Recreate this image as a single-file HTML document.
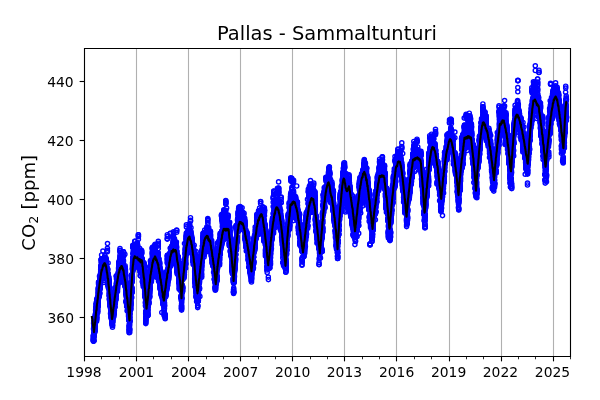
<!DOCTYPE html><html><head><meta charset="utf-8"><style>html,body{margin:0;padding:0;background:#fff}svg{display:block;will-change:transform}text{font-family:"DejaVu Sans","Liberation Sans",sans-serif;fill:#000}</style></head><body>
<svg width="600" height="400" viewBox="0 0 600 400">
<rect width="600" height="400" fill="#fff"/>
<defs><clipPath id="ax"><rect x="84" y="48" width="486" height="308"/></clipPath>
<marker id="c" markerUnits="userSpaceOnUse" markerWidth="8" markerHeight="8" refX="4" refY="4" overflow="visible"><circle cx="4" cy="4" r="2.083" fill="none" stroke="#00f" stroke-width="1.389"/></marker></defs>
<path d="M136.5 48V356" stroke="#b0b0b0" stroke-width="1.111"/>
<path d="M188.5 48V356" stroke="#b0b0b0" stroke-width="1.111"/>
<path d="M240.5 48V356" stroke="#b0b0b0" stroke-width="1.111"/>
<path d="M292.5 48V356" stroke="#b0b0b0" stroke-width="1.111"/>
<path d="M344.5 48V356" stroke="#b0b0b0" stroke-width="1.111"/>
<path d="M396.5 48V356" stroke="#b0b0b0" stroke-width="1.111"/>
<path d="M449.5 48V356" stroke="#b0b0b0" stroke-width="1.111"/>
<path d="M501.5 48V356" stroke="#b0b0b0" stroke-width="1.111"/>
<path d="M553.5 48V356" stroke="#b0b0b0" stroke-width="1.111"/>
<g clip-path="url(#ax)"><path d="M93.3 335.9 93.3 339.8 93.3 338.2 93.3 336.1 93.4 340.8 93.4 340.4 93.4 338.2 93.5 341.2 93.5 341.0 93.5 339.6 93.6 323.2 93.6 329.3 93.6 328.4 93.7 333.9 93.7 335.5 93.7 337.8 93.7 334.8 93.8 333.6 93.8 334.4 93.8 334.9 93.8 337.7 93.8 336.2 93.9 340.7 93.9 333.4 93.9 336.5 93.9 336.0 93.9 328.3 93.9 328.4 93.9 326.3 93.9 327.1 93.9 335.8 94.0 340.5 94.0 334.6 94.0 329.1 94.0 330.2 94.1 329.0 94.1 332.6 94.1 322.3 94.1 321.4 94.2 323.7 94.2 321.5 94.2 321.3 94.2 319.8 94.2 328.7 94.3 325.3 94.3 327.9 94.3 327.5 94.4 321.0 94.5 322.6 94.5 326.2 94.5 324.1 94.6 323.0 94.6 321.8 94.7 322.0 94.7 321.1 94.7 320.9 94.7 321.5 94.7 325.4 94.7 325.8 94.7 325.1 94.8 326.6 94.8 332.2 94.9 331.5 94.9 330.4 94.9 325.2 94.9 323.0 95.0 327.7 95.0 318.7 95.0 316.6 95.1 327.5 95.1 328.1 95.1 328.1 95.1 322.8 95.1 319.6 95.1 319.9 95.2 323.1 95.2 330.1 95.2 329.7 95.3 327.0 95.3 326.6 95.3 324.8 95.3 328.8 95.3 326.0 95.4 319.5 95.4 314.2 95.4 315.5 95.5 320.3 95.5 319.3 95.5 319.8 95.6 313.8 95.6 310.3 95.6 316.0 95.6 314.8 95.7 317.8 95.7 319.4 95.7 312.4 95.8 316.1 95.8 317.1 95.8 317.1 95.8 313.7 95.8 311.5 95.8 315.1 95.9 320.3 95.9 319.6 95.9 320.0 95.9 320.9 96.0 318.2 96.0 318.6 96.0 320.9 96.0 311.6 96.0 307.3 96.1 309.5 96.1 309.6 96.1 310.7 96.1 309.0 96.1 310.2 96.1 310.8 96.1 307.0 96.2 307.4 96.2 304.6 96.2 310.5 96.3 304.5 96.3 302.5 96.3 307.7 96.3 304.6 96.3 308.2 96.4 303.4 96.4 308.8 96.4 312.2 96.4 311.7 96.4 309.4 96.4 310.0 96.4 307.3 96.4 309.0 96.5 315.2 96.5 316.9 96.5 314.8 96.5 320.2 96.6 319.5 96.6 318.3 96.6 318.3 96.6 318.9 96.6 321.3 96.7 316.9 96.7 316.7 96.7 314.4 96.7 314.3 96.7 305.8 96.7 299.7 96.7 305.5 96.8 309.9 96.9 304.9 96.9 309.8 96.9 305.1 96.9 302.9 96.9 306.0 96.9 306.2 96.9 308.8 97.0 301.6 97.0 299.5 97.0 305.5 97.0 302.2 97.0 302.2 97.1 299.1 97.1 306.7 97.1 306.2 97.2 306.1 97.2 302.6 97.2 301.8 97.2 300.9 97.2 303.5 97.3 308.7 97.3 310.6 97.3 310.7 97.4 307.9 97.4 301.6 97.4 297.9 97.4 299.1 97.4 298.5 97.5 300.5 97.5 301.8 97.6 302.3 97.7 306.3 97.7 306.8 97.7 310.6 97.7 311.1 97.8 305.6 97.8 303.3 97.8 312.6 97.8 303.4 97.8 302.8 97.9 303.9 97.9 302.5 97.9 306.4 97.9 306.2 97.9 308.5 98.0 300.5 98.0 300.8 98.0 305.7 98.0 298.8 98.1 296.6 98.1 297.5 98.1 298.3 98.1 303.0 98.1 300.3 98.2 293.2 98.2 295.2 98.2 290.8 98.2 289.8 98.3 288.6 98.3 287.7 98.4 294.0 98.4 292.5 98.4 292.2 98.4 296.2 98.4 296.7 98.5 297.0 98.5 295.6 98.5 293.1 98.5 282.3 98.6 284.6 98.6 283.6 98.6 294.8 98.6 296.9 98.7 291.8 98.7 297.9 98.8 282.1 98.9 287.3 98.9 286.5 98.9 288.7 99.0 288.0 99.0 287.3 99.0 291.3 99.1 290.9 99.1 289.7 99.1 287.6 99.2 290.9 99.2 289.2 99.2 293.8 99.2 291.6 99.3 296.6 99.3 286.0 99.3 282.4 99.4 284.2 99.4 285.8 99.4 292.7 99.4 290.1 99.4 289.8 99.5 284.6 99.5 276.2 99.6 289.0 99.6 285.3 99.7 289.2 99.7 287.8 99.7 293.3 99.7 292.6 99.7 294.0 99.7 285.9 99.7 286.6 99.8 286.9 99.8 285.6 99.8 286.4 99.8 286.2 99.8 286.2 99.8 281.4 99.9 280.4 99.9 285.2 99.9 284.6 99.9 286.1 99.9 284.9 100.0 282.0 100.0 282.8 100.1 283.0 100.1 285.2 100.1 288.2 100.1 289.0 100.2 286.5 100.2 279.6 100.2 284.1 100.2 277.9 100.2 280.2 100.2 281.8 100.2 281.8 100.2 282.8 100.3 280.9 100.3 278.5 100.3 277.5 100.3 278.7 100.3 278.9 100.3 281.2 100.3 283.2 100.3 276.8 100.3 281.9 100.3 276.2 100.4 279.1 100.4 274.1 100.4 278.2 100.5 279.3 100.5 279.8 100.5 275.4 100.6 278.9 100.6 276.8 100.6 273.9 100.7 270.9 100.7 272.1 100.7 269.5 100.7 271.7 100.8 272.1 100.8 271.0 100.8 267.6 100.8 273.3 100.8 273.9 100.8 272.4 100.8 274.1 100.8 279.2 100.9 274.1 100.9 274.8 100.9 273.4 101.0 273.3 101.0 270.7 101.0 272.8 101.0 266.3 101.0 259.8 101.1 265.8 101.1 269.7 101.1 267.5 101.2 265.2 101.2 265.7 101.2 267.5 101.2 269.9 101.2 271.3 101.3 262.6 101.3 262.3 101.3 270.7 101.3 270.5 101.3 272.6 101.4 270.4 101.4 265.8 101.4 269.5 101.4 267.6 101.4 266.3 101.4 268.9 101.5 266.2 101.5 260.2 101.5 259.4 101.5 259.7 101.5 259.4 101.6 255.0 101.6 260.7 101.6 258.9 101.7 271.4 101.7 272.7 101.7 274.6 101.7 266.8 101.7 272.1 101.7 274.5 101.8 262.9 101.9 262.4 101.9 270.9 101.9 265.5 101.9 270.7 101.9 276.1 102.0 277.9 102.0 275.3 102.0 276.8 102.0 273.7 102.0 274.7 102.1 274.4 102.1 275.8 102.1 271.7 102.2 272.7 102.2 273.6 102.2 277.1 102.3 273.0 102.3 274.0 102.3 274.6 102.3 274.5 102.4 276.3 102.4 278.8 102.4 275.8 102.4 279.3 102.4 275.0 102.4 273.3 102.4 272.6 102.4 273.6 102.4 274.3 102.5 273.9 102.5 268.5 102.5 272.9 102.5 272.1 102.5 270.9 102.5 270.6 102.6 267.5 102.6 264.6 102.6 265.7 102.6 272.7 102.7 271.7 102.7 273.7 102.7 274.0 102.7 273.9 102.7 275.5 102.7 278.0 102.8 270.2 102.8 271.1 102.8 274.0 102.8 270.6 102.8 271.8 102.9 272.7 102.9 260.1 102.9 261.2 102.9 262.1 102.9 251.1 103.0 258.5 103.1 262.8 103.1 263.8 103.2 264.4 103.2 269.0 103.2 270.2 103.2 268.0 103.3 265.6 103.3 264.6 103.4 266.5 103.5 258.7 103.6 275.4 103.6 270.3 103.7 282.4 103.7 280.6 103.8 269.6 103.8 268.7 103.8 271.3 103.8 269.3 103.8 267.8 103.8 269.1 103.9 267.5 103.9 268.4 103.9 273.1 104.0 271.6 104.0 269.3 104.0 272.1 104.0 271.1 104.0 267.1 104.0 264.2 104.0 264.8 104.1 263.4 104.1 265.0 104.1 264.7 104.1 263.8 104.2 263.9 104.2 264.4 104.2 260.7 104.2 260.4 104.3 257.5 104.3 259.1 104.3 262.4 104.4 264.8 104.4 263.8 104.4 261.2 104.4 263.9 104.4 264.8 104.4 262.9 104.4 264.6 104.4 260.2 104.4 262.5 104.4 259.8 104.5 264.9 104.5 269.1 104.5 259.0 104.5 260.2 104.5 262.9 104.6 267.3 104.6 264.9 104.6 266.0 104.6 267.0 104.6 266.9 104.6 265.2 104.6 263.7 104.6 264.2 104.7 263.4 104.7 264.9 104.7 266.6 104.7 265.4 104.7 269.0 104.8 265.6 104.8 255.5 104.8 257.1 104.8 259.7 104.8 258.8 104.9 257.4 104.9 260.5 104.9 260.2 104.9 260.9 104.9 264.0 104.9 259.6 105.0 269.5 105.0 267.4 105.0 266.4 105.1 269.3 105.1 263.8 105.1 260.3 105.2 266.4 105.2 271.5 105.2 268.6 105.3 267.7 105.3 269.2 105.3 267.3 105.3 269.2 105.3 262.0 105.3 262.1 105.4 259.8 105.4 264.2 105.5 258.6 105.5 262.7 105.5 265.0 105.5 264.3 105.5 266.6 105.5 262.7 105.6 264.2 105.6 265.2 105.6 272.0 105.6 272.2 105.6 263.4 105.7 262.5 105.7 261.1 105.7 263.3 105.7 262.4 105.7 259.2 105.8 258.1 105.8 260.0 105.8 262.6 105.8 258.8 105.8 262.4 105.8 258.0 105.9 259.5 105.9 262.8 105.9 263.9 105.9 262.6 105.9 265.3 105.9 261.2 105.9 265.2 105.9 264.0 105.9 264.6 106.0 267.3 106.0 263.5 106.0 264.9 106.0 265.0 106.1 262.0 106.1 259.9 106.1 261.3 106.1 261.5 106.1 261.4 106.2 263.7 106.2 262.5 106.2 265.5 106.2 265.5 106.2 266.6 106.3 267.5 106.3 268.4 106.3 271.7 106.3 270.8 106.3 262.8 106.4 263.7 106.5 268.3 106.5 266.3 106.5 272.7 106.6 273.2 106.6 274.7 106.6 271.9 106.6 269.7 106.6 268.8 106.6 267.0 106.6 270.2 106.6 270.4 106.7 269.8 106.7 270.4 106.7 270.6 106.7 272.5 106.7 272.0 106.7 273.6 106.8 267.7 106.8 271.6 106.8 270.3 106.8 272.5 106.8 275.8 106.9 277.8 106.9 278.7 106.9 275.9 107.0 272.7 107.0 275.0 107.0 274.9 107.0 273.8 107.0 277.3 107.0 274.6 107.1 276.5 107.1 273.5 107.1 270.5 107.1 267.9 107.2 270.7 107.2 269.1 107.2 274.2 107.2 273.8 107.3 275.5 107.3 275.5 107.3 275.0 107.4 251.7 107.4 248.3 107.4 250.3 107.5 243.6 107.6 273.2 107.6 276.5 107.6 279.3 107.7 281.6 107.7 282.3 107.8 284.8 107.8 281.3 107.8 278.9 107.8 279.1 107.9 281.9 107.9 281.4 107.9 274.5 107.9 277.1 107.9 278.3 107.9 273.8 107.9 279.4 107.9 276.5 108.0 273.1 108.0 269.5 108.1 263.0 108.2 277.4 108.2 278.8 108.2 285.0 108.3 278.1 108.3 276.5 108.3 274.4 108.4 277.7 108.4 282.2 108.4 280.7 108.4 283.2 108.4 285.0 108.5 284.3 108.5 286.1 108.5 287.9 108.5 286.1 108.5 287.6 108.5 285.8 108.5 285.8 108.6 285.9 108.6 286.8 108.6 287.6 108.6 287.1 108.6 287.7 108.7 285.2 108.7 287.7 108.7 283.4 108.7 284.5 108.7 280.8 108.8 286.7 108.8 286.0 108.9 287.3 108.9 286.5 108.9 287.5 109.0 285.0 109.0 284.3 109.0 277.3 109.1 281.0 109.1 283.9 109.1 281.4 109.1 282.1 109.1 282.1 109.1 282.7 109.1 292.7 109.2 288.7 109.2 286.3 109.2 290.1 109.2 296.1 109.3 287.8 109.3 284.9 109.3 279.8 109.3 282.1 109.4 289.9 109.4 294.6 109.4 295.8 109.5 298.8 109.5 299.6 109.5 293.5 109.5 295.0 109.5 299.2 109.6 298.4 109.6 300.7 109.6 295.9 109.6 290.3 109.7 291.3 109.8 296.7 109.8 297.4 109.8 299.8 109.8 298.5 109.8 301.1 109.9 298.0 109.9 299.4 109.9 302.7 110.0 301.5 110.0 302.7 110.0 300.7 110.0 303.7 110.0 306.1 110.0 305.4 110.1 298.7 110.1 299.1 110.1 296.6 110.1 294.5 110.2 293.5 110.2 293.8 110.2 291.5 110.3 298.0 110.3 294.6 110.3 294.9 110.3 296.2 110.3 293.6 110.3 292.9 110.3 296.9 110.3 298.3 110.3 300.4 110.3 298.2 110.4 299.0 110.5 306.1 110.5 308.2 110.5 313.6 110.6 306.3 110.6 307.9 110.6 306.8 110.7 307.8 110.7 303.7 110.7 304.5 110.7 306.2 110.7 307.1 110.7 306.0 110.7 311.0 110.8 307.0 110.9 312.0 110.9 310.6 110.9 308.0 110.9 307.5 111.0 305.9 111.0 305.0 111.0 307.8 111.1 303.9 111.1 305.2 111.1 309.6 111.1 312.2 111.1 313.7 111.1 310.2 111.1 314.4 111.2 316.2 111.2 310.8 111.2 317.8 111.3 317.2 111.3 317.1 111.3 315.2 111.3 317.0 111.3 314.1 111.3 312.6 111.3 310.2 111.3 309.5 111.3 311.9 111.4 309.7 111.4 310.8 111.4 309.3 111.4 306.6 111.4 304.7 111.4 303.9 111.4 306.6 111.4 304.8 111.5 309.3 111.5 306.2 111.5 310.1 111.5 306.7 111.5 311.3 111.5 312.2 111.5 313.1 111.5 318.8 111.5 318.3 111.6 319.5 111.6 305.8 111.6 301.5 111.6 306.2 111.6 309.7 111.7 302.2 111.7 308.8 111.8 309.6 111.8 315.4 111.8 312.9 111.8 313.2 111.8 321.3 111.9 321.1 111.9 322.7 111.9 319.4 112.0 324.4 112.0 316.5 112.1 316.2 112.1 312.7 112.1 316.5 112.1 317.3 112.1 319.5 112.1 322.5 112.2 320.1 112.2 321.4 112.3 322.4 112.3 320.3 112.3 319.8 112.3 322.9 112.4 320.6 112.4 324.1 112.5 321.7 112.5 325.4 112.5 327.3 112.5 325.0 112.5 325.5 112.6 320.5 112.6 322.1 112.6 322.3 112.6 318.1 112.6 317.7 112.6 322.3 112.7 319.5 112.7 318.2 112.7 319.2 112.8 320.1 112.8 314.2 112.8 313.4 112.9 314.2 112.9 307.1 113.0 311.2 113.0 313.1 113.0 313.1 113.0 310.8 113.0 309.3 113.2 309.3 113.2 311.5 113.2 308.8 113.2 306.3 113.3 306.4 113.3 306.1 113.3 305.2 113.3 306.3 113.4 313.0 113.4 312.9 113.4 311.8 113.5 303.2 113.5 306.8 113.5 307.2 113.5 302.3 113.5 309.6 113.6 308.5 113.7 312.9 113.7 311.9 113.7 312.2 113.7 307.6 113.7 305.7 113.7 312.2 113.7 311.4 113.8 315.8 113.8 314.1 113.8 316.8 113.8 313.8 113.8 313.6 113.9 311.9 113.9 306.7 113.9 306.9 113.9 304.5 113.9 308.9 113.9 308.0 114.0 306.3 114.0 309.0 114.0 311.9 114.1 314.1 114.1 308.4 114.1 308.8 114.1 307.3 114.1 308.6 114.1 308.5 114.1 308.2 114.1 306.8 114.2 309.9 114.2 308.0 114.2 308.7 114.3 301.8 114.3 308.1 114.3 303.3 114.3 303.5 114.3 307.5 114.3 306.3 114.3 305.2 114.4 305.1 114.4 301.3 114.4 303.4 114.4 310.4 114.4 306.4 114.5 301.0 114.5 302.8 114.5 303.8 114.6 300.5 114.6 300.3 114.6 300.3 114.7 300.2 114.7 301.6 114.8 295.3 114.8 297.7 114.8 301.4 114.8 287.9 114.9 291.0 114.9 292.9 114.9 298.5 115.0 302.2 115.0 306.7 115.0 307.0 115.1 298.1 115.1 294.4 115.1 295.4 115.2 299.3 115.2 296.6 115.2 298.7 115.2 302.1 115.2 303.2 115.3 303.1 115.3 303.5 115.4 297.9 115.4 300.1 115.5 301.5 115.5 295.1 115.5 296.9 115.6 296.1 115.6 299.4 115.6 295.0 115.6 298.5 115.7 298.5 115.7 299.6 115.7 291.7 115.7 296.2 115.8 293.4 115.8 288.4 115.8 289.5 115.8 290.9 115.8 293.0 115.9 289.6 115.9 291.7 115.9 299.6 115.9 297.4 116.0 294.3 116.1 295.4 116.1 292.7 116.1 295.4 116.1 291.5 116.1 292.2 116.2 293.9 116.2 295.1 116.2 292.5 116.2 291.4 116.3 289.2 116.3 284.5 116.4 276.0 116.4 276.5 116.4 278.8 116.4 275.9 116.4 282.7 116.5 283.7 116.5 285.6 116.6 288.7 116.6 286.6 116.6 289.7 116.6 287.8 116.7 286.9 116.7 290.2 116.7 289.4 116.7 286.6 116.7 285.4 116.8 284.2 116.8 284.0 116.8 283.7 116.9 279.0 116.9 286.6 116.9 285.9 116.9 284.2 116.9 284.5 117.0 285.7 117.0 286.1 117.0 285.9 117.0 287.5 117.0 288.3 117.0 285.0 117.0 286.5 117.1 285.0 117.1 285.9 117.1 285.5 117.2 284.0 117.3 280.8 117.3 282.7 117.3 289.3 117.3 286.9 117.4 286.9 117.4 290.3 117.4 287.7 117.4 286.4 117.5 288.9 117.5 291.5 117.5 288.5 117.5 285.2 117.5 285.9 117.6 283.3 117.6 281.5 117.6 286.7 117.6 282.9 117.6 284.5 117.6 282.9 117.6 281.8 117.6 283.8 117.7 282.5 117.7 283.5 117.8 284.5 117.8 283.5 117.8 280.9 117.8 282.7 118.0 281.7 118.1 277.4 118.1 277.3 118.1 276.7 118.1 280.7 118.2 273.0 118.3 277.6 118.3 277.2 118.3 277.5 118.4 272.5 118.4 275.6 118.5 275.9 118.5 276.3 118.5 278.5 118.5 278.8 118.5 272.9 118.5 275.7 118.6 272.4 118.6 275.1 118.6 268.7 118.6 273.0 118.6 270.2 118.6 267.8 118.7 277.2 118.7 275.0 118.7 278.1 118.7 275.3 118.8 266.5 118.8 264.5 118.8 263.8 118.8 262.7 118.8 262.1 118.9 262.7 118.9 263.6 118.9 273.0 118.9 273.7 118.9 274.7 118.9 274.2 119.0 273.2 119.0 271.3 119.0 269.7 119.0 274.2 119.0 269.2 119.0 271.0 119.0 279.1 119.1 282.0 119.1 277.4 119.1 275.3 119.1 276.2 119.3 272.7 119.3 275.7 119.3 271.6 119.3 275.0 119.3 270.3 119.3 274.3 119.4 275.3 119.4 272.5 119.4 264.2 119.4 267.8 119.4 265.5 119.5 262.3 119.5 267.7 119.5 260.2 119.5 264.0 119.6 265.8 119.6 268.4 119.6 272.4 119.7 273.5 119.7 273.7 119.7 270.6 119.7 263.6 119.7 265.0 119.8 263.1 119.8 264.6 119.8 261.8 119.8 266.6 119.9 252.0 119.9 255.5 119.9 258.1 120.0 250.4 120.0 250.5 120.0 248.5 120.1 260.2 120.1 264.7 120.1 264.0 120.2 257.1 120.2 266.8 120.2 262.7 120.2 264.9 120.3 265.5 120.3 267.3 120.3 262.5 120.4 264.1 120.4 263.4 120.4 266.7 120.4 264.0 120.4 258.1 120.4 261.9 120.4 258.5 120.4 266.2 120.4 266.0 120.5 270.2 120.5 270.9 120.6 270.7 120.6 271.7 120.6 274.5 120.6 269.4 120.6 272.6 120.7 259.5 120.7 260.2 120.7 263.2 120.8 262.8 120.8 274.4 120.8 272.1 120.8 272.6 120.8 272.3 120.8 270.6 120.9 268.1 120.9 268.2 120.9 269.1 120.9 270.1 120.9 273.2 121.0 270.1 121.0 267.6 121.0 271.0 121.0 265.1 121.1 277.2 121.1 273.1 121.1 273.7 121.1 275.0 121.1 272.5 121.1 273.7 121.1 270.7 121.2 270.4 121.2 268.9 121.2 266.9 121.2 269.1 121.2 260.4 121.3 259.8 121.3 257.8 121.3 259.2 121.3 258.4 121.3 258.3 121.4 260.5 121.5 260.5 121.5 266.3 121.5 263.1 121.5 265.5 121.5 261.4 121.5 262.3 121.5 262.7 121.6 259.9 121.6 260.9 121.7 252.5 121.7 253.9 121.7 254.0 121.7 254.2 121.7 262.1 121.8 262.9 121.8 263.0 121.8 259.8 121.8 255.2 121.8 256.2 121.9 256.6 121.9 258.2 121.9 257.1 122.0 263.6 122.0 264.9 122.0 266.7 122.1 265.1 122.1 266.4 122.1 264.8 122.1 263.9 122.1 263.0 122.2 260.9 122.2 260.4 122.2 267.8 122.2 267.6 122.2 269.0 122.2 267.4 122.2 270.5 122.2 270.3 122.2 268.4 122.3 272.7 122.3 266.4 122.3 269.8 122.3 271.5 122.4 271.2 122.5 269.6 122.5 266.4 122.5 265.9 122.6 266.2 122.6 268.7 122.7 263.4 122.7 263.6 122.7 264.8 122.7 266.4 122.7 266.5 122.8 264.6 122.8 268.0 122.8 263.1 122.8 264.4 122.9 270.3 122.9 271.9 123.0 259.5 123.0 262.2 123.1 271.4 123.1 271.6 123.2 271.0 123.2 266.8 123.2 268.3 123.3 270.4 123.3 269.6 123.3 269.8 123.3 271.9 123.3 266.6 123.3 266.6 123.3 272.4 123.3 267.9 123.4 262.1 123.4 251.8 123.4 251.7 123.5 252.1 123.5 260.6 123.6 256.1 123.6 256.0 123.7 271.4 123.7 274.8 123.7 270.5 123.7 273.3 123.7 272.0 123.7 271.9 123.7 272.0 123.7 270.3 123.8 267.2 123.8 267.3 123.8 270.9 123.8 268.6 123.8 271.6 123.8 275.3 123.9 278.0 123.9 279.7 123.9 276.4 123.9 282.6 123.9 282.9 123.9 283.0 124.0 279.2 124.0 278.9 124.0 276.9 124.0 280.6 124.0 280.0 124.0 279.5 124.0 277.9 124.1 277.8 124.1 279.1 124.1 269.9 124.2 271.7 124.2 273.6 124.2 273.7 124.2 274.5 124.2 269.5 124.2 272.2 124.3 269.2 124.3 279.2 124.3 277.3 124.3 278.8 124.3 277.5 124.3 277.3 124.3 276.0 124.4 280.4 124.4 283.6 124.4 282.5 124.4 273.5 124.4 276.2 124.5 279.3 124.5 277.9 124.5 278.1 124.5 281.5 124.6 282.2 124.6 283.1 124.6 282.1 124.6 283.3 124.6 277.0 124.6 283.4 124.7 279.5 124.7 276.0 124.7 282.4 124.7 285.0 124.7 284.3 124.7 283.2 124.7 283.9 124.8 286.0 124.8 285.7 124.9 254.2 125.0 275.2 125.0 274.7 125.0 267.5 125.1 269.8 125.1 267.8 125.1 270.5 125.1 265.7 125.1 273.9 125.1 275.5 125.2 278.7 125.2 278.4 125.2 273.3 125.2 274.9 125.2 273.3 125.3 274.5 125.3 275.9 125.3 273.5 125.3 273.3 125.3 275.4 125.3 277.3 125.3 281.7 125.4 271.9 125.5 270.0 125.5 272.6 125.5 275.2 125.6 288.3 125.6 281.3 125.6 286.3 125.6 282.4 125.7 283.5 125.7 286.2 125.7 282.6 125.7 281.9 125.7 279.6 125.7 287.1 125.7 284.9 125.7 284.6 125.7 280.9 125.7 283.8 125.8 282.3 125.8 277.9 125.8 284.3 125.8 284.7 125.9 291.7 125.9 291.6 125.9 286.5 125.9 288.8 125.9 290.2 125.9 289.2 126.0 292.7 126.0 290.5 126.0 293.0 126.0 291.0 126.1 293.7 126.1 296.4 126.2 302.1 126.2 301.5 126.2 300.3 126.2 301.8 126.2 293.4 126.2 292.9 126.2 295.2 126.2 292.3 126.3 294.6 126.3 288.8 126.3 288.8 126.3 283.6 126.4 283.7 126.4 283.9 126.4 294.8 126.4 293.4 126.5 302.4 126.5 302.1 126.5 303.4 126.5 301.4 126.6 301.1 126.7 301.4 126.7 306.3 126.7 305.1 126.7 298.2 126.7 300.6 126.7 299.6 126.7 302.0 126.7 298.9 126.8 305.6 126.8 306.3 126.8 304.8 126.9 302.4 126.9 298.9 126.9 301.6 126.9 303.7 126.9 302.8 127.0 301.0 127.0 301.0 127.0 303.6 127.0 303.0 127.0 299.3 127.0 298.7 127.0 304.4 127.0 302.0 127.1 310.8 127.1 306.6 127.2 296.3 127.2 296.3 127.2 290.2 127.3 288.1 127.3 285.8 127.4 285.6 127.4 287.8 127.4 286.7 127.4 285.3 127.4 295.4 127.4 286.3 127.4 293.4 127.4 291.9 127.4 289.3 127.5 292.0 127.5 297.7 127.6 297.4 127.7 304.1 127.7 301.4 127.7 303.2 127.7 305.9 127.8 309.6 127.8 310.5 127.8 310.3 127.8 306.0 127.8 309.3 127.9 295.4 127.9 291.7 127.9 300.0 127.9 301.5 127.9 301.0 127.9 301.5 128.0 302.3 128.0 305.1 128.0 301.5 128.0 304.1 128.1 302.7 128.1 300.5 128.1 301.4 128.1 308.6 128.1 307.2 128.2 307.5 128.2 305.6 128.2 303.4 128.2 306.8 128.2 301.5 128.2 305.7 128.3 300.5 128.3 305.0 128.3 304.3 128.3 305.8 128.4 302.3 128.4 301.3 128.4 302.6 128.4 307.7 128.4 302.9 128.4 303.5 128.4 305.1 128.4 308.0 128.4 304.7 128.5 307.3 128.5 313.7 128.5 301.7 128.6 315.4 128.6 316.3 128.7 317.2 128.7 320.0 128.7 316.8 128.7 316.0 128.8 311.1 128.9 313.1 128.9 313.6 128.9 316.8 128.9 313.8 128.9 313.9 128.9 314.2 128.9 316.5 129.0 319.6 129.0 320.1 129.0 320.2 129.2 329.8 129.2 326.4 129.2 328.6 129.2 329.8 129.2 326.8 129.2 332.2 129.2 330.7 129.2 332.7 129.4 326.1 129.4 323.7 129.4 325.1 129.4 313.3 129.4 315.0 129.4 313.7 129.5 312.8 129.6 323.6 129.6 327.9 129.6 325.2 129.7 330.1 129.7 320.6 129.8 320.7 129.8 329.6 129.8 332.2 129.9 321.2 129.9 321.8 129.9 320.2 129.9 317.4 129.9 317.6 130.0 313.6 130.0 310.7 130.0 314.6 130.1 303.9 130.1 309.3 130.1 308.3 130.1 304.6 130.1 305.5 130.2 301.3 130.2 300.8 130.3 307.0 130.3 308.3 130.3 303.6 130.4 308.3 130.4 307.8 130.4 305.2 130.4 303.4 130.5 306.3 130.5 302.7 130.5 302.2 130.5 310.3 130.5 306.6 130.5 309.7 130.5 309.7 130.5 307.4 130.6 296.8 130.6 298.7 130.6 298.6 130.7 304.0 130.7 309.1 130.8 305.4 130.8 305.0 130.8 308.0 130.8 301.6 130.8 303.1 130.8 304.5 130.8 303.7 130.9 294.3 130.9 292.4 130.9 295.9 131.0 296.2 131.0 301.9 131.0 293.0 131.0 297.3 131.0 299.8 131.2 290.9 131.2 287.1 131.2 276.0 131.2 275.1 131.2 285.7 131.3 281.8 131.3 282.6 131.3 284.6 131.3 284.7 131.3 287.4 131.3 285.1 131.3 289.7 131.3 290.9 131.3 290.5 131.4 290.9 131.4 288.1 131.4 292.6 131.4 291.0 131.4 290.4 131.5 290.3 131.5 292.4 131.5 287.9 131.5 291.8 131.5 288.1 131.5 286.7 131.6 292.3 131.6 290.6 131.6 289.3 131.6 288.2 131.6 291.5 131.6 293.4 131.6 291.9 131.7 288.5 131.7 288.2 131.7 290.7 131.7 292.3 131.7 289.7 131.8 297.6 131.8 291.9 131.8 292.6 131.9 287.9 131.9 292.3 132.0 281.5 132.1 281.7 132.1 282.0 132.1 276.7 132.2 279.5 132.2 276.9 132.3 276.7 132.3 276.3 132.3 278.2 132.3 275.1 132.3 278.6 132.3 277.5 132.4 277.2 132.4 279.1 132.5 267.9 132.5 269.0 132.5 269.1 132.5 263.6 132.5 266.5 132.6 268.5 132.6 270.1 132.6 265.1 132.6 265.5 132.6 262.2 132.7 267.1 132.7 269.7 132.7 271.7 132.7 247.3 132.8 246.8 132.8 246.0 132.8 246.8 132.8 245.3 132.8 258.3 132.8 259.4 132.8 253.7 132.8 257.6 132.8 261.2 132.9 265.6 132.9 262.9 132.9 262.3 132.9 264.9 132.9 262.5 132.9 264.9 133.0 261.4 133.0 260.0 133.0 262.9 133.1 261.2 133.1 259.6 133.1 264.9 133.1 269.4 133.1 269.9 133.1 265.7 133.1 268.6 133.2 265.4 133.2 264.7 133.2 265.0 133.2 261.6 133.2 264.8 133.3 259.3 133.3 260.1 133.3 258.4 133.3 259.9 133.3 257.2 133.4 257.8 133.4 256.8 133.5 258.6 133.5 255.2 133.5 257.9 133.5 247.6 133.5 249.2 133.6 250.7 133.6 252.0 133.6 251.9 133.6 251.0 133.6 251.6 133.6 250.7 133.6 249.2 133.6 248.8 133.6 251.3 133.6 252.7 133.7 252.9 133.7 250.3 133.7 254.4 133.7 253.5 133.7 253.7 133.8 255.3 133.8 252.1 133.8 258.3 133.8 260.7 133.8 253.6 133.9 254.8 133.9 253.0 133.9 256.2 133.9 254.5 133.9 257.9 134.0 255.4 134.0 256.2 134.0 253.2 134.0 255.6 134.0 255.4 134.1 257.6 134.1 256.1 134.1 259.3 134.1 259.8 134.2 261.2 134.2 264.9 134.2 263.5 134.2 262.2 134.2 261.3 134.2 257.8 134.2 255.6 134.2 261.0 134.3 263.7 134.3 254.3 134.3 255.0 134.3 258.0 134.4 260.1 134.4 259.1 134.4 259.9 134.4 260.6 134.4 260.0 134.4 259.7 134.4 258.6 134.5 260.4 134.5 258.9 134.5 260.5 134.5 259.3 134.6 256.7 134.6 255.6 134.6 256.4 134.6 253.5 134.6 254.9 134.6 255.3 134.6 255.9 134.6 255.0 134.7 244.5 134.7 241.4 134.7 244.7 134.8 250.0 134.8 246.9 134.8 250.0 134.9 253.3 134.9 252.6 135.0 247.7 135.1 251.8 135.1 252.0 135.1 253.0 135.1 241.3 135.2 247.6 135.2 246.7 135.2 247.5 135.2 251.8 135.3 250.2 135.3 252.2 135.3 255.7 135.3 253.7 135.4 256.6 135.4 250.2 135.4 252.8 135.4 252.4 135.4 256.7 135.4 249.0 135.4 254.8 135.4 256.4 135.5 264.4 135.6 250.7 135.6 253.3 135.6 256.0 135.7 252.0 135.7 257.3 135.7 255.7 135.7 260.6 135.9 260.5 135.9 258.9 135.9 254.8 136.0 259.6 136.0 254.2 136.0 251.5 136.0 253.5 136.0 253.5 136.1 256.5 136.1 258.3 136.2 261.5 136.2 259.1 136.2 259.4 136.2 259.8 136.2 258.0 136.3 256.8 136.3 266.5 136.3 262.2 136.3 262.1 136.3 261.8 136.4 259.0 136.4 259.1 136.4 254.0 136.4 255.8 136.4 252.0 136.5 254.4 136.5 255.2 136.5 255.3 136.6 253.9 136.6 259.5 136.6 259.6 136.6 259.2 136.7 247.1 136.7 250.2 136.7 243.5 136.7 252.5 136.8 257.1 136.9 258.6 136.9 262.8 136.9 259.5 137.0 264.2 137.0 261.6 137.0 263.0 137.0 259.4 137.0 263.4 137.0 265.7 137.0 257.8 137.0 257.1 137.1 257.8 137.1 254.3 137.1 259.0 137.2 251.7 137.3 250.8 137.3 244.8 137.3 244.3 137.3 242.6 137.3 250.7 137.3 249.8 137.4 249.9 137.4 251.2 137.4 252.1 137.4 252.0 137.4 253.4 137.4 253.9 137.5 250.1 137.5 246.0 137.5 246.4 137.5 245.4 137.5 244.3 137.6 261.0 137.7 256.4 137.7 253.7 137.7 255.1 137.8 253.9 137.8 257.3 137.8 255.1 137.8 255.2 137.9 253.2 138.1 264.5 138.1 262.8 138.1 260.6 138.1 260.5 138.1 265.0 138.1 263.9 138.2 257.7 138.2 258.6 138.2 258.2 138.2 256.9 138.3 260.3 138.3 261.9 138.3 263.6 138.3 262.3 138.4 264.3 138.4 239.3 138.4 236.8 138.4 234.9 138.4 236.3 138.4 234.7 138.5 268.1 138.5 261.9 138.5 263.7 138.5 265.5 138.5 261.8 138.6 261.8 138.6 256.4 138.7 256.5 138.7 255.9 138.7 255.1 138.8 255.5 138.8 252.2 138.8 255.6 138.8 257.1 138.9 256.6 138.9 253.3 138.9 252.1 138.9 254.9 138.9 252.7 138.9 257.1 139.0 261.4 139.0 257.7 139.0 256.1 139.0 258.3 139.1 258.5 139.1 253.6 139.2 254.8 139.2 259.2 139.2 255.5 139.2 258.6 139.3 258.3 139.3 259.1 139.3 258.9 139.3 257.5 139.3 254.5 139.3 254.6 139.4 255.0 139.4 254.6 139.4 255.1 139.4 260.9 139.5 252.2 139.5 254.6 139.6 252.2 139.6 254.7 139.6 248.4 139.6 250.2 139.7 250.4 139.7 251.9 139.8 260.5 139.8 254.2 139.8 257.2 139.8 260.8 139.8 258.8 139.8 253.0 139.9 255.0 139.9 256.1 139.9 258.4 139.9 259.7 139.9 258.3 140.0 258.1 140.0 265.4 140.0 268.9 140.1 275.6 140.2 268.9 140.2 269.0 140.2 267.2 140.2 268.2 140.2 268.7 140.2 267.6 140.2 269.0 140.2 271.6 140.2 269.8 140.3 268.5 140.3 268.1 140.3 266.2 140.3 267.3 140.3 266.4 140.3 266.2 140.3 264.1 140.3 265.4 140.4 272.1 140.4 272.5 140.4 271.3 140.4 269.7 140.5 266.3 140.5 271.9 140.6 276.1 140.6 265.3 140.6 266.7 140.6 265.7 140.6 268.1 140.7 264.7 140.7 266.1 140.7 267.3 140.7 267.9 140.8 271.1 140.8 268.4 140.8 264.9 140.9 267.0 140.9 265.4 140.9 262.6 140.9 264.4 140.9 260.9 141.0 260.6 141.0 253.6 141.1 255.2 141.1 254.7 141.1 255.4 141.1 257.6 141.1 256.7 141.1 258.8 141.1 260.1 141.2 261.9 141.2 259.6 141.3 258.8 141.3 256.5 141.3 256.2 141.3 256.4 141.3 260.4 141.3 259.1 141.4 251.9 141.4 263.6 141.4 265.0 141.5 266.1 141.5 263.5 141.5 263.0 141.5 253.9 141.5 250.2 141.5 253.7 141.5 252.0 141.5 253.2 141.5 253.3 141.5 253.4 141.6 260.7 141.6 266.1 141.6 262.8 141.7 260.4 141.7 269.7 141.8 263.8 141.8 268.0 141.8 268.1 141.8 251.2 141.9 258.3 141.9 259.1 142.0 261.5 142.0 262.5 142.0 260.5 142.0 259.1 142.0 258.7 142.1 261.4 142.1 265.0 142.1 268.0 142.2 262.2 142.2 260.5 142.3 262.4 142.3 263.4 142.3 265.7 142.3 267.4 142.3 271.5 142.3 268.5 142.4 272.1 142.4 274.5 142.4 275.4 142.4 272.3 142.4 274.4 142.4 281.8 142.5 278.2 142.5 281.5 142.5 272.6 142.6 271.7 142.6 272.5 142.6 268.9 142.7 262.0 142.7 266.6 142.8 263.3 142.8 262.1 142.9 264.9 142.9 264.4 142.9 264.1 143.0 269.0 143.0 279.3 143.0 278.5 143.0 276.4 143.0 278.4 143.1 268.8 143.1 269.4 143.1 272.2 143.1 272.4 143.1 272.6 143.2 282.8 143.2 284.1 143.2 286.4 143.2 284.4 143.3 277.7 143.3 280.8 143.3 281.7 143.3 277.1 143.3 277.7 143.4 270.6 143.4 270.5 143.4 277.3 143.4 276.4 143.4 275.4 143.4 276.4 143.5 270.1 143.5 267.8 143.5 271.0 143.5 270.0 143.5 279.1 143.6 280.7 143.6 276.9 143.6 276.3 143.6 278.9 143.6 282.0 143.6 281.9 143.7 279.4 143.7 280.9 143.7 279.7 143.8 279.8 143.8 278.2 143.8 286.0 143.8 285.0 143.8 284.2 143.8 279.8 143.8 282.1 143.8 280.0 143.9 282.2 143.9 274.1 144.0 278.8 144.0 271.1 144.0 270.5 144.0 271.1 144.0 262.9 144.0 264.9 144.0 265.0 144.1 268.4 144.1 273.3 144.1 275.6 144.1 276.3 144.1 273.7 144.2 275.1 144.2 263.8 144.2 267.3 144.2 266.6 144.2 269.5 144.3 273.7 144.3 271.4 144.3 275.2 144.3 274.9 144.4 277.3 144.4 284.2 144.4 281.0 144.4 285.0 144.5 284.6 144.5 283.2 144.5 283.6 144.5 281.4 144.5 281.3 144.5 286.8 144.6 289.5 144.6 285.5 144.6 287.9 144.7 293.2 144.7 290.1 144.7 291.3 144.7 294.6 144.8 296.2 144.8 294.2 144.8 296.7 144.8 292.9 144.9 288.0 144.9 287.9 144.9 284.3 145.0 285.8 145.0 282.3 145.0 286.2 145.0 284.9 145.0 285.6 145.0 289.3 145.0 286.7 145.1 289.0 145.2 289.8 145.2 290.0 145.2 294.8 145.2 295.8 145.3 288.8 145.3 287.8 145.3 287.7 145.3 287.3 145.3 290.4 145.4 292.2 145.4 295.2 145.5 301.7 145.5 298.8 145.5 303.3 145.5 305.8 145.6 305.8 145.6 303.2 145.6 302.3 145.6 295.9 145.6 298.3 145.6 295.3 145.7 313.7 145.7 312.9 145.8 311.9 145.8 323.6 145.8 322.7 145.8 321.4 145.8 313.3 145.8 313.1 145.8 317.2 145.9 320.0 145.9 316.9 145.9 318.4 145.9 320.2 145.9 317.0 146.0 299.4 146.0 312.1 146.0 311.2 146.1 298.8 146.1 301.7 146.2 301.5 146.2 305.2 146.2 302.9 146.2 303.6 146.2 304.7 146.3 292.2 146.4 292.6 146.4 292.3 146.4 296.7 146.4 297.8 146.4 297.3 146.4 295.6 146.5 293.9 146.5 309.8 146.5 311.2 146.5 312.3 146.6 309.1 146.6 308.4 146.6 312.8 146.6 307.8 146.6 308.8 146.6 314.9 146.6 313.6 146.7 312.6 146.7 311.8 146.7 312.4 146.7 309.0 146.7 310.3 146.8 305.4 146.8 310.9 146.9 305.1 146.9 303.7 146.9 305.2 146.9 305.1 146.9 306.7 146.9 307.3 147.0 306.1 147.0 306.3 147.0 301.1 147.0 305.0 147.0 302.1 147.1 303.9 147.1 304.2 147.1 302.4 147.2 313.6 147.2 315.1 147.3 310.3 147.3 309.1 147.3 313.1 147.3 308.5 147.3 307.2 147.3 309.7 147.3 312.2 147.4 313.5 147.4 311.0 147.4 311.9 147.4 310.6 147.4 313.2 147.4 311.9 147.5 305.4 147.5 302.3 147.5 304.4 147.6 306.1 147.6 303.5 147.7 309.1 147.7 315.7 147.8 315.0 147.8 310.1 147.8 313.4 147.8 313.0 147.8 311.5 147.8 315.5 147.9 306.4 147.9 305.9 147.9 303.7 147.9 302.4 147.9 304.9 147.9 304.2 148.0 306.1 148.0 309.5 148.0 314.9 148.1 301.9 148.1 296.9 148.1 302.9 148.1 298.7 148.2 306.1 148.2 305.2 148.3 306.5 148.3 303.0 148.4 299.5 148.4 304.0 148.4 293.2 148.5 287.7 148.5 293.0 148.5 290.1 148.5 287.9 148.6 284.3 148.6 285.1 148.6 278.5 148.7 275.7 148.8 281.7 148.8 287.1 148.8 283.3 148.9 281.4 148.9 285.2 149.0 285.8 149.0 293.1 149.0 290.2 149.0 288.2 149.1 301.9 149.1 303.4 149.1 298.0 149.1 296.4 149.2 294.9 149.2 293.3 149.2 297.4 149.2 294.7 149.2 294.1 149.2 290.3 149.3 283.0 149.3 281.3 149.3 280.1 149.3 280.9 149.3 284.2 149.3 284.0 149.3 282.8 149.4 291.2 149.4 287.6 149.4 286.3 149.5 286.6 149.5 283.2 149.5 283.1 149.5 284.9 149.5 285.7 149.5 283.0 149.5 289.9 149.6 273.2 149.6 266.7 149.6 273.1 149.6 271.3 149.6 271.2 149.7 272.1 149.7 273.8 149.7 273.1 149.7 273.4 149.7 283.0 149.7 288.1 149.7 289.7 149.7 288.6 149.7 288.4 149.8 285.5 149.8 295.8 149.8 293.4 149.9 297.1 149.9 292.2 149.9 285.2 149.9 287.4 149.9 281.7 150.0 280.1 150.0 290.2 150.0 289.5 150.0 287.3 150.0 279.3 150.1 279.1 150.1 278.2 150.1 278.2 150.1 275.8 150.1 281.8 150.1 276.8 150.1 277.9 150.1 276.2 150.2 280.6 150.2 283.4 150.3 282.8 150.3 280.8 150.3 269.4 150.4 271.6 150.4 271.9 150.4 267.6 150.4 267.5 150.4 268.8 150.5 261.6 150.5 260.6 150.5 264.9 150.6 272.4 150.6 272.4 150.6 273.4 150.6 273.1 150.6 273.1 150.6 272.8 150.6 277.4 150.7 273.1 150.7 272.5 150.7 271.4 150.7 275.4 150.7 275.6 150.7 279.2 150.8 269.7 150.8 270.6 150.8 272.1 150.9 281.1 150.9 269.7 150.9 269.9 150.9 267.7 151.0 267.6 151.0 269.6 151.1 265.3 151.1 261.9 151.2 264.0 151.2 262.0 151.2 266.3 151.2 275.5 151.2 273.6 151.3 275.3 151.3 274.7 151.3 275.4 151.3 280.4 151.3 275.7 151.3 279.7 151.4 280.4 151.4 277.2 151.4 281.7 151.4 276.6 151.4 274.8 151.4 274.9 151.4 277.2 151.4 274.1 151.4 276.0 151.4 265.8 151.4 265.2 151.5 267.1 151.5 269.4 151.5 272.6 151.5 269.3 151.5 279.3 151.5 274.6 151.6 278.1 151.6 273.0 151.7 269.8 151.7 273.3 151.7 270.6 151.7 266.0 151.7 267.0 151.8 269.8 151.8 265.1 151.8 267.4 151.8 269.0 151.8 268.2 151.8 270.7 151.9 264.9 151.9 268.8 151.9 263.7 151.9 271.2 152.0 265.1 152.1 263.1 152.1 266.1 152.2 264.2 152.2 269.4 152.2 252.6 152.3 254.3 152.3 257.9 152.3 260.6 152.4 255.0 152.4 247.6 152.4 249.2 152.4 248.1 152.5 249.8 152.5 251.7 152.5 248.4 152.5 247.5 152.6 256.2 152.6 253.8 152.6 252.5 152.6 257.2 152.6 253.6 152.7 262.0 152.8 258.5 152.8 257.8 152.8 257.2 152.9 251.9 152.9 251.8 152.9 255.4 152.9 255.4 153.0 250.1 153.0 252.0 153.0 253.6 153.0 253.0 153.0 248.3 153.1 251.6 153.1 252.4 153.1 260.5 153.2 269.6 153.2 268.3 153.3 259.9 153.3 259.8 153.3 255.9 153.3 257.5 153.4 259.4 153.4 256.8 153.4 253.8 153.4 250.0 153.5 252.1 153.5 250.6 153.5 251.4 153.5 252.0 153.6 253.5 153.6 255.7 153.6 255.7 153.6 261.0 153.6 252.4 153.7 257.7 153.7 255.7 153.7 256.8 153.8 260.7 153.8 257.5 153.8 255.1 153.8 252.0 153.9 264.1 153.9 260.8 153.9 261.4 153.9 256.9 153.9 256.4 153.9 259.1 154.0 262.5 154.0 262.4 154.1 250.9 154.1 250.0 154.1 249.9 154.2 245.8 154.2 246.6 154.2 248.1 154.2 248.9 154.2 258.2 154.2 261.9 154.2 265.2 154.2 257.3 154.3 254.4 154.3 256.2 154.3 253.8 154.3 260.5 154.3 258.0 154.3 259.8 154.4 255.2 154.4 253.9 154.5 266.9 154.5 265.8 154.5 265.4 154.5 265.6 154.5 265.3 154.5 265.4 154.5 261.6 154.6 266.0 154.6 256.6 154.6 254.7 154.6 255.8 154.6 256.7 154.7 255.9 154.7 252.9 154.7 255.6 154.7 253.7 154.7 257.5 154.7 260.4 154.7 262.6 154.7 261.6 154.8 262.5 154.8 254.1 154.8 253.8 154.8 249.6 154.9 251.2 154.9 252.0 154.9 252.5 154.9 253.4 154.9 252.5 154.9 256.7 154.9 252.2 155.0 256.9 155.0 261.5 155.0 261.7 155.1 244.3 155.1 249.9 155.1 246.4 155.1 248.7 155.1 247.9 155.2 245.6 155.3 247.9 155.3 251.3 155.3 255.5 155.3 254.4 155.5 255.4 155.5 258.1 155.5 255.4 155.5 256.4 155.5 251.6 155.5 253.3 155.5 255.4 155.5 253.0 155.6 253.4 155.6 252.1 155.6 255.5 155.6 253.2 155.6 256.6 155.6 256.9 155.7 259.8 155.7 260.3 155.7 258.9 155.8 261.6 155.8 262.7 155.8 265.0 155.8 265.0 155.8 260.0 155.8 269.0 155.9 269.9 155.9 267.4 155.9 265.7 155.9 268.6 156.0 271.6 156.0 274.9 156.0 267.8 156.0 274.0 156.0 277.1 156.1 276.0 156.1 268.2 156.1 270.4 156.1 267.6 156.2 265.5 156.3 262.9 156.3 266.6 156.3 266.2 156.3 262.4 156.3 259.0 156.4 260.2 156.4 260.0 156.4 262.4 156.4 261.4 156.4 261.8 156.5 262.3 156.5 253.3 156.5 258.0 156.5 256.5 156.6 262.7 156.6 263.7 156.6 260.1 156.6 263.7 156.6 267.5 156.8 261.8 156.8 262.0 156.8 268.8 156.8 269.8 156.8 269.8 156.8 269.8 156.9 263.5 156.9 263.5 156.9 264.0 156.9 261.6 156.9 258.0 157.0 260.7 157.1 257.3 157.1 260.1 157.1 256.4 157.1 267.6 157.2 263.5 157.2 264.2 157.2 265.7 157.2 267.4 157.2 264.2 157.3 270.6 157.3 275.5 157.3 270.8 157.3 272.8 157.4 270.2 157.4 262.2 157.4 265.9 157.4 258.5 157.4 260.5 157.5 270.2 157.5 266.0 157.5 271.8 157.5 263.6 157.5 258.3 157.5 256.9 157.5 258.1 157.6 264.4 157.6 262.2 157.6 262.0 157.6 261.1 157.6 260.3 157.7 257.0 157.7 256.9 157.7 256.4 157.7 254.2 157.7 255.7 157.8 253.4 157.8 259.5 157.8 255.8 157.8 257.5 157.8 256.5 157.8 265.3 157.8 264.5 157.9 262.5 157.9 261.2 157.9 259.8 157.9 259.6 157.9 262.4 157.9 263.9 158.0 278.1 158.0 277.1 158.0 261.2 158.1 260.9 158.1 256.0 158.1 256.2 158.1 254.3 158.1 256.7 158.2 260.8 158.2 262.5 158.2 262.4 158.2 261.8 158.2 257.1 158.2 257.4 158.3 248.6 158.3 244.9 158.3 244.2 158.3 243.2 158.3 241.4 158.3 245.9 158.3 252.7 158.3 256.9 158.4 258.2 158.4 264.6 158.5 263.3 158.5 272.9 158.5 273.6 158.5 281.1 158.6 276.9 158.6 275.7 158.6 277.1 158.6 279.0 158.6 278.5 158.7 274.3 158.7 272.5 158.7 273.8 158.7 275.3 158.8 269.9 158.8 264.4 158.8 259.1 158.8 259.9 158.8 262.5 158.8 258.7 158.9 264.2 158.9 263.7 158.9 262.6 159.0 266.6 159.0 265.0 159.0 268.2 159.0 271.0 159.0 268.5 159.1 263.9 159.1 271.8 159.1 271.4 159.2 273.5 159.2 277.5 159.2 281.9 159.2 280.4 159.2 276.7 159.2 279.6 159.2 277.0 159.3 268.9 159.3 269.5 159.3 264.9 159.3 271.2 159.4 273.4 159.4 271.4 159.5 274.7 159.5 280.3 159.5 282.2 159.6 276.0 159.6 273.8 159.7 262.4 159.7 263.2 159.7 268.6 159.7 267.7 159.8 270.0 159.8 264.9 159.8 271.3 159.9 267.9 159.9 269.5 160.0 267.9 160.0 271.5 160.0 269.9 160.0 270.3 160.0 273.3 160.0 273.9 160.1 285.8 160.2 284.7 160.2 283.4 160.2 285.4 160.2 287.4 160.2 281.7 160.3 288.4 160.3 289.1 160.4 288.0 160.4 285.0 160.4 286.4 160.4 279.3 160.5 281.6 160.5 286.5 160.5 283.9 160.5 287.0 160.5 289.3 160.5 286.2 160.5 289.2 160.5 289.5 160.5 287.8 160.7 277.2 160.7 274.5 160.7 274.8 160.7 270.7 160.7 275.3 160.7 270.8 160.7 275.4 160.7 273.7 160.8 278.6 160.8 275.2 160.8 277.2 160.8 275.7 160.8 276.7 160.8 273.0 160.9 286.1 160.9 282.2 160.9 275.6 161.0 281.1 161.0 278.6 161.0 293.7 161.0 292.4 161.0 294.7 161.1 279.9 161.1 281.2 161.1 272.8 161.1 281.8 161.1 282.2 161.1 282.4 161.2 277.7 161.2 281.1 161.3 282.2 161.3 284.0 161.4 292.3 161.4 293.7 161.4 289.2 161.5 288.0 161.5 281.9 161.5 281.8 161.5 273.1 161.5 274.4 161.5 272.6 161.6 284.6 161.6 283.7 161.6 276.4 161.7 281.1 161.7 281.3 161.7 282.6 161.7 280.3 161.7 282.0 161.8 293.0 161.8 293.1 161.8 293.8 161.8 291.4 161.8 312.5 161.8 288.2 161.9 288.2 161.9 287.6 161.9 297.1 161.9 291.9 161.9 290.9 162.0 289.0 162.0 290.4 162.0 291.0 162.0 288.3 162.0 288.9 162.1 292.9 162.1 294.9 162.2 296.0 162.2 297.1 162.2 296.3 162.3 294.6 162.3 289.6 162.3 285.6 162.3 292.6 162.3 287.8 162.3 289.6 162.3 291.7 162.3 293.2 162.3 292.8 162.4 291.3 162.4 299.2 162.4 294.4 162.5 296.1 162.5 297.0 162.5 291.3 162.6 289.3 162.6 280.5 162.6 276.8 162.7 287.8 162.7 287.0 162.8 297.0 162.8 290.3 162.9 304.1 162.9 300.5 163.0 303.2 163.1 301.5 163.1 296.3 163.1 302.1 163.2 304.8 163.2 304.1 163.2 295.0 163.2 299.3 163.2 296.8 163.2 296.9 163.2 294.8 163.2 290.7 163.3 294.5 163.3 287.6 163.3 288.6 163.4 287.2 163.4 284.2 163.4 284.0 163.4 284.0 163.4 283.4 163.5 288.0 163.6 290.8 163.6 289.2 163.7 283.8 163.7 288.1 163.7 288.2 163.7 285.8 163.8 287.0 163.8 287.4 163.9 293.5 163.9 294.4 163.9 290.4 163.9 296.7 164.0 298.7 164.0 298.1 164.0 304.9 164.0 309.7 164.0 306.6 164.0 306.2 164.1 300.8 164.1 314.1 164.1 315.4 164.1 312.8 164.2 310.9 164.2 308.7 164.2 298.7 164.2 297.0 164.2 306.9 164.2 299.7 164.2 303.9 164.3 304.9 164.3 293.8 164.3 288.6 164.3 293.4 164.3 293.0 164.3 292.2 164.3 302.9 164.3 300.2 164.4 302.3 164.4 300.0 164.4 293.7 164.5 293.6 164.5 290.6 164.5 291.3 164.5 303.4 164.5 305.0 164.5 308.5 164.5 306.2 164.5 305.7 164.6 290.3 164.6 291.5 164.6 286.0 164.6 297.9 164.7 295.1 164.7 291.9 164.7 295.4 164.7 280.2 164.7 278.5 164.7 292.3 164.7 292.3 164.8 291.3 164.8 291.4 164.8 287.8 164.8 289.6 164.8 287.5 164.8 283.9 164.8 288.3 164.9 287.7 164.9 290.9 164.9 288.3 164.9 290.5 164.9 286.3 165.0 282.1 165.0 290.2 165.0 290.4 165.0 288.4 165.1 290.0 165.1 289.6 165.1 293.3 165.1 284.9 165.1 282.0 165.1 283.4 165.1 316.9 165.2 314.4 165.2 315.1 165.2 318.8 165.2 316.3 165.2 317.9 165.2 289.5 165.2 291.6 165.2 286.7 165.3 291.1 165.3 289.1 165.3 290.9 165.3 292.4 165.4 290.7 165.4 289.2 165.4 283.0 165.5 292.4 165.5 286.2 165.6 288.7 165.6 285.2 165.6 286.9 165.6 285.8 165.6 287.9 165.6 295.3 165.6 295.1 165.7 293.5 165.7 294.6 165.7 296.7 165.8 294.4 165.8 296.0 165.8 295.6 165.8 289.2 165.8 287.3 165.8 290.5 165.9 289.1 165.9 294.0 165.9 291.9 165.9 292.9 165.9 284.1 166.0 285.3 166.0 284.0 166.1 274.2 166.1 276.4 166.1 277.4 166.1 275.3 166.1 281.1 166.1 283.0 166.1 280.7 166.2 283.1 166.2 275.1 166.3 275.1 166.3 278.4 166.3 275.8 166.3 275.1 166.3 275.6 166.3 272.4 166.3 275.1 166.3 275.2 166.4 277.2 166.4 274.9 166.4 275.6 166.4 279.6 166.5 281.6 166.5 280.1 166.5 275.2 166.6 276.8 166.6 281.6 166.6 280.8 166.7 279.4 166.7 284.6 166.7 277.9 166.7 278.5 166.8 272.5 166.8 271.8 166.8 275.4 166.8 279.1 166.8 275.8 166.9 278.8 167.0 287.8 167.0 289.8 167.0 287.5 167.0 279.1 167.0 281.6 167.0 280.6 167.0 279.9 167.1 282.5 167.1 281.8 167.2 277.2 167.2 287.4 167.2 286.5 167.2 287.5 167.2 285.6 167.2 270.8 167.3 239.1 167.3 234.7 167.3 238.8 167.4 236.6 167.4 263.3 167.4 262.7 167.4 262.1 167.4 255.4 167.4 259.2 167.4 259.6 167.4 260.8 167.5 255.8 167.5 258.1 167.5 255.2 167.5 258.1 167.5 256.3 167.5 259.6 167.5 256.2 167.5 257.2 167.6 269.2 167.6 272.6 167.6 272.5 167.6 272.7 167.7 270.5 167.7 272.3 167.7 279.0 167.7 280.6 167.7 282.4 167.7 281.4 167.8 280.0 167.8 275.4 167.9 276.4 167.9 276.9 167.9 285.0 167.9 282.6 167.9 281.0 168.0 277.6 168.1 277.6 168.1 277.7 168.1 278.9 168.2 275.7 168.2 276.5 168.3 271.6 168.3 269.6 168.4 275.5 168.4 274.6 168.4 272.8 168.4 268.1 168.4 264.3 168.4 267.4 168.4 265.4 168.5 268.9 168.5 267.0 168.5 269.5 168.5 269.0 168.6 268.9 168.6 269.0 168.6 269.4 168.6 264.2 168.6 265.1 168.6 264.6 168.7 274.5 168.7 272.5 168.7 274.3 168.7 275.1 168.7 275.4 168.8 272.7 168.9 277.0 168.9 279.0 168.9 272.3 168.9 276.2 169.0 269.4 169.0 261.7 169.0 263.2 169.0 264.4 169.0 254.7 169.1 259.0 169.1 260.4 169.1 267.1 169.1 272.2 169.2 265.6 169.2 266.5 169.2 266.3 169.2 265.3 169.2 260.5 169.3 260.3 169.3 262.8 169.3 262.2 169.3 265.3 169.3 263.3 169.3 263.0 169.4 263.0 169.4 255.1 169.4 258.9 169.4 260.6 169.5 263.4 169.6 263.8 169.6 260.6 169.6 265.4 169.6 264.4 169.8 259.9 169.8 262.2 169.8 261.9 169.9 264.1 169.9 265.8 169.9 264.3 169.9 253.1 170.0 256.9 170.0 254.4 170.1 262.2 170.1 262.4 170.2 259.7 170.2 258.1 170.2 254.6 170.2 259.3 170.3 233.4 170.3 233.5 170.4 248.3 170.4 252.3 170.4 248.1 170.5 253.1 170.5 257.4 170.5 258.3 170.6 255.8 170.7 259.3 170.7 266.2 170.7 262.1 170.7 260.4 170.8 256.7 170.8 256.8 170.8 261.2 170.8 259.3 170.8 256.9 170.8 259.1 170.8 257.8 170.8 256.6 170.9 256.2 170.9 257.4 170.9 258.7 171.0 258.1 171.0 252.8 171.0 256.9 171.0 257.6 171.1 257.9 171.1 263.1 171.1 261.5 171.1 262.3 171.1 261.3 171.1 259.6 171.1 258.6 171.1 257.3 171.1 256.2 171.2 261.3 171.2 255.7 171.2 253.3 171.2 256.9 171.3 255.5 171.3 258.0 171.3 256.6 171.3 258.7 171.4 257.6 171.4 256.8 171.4 259.2 171.4 257.2 171.4 250.1 171.4 248.6 171.4 249.5 171.5 255.4 171.5 251.7 171.5 247.3 171.6 249.0 171.6 247.5 171.6 247.2 171.7 246.1 171.7 250.7 171.7 254.8 171.7 254.1 171.7 260.4 171.7 259.5 171.8 256.2 171.8 258.5 171.8 264.3 171.8 261.5 171.8 257.1 171.9 255.0 171.9 256.6 171.9 255.1 171.9 255.4 171.9 255.9 171.9 256.6 171.9 254.9 171.9 256.6 171.9 246.6 171.9 252.4 171.9 249.0 172.0 248.3 172.0 247.9 172.0 246.8 172.0 254.8 172.0 256.6 172.1 257.2 172.1 257.9 172.2 255.8 172.2 259.5 172.2 258.9 172.2 258.7 172.2 260.3 172.2 261.3 172.2 259.9 172.2 260.8 172.3 250.8 172.3 252.4 172.3 252.7 172.3 252.9 172.4 262.4 172.4 261.2 172.4 256.4 172.5 251.7 172.5 254.4 172.5 254.0 172.6 255.5 172.6 257.8 172.7 258.7 172.7 259.5 172.7 260.1 172.7 253.6 172.8 260.7 172.8 257.0 172.9 253.4 172.9 250.4 172.9 251.0 172.9 254.1 172.9 254.6 172.9 250.4 173.0 253.2 173.0 246.7 173.0 248.3 173.0 248.4 173.0 245.5 173.0 243.7 173.0 250.8 173.0 238.0 173.1 237.5 173.1 236.9 173.1 236.5 173.1 235.8 173.1 244.3 173.2 245.8 173.2 236.1 173.3 244.3 173.3 241.2 173.3 239.7 173.4 243.1 173.4 245.2 173.4 241.4 173.4 242.6 173.4 244.8 173.4 241.8 173.4 244.5 173.4 241.6 173.4 242.7 173.5 233.4 173.5 236.8 173.5 234.8 173.5 231.7 173.6 232.8 173.6 251.8 173.6 250.6 173.7 251.0 173.7 252.1 173.7 251.7 173.7 247.3 173.7 249.4 173.7 248.2 173.8 256.1 173.8 257.0 173.8 252.6 173.9 255.9 173.9 255.8 173.9 248.0 173.9 253.1 173.9 253.1 173.9 254.2 173.9 253.4 173.9 252.7 173.9 256.1 173.9 255.0 174.0 253.0 174.0 251.9 174.0 251.4 174.0 253.9 174.0 260.3 174.0 263.3 174.1 259.2 174.1 258.0 174.1 254.7 174.1 255.4 174.1 250.4 174.1 255.8 174.2 253.0 174.2 257.4 174.3 244.9 174.3 247.1 174.4 246.3 174.4 247.7 174.4 248.4 174.5 251.3 174.5 258.3 174.5 238.7 174.6 240.7 174.6 241.9 174.6 242.3 174.6 246.5 174.7 252.5 174.7 255.0 174.7 256.8 174.7 256.0 174.7 247.5 174.8 249.0 174.8 250.4 174.8 245.5 174.9 250.7 174.9 248.5 174.9 248.4 174.9 256.2 174.9 257.0 174.9 248.5 175.0 247.7 175.0 245.4 175.0 249.9 175.0 246.7 175.0 243.6 175.0 245.8 175.0 245.8 175.1 250.2 175.2 250.5 175.2 248.6 175.2 254.2 175.3 253.5 175.3 251.9 175.4 253.0 175.4 242.7 175.5 254.0 175.5 248.0 175.5 250.9 175.5 249.8 175.5 249.2 175.5 253.3 175.5 247.3 175.5 248.5 175.6 245.9 175.6 251.1 175.6 243.7 175.6 243.6 175.7 248.2 175.7 246.1 175.7 245.2 175.7 246.6 175.8 248.6 175.8 245.6 175.8 248.6 175.9 247.4 175.9 251.4 175.9 252.9 175.9 253.6 176.0 246.4 176.0 248.3 176.0 248.0 176.0 247.6 176.0 251.3 176.0 250.1 176.0 244.8 176.0 247.0 176.0 247.9 176.0 246.9 176.1 250.3 176.1 255.0 176.2 253.8 176.2 256.1 176.2 256.9 176.2 251.1 176.2 254.3 176.2 252.6 176.3 245.3 176.3 246.1 176.3 243.8 176.4 242.1 176.5 251.4 176.5 252.6 176.5 251.2 176.5 251.4 176.5 251.1 176.5 253.8 176.6 247.9 176.6 246.8 176.6 250.6 176.6 251.3 176.6 253.7 176.7 230.5 176.7 232.3 176.7 230.1 176.7 254.1 176.7 258.1 176.8 269.5 176.8 265.8 176.8 261.5 176.9 263.4 176.9 261.5 176.9 254.9 176.9 253.5 177.0 258.9 177.0 259.6 177.0 257.6 177.0 271.0 177.1 270.2 177.1 269.6 177.1 267.5 177.1 271.8 177.1 270.2 177.1 267.9 177.2 269.0 177.2 264.1 177.2 262.0 177.2 271.9 177.2 271.4 177.2 273.4 177.3 271.7 177.3 265.0 177.3 268.9 177.4 274.3 177.4 263.7 177.4 265.9 177.4 266.0 177.4 262.7 177.5 266.5 177.5 268.5 177.5 268.0 177.5 263.5 177.5 266.7 177.5 265.1 177.5 267.0 177.5 272.2 177.5 271.5 177.5 263.7 177.6 261.2 177.6 261.2 177.6 263.1 177.6 264.5 177.6 261.9 177.6 267.0 177.7 261.3 177.7 262.9 177.7 257.3 177.8 257.8 177.8 263.2 177.8 258.7 177.8 257.7 177.8 262.7 177.9 257.1 177.9 263.9 177.9 262.7 177.9 261.5 177.9 262.8 178.0 259.0 178.0 265.4 178.1 266.1 178.1 258.1 178.1 260.6 178.1 261.0 178.1 262.7 178.2 263.5 178.2 264.0 178.2 258.2 178.2 259.8 178.2 263.9 178.2 261.1 178.2 257.0 178.3 257.7 178.3 260.8 178.3 257.9 178.3 256.6 178.3 264.3 178.3 264.8 178.3 265.3 178.3 263.2 178.3 264.0 178.3 265.7 178.4 259.4 178.4 263.6 178.4 258.9 178.4 259.3 178.4 268.3 178.4 263.8 178.5 262.8 178.5 262.5 178.5 266.3 178.5 261.4 178.6 270.8 178.6 266.9 178.7 266.1 178.7 269.8 178.7 267.0 178.7 276.2 178.8 273.2 178.8 274.1 178.8 273.3 178.8 268.8 178.9 282.5 178.9 282.7 178.9 279.0 178.9 277.6 178.9 279.4 179.0 278.9 179.0 279.8 179.0 281.1 179.0 275.3 179.0 277.7 179.1 276.9 179.2 280.3 179.2 277.6 179.2 279.0 179.2 274.3 179.2 273.3 179.3 283.6 179.3 284.9 179.3 286.9 179.3 289.0 179.3 289.2 179.4 282.5 179.4 282.4 179.4 287.8 179.4 281.5 179.4 286.0 179.5 282.2 179.5 282.8 179.5 284.9 179.5 277.4 179.5 274.8 179.5 279.4 179.5 277.3 179.5 272.5 179.5 269.9 179.6 275.3 179.6 267.1 179.6 265.7 179.6 275.3 179.6 276.0 179.7 274.7 179.7 272.1 179.7 272.1 179.7 279.3 179.7 276.1 179.7 273.4 179.8 275.6 179.8 272.7 179.8 271.9 179.8 272.7 179.9 274.3 179.9 274.2 179.9 275.4 179.9 274.7 179.9 275.2 179.9 272.4 180.0 272.5 180.0 273.1 180.0 269.0 180.0 270.8 180.1 269.8 180.1 275.4 180.1 272.2 180.2 276.8 180.2 277.5 180.3 278.3 180.3 277.8 180.3 283.2 180.3 280.4 180.3 279.4 180.5 277.7 180.5 279.6 180.5 277.7 180.5 280.4 180.5 277.9 180.5 282.9 180.5 282.4 180.6 282.5 180.6 277.2 180.6 278.5 180.6 276.8 180.6 277.7 180.6 282.3 180.7 281.3 180.7 282.4 180.7 289.6 180.7 288.4 180.8 297.6 180.8 296.1 180.9 281.5 181.0 284.9 181.0 285.7 181.0 290.2 181.0 291.1 181.0 290.8 181.1 288.4 181.1 287.5 181.1 281.3 181.1 278.7 181.1 279.8 181.1 283.2 181.2 287.6 181.2 287.4 181.2 285.2 181.2 282.9 181.3 287.6 181.3 287.9 181.3 300.1 181.3 298.0 181.4 298.1 181.4 298.7 181.4 298.2 181.5 307.5 181.5 309.1 181.5 308.1 181.5 306.1 181.5 305.6 181.5 300.8 181.6 295.8 181.6 303.5 181.6 310.1 181.6 306.3 181.6 308.4 181.7 301.8 181.8 292.5 181.8 294.7 181.8 290.9 181.8 289.5 181.8 289.9 181.8 297.6 181.8 292.9 181.9 299.0 181.9 298.3 182.0 289.7 182.0 284.6 182.0 288.2 182.1 291.0 182.1 288.1 182.1 288.2 182.1 287.2 182.3 285.5 182.3 286.5 182.3 287.7 182.4 288.8 182.4 292.1 182.5 290.4 182.5 291.0 182.5 286.8 182.6 291.2 182.6 288.2 182.6 289.3 182.6 287.9 182.7 288.0 182.7 286.6 182.7 279.8 182.7 275.4 182.7 273.4 182.8 276.4 182.8 272.9 182.8 276.0 182.8 276.9 182.8 268.4 182.8 276.4 182.8 276.2 182.9 269.6 182.9 268.7 183.0 267.5 183.0 278.5 183.0 274.2 183.0 271.9 183.0 271.9 183.1 271.0 183.1 275.2 183.1 271.7 183.1 266.3 183.2 270.2 183.2 263.3 183.3 268.7 183.3 269.1 183.3 269.3 183.3 275.3 183.4 277.3 183.4 266.7 183.4 270.3 183.4 274.5 183.5 268.0 183.5 269.8 183.5 269.6 183.6 267.0 183.6 264.8 183.6 264.0 183.6 263.2 183.6 271.9 183.6 271.8 183.7 271.9 183.7 268.9 183.7 271.0 183.7 272.2 183.7 274.5 183.8 278.1 183.8 274.9 183.9 276.0 183.9 269.9 183.9 271.8 183.9 275.1 183.9 276.5 184.0 275.5 184.0 275.7 184.0 274.1 184.0 277.7 184.1 274.6 184.1 267.7 184.1 265.3 184.1 260.1 184.2 272.3 184.2 274.6 184.2 272.3 184.2 268.6 184.3 270.1 184.4 271.8 184.4 268.5 184.4 269.2 184.4 268.8 184.4 267.6 184.4 268.4 184.4 274.6 184.4 272.3 184.5 243.5 184.5 265.2 184.6 266.4 184.6 267.7 184.6 264.2 184.6 267.5 184.6 262.9 184.6 266.5 184.6 261.9 184.7 264.0 184.7 260.1 184.7 261.0 184.7 263.9 184.7 262.2 184.8 266.6 184.8 264.3 184.8 261.6 184.8 260.5 184.9 263.4 184.9 262.4 185.0 253.3 185.0 250.8 185.0 257.1 185.0 262.4 185.1 254.1 185.2 247.9 185.2 249.2 185.2 253.8 185.3 258.6 185.3 261.6 185.3 262.5 185.3 258.2 185.3 260.3 185.3 263.7 185.4 265.6 185.4 264.5 185.4 260.0 185.4 263.8 185.4 263.1 185.4 264.4 185.5 264.0 185.5 262.2 185.5 264.6 185.5 264.0 185.6 263.0 185.6 268.3 185.6 260.6 185.7 257.4 185.7 256.6 185.8 253.9 185.8 253.0 185.8 254.9 185.8 251.2 185.8 251.8 185.8 252.1 185.9 247.8 185.9 252.8 185.9 247.9 185.9 242.3 186.0 238.2 186.0 239.8 186.0 236.2 186.1 250.6 186.1 247.9 186.1 251.4 186.1 247.1 186.1 250.5 186.1 252.0 186.1 245.0 186.1 247.9 186.2 246.3 186.2 248.1 186.2 243.1 186.2 242.2 186.3 239.3 186.3 235.4 186.3 233.4 186.4 224.8 186.4 226.9 186.5 248.6 186.5 249.8 186.5 249.5 186.5 247.7 186.6 236.2 186.6 232.9 186.6 238.9 186.6 236.8 186.7 237.0 186.7 246.7 186.7 248.2 186.7 248.6 186.8 247.6 186.8 245.6 186.8 246.3 186.8 250.0 186.8 250.8 186.8 249.0 186.8 251.2 186.9 250.8 186.9 250.8 186.9 248.5 186.9 252.6 186.9 247.2 187.0 246.1 187.0 246.9 187.0 243.8 187.1 247.5 187.1 242.1 187.1 243.3 187.2 244.8 187.2 243.6 187.2 244.3 187.2 245.3 187.2 245.4 187.2 249.8 187.3 251.7 187.4 246.7 187.4 245.5 187.4 250.6 187.4 250.1 187.4 253.4 187.5 242.0 187.5 241.6 187.5 243.9 187.5 243.1 187.6 240.1 187.6 241.8 187.6 243.6 187.6 246.9 187.7 235.9 187.7 232.4 187.8 235.8 187.8 236.9 187.8 233.7 187.9 243.9 187.9 244.6 187.9 239.6 188.0 240.3 188.0 236.5 188.0 233.6 188.0 232.5 188.0 232.8 188.1 229.7 188.1 231.2 188.1 232.1 188.1 234.5 188.1 235.5 188.1 237.0 188.2 235.6 188.2 239.1 188.2 235.7 188.2 236.3 188.2 235.4 188.2 235.4 188.2 237.6 188.3 234.6 188.3 236.0 188.3 237.0 188.3 244.9 188.3 242.5 188.3 239.4 188.3 239.0 188.3 237.2 188.3 237.6 188.4 239.4 188.4 235.9 188.4 235.5 188.4 231.3 188.4 231.4 188.4 233.7 188.4 233.7 188.5 238.2 188.5 249.7 188.5 239.8 188.6 243.9 188.6 241.3 188.6 244.8 188.7 252.0 188.7 244.7 188.8 237.0 188.8 241.7 188.8 240.3 188.8 241.4 188.8 242.4 188.8 232.5 188.9 233.0 188.9 234.5 188.9 233.6 188.9 238.9 188.9 236.4 188.9 238.9 189.0 236.6 189.0 240.9 189.0 236.5 189.0 237.4 189.0 242.1 189.0 240.6 189.0 242.2 189.1 240.5 189.1 240.0 189.1 236.7 189.2 242.7 189.2 244.7 189.2 241.0 189.2 241.5 189.3 232.5 189.3 234.5 189.3 233.3 189.4 233.6 189.4 228.9 189.4 229.0 189.5 229.1 189.5 233.6 189.5 224.1 189.5 225.7 189.5 226.6 189.5 231.3 189.5 231.4 189.5 232.6 189.6 231.0 189.6 223.7 189.6 225.6 189.6 230.0 189.6 232.1 189.7 234.9 189.7 236.3 189.7 235.8 189.8 240.9 189.8 241.7 189.9 233.7 189.9 234.5 189.9 236.1 189.9 235.4 190.0 237.3 190.0 235.9 190.0 235.3 190.0 238.8 190.0 239.4 190.0 238.6 190.0 241.3 190.0 239.2 190.0 237.7 190.1 242.6 190.1 244.0 190.1 241.5 190.1 243.5 190.1 247.5 190.1 242.9 190.1 244.4 190.1 242.7 190.1 245.9 190.2 247.0 190.2 242.7 190.2 242.4 190.2 246.6 190.2 242.6 190.2 249.3 190.2 247.9 190.2 249.0 190.3 243.4 190.3 245.5 190.3 245.6 190.3 242.1 190.3 245.2 190.3 246.4 190.4 247.0 190.4 246.2 190.4 248.7 190.4 251.9 190.5 249.7 190.5 217.7 190.5 220.4 190.5 221.0 190.6 245.2 190.6 235.3 190.6 236.3 190.6 242.4 190.6 239.0 190.7 237.1 190.7 241.0 190.7 239.7 190.8 232.9 191.0 227.8 191.0 234.6 191.0 237.4 191.1 231.7 191.1 234.8 191.2 234.4 191.2 243.8 191.2 246.1 191.3 241.1 191.3 241.9 191.3 240.3 191.3 247.4 191.3 249.0 191.3 248.8 191.4 250.3 191.5 238.8 191.5 243.2 191.5 239.5 191.5 242.6 191.6 243.8 191.6 242.0 191.6 235.7 191.7 242.1 191.7 239.7 191.7 238.0 191.8 238.7 191.8 241.0 191.8 238.4 191.8 237.4 191.9 239.2 191.9 241.5 191.9 241.0 191.9 242.2 191.9 241.5 191.9 244.5 192.0 243.2 192.0 248.2 192.0 246.2 192.0 247.5 192.0 245.1 192.0 245.5 192.1 243.9 192.1 239.6 192.1 251.9 192.1 251.8 192.1 249.3 192.1 249.3 192.1 249.0 192.1 247.0 192.2 245.7 192.2 246.0 192.2 245.4 192.2 244.2 192.2 242.5 192.2 244.3 192.3 249.4 192.3 251.5 192.4 249.7 192.4 251.4 192.4 249.4 192.4 247.8 192.4 246.5 192.4 247.2 192.5 248.6 192.5 243.0 192.5 247.4 192.5 245.9 192.6 247.4 192.6 247.9 192.6 248.5 192.7 256.0 192.7 254.3 192.7 254.9 192.7 251.8 192.7 254.6 192.7 256.6 192.7 253.5 192.7 250.0 192.7 251.9 192.8 256.4 192.8 252.6 192.9 252.5 192.9 248.5 192.9 248.8 192.9 249.8 192.9 247.6 193.0 261.1 193.0 260.3 193.0 261.6 193.0 260.9 193.0 260.1 193.0 261.6 193.0 258.4 193.0 260.4 193.1 264.2 193.1 253.8 193.2 246.6 193.2 250.5 193.2 249.7 193.2 252.2 193.2 254.1 193.3 253.1 193.4 253.7 193.4 252.1 193.4 251.3 193.4 254.0 193.4 247.8 193.5 251.0 193.5 255.4 193.5 253.4 193.5 254.4 193.5 256.0 193.5 252.2 193.5 250.8 193.5 250.6 193.6 254.9 193.6 254.7 193.6 255.0 193.6 254.6 193.6 258.0 193.7 252.2 193.7 251.6 193.7 249.6 193.7 250.1 193.8 253.5 193.8 258.7 193.8 258.7 193.8 263.3 193.8 259.7 193.8 263.2 193.9 263.3 193.9 262.4 193.9 263.9 193.9 257.9 194.0 265.0 194.1 262.4 194.1 262.5 194.1 261.8 194.1 256.8 194.1 258.7 194.1 260.2 194.2 261.7 194.2 256.2 194.2 245.3 194.3 252.0 194.3 256.1 194.3 256.7 194.3 253.0 194.3 254.0 194.3 256.9 194.4 254.9 194.4 255.6 194.4 257.2 194.4 252.6 194.5 264.3 194.5 263.0 194.5 258.1 194.5 261.2 194.5 258.1 194.6 260.9 194.6 264.0 194.6 261.9 194.6 261.9 194.7 272.4 194.7 271.1 194.7 271.4 194.7 270.3 194.7 266.7 194.7 278.0 194.7 278.5 194.7 279.7 194.7 275.9 194.8 278.3 194.8 277.1 194.8 274.0 194.8 277.9 194.8 280.8 194.9 281.8 195.0 269.4 195.0 273.0 195.0 269.5 195.0 269.0 195.0 272.4 195.0 270.2 195.1 270.7 195.1 271.9 195.1 273.4 195.1 275.2 195.2 286.7 195.2 281.8 195.2 282.1 195.2 282.9 195.3 278.6 195.4 286.7 195.4 287.1 195.4 286.5 195.4 284.2 195.4 283.8 195.5 284.6 195.5 285.9 195.5 283.8 195.5 283.9 195.5 283.1 195.6 270.3 195.6 270.9 195.7 272.6 195.7 271.0 195.7 275.5 195.7 275.5 195.7 282.2 195.7 284.1 195.7 284.6 195.8 290.1 195.8 286.5 195.8 292.3 195.8 296.8 195.9 288.0 195.9 285.7 195.9 287.3 195.9 286.0 196.0 287.2 196.0 290.6 196.0 289.4 196.1 286.6 196.1 286.1 196.1 286.9 196.1 251.5 196.1 259.8 196.1 256.8 196.2 255.6 196.2 256.3 196.2 257.1 196.2 282.2 196.2 283.5 196.2 283.2 196.2 284.5 196.3 283.9 196.3 281.8 196.4 294.5 196.4 293.3 196.4 295.2 196.5 293.8 196.5 295.8 196.5 298.0 196.6 293.3 196.6 291.7 196.6 295.1 196.6 293.8 196.6 301.5 196.7 281.6 196.8 290.3 196.8 290.1 196.8 290.5 196.8 291.7 196.9 287.0 196.9 289.5 196.9 292.0 196.9 289.9 196.9 292.1 197.0 299.3 197.0 298.0 197.0 294.2 197.1 294.3 197.1 293.6 197.1 290.9 197.1 288.9 197.2 292.3 197.2 295.0 197.2 288.2 197.3 289.2 197.3 291.9 197.3 286.1 197.3 290.7 197.3 285.3 197.4 283.4 197.4 298.8 197.5 299.7 197.5 290.0 197.5 289.6 197.5 280.9 197.6 282.5 197.6 294.2 197.6 297.1 197.6 295.1 197.7 305.6 197.7 305.8 197.7 307.6 197.7 305.9 197.8 294.6 197.9 288.3 197.9 294.0 197.9 294.7 198.0 291.7 198.0 301.2 198.0 301.3 198.1 294.2 198.1 294.2 198.1 293.7 198.1 295.7 198.1 295.0 198.1 293.1 198.1 294.0 198.2 295.2 198.2 297.8 198.2 301.1 198.2 299.0 198.2 297.7 198.2 284.4 198.2 283.8 198.2 286.1 198.3 301.1 198.3 294.4 198.4 293.6 198.4 300.3 198.4 292.9 198.4 293.1 198.4 296.5 198.4 289.3 198.5 285.4 198.5 275.3 198.5 275.6 198.6 285.3 198.6 284.4 198.7 281.6 198.8 281.3 198.8 275.7 198.8 280.4 198.8 281.9 198.8 281.0 198.9 278.5 198.9 278.1 198.9 271.7 198.9 274.0 199.0 269.8 199.0 271.5 199.0 268.0 199.0 265.9 199.0 268.9 199.0 267.9 199.0 265.0 199.0 275.3 199.1 273.7 199.1 274.2 199.1 267.3 199.1 266.9 199.1 276.8 199.1 275.3 199.1 272.3 199.2 280.3 199.2 275.4 199.2 277.9 199.2 279.5 199.2 279.8 199.2 277.2 199.2 275.2 199.3 278.4 199.3 280.4 199.3 282.7 199.3 280.9 199.4 283.3 199.4 287.8 199.4 288.6 199.5 288.0 199.5 289.2 199.5 280.9 199.5 282.1 199.5 268.3 199.6 267.2 199.6 265.8 199.6 263.9 199.6 260.3 199.6 261.9 199.7 270.4 199.7 267.0 199.7 267.8 199.7 275.7 199.7 266.0 199.7 271.5 199.7 266.9 199.8 268.9 199.8 274.8 199.8 276.1 199.9 296.4 199.9 277.6 199.9 275.4 199.9 276.6 200.0 272.7 200.0 276.1 200.0 278.4 200.0 278.6 200.0 277.4 200.1 276.6 200.2 271.0 200.2 267.1 200.3 268.8 200.3 271.3 200.4 266.9 200.4 273.3 200.4 273.3 200.5 270.6 200.5 267.7 200.5 269.4 200.5 269.6 200.5 264.8 200.6 267.7 200.6 267.0 200.6 271.3 200.7 270.0 200.7 264.9 200.7 269.4 200.7 267.0 200.8 263.9 200.8 272.7 200.8 267.7 200.8 265.5 200.8 267.0 200.8 269.0 200.9 269.8 200.9 264.4 200.9 261.7 200.9 263.9 200.9 261.8 201.0 267.7 201.0 268.0 201.0 256.5 201.1 262.7 201.1 256.3 201.1 252.0 201.1 256.5 201.1 257.9 201.1 257.2 201.1 262.1 201.2 257.6 201.2 256.2 201.2 261.6 201.2 259.7 201.3 255.9 201.3 254.5 201.3 254.6 201.3 253.4 201.3 257.5 201.4 260.5 201.4 258.8 201.4 261.1 201.4 259.9 201.5 261.3 201.5 260.1 201.6 262.4 201.6 260.2 201.7 260.3 201.7 277.3 201.7 275.5 201.7 273.5 201.7 268.2 201.8 270.3 201.8 265.6 201.9 264.1 201.9 266.4 201.9 258.0 201.9 257.9 201.9 258.7 201.9 255.8 202.0 253.8 202.0 255.4 202.0 256.9 202.1 257.6 202.1 256.7 202.1 257.4 202.1 257.5 202.2 257.9 202.2 260.1 202.2 260.9 202.2 258.0 202.2 259.8 202.2 257.6 202.2 256.5 202.3 262.1 202.3 251.7 202.3 254.6 202.3 252.7 202.3 253.4 202.3 253.9 202.3 255.7 202.3 254.7 202.4 250.9 202.4 249.4 202.4 250.2 202.4 251.1 202.4 251.2 202.4 251.4 202.5 249.8 202.5 249.5 202.5 247.9 202.5 250.2 202.6 248.7 202.6 246.1 202.6 249.1 202.6 246.3 202.6 245.8 202.6 245.9 202.7 245.8 202.7 243.8 202.7 245.9 202.8 246.2 202.8 248.4 202.8 244.5 202.9 246.3 202.9 248.3 202.9 248.8 202.9 246.3 202.9 249.5 202.9 243.3 202.9 242.5 203.0 241.4 203.0 239.9 203.0 240.5 203.0 237.1 203.1 240.7 203.1 238.0 203.1 238.2 203.1 246.2 203.1 233.5 203.1 233.2 203.1 236.3 203.1 237.6 203.2 239.5 203.2 237.2 203.2 238.8 203.2 235.2 203.2 239.6 203.2 240.9 203.3 236.1 203.3 237.8 203.3 239.4 203.3 238.2 203.3 237.5 203.3 247.8 203.4 252.4 203.4 251.1 203.5 246.8 203.5 245.7 203.5 247.0 203.6 250.7 203.6 249.7 203.6 246.4 203.6 252.6 203.6 254.7 203.6 251.5 203.7 253.0 203.7 255.3 203.8 248.1 203.8 244.2 203.8 242.8 203.9 232.5 203.9 233.6 203.9 233.8 204.0 237.7 204.0 240.3 204.0 242.8 204.0 239.5 204.0 242.5 204.0 243.3 204.0 255.1 204.1 257.1 204.1 253.8 204.1 254.5 204.1 253.2 204.1 253.7 204.1 253.7 204.1 248.7 204.1 247.5 204.1 249.0 204.2 250.0 204.2 243.5 204.2 242.1 204.2 240.9 204.3 243.6 204.3 241.1 204.4 235.6 204.4 242.6 204.4 234.9 204.5 239.9 204.5 241.8 204.5 239.4 204.5 240.7 204.5 243.3 204.6 246.1 204.6 244.8 204.6 240.0 204.6 237.7 204.6 236.1 204.6 238.7 204.6 233.0 204.7 230.1 204.7 234.2 204.7 238.8 204.8 240.0 204.8 236.6 204.8 240.6 204.8 239.3 204.8 238.7 204.8 238.8 204.8 238.8 204.9 240.4 204.9 237.8 204.9 238.0 205.0 239.9 205.0 237.5 205.0 239.0 205.0 239.3 205.1 238.8 205.1 237.7 205.1 236.8 205.1 237.8 205.1 236.3 205.2 239.0 205.2 235.1 205.2 234.5 205.3 240.1 205.3 237.2 205.3 236.1 205.3 235.4 205.4 237.4 205.4 234.2 205.4 236.7 205.4 234.5 205.5 237.1 205.5 238.3 205.5 244.3 205.5 240.6 205.6 239.6 205.6 239.2 205.6 242.1 205.7 238.1 205.7 238.0 205.8 241.3 205.8 243.4 205.8 243.0 205.8 243.2 205.8 244.5 205.8 243.7 205.8 242.6 205.9 238.3 205.9 245.9 205.9 244.8 206.0 240.5 206.1 236.4 206.1 237.5 206.1 233.9 206.1 238.0 206.1 236.1 206.2 238.7 206.2 236.3 206.2 237.9 206.2 237.1 206.2 240.5 206.3 237.5 206.3 239.6 206.3 239.1 206.3 238.2 206.3 235.2 206.3 238.6 206.4 234.0 206.4 235.2 206.4 236.7 206.4 236.4 206.4 238.6 206.4 237.2 206.5 241.3 206.5 241.1 206.5 240.9 206.5 242.8 206.5 236.5 206.6 238.7 206.7 237.1 206.7 241.1 206.7 234.7 206.7 236.2 206.7 235.8 206.7 233.6 206.8 229.7 206.8 231.0 206.8 227.0 206.9 228.8 206.9 229.3 206.9 229.6 206.9 243.5 206.9 242.1 207.0 240.6 207.0 238.1 207.0 240.5 207.1 235.8 207.1 235.7 207.1 236.7 207.2 230.9 207.2 240.7 207.3 240.8 207.3 239.4 207.3 240.1 207.3 236.7 207.4 237.3 207.4 239.1 207.4 241.0 207.4 242.0 207.4 242.2 207.5 241.6 207.5 243.9 207.5 239.9 207.5 237.7 207.5 240.7 207.5 236.7 207.5 239.1 207.6 233.4 207.6 230.1 207.7 230.2 207.7 231.6 207.7 232.2 207.7 227.6 207.7 229.3 207.7 230.0 207.7 228.8 207.7 230.6 207.8 220.5 207.8 222.0 207.8 219.5 207.8 218.6 207.9 223.7 208.0 230.3 208.0 232.1 208.0 233.9 208.1 235.1 208.2 244.0 208.2 245.9 208.2 242.3 208.2 244.0 208.3 251.8 208.3 248.0 208.3 248.5 208.3 243.1 208.3 245.2 208.4 239.9 208.4 248.3 208.4 250.9 208.5 241.7 208.5 244.2 208.5 246.4 208.5 240.6 208.5 238.4 208.5 242.6 208.6 240.0 208.6 241.2 208.6 235.3 208.6 233.7 208.6 233.5 208.6 232.5 208.7 227.6 208.7 237.1 208.7 232.5 208.8 229.6 208.8 230.7 208.8 230.8 208.8 238.5 208.9 236.4 209.0 234.2 209.0 234.8 209.0 241.2 209.0 241.6 209.1 239.4 209.1 243.5 209.1 243.9 209.1 242.7 209.1 243.1 209.2 247.9 209.2 249.6 209.2 247.9 209.3 245.3 209.3 245.0 209.3 242.9 209.3 244.9 209.4 242.3 209.4 240.8 209.4 245.7 209.4 249.6 209.5 249.5 209.5 248.4 209.5 245.4 209.5 250.0 209.5 247.6 209.5 246.7 209.5 245.6 209.6 245.3 209.6 246.4 209.6 249.3 209.7 242.0 209.7 241.6 209.7 243.9 209.7 239.1 209.8 240.9 209.8 241.6 209.8 242.4 209.8 240.3 209.9 242.9 209.9 238.6 209.9 241.9 209.9 242.7 209.9 239.2 210.0 237.6 210.0 235.4 210.0 236.8 210.0 234.2 210.1 237.2 210.1 235.0 210.1 235.2 210.1 235.1 210.1 236.0 210.2 234.9 210.2 231.8 210.2 233.2 210.2 234.5 210.2 233.4 210.4 235.1 210.4 231.2 210.4 234.3 210.4 233.6 210.5 237.0 210.5 238.1 210.5 231.9 210.5 247.0 210.5 247.0 210.6 242.3 210.6 235.5 210.6 246.6 210.7 245.1 210.8 247.3 210.8 251.9 210.8 243.2 210.8 241.4 210.8 242.3 210.8 241.0 210.8 242.3 210.8 240.4 210.9 249.4 210.9 247.2 210.9 249.0 210.9 243.6 211.0 245.5 211.0 249.4 211.0 248.0 211.1 246.0 211.1 248.9 211.2 249.5 211.2 250.3 211.3 246.9 211.3 253.4 211.3 251.7 211.4 255.9 211.4 256.0 211.4 247.6 211.5 254.9 211.5 255.2 211.5 250.8 211.5 251.9 211.5 252.2 211.5 252.0 211.6 249.3 211.6 245.1 211.6 245.0 211.7 240.6 211.7 251.2 211.7 242.5 211.8 243.5 211.8 249.4 211.8 250.1 211.9 246.9 211.9 248.3 211.9 247.5 211.9 251.1 211.9 253.0 212.0 258.9 212.1 251.5 212.1 252.0 212.1 255.3 212.2 253.5 212.2 258.2 212.2 254.0 212.2 250.4 212.2 253.4 212.2 254.5 212.2 259.4 212.2 258.5 212.3 261.9 212.3 263.6 212.3 263.2 212.3 262.2 212.4 262.0 212.4 260.8 212.4 260.3 212.4 257.9 212.5 255.0 212.5 255.4 212.5 255.3 212.5 256.0 212.6 255.3 212.6 251.5 212.6 260.0 212.7 260.2 212.7 259.8 212.7 261.6 212.8 260.8 212.8 261.1 212.8 260.7 212.8 256.6 212.8 255.1 212.8 255.0 212.8 258.3 212.8 253.9 212.9 256.5 212.9 257.9 212.9 255.2 212.9 256.7 212.9 258.1 212.9 257.1 212.9 265.9 212.9 262.2 212.9 263.9 213.0 259.0 213.1 261.2 213.1 261.3 213.1 260.6 213.1 261.4 213.1 261.3 213.1 262.1 213.2 265.5 213.2 266.3 213.2 264.2 213.2 264.1 213.2 261.8 213.2 259.4 213.2 262.7 213.3 259.7 213.3 260.0 213.3 263.7 213.4 259.6 213.4 260.0 213.4 258.5 213.5 253.9 213.5 251.6 213.6 260.3 213.6 261.0 213.6 260.8 213.6 259.7 213.6 272.2 213.8 254.1 213.8 261.3 213.8 260.4 213.8 260.2 213.8 256.5 213.8 254.4 213.8 255.5 213.9 255.5 213.9 255.0 213.9 259.2 213.9 255.7 213.9 261.8 213.9 256.1 213.9 259.2 213.9 259.0 214.0 262.1 214.0 260.4 214.0 260.1 214.1 251.7 214.1 251.8 214.1 256.5 214.2 258.6 214.2 262.4 214.3 265.7 214.3 268.7 214.3 269.5 214.4 279.6 214.4 279.3 214.4 278.9 214.4 274.5 214.4 275.8 214.5 269.9 214.5 266.8 214.5 265.4 214.5 266.3 214.5 264.4 214.6 267.2 214.7 263.7 214.7 261.9 214.7 263.4 214.7 262.4 214.7 266.9 214.8 266.0 214.8 273.6 214.8 270.0 214.9 267.9 214.9 271.0 214.9 274.7 215.0 278.0 215.0 276.8 215.0 276.1 215.0 274.7 215.0 275.0 215.0 275.9 215.1 280.9 215.1 281.1 215.1 280.1 215.1 281.7 215.1 279.3 215.1 282.2 215.1 277.1 215.1 278.0 215.1 280.8 215.2 281.0 215.2 277.5 215.2 289.3 215.2 286.8 215.3 290.3 215.3 287.9 215.3 288.2 215.3 287.6 215.3 280.8 215.3 279.6 215.3 279.7 215.3 280.2 215.3 280.1 215.4 285.1 215.4 288.3 215.4 280.9 215.4 281.6 215.4 279.6 215.5 282.7 215.5 283.6 215.5 280.5 215.5 276.8 215.5 283.4 215.6 287.1 215.6 283.5 215.6 286.8 215.6 286.9 215.6 283.7 215.6 281.9 215.7 284.9 215.8 289.2 215.8 284.2 215.8 281.0 215.9 284.2 215.9 283.9 215.9 276.0 216.0 283.0 216.0 279.2 216.0 277.8 216.0 277.0 216.0 278.4 216.1 281.3 216.1 274.7 216.2 271.6 216.2 282.1 216.2 281.3 216.2 281.6 216.3 280.6 216.3 279.3 216.3 280.3 216.3 279.1 216.3 281.4 216.4 280.8 216.4 279.6 216.4 282.2 216.4 281.4 216.5 280.2 216.5 276.7 216.5 277.4 216.5 279.3 216.6 282.0 216.6 280.3 216.6 276.5 216.7 278.2 216.7 275.8 216.7 271.9 216.7 272.1 216.8 270.8 216.8 276.1 216.8 273.7 216.8 277.5 216.8 279.5 216.9 280.5 216.9 280.3 216.9 277.2 216.9 279.5 216.9 276.2 217.0 268.1 217.0 265.9 217.0 263.0 217.1 260.7 217.2 269.6 217.2 276.9 217.3 257.5 217.3 259.5 217.3 256.4 217.3 258.0 217.3 258.3 217.4 262.4 217.4 262.3 217.4 259.7 217.4 262.6 217.4 259.2 217.4 258.5 217.5 255.0 217.5 254.1 217.5 248.5 217.5 249.2 217.6 251.6 217.6 245.9 217.6 242.8 217.6 245.7 217.7 267.9 217.7 262.7 217.7 262.9 217.8 254.8 217.8 257.9 217.8 256.8 217.8 257.1 217.8 254.0 217.9 252.6 217.9 263.4 217.9 262.5 217.9 259.9 217.9 259.0 217.9 265.1 218.0 259.4 218.0 256.6 218.0 255.3 218.0 255.8 218.0 254.6 218.0 255.5 218.0 255.8 218.0 253.3 218.1 255.1 218.1 255.9 218.1 258.3 218.1 259.9 218.1 254.3 218.1 256.7 218.2 255.3 218.2 255.6 218.2 253.5 218.2 250.9 218.2 249.9 218.2 251.0 218.2 252.4 218.3 250.3 218.3 258.6 218.3 256.4 218.4 253.9 218.4 247.8 218.4 251.8 218.4 252.2 218.5 255.5 218.5 252.2 218.5 251.9 218.5 253.9 218.5 251.8 218.5 255.0 218.5 253.4 218.5 254.3 218.6 251.5 218.6 250.0 218.6 249.8 218.6 249.7 218.6 251.9 218.6 249.7 218.6 249.6 218.6 253.4 218.6 248.4 218.6 252.1 218.7 260.1 218.7 256.7 218.8 251.0 218.8 259.1 218.8 263.7 218.8 263.2 218.8 262.2 218.8 262.1 218.8 261.5 218.9 259.9 218.9 257.9 219.0 254.0 219.0 255.4 219.0 255.5 219.0 242.9 219.0 242.1 219.0 241.2 219.1 243.8 219.1 240.7 219.2 254.1 219.2 252.7 219.2 251.8 219.2 255.2 219.2 253.6 219.3 257.1 219.3 257.7 219.3 259.4 219.4 258.7 219.4 259.5 219.5 257.2 219.5 255.3 219.5 260.6 219.5 262.7 219.6 263.2 219.6 260.3 219.6 265.0 219.6 258.5 219.7 257.3 219.7 253.8 219.7 248.4 219.8 252.4 219.8 249.2 219.8 249.0 219.8 251.3 219.8 253.1 219.8 239.0 219.8 238.6 219.8 243.4 219.8 239.5 219.8 241.1 219.8 240.7 219.8 241.1 219.9 245.5 219.9 240.3 219.9 251.3 219.9 248.3 220.0 252.7 220.0 242.5 220.0 240.2 220.0 240.9 220.0 240.8 220.0 239.9 220.0 238.7 220.0 241.3 220.1 244.6 220.1 239.6 220.2 233.4 220.2 236.4 220.3 253.9 220.3 252.9 220.3 254.2 220.3 249.9 220.3 238.0 220.4 234.4 220.4 236.0 220.4 234.1 220.4 235.0 220.4 242.1 220.5 243.2 220.5 241.8 220.5 242.3 220.5 242.8 220.5 242.3 220.5 245.6 220.6 247.5 220.6 248.7 220.6 248.4 220.6 246.8 220.7 247.2 220.7 245.1 220.7 249.6 220.8 246.7 220.8 239.1 220.8 236.9 220.8 243.7 220.8 238.5 220.8 242.3 220.9 236.9 220.9 240.1 220.9 239.3 220.9 240.8 220.9 244.0 221.0 245.7 221.0 243.8 221.0 244.7 221.1 246.3 221.1 245.1 221.1 244.0 221.1 246.4 221.1 242.7 221.1 244.6 221.1 245.5 221.2 241.5 221.2 243.4 221.2 244.8 221.3 215.4 221.4 241.2 221.4 239.2 221.5 243.2 221.5 234.3 221.6 237.1 221.6 237.1 221.6 237.8 221.6 235.2 221.6 236.7 221.7 235.1 221.7 239.1 221.7 242.2 221.7 240.7 221.7 217.2 221.8 215.1 221.8 215.9 221.8 217.4 221.8 214.2 221.9 244.7 221.9 243.4 222.0 242.5 222.0 241.6 222.0 236.1 222.1 235.3 222.1 236.3 222.1 230.9 222.1 231.8 222.2 234.5 222.2 234.1 222.2 220.0 222.2 219.1 222.2 215.0 222.2 220.6 222.3 226.4 222.3 230.8 222.3 232.8 222.3 230.2 222.3 230.9 222.3 231.9 222.3 217.4 222.3 220.9 222.3 219.2 222.3 216.9 222.4 223.6 222.4 221.6 222.4 238.4 222.4 241.4 222.4 238.8 222.4 222.7 222.5 220.4 222.5 219.6 222.5 236.4 222.5 236.0 222.5 236.1 222.5 234.5 222.6 234.0 222.6 236.6 222.6 232.7 222.6 230.7 222.6 232.2 222.6 233.3 222.7 230.8 222.7 230.4 222.7 230.0 222.7 232.9 222.8 233.2 222.8 237.6 222.8 238.9 222.8 238.6 222.8 236.4 222.8 236.5 222.8 234.2 222.9 235.8 222.9 235.2 222.9 233.8 222.9 238.2 222.9 240.1 222.9 236.8 222.9 237.2 223.0 236.1 223.0 234.2 223.0 234.1 223.0 240.4 223.0 236.9 223.1 239.2 223.1 236.3 223.1 235.7 223.1 234.3 223.1 237.6 223.1 234.2 223.1 237.7 223.2 234.4 223.2 235.7 223.2 233.2 223.2 234.4 223.2 234.3 223.2 234.2 223.2 231.7 223.3 234.5 223.3 231.3 223.3 233.6 223.3 230.7 223.4 234.6 223.4 233.5 223.4 228.4 223.5 227.2 223.5 228.4 223.5 231.4 223.6 226.1 223.6 225.2 223.6 222.3 223.6 222.8 223.6 219.6 223.6 222.4 223.6 223.4 223.6 223.1 223.7 214.4 223.7 224.9 223.8 211.0 223.8 209.9 223.8 216.4 223.9 212.2 223.9 220.0 224.0 221.4 224.0 221.9 224.0 228.8 224.0 227.7 224.0 228.0 224.0 225.6 224.0 224.9 224.1 221.4 224.1 223.0 224.1 224.2 224.1 225.7 224.1 223.6 224.1 228.3 224.1 226.6 224.2 231.9 224.2 232.1 224.2 230.5 224.2 231.5 224.2 217.7 224.2 219.6 224.3 213.4 224.3 210.3 224.3 211.2 224.4 228.7 224.4 226.7 224.4 226.4 224.4 219.7 224.4 221.5 224.4 215.5 224.4 217.6 224.5 219.5 224.5 219.5 224.5 220.8 224.5 218.5 224.5 230.4 224.5 225.5 224.6 227.7 224.6 227.9 224.6 226.4 224.6 226.5 224.6 224.9 224.7 214.1 224.7 217.8 224.7 214.8 224.7 220.0 224.7 217.7 224.8 231.1 224.8 232.0 224.8 230.6 224.9 231.8 224.9 232.0 224.9 235.0 224.9 229.3 225.0 225.1 225.0 225.9 225.0 226.1 225.0 222.7 225.0 227.6 225.1 225.7 225.1 228.8 225.1 229.9 225.2 223.2 225.2 229.7 225.2 226.0 225.2 230.3 225.2 229.3 225.2 229.0 225.3 215.4 225.3 215.2 225.3 212.6 225.3 214.0 225.4 225.6 225.4 233.3 225.4 235.1 225.5 233.9 225.5 236.4 225.5 236.3 225.5 238.7 225.6 236.3 225.6 236.8 225.6 231.7 225.7 232.0 225.7 232.3 225.7 210.8 225.8 210.2 225.8 201.0 225.8 203.3 225.8 202.1 225.8 202.8 225.8 200.6 225.8 204.3 225.9 232.9 225.9 232.6 225.9 232.3 226.0 225.9 226.0 224.5 226.0 223.5 226.0 219.7 226.0 223.1 226.0 224.1 226.0 221.6 226.0 229.4 226.1 231.4 226.1 230.4 226.2 230.3 226.2 231.3 226.2 231.4 226.2 232.4 226.2 230.3 226.2 230.7 226.2 230.5 226.2 234.2 226.3 218.1 226.3 218.5 226.3 221.3 226.4 233.4 226.4 231.3 226.5 233.9 226.5 235.6 226.6 236.9 226.6 237.9 226.6 208.1 226.7 226.7 226.7 231.7 226.8 231.3 226.8 224.9 226.8 216.7 226.9 218.4 226.9 219.0 226.9 234.3 227.0 234.3 227.0 236.7 227.1 227.7 227.1 223.1 227.1 227.6 227.1 226.8 227.1 230.9 227.2 226.2 227.2 225.3 227.2 226.9 227.2 231.1 227.3 228.4 227.3 229.4 227.3 232.3 227.3 234.0 227.3 227.4 227.4 226.4 227.4 228.2 227.4 226.9 227.4 229.0 227.4 229.3 227.5 229.0 227.5 231.5 227.5 227.2 227.5 229.4 227.6 228.7 227.6 227.4 227.6 228.7 227.6 230.1 227.6 231.1 227.6 233.2 227.6 230.4 227.7 226.5 227.7 225.1 227.7 226.9 227.7 225.3 227.7 224.2 227.7 226.9 227.8 225.8 227.9 217.9 227.9 217.2 228.0 215.1 228.0 216.1 228.0 215.2 228.0 222.4 228.1 230.2 228.1 232.9 228.1 237.3 228.1 236.5 228.2 231.9 228.2 230.8 228.2 236.0 228.2 235.0 228.3 231.4 228.3 234.8 228.3 231.1 228.3 234.1 228.3 234.2 228.4 237.2 228.4 233.0 228.4 234.7 228.4 233.9 228.5 223.6 228.6 227.8 228.6 223.0 228.6 223.1 228.6 223.5 228.7 229.5 228.7 226.6 228.7 226.1 228.7 224.9 228.8 225.5 228.8 227.1 228.8 231.1 228.8 226.8 228.8 233.0 228.8 226.3 228.8 227.1 228.9 232.9 228.9 236.0 228.9 230.7 228.9 233.0 228.9 233.4 229.0 234.0 229.0 231.5 229.0 234.2 229.0 229.9 229.0 232.0 229.1 237.1 229.1 236.6 229.1 233.6 229.2 233.0 229.2 235.5 229.2 227.9 229.2 233.1 229.3 232.4 229.3 237.6 229.3 238.1 229.3 237.0 229.3 245.8 229.3 243.0 229.4 244.4 229.4 242.8 229.4 244.3 229.5 241.1 229.5 243.2 229.5 245.7 229.5 232.0 229.6 232.4 229.6 239.9 229.6 231.3 229.6 231.3 229.6 231.4 229.7 231.4 229.7 226.2 229.7 222.2 229.7 233.7 229.7 230.0 229.7 230.5 229.7 233.4 229.7 231.0 229.8 235.9 229.8 231.0 229.9 240.2 229.9 241.0 229.9 239.3 229.9 238.0 230.0 235.4 230.0 236.2 230.0 236.0 230.0 234.0 230.2 227.7 230.2 243.3 230.3 251.7 230.3 245.1 230.3 244.5 230.4 246.7 230.5 237.7 230.5 237.9 230.5 236.9 230.5 237.6 230.5 237.9 230.5 251.3 230.5 250.6 230.6 251.0 230.6 250.1 230.6 250.3 230.6 252.3 230.7 249.7 230.7 248.9 230.8 248.2 230.8 250.6 230.8 247.8 230.8 248.2 230.9 249.0 230.9 249.2 231.0 251.1 231.0 252.7 231.0 249.4 231.0 256.1 231.0 255.0 231.0 255.4 231.0 252.4 231.0 252.8 231.1 253.6 231.1 251.2 231.1 247.9 231.1 249.7 231.2 242.8 231.2 241.0 231.2 241.4 231.2 244.6 231.2 240.1 231.2 242.0 231.2 241.5 231.2 239.0 231.3 247.6 231.3 246.2 231.4 251.1 231.4 251.7 231.4 252.4 231.4 251.8 231.5 245.4 231.5 250.4 231.5 253.3 231.6 255.7 231.6 256.4 231.6 258.1 231.6 250.5 231.6 256.5 231.7 251.9 231.7 250.9 231.7 251.5 231.7 251.4 231.7 256.4 231.7 258.4 231.7 255.4 231.8 251.5 231.9 256.0 231.9 261.5 231.9 258.8 231.9 268.0 232.0 262.6 232.1 265.6 232.1 267.5 232.1 267.0 232.1 266.6 232.1 267.2 232.1 270.6 232.2 269.5 232.2 270.6 232.2 265.1 232.3 264.3 232.3 264.8 232.3 264.6 232.3 269.6 232.3 266.5 232.4 271.6 232.4 269.9 232.4 271.5 232.4 271.7 232.4 271.2 232.4 273.5 232.4 272.6 232.5 271.0 232.5 270.9 232.5 273.8 232.6 269.8 232.6 268.7 232.7 261.4 232.7 264.4 232.7 260.6 232.8 263.7 232.8 263.3 233.0 270.1 233.0 269.2 233.0 266.3 233.0 265.9 233.1 268.2 233.1 262.4 233.1 265.5 233.2 267.4 233.3 278.1 233.3 281.3 233.3 272.8 233.3 271.4 233.3 273.1 233.3 273.7 233.3 271.6 233.4 272.3 233.4 280.9 233.4 279.2 233.4 282.2 233.4 278.9 233.4 278.5 233.4 279.7 233.4 279.5 233.5 282.4 233.6 289.5 233.6 292.5 233.6 292.5 233.6 290.1 233.6 292.0 233.6 291.4 233.6 293.4 233.6 291.9 233.6 291.7 233.7 288.1 233.7 283.4 233.8 281.4 233.8 281.4 233.8 282.8 233.8 277.8 233.8 277.7 233.9 276.3 233.9 273.5 233.9 275.5 233.9 272.2 233.9 279.8 233.9 277.1 233.9 279.4 233.9 281.7 234.0 279.4 234.0 279.6 234.0 281.7 234.1 281.5 234.1 281.9 234.1 281.3 234.1 280.2 234.2 277.7 234.2 277.4 234.2 277.8 234.2 279.1 234.2 277.2 234.2 277.2 234.3 278.1 234.3 276.0 234.3 275.3 234.4 265.8 234.4 273.3 234.4 271.9 234.4 271.6 234.4 272.4 234.4 276.8 234.4 275.3 234.4 276.7 234.5 271.5 234.5 265.2 234.5 268.8 234.6 267.9 234.6 263.5 234.6 261.9 234.6 269.3 234.6 269.7 234.6 267.8 234.6 268.8 234.7 263.2 234.7 266.5 234.7 261.5 234.7 267.8 234.7 267.5 234.7 265.0 234.8 269.6 234.8 270.3 234.8 265.1 234.8 266.8 234.8 268.6 234.9 266.0 234.9 262.8 234.9 263.7 234.9 263.7 235.0 261.0 235.0 260.1 235.0 259.1 235.0 259.8 235.0 261.4 235.1 255.0 235.1 257.9 235.1 256.3 235.1 253.9 235.1 258.1 235.1 255.3 235.1 255.6 235.1 251.8 235.1 250.7 235.1 252.3 235.2 252.2 235.2 252.9 235.3 263.3 235.3 259.0 235.3 259.0 235.3 262.7 235.4 260.1 235.4 262.1 235.5 258.5 235.5 257.9 235.5 259.5 235.5 261.5 235.6 251.1 235.6 259.8 235.7 254.7 235.7 254.0 235.7 254.7 235.7 250.1 235.8 247.0 235.8 248.4 235.8 247.0 235.8 250.3 235.8 246.0 235.8 248.2 235.8 245.5 236.0 226.8 236.0 229.5 236.0 226.9 236.0 228.1 236.0 225.6 236.0 227.3 236.0 246.2 236.0 248.3 236.1 247.5 236.1 242.0 236.1 241.1 236.1 247.7 236.2 244.3 236.2 243.1 236.2 245.1 236.2 242.1 236.2 242.3 236.2 244.2 236.2 246.7 236.3 244.5 236.3 243.2 236.3 247.9 236.4 247.9 236.4 248.6 236.4 250.0 236.4 246.9 236.5 245.4 236.5 244.0 236.5 245.0 236.5 247.3 236.5 248.9 236.6 243.2 236.6 242.2 236.6 232.0 236.6 231.6 236.6 233.0 236.7 234.9 236.7 231.4 236.7 229.0 236.8 242.2 236.8 239.4 236.8 239.4 236.9 239.8 236.9 238.7 237.0 236.3 237.0 238.2 237.0 238.2 237.0 239.3 237.0 238.7 237.0 240.1 237.1 237.5 237.1 224.8 237.3 237.0 237.3 240.2 237.3 241.7 237.4 226.9 237.4 226.7 237.5 219.9 237.6 230.2 237.6 227.4 237.6 227.8 237.6 227.3 237.7 225.7 237.7 226.9 237.7 218.7 237.7 225.0 237.7 220.2 237.8 221.1 237.8 224.3 237.8 220.4 237.8 228.9 237.9 225.6 237.9 224.0 237.9 218.8 237.9 214.2 238.0 212.4 238.0 216.1 238.0 221.1 238.0 221.3 238.0 222.1 238.1 221.1 238.1 229.8 238.1 231.0 238.1 229.8 238.1 230.4 238.1 230.1 238.2 230.4 238.2 231.4 238.2 231.2 238.3 231.0 238.3 230.1 238.3 230.6 238.3 229.8 238.3 228.4 238.3 229.7 238.4 227.9 238.4 227.4 238.4 226.0 238.4 228.0 238.4 225.2 238.4 223.8 238.4 225.9 238.5 217.6 238.5 218.6 238.6 211.9 238.6 211.4 238.6 213.4 238.6 208.9 238.6 212.9 238.6 211.7 238.6 211.4 238.7 211.2 238.7 217.8 238.7 221.7 238.7 221.2 238.7 219.6 238.7 215.0 238.8 228.6 238.8 228.7 238.8 226.3 238.8 228.7 238.9 208.3 238.9 211.6 238.9 219.0 239.0 207.1 239.0 207.6 239.1 218.6 239.1 218.2 239.1 220.1 239.1 217.9 239.1 226.1 239.2 227.6 239.2 225.3 239.2 228.5 239.2 226.4 239.2 226.4 239.2 227.1 239.2 227.0 239.3 227.6 239.3 226.6 239.3 225.7 239.3 224.0 239.3 222.2 239.4 225.5 239.4 225.2 239.4 222.4 239.5 223.9 239.5 216.4 239.6 212.4 239.6 217.1 239.7 215.5 239.7 216.4 239.7 216.8 239.7 224.5 239.8 226.7 239.8 220.1 239.8 219.0 239.8 220.4 239.9 218.8 239.9 216.7 239.9 217.6 239.9 218.7 240.0 223.7 240.0 224.6 240.0 223.1 240.0 222.7 240.0 222.5 240.1 220.5 240.1 221.0 240.1 223.2 240.1 224.3 240.1 226.3 240.1 225.0 240.2 208.2 240.2 206.5 240.2 217.1 240.3 221.1 240.3 219.5 240.4 219.3 240.4 217.4 240.4 217.9 240.4 220.0 240.4 216.3 240.4 219.4 240.4 218.4 240.4 217.5 240.5 217.1 240.5 223.2 240.5 223.0 240.5 216.9 240.6 223.1 240.6 223.3 240.6 224.0 240.6 223.1 240.7 219.0 240.7 222.2 240.7 215.9 240.8 213.1 240.8 207.9 240.8 216.6 240.8 217.9 240.9 218.1 240.9 216.8 241.0 222.3 241.0 219.4 241.0 221.1 241.0 226.2 241.1 227.9 241.1 225.1 241.2 220.5 241.2 223.6 241.2 223.3 241.2 224.8 241.2 223.8 241.2 221.5 241.2 222.6 241.3 220.4 241.4 219.2 241.4 221.5 241.4 224.2 241.5 214.7 241.5 214.9 241.5 221.3 241.5 218.9 241.6 216.7 241.6 220.5 241.6 214.8 241.6 216.9 241.7 218.4 241.7 219.1 241.7 216.9 241.7 219.2 241.7 222.8 241.7 226.1 241.8 228.2 241.8 228.9 241.9 225.8 241.9 223.3 241.9 221.6 241.9 217.6 242.0 214.2 242.0 215.4 242.0 217.7 242.1 207.8 242.2 217.8 242.2 219.2 242.2 220.0 242.3 223.0 242.3 222.9 242.3 225.5 242.4 222.9 242.4 225.3 242.4 218.3 242.5 215.6 242.5 213.9 242.5 217.8 242.6 220.2 242.6 220.5 242.6 217.0 242.6 220.6 242.7 222.4 242.7 223.0 242.7 221.4 242.7 223.7 242.7 224.3 242.7 217.4 242.7 217.9 242.7 217.9 242.8 215.9 242.8 216.4 242.8 212.3 242.8 219.1 242.9 214.2 242.9 214.2 242.9 219.5 242.9 219.7 242.9 216.7 243.0 216.6 243.0 224.3 243.1 226.5 243.1 227.5 243.1 226.5 243.1 225.6 243.1 227.5 243.1 229.4 243.2 230.0 243.2 229.6 243.2 220.2 243.2 219.1 243.2 221.0 243.3 220.4 243.3 223.1 243.3 217.3 243.3 217.8 243.3 217.8 243.3 218.9 243.3 216.6 243.4 218.2 243.4 218.1 243.4 219.6 243.4 218.8 243.4 218.8 243.5 221.9 243.5 223.0 243.5 223.6 243.5 219.9 243.5 223.8 243.5 221.4 243.6 221.4 243.6 215.6 243.6 223.9 243.6 223.5 243.6 225.5 243.6 224.2 243.6 224.2 243.7 227.5 243.7 218.3 243.8 219.4 243.8 222.3 243.8 225.4 243.8 224.3 243.8 226.8 243.8 227.9 243.8 225.5 243.9 226.3 243.9 218.6 243.9 222.8 244.0 219.8 244.0 218.9 244.0 229.5 244.0 227.0 244.1 213.4 244.2 221.6 244.2 220.5 244.2 220.8 244.2 221.2 244.3 220.0 244.3 221.3 244.3 223.0 244.3 223.6 244.3 224.3 244.4 221.0 244.5 220.8 244.5 220.0 244.5 222.0 244.5 220.2 244.5 223.2 244.6 225.5 244.6 221.4 244.7 223.6 244.7 224.0 244.7 224.3 244.7 225.1 244.8 218.4 244.8 221.0 244.8 221.4 244.9 226.6 244.9 223.1 244.9 225.3 244.9 226.3 244.9 222.9 244.9 225.9 245.0 236.4 245.0 232.6 245.0 231.3 245.2 239.2 245.2 239.6 245.3 235.8 245.3 235.8 245.3 237.7 245.3 232.2 245.4 238.7 245.4 240.6 245.4 234.7 245.4 238.0 245.4 233.8 245.5 237.5 245.5 238.6 245.5 239.8 245.5 239.6 245.6 237.7 245.6 241.8 245.6 243.1 245.6 240.4 245.6 241.9 245.6 236.9 245.7 238.6 245.7 234.9 245.7 231.9 245.7 230.6 245.8 229.8 245.8 242.0 245.8 241.0 245.8 243.1 245.9 246.9 245.9 243.2 245.9 242.6 245.9 243.1 245.9 239.2 245.9 241.1 246.0 246.1 246.0 247.1 246.0 246.3 246.0 245.1 246.1 245.6 246.1 240.6 246.1 241.2 246.1 242.6 246.2 240.2 246.2 238.1 246.2 241.9 246.3 246.0 246.3 248.0 246.3 251.0 246.4 241.6 246.4 242.7 246.4 243.2 246.4 245.7 246.4 238.5 246.4 237.4 246.4 234.8 246.4 238.5 246.4 238.0 246.4 241.2 246.6 232.9 246.8 232.1 246.8 243.8 246.8 241.5 246.9 244.6 246.9 243.6 246.9 248.3 246.9 249.3 246.9 251.0 246.9 248.4 247.0 247.8 247.0 248.0 247.0 245.5 247.0 246.0 247.0 247.5 247.1 250.1 247.1 241.8 247.1 240.4 247.2 241.5 247.2 246.5 247.2 247.2 247.2 247.1 247.2 247.2 247.3 242.5 247.3 234.7 247.3 233.4 247.4 236.3 247.4 236.8 247.4 249.3 247.4 248.6 247.4 248.1 247.5 246.1 247.5 247.7 247.5 247.0 247.5 246.7 247.6 244.5 247.6 241.9 247.6 239.3 247.6 238.3 247.6 240.1 247.7 246.4 247.7 250.9 247.7 247.0 247.7 245.1 247.7 248.9 247.8 249.2 247.8 244.4 247.8 242.6 247.9 241.5 247.9 243.2 248.0 237.9 248.1 255.8 248.1 256.6 248.1 260.0 248.2 259.0 248.2 251.0 248.2 251.0 248.2 254.5 248.2 250.1 248.2 250.3 248.3 244.5 248.3 244.6 248.3 245.9 248.3 250.9 248.4 254.7 248.4 258.4 248.5 247.1 248.5 248.4 248.5 252.5 248.6 246.0 248.6 249.1 248.6 250.2 248.6 260.3 248.6 260.6 248.7 255.9 248.7 261.9 248.7 261.1 248.7 267.0 248.8 256.2 248.8 257.6 248.8 255.0 248.8 258.8 248.9 259.4 248.9 259.8 248.9 259.5 248.9 261.9 248.9 261.8 249.0 263.0 249.0 261.3 249.0 252.3 249.0 252.7 249.1 258.9 249.1 257.4 249.1 260.7 249.1 258.4 249.1 258.0 249.1 259.2 249.2 259.5 249.2 263.5 249.3 267.3 249.3 267.5 249.3 264.2 249.3 259.4 249.4 258.2 249.4 261.2 249.4 262.1 249.4 258.5 249.4 259.4 249.4 256.9 249.5 260.4 249.5 259.3 249.5 259.2 249.6 259.9 249.6 259.6 249.6 258.8 249.6 261.0 249.6 261.6 249.6 259.8 249.7 248.0 249.7 248.4 249.7 254.4 249.8 256.5 249.8 251.3 249.8 259.2 249.8 268.3 249.9 268.1 249.9 262.3 249.9 262.5 249.9 262.8 249.9 256.4 249.9 257.6 249.9 258.3 249.9 254.5 249.9 258.2 250.0 256.7 250.0 259.6 250.0 258.7 250.0 260.0 250.1 260.3 250.1 257.9 250.2 266.6 250.2 266.0 250.2 268.0 250.2 268.1 250.2 271.1 250.2 269.9 250.2 273.2 250.2 272.7 250.3 269.7 250.3 272.0 250.3 271.3 250.3 271.6 250.3 268.0 250.3 272.2 250.4 270.7 250.4 275.2 250.4 272.7 250.5 265.1 250.5 272.3 250.6 264.0 250.6 263.0 250.6 263.6 250.6 264.6 250.6 265.4 250.6 263.1 250.6 259.9 250.6 261.9 250.6 265.3 250.6 263.0 250.7 263.1 250.7 269.0 250.7 264.0 250.7 259.6 250.8 256.5 250.9 258.2 250.9 268.8 250.9 267.7 250.9 264.2 251.0 265.5 251.0 261.5 251.0 267.0 251.1 280.6 251.1 277.4 251.1 276.6 251.1 272.3 251.1 277.0 251.1 273.4 251.2 265.4 251.2 272.5 251.2 274.8 251.3 263.5 251.3 270.4 251.3 266.8 251.3 267.4 251.3 263.9 251.3 267.3 251.3 265.1 251.4 269.3 251.4 264.9 251.4 275.6 251.5 279.1 251.5 278.1 251.5 282.0 251.5 279.3 251.5 277.8 251.5 280.2 251.5 272.3 251.6 267.1 251.6 274.9 251.6 277.3 251.7 275.5 251.7 263.8 251.7 259.7 251.7 259.9 251.7 262.4 251.8 262.4 251.8 269.6 251.8 271.4 251.8 270.5 251.9 270.1 251.9 271.3 251.9 266.8 251.9 268.1 251.9 268.5 252.0 271.4 252.0 273.7 252.0 271.4 252.0 272.3 252.1 261.4 252.1 260.1 252.1 262.0 252.1 261.0 252.1 257.5 252.2 258.0 252.2 257.3 252.2 256.4 252.2 254.9 252.2 256.8 252.2 257.7 252.3 257.3 252.3 253.6 252.3 259.0 252.3 252.1 252.3 253.7 252.4 248.8 252.4 251.1 252.4 255.6 252.4 253.7 252.4 255.9 252.4 257.5 252.5 257.5 252.5 257.4 252.5 256.7 252.5 261.2 252.5 257.9 252.6 264.6 252.6 260.5 252.6 258.4 252.6 261.8 252.6 263.7 252.6 259.9 252.7 260.7 252.7 264.5 252.7 264.3 252.7 259.7 252.7 257.9 252.7 255.4 252.8 253.2 252.8 254.0 252.8 253.0 252.9 254.6 252.9 256.2 252.9 253.4 253.0 256.0 253.0 259.3 253.0 250.4 253.0 251.6 253.0 253.7 253.1 252.4 253.3 256.0 253.3 255.0 253.3 256.8 253.3 259.2 253.3 255.7 253.4 254.9 253.4 254.9 253.4 255.7 253.4 268.7 253.5 262.3 253.5 263.7 253.5 267.7 253.5 264.4 253.5 256.8 253.6 261.1 253.6 257.3 253.7 262.4 253.7 257.2 253.7 256.9 253.7 262.4 253.7 262.1 253.7 261.2 253.7 263.3 253.7 264.1 253.8 261.2 253.8 248.8 253.8 249.0 253.8 247.8 253.8 244.0 253.8 241.3 253.9 241.1 253.9 241.7 254.0 244.6 254.0 244.4 254.0 248.4 254.0 251.4 254.0 253.1 254.0 250.6 254.0 249.7 254.1 251.9 254.1 245.9 254.1 246.1 254.2 238.2 254.2 238.8 254.2 239.3 254.2 238.2 254.2 237.5 254.3 241.2 254.3 243.0 254.3 248.5 254.3 244.8 254.4 245.9 254.4 238.4 254.4 239.4 254.4 244.0 254.4 238.3 254.4 236.6 254.4 245.4 254.5 245.1 254.5 248.1 254.6 247.7 254.6 235.0 254.7 238.7 254.7 250.4 254.7 248.9 254.7 242.9 254.8 241.4 254.8 243.0 254.8 248.0 254.8 249.5 254.8 244.2 254.9 243.3 254.9 245.3 254.9 244.9 254.9 247.2 254.9 240.1 255.0 236.7 255.0 235.8 255.0 240.5 255.1 242.6 255.1 247.2 255.1 245.6 255.1 243.6 255.1 246.1 255.1 240.5 255.2 227.0 255.2 230.5 255.2 239.5 255.3 241.6 255.3 239.0 255.3 240.3 255.3 239.5 255.4 231.9 255.4 234.5 255.5 233.2 255.5 228.9 255.5 236.0 255.5 237.2 255.5 237.4 255.6 235.9 255.6 239.5 255.6 239.1 255.6 232.1 255.6 232.6 255.6 229.2 255.7 237.0 255.7 239.2 255.8 230.9 255.8 232.5 255.8 230.2 255.9 236.1 256.0 236.3 256.0 236.4 256.1 237.3 256.1 234.4 256.1 237.6 256.2 236.9 256.2 236.9 256.2 238.1 256.3 235.8 256.3 235.9 256.4 235.9 256.4 234.1 256.4 230.5 256.4 227.3 256.4 227.6 256.5 231.3 256.5 228.6 256.5 231.5 256.5 228.8 256.6 227.1 256.6 228.8 256.6 221.1 256.7 223.3 256.7 217.1 256.7 217.2 256.8 214.5 256.9 216.6 256.9 221.4 256.9 224.5 256.9 218.4 257.0 220.4 257.0 215.3 257.0 216.2 257.0 214.7 257.0 220.8 257.0 222.5 257.1 223.9 257.1 225.7 257.1 225.4 257.1 226.9 257.1 231.6 257.2 232.7 257.2 228.4 257.2 226.3 257.2 222.5 257.3 229.0 257.3 230.3 257.3 223.5 257.3 224.5 257.4 226.5 257.4 225.2 257.4 224.9 257.5 222.0 257.5 216.9 257.5 220.5 257.5 219.2 257.6 221.9 257.6 220.3 257.6 221.9 257.6 228.2 257.7 231.2 257.7 229.2 257.7 233.7 257.8 230.9 257.8 231.3 257.8 231.3 257.8 225.3 257.9 221.9 257.9 220.2 257.9 219.6 258.0 221.7 258.0 224.9 258.0 220.4 258.0 219.6 258.0 218.9 258.0 217.9 258.0 223.6 258.0 219.1 258.0 219.0 258.1 217.2 258.1 214.7 258.1 219.0 258.1 217.8 258.2 217.8 258.2 221.4 258.2 222.2 258.2 227.2 258.2 221.8 258.3 222.6 258.3 219.1 258.3 218.3 258.3 220.5 258.4 219.2 258.4 212.9 258.5 211.0 258.5 216.1 258.5 216.7 258.5 217.1 258.5 216.1 258.6 219.3 258.6 216.6 258.6 229.0 258.6 226.6 258.6 222.6 258.7 224.2 258.7 226.7 258.7 225.9 258.7 226.7 258.7 227.7 258.7 234.5 258.7 234.1 258.8 224.3 258.8 229.5 258.8 226.7 258.8 227.2 258.8 224.6 258.9 214.0 258.9 210.7 258.9 210.8 258.9 212.7 259.0 223.7 259.0 222.5 259.1 227.2 259.1 223.8 259.1 225.5 259.1 223.3 259.1 215.6 259.2 213.9 259.2 218.3 259.2 217.2 259.2 213.5 259.2 211.6 259.3 213.3 259.3 214.5 259.3 215.4 259.3 214.1 259.4 220.1 259.4 221.5 259.4 218.2 259.4 216.8 259.4 220.3 259.5 221.7 259.5 218.9 259.5 217.8 259.6 212.3 259.6 208.1 259.6 211.2 259.6 211.2 259.7 219.2 259.7 220.3 259.7 220.3 259.7 220.7 259.8 219.1 259.8 216.1 259.8 219.2 259.8 214.9 259.8 218.0 259.9 216.0 259.9 217.0 259.9 215.1 259.9 212.6 259.9 214.9 259.9 216.1 259.9 213.3 259.9 212.9 260.0 216.4 260.0 217.3 260.0 215.5 260.0 217.1 260.0 219.2 260.0 221.2 260.0 218.2 260.1 215.8 260.1 217.6 260.1 218.6 260.1 222.3 260.2 215.1 260.2 214.9 260.2 215.5 260.3 216.6 260.3 213.4 260.3 212.1 260.3 215.5 260.3 218.8 260.4 216.8 260.4 218.3 260.4 222.6 260.4 225.7 260.5 221.3 260.5 218.1 260.5 220.3 260.6 219.3 260.6 201.8 260.6 203.6 260.6 201.5 260.7 216.6 260.7 215.2 260.8 215.5 260.8 218.9 260.8 215.4 260.8 218.9 260.8 217.5 260.9 216.2 260.9 218.2 260.9 214.0 261.0 220.6 261.0 219.8 261.0 222.4 261.0 222.4 261.1 220.5 261.1 210.0 261.1 218.4 261.2 215.6 261.2 210.2 261.3 209.8 261.4 216.9 261.4 214.3 261.5 214.6 261.5 213.1 261.5 212.4 261.6 209.2 261.6 212.4 261.6 211.0 261.7 212.3 261.7 211.2 261.7 211.4 261.7 210.2 261.7 212.6 261.7 212.7 261.8 213.9 261.8 209.9 261.8 211.1 261.8 211.0 261.9 210.3 261.9 211.2 261.9 209.4 261.9 213.2 262.0 217.8 262.0 216.9 262.0 217.0 262.0 218.7 262.0 218.1 262.1 219.3 262.1 215.8 262.1 215.0 262.1 214.8 262.1 216.7 262.1 215.7 262.1 225.8 262.2 224.0 262.2 222.9 262.2 222.7 262.2 222.7 262.2 221.5 262.2 217.4 262.2 220.0 262.2 212.9 262.3 214.8 262.3 214.0 262.3 214.7 262.3 213.3 262.3 215.8 262.3 213.7 262.4 220.3 262.4 219.7 262.4 219.7 262.4 218.5 262.4 213.3 262.4 216.9 262.5 215.4 262.5 216.6 262.5 212.3 262.5 217.0 262.5 218.3 262.5 218.3 262.5 216.5 262.5 214.4 262.6 216.5 262.6 213.1 262.6 211.7 262.6 216.8 262.7 207.1 262.7 206.9 262.7 211.6 262.8 215.2 262.8 211.9 262.9 217.1 262.9 217.4 262.9 215.6 262.9 219.0 263.0 214.7 263.0 216.7 263.0 218.6 263.0 218.4 263.0 215.3 263.0 220.4 263.1 217.4 263.1 220.7 263.1 217.9 263.2 221.7 263.2 221.5 263.3 229.6 263.3 232.4 263.3 228.6 263.3 229.5 263.4 228.3 263.4 225.9 263.4 225.3 263.4 228.5 263.4 226.5 263.4 231.9 263.4 228.7 263.4 231.8 263.5 232.0 263.5 227.1 263.6 227.0 263.6 230.4 263.6 231.2 263.6 229.5 263.6 229.1 263.7 231.7 263.7 229.2 263.8 235.4 263.8 235.3 263.9 240.2 263.9 241.2 263.9 239.0 263.9 237.6 263.9 237.0 263.9 240.7 263.9 238.2 264.0 230.0 264.0 231.5 264.0 232.6 264.0 232.4 264.0 235.2 264.1 232.8 264.1 234.4 264.1 233.8 264.1 226.3 264.2 220.8 264.2 226.2 264.2 221.6 264.2 220.2 264.2 219.5 264.3 231.1 264.3 224.9 264.3 222.5 264.4 210.8 264.4 207.9 264.4 210.5 264.4 210.6 264.4 213.1 264.4 209.4 264.4 210.8 264.5 212.0 264.5 209.9 264.5 215.7 264.5 230.6 264.5 232.3 264.5 230.2 264.5 233.2 264.6 230.4 264.6 234.8 264.6 233.9 264.6 233.4 264.6 228.7 264.7 230.3 264.7 229.7 264.7 230.4 264.7 231.5 264.7 231.4 264.8 233.2 264.8 235.3 264.8 233.0 264.8 233.5 264.8 233.2 264.9 227.6 265.0 225.3 265.0 227.4 265.0 226.9 265.0 227.2 265.0 232.9 265.0 226.9 265.0 224.0 265.1 225.2 265.1 226.5 265.1 225.6 265.2 231.4 265.2 238.4 265.2 236.7 265.2 235.0 265.2 240.4 265.2 236.4 265.3 238.7 265.3 240.0 265.3 233.9 265.3 235.4 265.3 242.6 265.3 236.6 265.3 239.5 265.3 239.0 265.4 236.8 265.4 239.7 265.4 244.4 265.4 244.7 265.4 256.0 265.5 254.0 265.5 251.8 265.5 249.6 265.5 253.2 265.5 250.5 265.5 236.6 265.5 235.4 265.6 234.2 265.6 238.4 265.7 233.3 265.7 232.8 265.7 233.1 265.7 244.3 265.7 241.3 265.8 242.7 265.8 233.0 265.8 232.4 265.8 230.5 265.8 234.5 265.9 242.8 265.9 240.3 265.9 242.0 265.9 240.2 265.9 238.9 265.9 241.8 265.9 241.4 265.9 238.2 265.9 236.1 266.0 233.1 266.0 230.4 266.0 239.0 266.0 242.5 266.0 241.9 266.0 237.3 266.0 237.3 266.0 237.9 266.2 234.1 266.2 235.0 266.2 246.8 266.2 245.5 266.3 248.1 266.3 248.4 266.3 246.5 266.3 246.9 266.3 244.2 266.4 246.8 266.4 235.1 266.4 235.4 266.4 237.4 266.5 238.8 266.5 233.0 266.6 245.0 266.6 244.7 266.6 248.2 266.6 247.8 266.6 249.6 266.6 247.4 266.7 252.7 266.7 250.1 266.7 254.3 266.7 254.5 266.7 255.5 266.8 270.0 266.8 261.0 266.8 266.7 266.8 262.8 266.8 262.4 266.8 261.0 266.9 258.1 266.9 258.9 266.9 258.7 266.9 244.1 266.9 249.2 267.0 247.1 267.0 245.9 267.0 249.7 267.0 249.6 267.0 251.3 267.0 250.1 267.0 248.6 267.0 249.7 267.0 247.5 267.1 244.9 267.1 250.2 267.1 251.8 267.1 258.9 267.2 257.5 267.2 272.4 267.2 266.7 267.2 268.7 267.2 261.0 267.3 255.9 267.3 258.9 267.4 263.4 267.4 266.2 267.4 265.9 267.4 261.5 267.5 261.4 267.5 262.1 267.5 266.7 267.5 261.7 267.5 260.2 267.6 262.4 267.6 258.2 267.6 260.1 267.6 261.8 267.6 265.6 267.7 259.3 267.7 255.5 267.8 263.1 267.9 268.7 267.9 265.5 267.9 267.3 268.0 261.0 268.0 262.1 268.0 261.1 268.0 261.8 268.0 262.1 268.0 262.6 268.0 259.8 268.0 262.9 268.0 262.3 268.1 249.3 268.1 252.6 268.2 255.4 268.2 254.6 268.2 253.0 268.2 253.7 268.2 252.8 268.2 252.4 268.2 261.6 268.2 258.9 268.3 265.7 268.3 268.6 268.3 264.9 268.3 262.7 268.3 264.5 268.3 277.1 268.4 279.6 268.4 254.6 268.4 254.9 268.4 256.7 268.4 256.4 268.5 256.0 268.5 248.2 268.5 246.2 268.5 244.7 268.6 248.6 268.6 248.0 268.6 247.1 268.6 250.3 268.7 249.4 268.7 252.5 268.7 257.6 268.7 255.1 268.7 255.9 268.7 253.7 268.8 254.9 268.8 251.1 268.8 255.7 268.9 261.6 268.9 260.1 268.9 258.1 268.9 259.0 269.0 262.8 269.0 255.8 269.0 258.3 269.0 257.6 269.1 262.3 269.1 254.3 269.1 265.4 269.2 264.9 269.2 263.3 269.2 263.7 269.2 262.6 269.2 255.6 269.3 259.7 269.3 262.3 269.3 263.3 269.3 263.6 269.4 260.7 269.4 259.5 269.4 258.0 269.5 265.6 269.5 268.2 269.5 264.4 269.5 260.2 269.6 258.8 269.6 259.1 269.6 262.3 269.6 256.5 269.6 254.3 269.6 254.6 269.6 252.5 269.6 255.0 269.7 260.8 269.7 257.6 269.7 255.4 269.7 254.8 269.8 264.3 269.8 267.8 269.8 263.4 269.8 267.8 269.8 244.0 269.9 247.4 269.9 248.2 269.9 249.7 269.9 252.7 269.9 253.5 269.9 254.3 269.9 252.4 270.0 247.1 270.0 244.1 270.0 248.4 270.0 247.0 270.0 243.5 270.0 242.7 270.0 244.7 270.0 251.5 270.1 254.7 270.1 253.7 270.1 261.8 270.1 254.0 270.2 252.8 270.2 253.8 270.3 249.3 270.3 245.0 270.4 246.2 270.4 248.6 270.4 255.3 270.4 261.1 270.4 261.3 270.5 263.1 270.5 256.9 270.5 258.1 270.5 254.2 270.5 264.5 270.6 247.1 270.6 246.3 270.7 252.5 270.7 250.7 270.7 253.8 270.7 241.9 270.7 240.3 270.7 241.3 270.8 236.9 270.8 236.1 270.8 235.6 270.8 233.6 270.8 238.4 270.9 241.8 270.9 243.9 271.0 239.7 271.0 250.1 271.0 244.2 271.0 241.8 271.1 242.8 271.1 237.8 271.2 235.3 271.2 237.5 271.2 238.7 271.3 239.3 271.3 240.8 271.3 231.7 271.3 233.9 271.3 233.8 271.3 234.8 271.3 234.0 271.3 233.8 271.3 235.0 271.3 235.1 271.4 233.9 271.4 243.9 271.4 241.8 271.4 248.5 271.4 245.2 271.6 235.7 271.6 237.2 271.6 234.4 271.6 235.6 271.6 235.8 271.6 234.5 271.6 236.6 271.6 238.5 271.6 236.7 271.6 238.3 271.6 236.4 271.6 235.4 271.7 236.4 271.7 239.5 271.7 240.6 271.7 239.3 271.8 236.6 271.8 239.5 271.8 237.9 271.8 238.3 271.9 237.9 271.9 233.6 271.9 235.8 271.9 233.8 272.0 236.0 272.0 233.9 272.0 234.5 272.0 236.4 272.1 236.4 272.1 235.8 272.1 236.4 272.2 235.5 272.2 229.0 272.2 232.1 272.2 225.2 272.2 228.5 272.2 226.3 272.3 222.4 272.3 219.5 272.3 223.9 272.3 221.9 272.3 221.0 272.3 223.2 272.4 225.1 272.4 225.5 272.4 227.2 272.4 229.3 272.4 228.4 272.5 225.9 272.5 222.5 272.6 221.3 272.6 217.7 272.6 222.9 272.6 222.3 272.7 229.5 272.7 232.7 272.7 227.5 272.7 224.5 272.8 224.1 272.8 223.8 272.9 221.5 272.9 222.8 272.9 224.2 272.9 220.9 272.9 222.7 273.1 222.9 273.1 224.4 273.1 223.8 273.1 223.0 273.2 206.6 273.2 196.7 273.2 202.3 273.2 197.9 273.2 198.6 273.3 213.4 273.3 213.7 273.3 220.1 273.3 228.9 273.4 222.2 273.4 223.1 273.5 219.8 273.5 228.4 273.6 224.7 273.6 228.2 273.6 227.3 273.6 231.3 273.6 233.3 273.7 223.8 273.7 225.4 273.7 222.0 273.8 215.4 273.8 215.4 273.8 191.1 273.8 194.8 273.8 192.8 273.9 194.2 273.9 191.4 274.0 213.5 274.0 212.0 274.0 213.6 274.1 206.2 274.1 211.5 274.1 207.1 274.1 210.9 274.2 207.8 274.2 211.4 274.2 209.7 274.2 213.1 274.2 212.1 274.2 209.6 274.3 221.6 274.3 221.7 274.4 213.3 274.4 214.3 274.4 206.3 274.5 206.0 274.5 201.6 274.5 202.3 274.6 205.6 274.6 208.9 274.6 212.3 274.7 211.0 274.7 211.9 274.7 208.4 274.7 211.9 274.8 214.4 274.8 215.0 274.8 213.9 274.8 213.6 274.8 207.9 274.8 214.2 274.9 217.0 274.9 219.4 274.9 223.4 275.0 223.8 275.0 221.3 275.0 226.2 275.0 227.7 275.1 217.9 275.1 214.8 275.2 214.2 275.2 212.6 275.2 215.0 275.2 210.4 275.3 209.1 275.4 204.0 275.4 200.1 275.4 205.8 275.5 207.8 275.5 205.2 275.5 205.1 275.5 202.5 275.5 205.4 275.6 212.4 275.6 211.7 275.6 215.8 275.7 208.8 275.7 212.8 275.7 207.5 275.7 205.5 275.7 207.7 275.8 204.3 275.8 212.6 275.8 212.1 275.9 206.3 275.9 205.5 275.9 206.2 275.9 211.9 275.9 202.2 275.9 201.2 275.9 200.1 276.0 193.6 276.0 193.4 276.0 197.0 276.1 199.7 276.1 205.6 276.1 202.7 276.1 204.7 276.1 207.4 276.2 207.5 276.2 208.2 276.2 211.8 276.3 204.5 276.3 206.4 276.3 205.4 276.4 206.0 276.4 206.9 276.4 202.9 276.5 204.7 276.5 202.9 276.5 200.2 276.6 200.7 276.7 206.5 276.7 209.0 276.7 206.5 276.7 210.9 276.8 206.9 276.8 206.1 276.8 211.8 276.8 204.6 276.8 200.5 276.8 202.5 276.8 209.5 276.9 208.6 276.9 208.7 276.9 203.4 276.9 208.1 276.9 207.5 277.0 209.7 277.0 206.4 277.0 205.8 277.0 207.9 277.0 206.1 277.0 209.4 277.1 206.1 277.1 204.0 277.1 203.7 277.1 206.7 277.1 202.4 277.1 201.7 277.1 204.6 277.1 205.8 277.2 215.8 277.2 211.7 277.2 211.9 277.2 209.4 277.3 215.3 277.3 211.6 277.4 188.2 277.4 192.5 277.4 195.9 277.5 196.9 277.5 194.2 277.5 212.0 277.5 209.6 277.6 211.6 277.7 210.4 277.7 209.2 277.7 207.3 277.8 207.1 277.8 204.7 277.8 206.1 277.8 206.1 277.8 206.5 277.9 210.5 277.9 211.1 277.9 209.7 277.9 211.1 278.0 211.7 278.0 214.9 278.0 212.7 278.1 214.6 278.1 216.8 278.1 215.1 278.2 211.0 278.2 206.9 278.3 211.7 278.4 205.0 278.4 203.8 278.4 204.5 278.4 205.0 278.4 208.7 278.4 207.8 278.5 210.2 278.5 208.2 278.5 207.7 278.5 210.5 278.5 208.0 278.5 212.3 278.5 207.0 278.6 210.4 278.6 211.4 278.6 181.9 278.6 190.6 278.7 189.4 278.7 191.2 278.7 192.9 278.7 192.8 278.7 192.6 278.7 188.1 278.7 188.4 278.8 217.2 278.8 216.4 278.8 222.5 278.8 222.0 278.9 211.8 278.9 213.8 278.9 213.0 278.9 210.8 279.0 212.0 279.1 218.7 279.1 218.0 279.1 219.6 279.1 219.1 279.2 219.5 279.2 205.2 279.3 209.4 279.3 213.2 279.3 211.7 279.3 212.1 279.3 213.3 279.4 202.4 279.4 202.1 279.4 214.1 279.5 214.1 279.5 217.2 279.5 216.0 279.5 213.3 279.5 209.4 279.6 214.1 279.6 213.6 279.6 209.1 279.6 211.4 279.6 210.5 279.7 213.1 279.7 215.6 279.7 214.4 279.7 214.0 279.7 212.3 279.7 215.9 279.8 217.8 279.8 216.0 279.8 207.4 279.8 211.7 279.9 208.8 279.9 210.2 280.0 223.4 280.0 218.2 280.0 217.3 280.0 218.1 280.0 216.4 280.0 218.7 280.0 217.5 280.1 214.9 280.1 223.4 280.1 228.9 280.2 227.7 280.2 223.3 280.2 224.1 280.2 225.0 280.3 227.2 280.3 227.6 280.3 226.9 280.4 223.2 280.4 218.2 280.5 221.2 280.5 220.0 280.5 221.0 280.5 223.2 280.6 218.8 280.6 217.6 280.6 215.0 280.6 215.9 280.7 210.8 280.7 213.6 280.7 218.3 280.7 216.3 280.7 216.7 280.7 217.6 280.7 214.2 280.8 226.2 280.8 229.3 280.8 223.6 280.8 226.6 280.9 230.7 280.9 221.4 281.0 221.8 281.0 222.1 281.1 197.3 281.1 197.0 281.2 199.3 281.2 202.3 281.2 202.8 281.3 217.5 281.3 217.6 281.3 225.3 281.4 228.5 281.4 230.8 281.4 229.2 281.4 228.3 281.4 227.1 281.4 225.8 281.4 223.4 281.4 225.7 281.5 226.8 281.5 232.0 281.6 237.3 281.6 232.1 281.6 231.5 281.6 227.9 281.6 227.3 281.6 230.7 281.7 227.4 281.7 228.7 281.7 228.8 281.7 227.1 281.7 222.1 281.7 219.8 281.7 220.7 281.7 224.1 281.7 223.6 281.7 223.8 281.8 221.5 281.8 223.6 281.8 224.4 281.8 229.0 281.8 229.1 281.9 228.5 281.9 232.6 281.9 228.1 281.9 233.4 282.0 234.1 282.0 234.2 282.0 234.2 282.0 235.3 282.0 234.9 282.0 230.0 282.0 227.2 282.1 232.2 282.1 229.1 282.1 227.7 282.2 227.8 282.2 229.2 282.2 229.6 282.2 227.1 282.2 232.5 282.2 231.7 282.2 234.5 282.3 238.9 282.3 238.0 282.3 237.6 282.3 241.1 282.4 244.8 282.4 243.1 282.4 240.3 282.4 242.0 282.4 244.7 282.4 240.4 282.5 242.0 282.5 239.4 282.5 240.7 282.5 239.3 282.5 239.9 282.5 242.3 282.5 239.4 282.6 236.5 282.6 235.7 282.6 238.4 282.6 237.9 282.6 238.7 282.6 239.0 282.7 238.1 282.7 239.9 282.7 248.6 282.7 245.5 282.7 244.0 282.7 244.5 282.8 243.8 282.8 262.5 282.8 257.9 282.8 262.6 282.9 246.7 283.0 244.6 283.0 250.5 283.0 251.3 283.1 254.4 283.1 254.0 283.1 251.1 283.1 256.2 283.1 253.5 283.1 248.1 283.1 250.0 283.2 249.9 283.2 244.8 283.2 244.3 283.2 246.1 283.2 248.8 283.2 244.4 283.2 247.4 283.2 242.0 283.2 238.5 283.3 240.6 283.3 239.1 283.3 237.9 283.3 234.1 283.4 239.6 283.4 249.3 283.4 247.7 283.4 249.4 283.4 248.5 283.4 247.1 283.5 250.9 283.5 250.7 283.5 251.6 283.6 262.5 283.6 264.6 283.6 265.7 283.6 262.9 283.6 264.9 283.7 251.7 283.7 249.4 283.7 248.4 283.7 245.8 283.7 247.0 283.8 249.4 283.8 246.6 283.8 247.1 283.8 249.3 283.8 248.2 283.8 248.7 283.9 247.1 283.9 246.7 283.9 248.9 283.9 247.6 283.9 254.3 284.0 251.7 284.0 252.1 284.0 253.8 284.1 250.0 284.1 254.5 284.1 254.7 284.1 250.1 284.1 253.6 284.1 254.2 284.2 256.5 284.2 245.3 284.3 251.5 284.3 253.1 284.3 251.7 284.3 248.4 284.3 253.9 284.3 255.6 284.4 252.5 284.4 258.3 284.5 259.9 284.5 253.8 284.5 249.6 284.5 250.5 284.5 251.6 284.5 248.8 284.6 245.9 284.6 250.8 284.6 248.4 284.6 251.4 284.6 251.1 284.6 252.9 284.6 251.0 284.6 246.3 284.6 252.8 284.7 251.1 284.7 249.9 284.8 255.5 284.8 256.1 284.8 256.4 284.9 262.5 284.9 264.0 284.9 267.5 284.9 265.7 284.9 266.0 284.9 254.7 285.0 255.0 285.0 261.0 285.0 262.1 285.0 257.5 285.0 258.3 285.0 255.0 285.0 257.6 285.0 257.5 285.0 256.9 285.1 266.6 285.1 258.1 285.1 260.2 285.2 248.7 285.2 249.7 285.2 250.7 285.3 255.5 285.3 253.0 285.3 259.7 285.4 265.3 285.5 265.5 285.5 268.9 285.5 268.2 285.6 259.0 285.6 253.7 285.6 255.2 285.6 267.3 285.7 268.1 285.7 267.9 285.8 266.5 285.8 271.9 285.8 272.3 285.9 260.7 285.9 259.7 285.9 260.6 285.9 258.0 286.0 263.8 286.0 263.1 286.0 264.9 286.0 255.2 286.1 244.8 286.2 262.9 286.2 267.2 286.2 268.9 286.2 270.8 286.2 265.3 286.3 252.6 286.3 249.8 286.4 247.9 286.4 246.6 286.4 247.1 286.4 243.0 286.4 238.6 286.4 231.7 286.5 235.5 286.5 232.8 286.5 235.3 286.5 236.3 286.6 229.2 286.6 234.6 286.6 232.5 286.6 243.9 286.7 239.9 286.7 243.2 286.7 250.3 286.8 250.1 286.8 253.8 286.8 250.6 286.8 249.2 286.9 244.4 286.9 246.9 286.9 246.9 286.9 237.0 287.0 232.0 287.0 233.8 287.0 232.4 287.0 232.1 287.0 233.1 287.0 233.6 287.1 233.9 287.1 232.0 287.2 243.6 287.2 236.8 287.2 240.3 287.2 236.9 287.3 234.1 287.4 234.8 287.4 237.2 287.4 230.6 287.5 231.8 287.5 231.4 287.5 230.1 287.6 230.3 287.6 227.7 287.6 231.2 287.6 230.7 287.6 236.1 287.6 234.0 287.7 229.0 287.7 231.0 287.7 232.4 287.8 230.2 287.8 231.3 287.8 226.5 287.9 224.1 287.9 230.1 287.9 234.8 287.9 235.9 288.0 225.0 288.0 225.7 288.0 225.9 288.0 226.1 288.1 223.8 288.2 218.8 288.2 224.9 288.2 221.7 288.2 216.4 288.2 214.5 288.3 216.8 288.3 215.7 288.3 219.7 288.3 214.0 288.3 216.8 288.3 225.1 288.4 222.8 288.4 224.0 288.5 224.5 288.5 221.5 288.5 224.3 288.5 226.0 288.5 224.4 288.6 225.4 288.6 221.9 288.6 222.6 288.6 222.4 288.6 215.6 288.6 216.3 288.6 214.7 288.7 225.4 288.7 228.0 288.7 226.8 288.7 225.2 288.8 219.6 288.8 218.6 288.8 217.9 288.8 217.1 288.9 217.1 288.9 221.8 288.9 224.1 288.9 217.7 288.9 223.7 288.9 221.0 288.9 221.5 289.0 221.3 289.0 223.4 289.0 223.7 289.0 218.0 289.0 222.7 289.0 219.7 289.0 207.5 289.1 202.7 289.1 204.3 289.2 214.9 289.2 223.1 289.3 218.7 289.3 223.6 289.3 211.7 289.3 217.0 289.4 218.4 289.4 217.0 289.5 219.4 289.5 219.4 289.5 227.6 289.6 227.0 289.6 225.3 289.6 229.3 289.6 225.9 289.6 225.1 289.6 225.4 289.7 221.4 289.7 224.0 289.7 222.3 289.8 219.8 289.8 209.7 289.8 213.6 289.8 214.0 289.8 213.1 289.9 219.8 289.9 218.0 290.0 210.1 290.0 206.0 290.0 216.2 290.0 219.7 290.0 216.2 290.0 220.9 290.1 204.5 290.1 210.2 290.1 205.0 290.2 207.0 290.2 205.6 290.2 207.2 290.2 210.2 290.3 209.3 290.3 209.1 290.3 207.6 290.3 210.8 290.3 206.6 290.3 202.6 290.4 204.2 290.4 206.3 290.4 205.2 290.4 199.2 290.5 201.5 290.5 201.3 290.5 203.8 290.5 202.7 290.5 196.9 290.6 198.0 290.6 194.3 290.6 196.3 290.6 200.1 290.7 199.6 290.7 207.8 290.8 178.6 290.8 177.7 290.8 179.0 290.8 181.0 290.9 180.0 290.9 192.6 291.0 196.9 291.0 200.2 291.0 196.2 291.0 196.6 291.1 201.5 291.1 200.6 291.1 201.0 291.1 200.4 291.2 204.2 291.2 203.1 291.2 207.1 291.3 201.9 291.3 202.2 291.3 203.9 291.3 202.5 291.3 194.2 291.3 197.6 291.3 197.1 291.3 195.1 291.3 197.9 291.3 202.6 291.4 200.3 291.4 202.4 291.4 209.0 291.4 204.8 291.4 207.4 291.4 205.9 291.5 204.2 291.5 206.0 291.5 206.7 291.5 205.2 291.5 206.1 291.6 207.7 291.6 207.2 291.6 211.8 291.6 210.9 291.6 204.0 291.7 203.9 291.7 203.7 291.7 204.3 291.7 202.3 291.7 200.7 291.7 203.0 291.8 203.5 291.8 181.6 291.8 178.2 291.8 179.2 291.9 180.9 291.9 189.3 291.9 187.3 291.9 188.5 291.9 202.2 291.9 204.3 291.9 201.8 292.0 207.2 292.0 202.4 292.0 200.5 292.0 202.9 292.0 199.3 292.1 207.1 292.1 208.0 292.1 202.9 292.1 203.4 292.2 201.9 292.2 202.2 292.2 197.5 292.2 198.6 292.2 194.3 292.3 192.4 292.3 204.8 292.3 205.3 292.4 205.8 292.4 203.2 292.4 200.8 292.4 203.2 292.4 198.3 292.4 198.2 292.5 203.2 292.5 182.4 292.5 180.8 292.6 197.8 292.6 199.8 292.6 201.2 292.6 208.7 292.6 208.3 292.7 203.1 292.7 200.5 292.8 204.3 292.9 207.9 292.9 204.2 293.0 201.2 293.1 204.6 293.1 217.0 293.1 217.0 293.2 212.9 293.2 212.7 293.2 216.1 293.2 217.0 293.2 216.9 293.3 217.2 293.3 220.6 293.3 213.3 293.3 210.7 293.3 212.6 293.3 209.6 293.3 207.8 293.3 211.7 293.4 210.9 293.4 211.5 293.4 210.9 293.4 211.6 293.4 212.3 293.5 192.4 293.5 192.5 293.5 190.7 293.5 182.2 293.6 180.4 293.6 201.0 293.6 204.8 293.6 207.0 293.6 210.2 293.7 207.4 293.7 211.6 293.7 209.9 293.7 211.6 293.7 209.7 293.8 213.7 293.8 213.7 293.8 215.2 293.8 214.6 293.9 207.6 293.9 213.1 293.9 211.6 293.9 211.4 294.0 214.1 294.0 205.2 294.0 206.1 294.0 207.9 294.0 207.5 294.1 209.6 294.1 201.6 294.1 202.3 294.1 204.9 294.1 201.8 294.1 203.2 294.2 208.4 294.2 207.3 294.2 211.3 294.2 210.9 294.3 210.9 294.4 207.5 294.4 206.2 294.4 206.2 294.4 199.6 294.5 201.5 294.5 200.9 294.5 199.8 294.6 196.5 294.6 199.1 294.6 200.7 294.6 195.9 294.6 197.4 294.6 197.2 294.6 201.0 294.6 200.4 294.7 203.8 294.7 207.5 294.7 211.5 294.8 201.9 294.8 197.7 294.9 206.3 294.9 204.2 294.9 206.2 294.9 202.4 294.9 199.8 295.0 199.1 295.0 203.3 295.0 196.6 295.0 198.6 295.0 201.9 295.1 202.3 295.1 199.9 295.1 197.2 295.2 200.6 295.2 198.8 295.2 200.4 295.3 202.2 295.3 202.0 295.3 200.5 295.3 207.6 295.3 204.5 295.3 212.7 295.3 208.1 295.3 208.2 295.4 205.5 295.4 205.6 295.4 203.0 295.4 206.2 295.4 206.4 295.4 205.5 295.5 200.7 295.5 205.0 295.6 201.9 295.6 196.8 295.6 200.9 295.6 200.1 295.7 197.7 295.7 198.6 295.7 203.1 295.7 203.4 295.7 203.1 295.7 201.9 295.7 218.5 295.8 211.6 295.9 210.8 295.9 209.8 295.9 215.4 296.0 210.8 296.0 209.3 296.0 213.5 296.1 213.0 296.1 214.3 296.2 215.1 296.2 208.4 296.2 205.6 296.2 210.3 296.2 209.7 296.3 208.1 296.3 210.0 296.3 206.0 296.3 207.0 296.4 206.8 296.4 202.7 296.4 205.3 296.5 200.6 296.5 204.4 296.5 206.8 296.5 205.6 296.5 208.2 296.5 207.5 296.6 206.6 296.6 206.9 296.6 207.4 296.6 211.3 296.6 209.3 296.7 186.0 296.8 204.2 296.8 201.9 296.8 206.3 296.8 211.6 296.8 206.7 296.8 207.2 296.8 209.5 296.9 215.1 297.0 213.5 297.0 206.9 297.1 209.9 297.1 209.0 297.1 213.4 297.1 211.8 297.1 215.2 297.1 210.4 297.1 214.1 297.2 206.4 297.2 210.9 297.2 212.5 297.2 213.2 297.2 211.8 297.2 214.0 297.3 214.0 297.3 207.9 297.3 206.9 297.3 203.8 297.4 202.4 297.4 205.1 297.4 205.5 297.4 202.1 297.4 206.3 297.5 211.2 297.5 213.7 297.6 215.8 297.6 212.7 297.6 213.3 297.6 212.7 297.7 214.0 297.7 210.8 297.7 212.5 297.7 214.9 297.7 214.8 297.7 217.9 297.7 215.9 297.8 215.7 297.8 217.2 297.8 215.6 297.8 216.7 297.8 215.0 297.9 210.7 297.9 209.0 297.9 211.7 297.9 210.7 298.0 221.1 298.1 227.6 298.1 219.7 298.2 220.6 298.2 218.0 298.2 221.6 298.3 219.5 298.3 222.1 298.4 225.5 298.4 230.4 298.4 227.3 298.5 233.6 298.5 230.3 298.6 228.6 298.6 221.9 298.7 223.0 298.7 217.4 298.7 217.9 298.7 216.3 298.8 220.9 298.8 224.0 298.9 220.2 298.9 221.9 298.9 227.0 298.9 221.4 298.9 219.9 299.0 219.9 299.0 221.5 299.0 218.0 299.0 219.3 299.0 217.1 299.1 215.8 299.1 213.4 299.1 214.9 299.1 216.8 299.1 218.8 299.2 229.9 299.2 226.9 299.2 232.8 299.2 230.8 299.2 221.3 299.2 219.6 299.3 227.5 299.3 226.8 299.4 226.0 299.4 224.9 299.4 228.1 299.5 220.0 299.5 215.1 299.5 214.5 299.5 213.8 299.5 220.7 299.6 228.0 299.6 226.5 299.7 236.9 299.7 238.3 299.7 236.0 299.7 235.4 299.7 236.4 299.8 243.7 299.8 245.0 299.8 241.9 299.9 242.3 299.9 242.2 300.0 230.1 300.0 228.9 300.2 227.5 300.2 224.3 300.2 223.8 300.2 227.7 300.2 231.4 300.3 230.6 300.3 232.4 300.3 234.5 300.3 227.9 300.3 228.0 300.4 226.1 300.4 224.6 300.4 227.4 300.5 226.1 300.6 233.3 300.6 230.1 300.6 244.5 300.7 241.9 300.7 242.1 300.7 240.5 300.7 238.1 300.7 240.7 300.7 240.1 300.8 238.4 300.8 245.5 300.8 235.7 300.8 234.7 300.8 236.3 300.9 234.3 300.9 234.3 300.9 234.8 300.9 235.5 301.0 238.1 301.0 235.5 301.0 242.3 301.0 240.2 301.0 244.0 301.0 243.2 301.1 242.8 301.1 237.7 301.1 239.4 301.1 238.6 301.2 236.3 301.2 245.8 301.2 246.9 301.2 242.6 301.3 243.9 301.3 240.1 301.4 239.5 301.4 232.2 301.4 235.9 301.4 245.0 301.5 244.9 301.5 245.5 301.5 242.0 301.5 240.2 301.5 242.6 301.5 244.8 301.5 247.1 301.6 245.7 301.6 243.7 301.6 243.9 301.6 245.6 301.6 241.1 301.6 242.7 301.6 246.0 301.7 236.7 301.7 240.3 301.8 251.1 301.8 248.4 301.9 249.3 302.0 249.1 302.0 248.5 302.0 250.6 302.0 258.8 302.0 264.6 302.0 261.5 302.0 265.2 302.1 259.2 302.1 243.4 302.2 245.2 302.2 246.2 302.2 242.6 302.2 244.1 302.2 241.3 302.2 242.3 302.2 240.9 302.2 240.1 302.3 262.1 302.3 257.4 302.3 259.4 302.3 251.9 302.4 251.8 302.4 246.3 302.4 246.1 302.4 246.6 302.4 246.7 302.5 247.2 302.5 247.7 302.5 244.6 302.5 248.4 302.6 238.1 302.6 241.1 302.6 238.0 302.6 239.3 302.6 237.6 302.7 245.0 302.7 249.5 302.7 248.8 302.7 247.8 302.8 240.9 302.8 238.2 302.8 241.0 302.8 240.0 302.8 247.6 302.8 247.8 302.8 246.1 302.8 247.4 302.9 237.6 302.9 247.0 303.0 248.1 303.0 250.4 303.1 251.2 303.1 250.4 303.1 249.0 303.1 250.5 303.1 250.4 303.1 247.2 303.1 249.8 303.2 245.4 303.2 248.4 303.2 240.2 303.2 239.5 303.2 238.6 303.2 239.6 303.2 239.7 303.2 240.3 303.3 237.9 303.3 243.9 303.3 241.1 303.3 243.5 303.3 242.8 303.3 242.0 303.3 238.4 303.3 243.7 303.4 238.7 303.4 241.9 303.4 249.3 303.4 244.5 303.4 246.4 303.5 237.3 303.5 235.8 303.5 247.6 303.5 239.3 303.6 251.7 303.6 247.5 303.6 251.3 303.7 253.4 303.7 253.6 303.7 250.7 303.7 250.4 303.7 256.8 303.8 251.2 303.8 251.4 303.8 255.9 303.8 256.0 303.8 253.2 303.9 252.7 303.9 254.6 303.9 256.6 303.9 253.3 304.0 252.6 304.0 252.3 304.1 252.6 304.1 239.1 304.1 237.4 304.1 239.1 304.3 243.3 304.3 245.7 304.3 239.6 304.3 247.3 304.3 243.0 304.3 249.5 304.4 244.9 304.4 244.8 304.4 243.3 304.5 238.5 304.5 243.3 304.5 241.9 304.5 243.2 304.5 240.9 304.6 244.2 304.6 244.3 304.6 243.0 304.7 239.4 304.7 244.2 304.7 247.0 304.7 245.8 304.8 248.5 304.8 252.9 304.8 250.8 304.8 247.6 304.8 249.4 304.9 246.0 304.9 237.6 305.0 238.7 305.0 237.9 305.0 237.1 305.0 236.3 305.0 234.0 305.0 234.4 305.0 235.3 305.1 231.3 305.1 235.2 305.1 232.4 305.1 235.0 305.1 235.1 305.1 234.7 305.1 229.6 305.2 227.7 305.2 238.1 305.2 238.9 305.2 235.5 305.4 246.4 305.4 237.5 305.4 237.4 305.4 238.8 305.4 240.8 305.5 235.9 305.5 239.0 305.5 235.0 305.5 232.3 305.5 228.9 305.6 239.4 305.6 240.6 305.6 236.5 305.6 237.5 305.7 224.9 305.7 226.1 305.8 216.2 305.8 219.0 305.8 223.0 305.8 220.8 305.8 221.4 305.8 218.2 305.8 231.0 305.9 227.3 305.9 229.4 305.9 231.0 305.9 232.8 305.9 233.4 306.0 226.0 306.0 225.2 306.0 224.2 306.0 230.7 306.1 230.6 306.1 229.2 306.1 226.1 306.1 228.0 306.2 227.6 306.2 232.3 306.2 235.5 306.2 234.0 306.3 236.4 306.3 220.5 306.3 224.5 306.3 225.3 306.3 216.1 306.3 213.1 306.4 212.8 306.4 217.0 306.4 217.0 306.4 214.6 306.5 219.1 306.5 221.7 306.5 220.9 306.5 226.9 306.6 234.1 306.6 226.7 306.6 225.9 306.6 225.2 306.7 229.3 306.7 228.0 306.7 214.8 306.7 214.8 306.8 216.2 306.8 218.4 306.8 216.8 306.9 225.3 306.9 216.1 307.0 219.4 307.1 223.4 307.1 224.7 307.1 225.6 307.3 217.0 307.3 213.3 307.3 211.5 307.4 214.6 307.4 210.7 307.4 215.1 307.4 214.4 307.4 214.4 307.4 211.9 307.5 213.3 307.5 199.4 307.6 211.9 307.7 228.2 307.7 225.2 307.7 225.2 307.7 226.1 307.7 226.3 307.7 216.5 307.7 221.0 307.7 217.5 307.7 218.5 307.7 216.2 307.8 216.0 307.8 218.6 307.8 215.7 307.8 216.9 307.8 221.7 307.9 216.2 307.9 214.0 308.0 217.6 308.0 211.4 308.1 210.7 308.1 212.9 308.1 208.5 308.1 211.7 308.2 203.8 308.2 203.4 308.3 192.0 308.3 191.5 308.3 189.3 308.3 210.6 308.3 210.8 308.3 217.7 308.4 211.4 308.4 213.2 308.4 212.3 308.5 213.0 308.5 209.5 308.5 213.7 308.5 211.8 308.5 213.0 308.5 213.0 308.5 210.8 308.6 209.8 308.6 212.0 308.6 212.0 308.7 209.0 308.7 209.0 308.7 202.2 308.8 211.1 308.9 205.6 308.9 204.8 308.9 204.8 308.9 205.1 309.0 202.7 309.0 204.3 309.0 196.1 309.0 194.9 309.1 195.6 309.1 198.3 309.1 194.6 309.1 197.3 309.1 197.3 309.1 198.4 309.2 207.5 309.3 209.3 309.3 212.2 309.4 187.8 309.4 186.2 309.4 190.2 309.5 203.8 309.5 208.4 309.5 208.3 309.5 210.4 309.6 202.9 309.6 201.2 309.6 204.7 309.6 207.6 309.6 210.4 309.7 209.9 309.7 211.5 309.7 211.2 309.7 209.2 309.7 204.4 309.7 206.8 309.8 203.8 309.8 202.6 309.8 202.5 309.8 202.6 309.8 201.8 309.8 202.0 309.8 196.1 309.8 196.1 309.9 196.4 309.9 198.0 309.9 201.0 310.0 194.8 310.0 194.0 310.0 197.6 310.0 199.9 310.0 201.0 310.0 199.3 310.1 212.7 310.1 208.4 310.1 197.0 310.2 195.8 310.2 200.3 310.2 196.7 310.2 193.7 310.2 193.6 310.3 195.5 310.3 197.7 310.3 211.5 310.4 209.0 310.4 210.8 310.4 199.9 310.4 203.6 310.5 207.0 310.5 180.6 310.5 184.0 310.6 184.3 310.6 185.2 310.6 188.9 310.6 188.3 310.6 205.2 310.7 197.7 310.7 202.7 310.7 202.8 310.7 209.7 310.8 208.2 310.8 200.7 310.9 199.8 310.9 200.2 310.9 199.6 310.9 194.9 311.0 194.7 311.0 192.3 311.0 199.8 311.0 197.6 311.0 194.4 311.1 199.4 311.1 198.0 311.1 194.7 311.1 195.0 311.1 195.4 311.1 195.1 311.1 192.1 311.1 196.2 311.1 196.2 311.2 197.1 311.2 197.4 311.2 199.9 311.3 198.3 311.3 200.8 311.3 196.2 311.3 197.0 311.3 199.6 311.4 199.9 311.4 193.7 311.4 192.7 311.4 194.5 311.4 200.4 311.5 188.4 311.5 199.3 311.5 197.4 311.5 197.2 311.5 197.7 311.6 194.0 311.6 195.4 311.6 193.4 311.6 188.8 311.6 186.4 311.6 188.2 311.6 186.8 311.7 193.3 311.7 201.2 311.9 202.2 311.9 197.6 311.9 194.3 311.9 196.9 311.9 201.0 311.9 202.0 312.0 200.9 312.0 202.8 312.0 204.1 312.0 205.1 312.1 206.5 312.1 207.8 312.2 207.0 312.2 206.2 312.2 205.6 312.2 209.6 312.2 207.5 312.3 202.1 312.3 203.5 312.3 205.0 312.4 200.7 312.4 200.1 312.4 199.6 312.4 196.4 312.4 199.9 312.4 201.9 312.5 194.9 312.5 193.1 312.5 199.3 312.5 197.4 312.6 196.3 312.6 196.3 312.6 194.0 312.6 194.4 312.6 193.1 312.6 199.5 312.7 201.2 312.7 199.7 312.7 198.0 312.8 194.6 312.8 197.0 312.8 198.1 312.9 197.6 312.9 195.2 313.0 198.4 313.0 197.6 313.0 195.9 313.0 197.3 313.0 197.5 313.0 196.1 313.1 200.0 313.1 200.8 313.1 198.0 313.2 204.4 313.2 204.3 313.2 199.5 313.2 204.7 313.2 196.6 313.3 189.4 313.3 189.2 313.3 185.7 313.4 191.6 313.4 190.9 313.4 197.6 313.4 198.3 313.5 195.3 313.5 203.9 313.5 200.0 313.5 197.1 313.6 202.3 313.6 204.5 313.6 202.3 313.6 200.7 313.6 204.7 313.7 209.1 313.7 208.0 313.7 205.7 313.7 194.4 313.7 195.6 313.7 195.4 313.7 184.8 313.8 183.1 313.8 190.2 313.8 198.1 313.8 197.6 314.0 212.7 314.0 208.3 314.0 208.8 314.0 210.8 314.0 200.3 314.1 205.4 314.1 203.5 314.1 202.5 314.1 201.2 314.1 203.7 314.1 205.0 314.2 204.3 314.2 206.8 314.2 208.3 314.2 205.5 314.2 205.8 314.3 208.0 314.3 209.1 314.3 209.9 314.4 203.9 314.4 201.2 314.4 199.8 314.4 196.8 314.5 205.1 314.5 210.2 314.5 203.3 314.5 208.6 314.5 205.5 314.5 205.2 314.6 204.7 314.6 201.6 314.6 197.4 314.6 194.3 314.7 206.2 314.7 208.4 314.8 209.7 314.8 203.5 314.8 201.9 314.8 204.1 314.9 207.5 314.9 206.3 314.9 208.3 314.9 208.2 315.0 198.3 315.0 199.5 315.0 199.8 315.0 199.9 315.0 201.3 315.0 191.9 315.1 192.9 315.1 196.9 315.2 195.6 315.2 204.4 315.3 198.0 315.3 211.4 315.3 210.9 315.3 213.4 315.3 209.3 315.4 217.1 315.4 219.9 315.4 218.9 315.4 220.7 315.4 219.0 315.5 223.5 315.5 225.0 315.6 225.1 315.6 221.1 315.7 222.0 315.7 222.7 315.7 218.7 315.7 215.3 315.7 220.0 315.7 216.6 315.8 216.0 315.8 216.7 315.8 223.0 315.9 219.6 315.9 219.9 315.9 218.3 315.9 218.2 315.9 226.9 315.9 230.9 316.0 230.2 316.0 231.7 316.0 223.9 316.0 225.4 316.0 216.6 316.0 220.5 316.0 221.6 316.1 215.7 316.2 225.6 316.3 222.8 316.3 221.9 316.3 225.1 316.3 226.6 316.4 224.1 316.4 222.5 316.4 226.5 316.5 225.4 316.6 229.7 316.6 228.4 316.6 226.6 316.6 228.2 316.6 233.2 316.6 230.9 316.6 231.1 316.7 231.8 316.7 233.0 316.7 235.0 316.7 231.3 316.7 233.9 316.8 231.2 316.8 230.9 316.8 229.2 316.9 233.4 316.9 239.5 316.9 242.9 317.0 236.8 317.0 233.0 317.0 231.0 317.1 231.0 317.1 238.5 317.1 233.9 317.1 234.6 317.1 236.6 317.1 235.1 317.1 235.9 317.2 229.5 317.2 229.0 317.2 231.4 317.2 231.3 317.2 235.1 317.3 231.8 317.3 235.6 317.3 232.2 317.3 227.3 317.3 229.1 317.3 232.0 317.4 226.9 317.4 225.4 317.4 223.7 317.4 225.7 317.5 223.0 317.5 222.5 317.5 223.4 317.5 222.3 317.6 230.6 317.6 230.5 317.6 231.4 317.6 230.5 317.6 231.1 317.6 236.4 317.7 238.4 317.7 239.1 317.7 239.9 317.7 240.9 317.7 234.1 317.8 234.0 317.8 235.6 317.8 236.8 317.8 240.6 317.8 243.2 317.8 241.9 317.8 239.6 317.8 238.4 317.8 236.9 317.8 237.3 317.8 237.6 317.9 236.0 317.9 236.0 318.0 237.1 318.0 230.8 318.0 236.1 318.0 233.7 318.0 234.5 318.1 227.4 318.1 231.8 318.1 234.6 318.2 234.7 318.2 239.9 318.2 238.2 318.2 236.9 318.2 234.9 318.2 238.8 318.2 241.8 318.2 240.9 318.3 231.5 318.3 229.9 318.3 229.9 318.3 231.9 318.3 227.7 318.4 235.9 318.4 236.6 318.4 241.1 318.5 242.1 318.5 240.6 318.5 245.3 318.5 241.5 318.6 241.0 318.6 232.2 318.6 240.2 318.7 243.9 318.7 242.8 318.7 243.0 318.7 237.7 318.7 240.4 318.8 237.2 318.8 244.7 318.8 243.8 318.8 244.0 318.9 248.3 318.9 247.7 318.9 247.9 318.9 246.5 319.0 239.1 319.0 243.0 319.0 245.6 319.0 244.0 319.0 244.1 319.0 240.4 319.0 264.4 319.1 262.6 319.1 258.9 319.1 264.6 319.1 249.5 319.1 245.2 319.1 247.2 319.2 239.2 319.2 239.7 319.2 240.8 319.3 239.0 319.3 237.9 319.3 241.7 319.3 237.3 319.3 238.6 319.4 238.7 319.4 238.9 319.4 241.5 319.4 241.1 319.4 238.0 319.4 241.3 319.4 239.6 319.4 243.9 319.4 245.4 319.5 253.3 319.5 245.6 319.5 246.5 319.5 246.9 319.5 246.9 319.5 247.8 319.5 244.9 319.6 248.3 319.6 247.7 319.6 242.8 319.6 256.1 319.6 251.3 319.7 251.5 319.7 248.7 319.7 252.8 319.7 251.7 319.7 253.9 319.7 253.7 319.7 251.3 319.7 254.4 319.7 252.5 319.7 248.7 319.7 247.8 319.7 250.4 319.8 257.6 319.8 257.7 319.9 242.5 319.9 238.4 320.0 240.0 320.0 251.4 320.1 238.9 320.1 236.6 320.1 238.4 320.2 238.4 320.2 241.9 320.2 242.3 320.2 240.9 320.2 239.0 320.2 238.7 320.3 241.6 320.3 245.5 320.3 247.8 320.4 244.6 320.4 242.6 320.5 236.1 320.5 238.0 320.5 238.9 320.5 258.0 320.6 246.8 320.7 248.0 320.7 245.0 320.7 243.4 320.7 241.3 320.7 242.8 320.8 244.5 320.8 245.1 320.8 247.0 320.8 245.5 320.8 245.0 320.8 236.3 320.8 236.7 320.9 238.3 320.9 236.1 320.9 238.1 320.9 241.6 320.9 238.6 321.0 240.8 321.0 240.8 321.1 234.9 321.1 235.4 321.2 249.1 321.2 246.3 321.2 248.6 321.2 247.7 321.2 242.8 321.3 240.9 321.3 246.4 321.4 238.2 321.4 235.2 321.4 236.7 321.4 237.1 321.4 236.6 321.4 240.0 321.4 226.3 321.5 224.7 321.5 226.6 321.5 230.3 321.5 229.2 321.5 229.2 321.5 227.5 321.6 229.7 321.6 238.5 321.6 236.8 321.6 240.8 321.6 238.9 321.6 236.4 321.7 237.6 321.7 237.6 321.7 237.2 321.7 233.9 321.7 228.4 321.7 229.3 321.7 229.1 321.8 230.1 321.8 229.9 321.8 231.8 321.8 232.6 321.9 234.3 321.9 230.5 321.9 229.7 321.9 228.0 321.9 237.0 321.9 237.7 321.9 235.8 322.1 238.0 322.1 236.4 322.1 234.6 322.1 234.8 322.2 251.4 322.2 250.8 322.2 251.3 322.2 249.4 322.3 225.1 322.3 224.6 322.3 220.7 322.3 217.2 322.4 214.9 322.4 220.0 322.5 213.0 322.5 213.6 322.7 205.0 322.7 214.1 322.7 214.6 322.8 213.9 322.8 213.1 322.8 213.0 322.8 231.4 322.8 228.8 322.9 232.1 322.9 227.3 322.9 229.2 322.9 220.3 323.0 222.7 323.0 216.4 323.1 213.9 323.1 211.9 323.1 213.8 323.1 211.2 323.1 213.6 323.2 206.2 323.2 207.6 323.2 201.0 323.3 194.5 323.3 204.6 323.3 201.4 323.3 194.8 323.4 195.0 323.4 197.9 323.4 195.3 323.4 197.0 323.4 205.5 323.4 206.0 323.4 205.7 323.4 212.9 323.4 213.8 323.5 212.5 323.5 208.7 323.5 209.3 323.5 212.2 323.6 212.1 323.6 204.1 323.6 206.1 323.6 205.2 323.7 206.0 323.7 203.9 323.7 196.9 323.7 197.9 323.7 205.4 323.7 199.5 323.7 203.5 323.7 199.1 323.7 202.1 323.7 201.0 323.8 199.7 323.8 198.4 323.8 205.7 323.8 210.3 323.8 207.3 323.8 207.8 323.9 204.1 323.9 203.8 323.9 205.9 323.9 205.4 323.9 204.4 323.9 204.2 324.0 192.0 324.0 193.0 324.0 193.8 324.0 198.4 324.1 199.9 324.1 203.4 324.2 192.6 324.2 190.7 324.2 187.7 324.2 201.7 324.3 198.0 324.3 200.2 324.3 200.1 324.3 200.0 324.3 199.2 324.3 200.3 324.3 200.2 324.4 197.3 324.4 195.8 324.4 194.5 324.4 194.9 324.4 197.3 324.4 202.4 324.5 196.4 324.5 199.6 324.5 196.6 324.5 194.7 324.5 196.4 324.6 196.0 324.6 195.1 324.6 197.3 324.6 208.3 324.7 206.7 324.7 208.0 324.7 205.1 324.7 208.1 324.8 206.7 324.8 202.6 324.9 198.4 324.9 195.1 324.9 197.8 324.9 196.3 325.0 197.2 325.0 199.9 325.0 199.3 325.0 197.2 325.0 193.4 325.0 195.4 325.1 192.1 325.1 190.3 325.1 192.1 325.1 193.4 325.1 193.9 325.2 194.6 325.2 189.0 325.2 191.2 325.2 186.8 325.2 187.3 325.2 188.2 325.3 187.2 325.3 190.4 325.3 200.6 325.3 198.8 325.3 197.6 325.3 199.7 325.3 199.9 325.3 198.9 325.3 196.7 325.4 195.5 325.4 195.5 325.4 198.3 325.4 196.0 325.4 195.8 325.5 191.2 325.5 189.3 325.5 189.8 325.5 189.9 325.5 190.9 325.5 191.9 325.5 188.5 325.5 193.1 325.6 190.1 325.6 189.6 325.6 191.3 325.6 190.9 325.6 194.4 325.6 191.3 325.6 191.5 325.6 188.4 325.7 186.8 325.7 187.3 325.7 190.3 325.7 189.1 325.7 188.9 325.7 192.4 325.8 188.8 325.8 189.3 325.8 187.0 325.8 189.2 325.9 177.8 325.9 179.2 325.9 181.0 325.9 177.4 325.9 179.0 326.0 189.7 326.1 196.5 326.2 191.6 326.2 193.9 326.2 191.1 326.2 189.4 326.3 192.3 326.3 189.3 326.3 193.6 326.3 188.8 326.3 190.9 326.3 189.3 326.3 193.0 326.3 189.9 326.3 190.0 326.4 188.4 326.4 192.5 326.5 192.5 326.5 189.4 326.5 191.2 326.5 189.4 326.5 189.2 326.5 188.4 326.6 190.0 326.6 186.2 326.6 193.8 326.7 190.5 326.7 194.3 326.7 193.1 326.7 194.1 326.7 189.0 326.7 187.0 326.7 187.6 326.7 190.5 326.8 186.8 326.8 187.5 326.9 191.0 326.9 189.5 326.9 188.9 326.9 190.5 326.9 191.5 327.0 188.0 327.0 187.8 327.0 195.3 327.1 180.0 327.1 192.1 327.1 190.3 327.2 186.1 327.2 189.0 327.2 186.1 327.2 185.1 327.2 184.5 327.3 188.1 327.3 188.1 327.3 186.7 327.3 182.9 327.3 180.2 327.3 181.3 327.3 182.5 327.3 180.4 327.4 188.0 327.4 189.6 327.5 192.6 327.5 192.4 327.5 186.8 327.5 186.0 327.5 187.3 327.5 186.1 327.5 184.8 327.6 186.5 327.6 190.5 327.6 189.2 327.6 184.1 327.6 186.8 327.6 187.4 327.6 191.3 327.7 188.2 327.7 190.3 327.7 191.4 327.7 190.2 327.7 190.6 327.7 190.8 327.7 185.8 327.8 179.4 327.8 177.6 327.9 180.4 327.9 181.7 327.9 178.5 327.9 188.9 327.9 187.1 328.0 184.1 328.0 184.1 328.0 182.8 328.0 183.1 328.0 184.3 328.0 185.6 328.1 185.3 328.1 179.6 328.3 178.8 328.3 185.3 328.3 184.7 328.3 183.7 328.3 182.4 328.3 179.7 328.4 186.9 328.5 177.5 328.5 180.4 328.5 179.1 328.5 178.4 328.5 172.0 328.5 173.6 328.5 176.6 328.6 174.6 328.6 175.7 328.6 175.1 328.6 174.9 328.7 173.2 328.7 172.7 328.7 180.4 328.7 181.5 328.7 179.2 328.7 176.3 328.7 178.3 328.8 181.8 328.8 179.1 328.8 179.4 328.8 179.5 328.8 178.0 328.9 168.6 328.9 168.3 328.9 171.8 328.9 171.1 328.9 168.5 328.9 169.2 328.9 171.4 329.0 168.8 329.0 170.8 329.0 188.8 329.0 186.1 329.0 185.2 329.0 185.5 329.0 185.1 329.0 187.7 329.1 186.8 329.1 186.9 329.1 186.7 329.1 186.4 329.1 187.9 329.1 186.5 329.2 184.7 329.2 185.0 329.2 187.6 329.2 175.0 329.3 174.6 329.3 170.8 329.3 166.8 329.4 167.4 329.4 183.8 329.4 187.2 329.5 187.4 329.5 172.4 329.5 176.9 329.6 177.8 329.6 180.1 329.6 173.0 329.7 173.0 329.7 173.8 329.7 171.6 329.7 174.2 329.8 174.6 329.8 187.1 329.8 187.6 329.9 188.1 329.9 188.2 329.9 187.6 329.9 185.5 330.0 184.5 330.0 187.7 330.1 187.8 330.1 190.3 330.1 189.2 330.1 186.9 330.1 184.9 330.1 188.1 330.1 189.3 330.1 192.3 330.1 191.0 330.2 188.9 330.2 186.6 330.2 189.6 330.2 191.7 330.2 190.8 330.3 194.8 330.3 196.3 330.3 194.7 330.4 196.4 330.4 195.7 330.4 194.9 330.4 193.2 330.4 194.5 330.4 196.0 330.4 193.8 330.4 195.9 330.4 195.2 330.5 197.2 330.5 179.5 330.6 180.3 330.6 183.5 330.6 195.7 330.6 197.7 330.6 198.2 330.7 198.7 330.7 197.5 330.7 196.8 330.7 200.5 330.7 201.8 330.7 202.7 330.7 193.5 330.7 193.4 330.8 192.9 330.8 194.9 330.8 194.4 330.8 193.7 330.8 195.2 330.9 195.8 330.9 196.4 330.9 196.2 331.0 195.9 331.0 197.7 331.0 194.1 331.0 196.9 331.1 189.8 331.1 194.3 331.1 187.1 331.1 187.2 331.2 197.1 331.2 192.3 331.3 190.5 331.3 189.4 331.3 190.9 331.3 185.7 331.3 189.1 331.3 186.1 331.4 191.1 331.4 193.9 331.4 195.8 331.4 191.9 331.5 192.3 331.5 188.7 331.5 193.0 331.6 193.3 331.6 186.1 331.7 191.5 331.7 192.1 331.7 193.0 331.7 190.8 331.8 192.8 331.8 191.2 331.8 188.1 331.8 186.1 331.9 184.4 331.9 189.2 332.0 184.8 332.0 182.4 332.0 190.1 332.0 188.2 332.0 189.5 332.1 193.7 332.1 194.1 332.1 199.7 332.1 197.2 332.2 201.0 332.2 199.9 332.2 198.9 332.2 202.1 332.2 191.2 332.2 194.0 332.4 198.1 332.4 201.2 332.4 202.7 332.4 198.5 332.4 198.1 332.4 198.8 332.4 203.1 332.4 202.1 332.4 200.5 332.5 200.9 332.5 199.5 332.5 202.6 332.5 198.3 332.5 201.9 332.6 203.1 332.6 203.0 332.7 205.6 332.7 197.8 332.7 195.3 332.7 196.7 332.7 195.6 332.8 201.4 332.8 209.6 332.9 210.9 332.9 207.9 332.9 208.9 332.9 206.8 333.0 205.8 333.0 205.4 333.0 207.1 333.1 200.8 333.1 198.3 333.1 197.5 333.1 200.5 333.1 197.2 333.2 193.5 333.3 190.2 333.3 191.4 333.3 193.3 333.3 191.9 333.3 197.1 333.3 194.8 333.4 191.8 333.4 192.2 333.5 204.8 333.5 202.3 333.5 205.7 333.5 203.7 333.5 203.6 333.5 203.7 333.5 202.8 333.6 206.1 333.6 208.0 333.6 211.6 333.6 211.8 333.6 209.5 333.7 210.9 333.7 212.1 333.7 208.5 333.7 211.2 333.8 208.7 333.9 216.6 333.9 216.3 333.9 213.9 333.9 214.7 333.9 214.9 333.9 219.7 333.9 210.4 334.0 211.0 334.0 212.5 334.0 214.4 334.0 210.5 334.0 213.8 334.0 219.3 334.1 214.6 334.2 221.2 334.2 222.5 334.2 216.9 334.2 216.8 334.2 219.0 334.2 217.5 334.3 216.2 334.3 216.1 334.3 216.1 334.4 219.2 334.4 216.7 334.5 217.6 334.5 217.5 334.5 215.9 334.5 219.0 334.5 217.4 334.6 212.8 334.6 213.7 334.6 207.8 334.6 214.5 334.7 208.5 334.7 206.7 334.7 211.4 334.7 209.9 334.8 219.7 334.8 218.2 334.8 219.1 334.8 218.4 334.8 215.3 334.8 217.8 334.8 216.1 334.9 222.1 334.9 225.1 334.9 221.7 334.9 222.8 334.9 223.0 335.0 214.8 335.0 214.3 335.0 221.7 335.1 218.0 335.1 222.0 335.1 221.5 335.1 224.9 335.2 223.8 335.2 224.1 335.2 224.2 335.2 224.1 335.2 220.6 335.2 224.3 335.2 223.3 335.2 224.2 335.3 224.3 335.3 225.0 335.3 221.5 335.3 226.6 335.3 223.5 335.3 226.5 335.3 222.5 335.3 232.7 335.4 230.7 335.4 231.7 335.4 223.5 335.4 226.2 335.4 230.8 335.4 230.1 335.5 230.4 335.5 230.8 335.5 229.6 335.5 233.8 335.5 236.5 335.5 237.7 335.6 235.3 335.6 231.3 335.6 231.1 335.6 234.0 335.7 236.9 335.7 232.7 335.8 236.2 335.8 233.8 335.8 225.7 335.9 222.0 335.9 226.4 335.9 219.6 335.9 216.3 335.9 218.1 335.9 217.7 335.9 215.7 335.9 220.2 335.9 226.8 336.0 230.1 336.0 224.2 336.0 227.7 336.0 228.0 336.1 229.8 336.2 231.5 336.2 235.3 336.2 234.5 336.2 235.3 336.3 240.0 336.3 240.9 336.3 242.8 336.3 244.3 336.3 242.1 336.4 245.8 336.4 245.7 336.4 245.8 336.5 247.2 336.5 245.3 336.5 249.0 336.5 246.6 336.5 247.7 336.5 245.9 336.5 245.1 336.6 244.7 336.6 244.9 336.6 244.0 336.6 247.0 336.6 244.3 336.7 246.7 336.7 245.1 336.7 242.6 336.8 229.8 336.8 231.7 336.8 231.3 336.8 241.6 336.9 241.8 336.9 238.2 337.0 237.4 337.0 240.4 337.0 238.7 337.0 232.2 337.1 229.1 337.1 228.5 337.1 233.3 337.2 236.1 337.2 238.7 337.2 237.8 337.2 239.1 337.2 233.9 337.2 237.4 337.2 235.9 337.3 243.7 337.3 243.2 337.3 241.4 337.3 244.2 337.4 241.9 337.5 250.3 337.5 249.4 337.5 249.3 337.5 250.6 337.5 252.6 337.5 256.1 337.6 253.5 337.6 251.9 337.6 253.3 337.6 252.3 337.6 252.7 337.6 256.3 337.6 258.4 337.6 258.4 337.6 256.4 337.7 258.1 337.7 256.1 337.7 246.6 337.7 246.0 337.7 235.6 337.8 235.6 337.8 235.0 337.8 230.1 337.9 226.3 337.9 229.3 337.9 229.2 337.9 231.6 337.9 229.5 337.9 223.7 337.9 229.8 338.0 229.3 338.0 227.7 338.0 225.3 338.0 224.1 338.0 223.4 338.1 229.5 338.1 235.9 338.1 234.7 338.2 236.2 338.2 234.0 338.2 236.3 338.3 243.1 338.3 240.3 338.3 235.0 338.3 231.8 338.4 233.0 338.4 232.6 338.4 230.4 338.4 228.6 338.5 224.0 338.5 230.0 338.5 229.7 338.5 229.3 338.6 231.3 338.6 228.0 338.6 230.4 338.6 233.8 338.6 230.3 338.7 229.7 338.7 226.2 338.7 230.8 338.8 234.5 338.8 229.4 338.8 230.2 338.8 230.2 338.9 234.6 339.0 226.1 339.0 225.6 339.0 221.9 339.0 225.7 339.1 224.5 339.2 218.6 339.2 218.4 339.4 216.1 339.4 215.6 339.4 208.7 339.5 208.6 339.5 216.1 339.5 215.9 339.6 214.0 339.6 217.3 339.6 216.5 339.6 218.8 339.6 219.7 339.7 211.8 339.7 209.6 339.7 206.0 339.7 208.1 339.7 210.1 339.8 216.1 339.8 215.2 339.9 211.8 339.9 210.0 339.9 209.8 340.0 210.6 340.0 204.4 340.1 200.1 340.1 197.4 340.1 198.0 340.1 198.4 340.2 193.6 340.2 194.4 340.3 196.3 340.3 195.5 340.3 195.9 340.3 198.4 340.3 198.8 340.4 205.6 340.4 202.1 340.4 206.8 340.5 209.3 340.5 211.0 340.5 208.5 340.6 201.6 340.6 203.5 340.6 205.1 340.6 201.7 340.6 201.9 340.7 191.2 340.7 203.3 340.7 204.3 340.8 200.2 340.8 198.5 340.8 198.9 340.8 200.6 340.8 209.8 340.8 210.9 340.9 208.3 340.9 212.6 340.9 209.4 340.9 208.5 340.9 207.9 340.9 203.2 341.0 195.3 341.0 195.1 341.0 206.9 341.0 206.8 341.1 203.8 341.1 201.0 341.1 198.1 341.1 197.4 341.1 198.9 341.2 199.2 341.2 205.0 341.2 207.2 341.2 195.9 341.3 199.2 341.3 201.5 341.3 199.6 341.3 200.9 341.3 203.2 341.3 201.4 341.3 200.1 341.4 199.2 341.4 199.9 341.4 196.6 341.4 187.4 341.5 186.1 341.5 186.0 341.5 188.0 341.5 192.2 341.5 196.6 341.5 196.1 341.6 193.6 341.6 198.4 341.6 196.7 341.6 201.5 341.6 196.6 341.7 197.3 341.7 197.0 341.7 193.5 341.7 197.4 341.7 196.9 341.7 195.9 341.7 198.1 341.8 197.1 341.8 198.6 341.8 194.2 341.8 196.3 341.8 193.3 341.8 196.8 341.8 195.3 341.8 192.7 341.8 191.4 341.9 194.3 341.9 191.4 341.9 196.8 341.9 198.5 341.9 198.4 341.9 194.5 341.9 197.9 341.9 198.4 341.9 196.8 342.0 195.5 342.0 198.3 342.0 198.6 342.0 197.2 342.0 193.6 342.0 190.9 342.1 190.2 342.1 188.3 342.1 188.7 342.1 191.3 342.1 189.7 342.2 187.0 342.2 188.0 342.2 187.9 342.3 189.5 342.4 181.2 342.4 180.5 342.4 179.8 342.4 181.8 342.4 179.0 342.5 184.3 342.5 185.4 342.5 183.5 342.6 186.2 342.6 183.0 342.6 186.6 342.6 185.9 342.7 184.9 342.7 183.2 342.7 180.9 342.8 176.2 342.8 176.9 342.8 172.9 342.8 178.3 342.8 178.3 342.8 180.9 342.8 177.8 342.9 179.6 342.9 175.8 342.9 172.4 342.9 178.4 343.0 176.0 343.0 174.1 343.0 180.1 343.0 181.0 343.0 174.6 343.0 179.8 343.0 178.4 343.0 181.5 343.0 174.0 343.1 177.7 343.2 175.4 343.2 173.8 343.2 173.2 343.3 168.4 343.3 171.6 343.3 175.3 343.3 175.1 343.3 175.4 343.4 174.2 343.4 176.6 343.4 175.0 343.4 173.6 343.5 179.9 343.5 182.3 343.6 183.3 343.6 181.3 343.6 176.5 343.7 174.0 343.7 175.7 343.7 168.5 343.8 169.7 343.8 164.6 343.8 165.3 343.9 173.9 343.9 177.1 344.0 163.0 344.0 165.9 344.0 179.0 344.1 177.2 344.1 171.4 344.1 173.0 344.2 176.4 344.2 178.5 344.2 175.3 344.2 178.0 344.2 182.4 344.2 179.9 344.3 181.7 344.3 181.1 344.5 165.8 344.5 167.2 344.5 164.1 344.5 162.7 344.5 168.1 344.5 166.7 344.5 167.5 344.6 167.7 344.6 165.6 344.6 183.3 344.6 183.8 344.6 185.1 344.6 186.0 344.6 188.4 344.7 189.7 344.7 192.2 344.7 185.7 344.7 192.0 344.8 187.1 344.8 187.3 344.8 194.5 344.8 191.2 344.9 191.9 344.9 191.9 344.9 186.4 344.9 187.6 344.9 185.0 344.9 190.9 345.0 194.2 345.0 196.9 345.0 186.5 345.0 184.8 345.1 179.6 345.1 189.8 345.2 184.1 345.2 193.7 345.2 189.1 345.2 188.2 345.2 186.0 345.2 187.0 345.3 192.8 345.3 199.2 345.4 194.6 345.4 186.1 345.4 191.1 345.4 188.3 345.4 187.3 345.5 202.4 345.5 200.9 345.5 206.1 345.5 211.9 345.6 206.2 345.6 210.2 345.6 206.2 345.6 192.1 345.6 197.1 345.7 193.5 345.7 198.3 345.7 193.6 345.7 201.0 345.7 203.0 345.7 199.8 345.7 198.2 345.7 193.8 345.8 195.9 345.8 189.8 345.8 193.9 345.8 192.0 345.9 180.6 345.9 182.4 345.9 180.7 345.9 194.7 345.9 194.2 345.9 188.4 346.0 189.0 346.0 182.3 346.0 182.5 346.0 183.9 346.0 183.6 346.1 184.4 346.1 188.2 346.1 176.3 346.1 176.2 346.1 176.9 346.1 173.5 346.1 176.3 346.2 174.8 346.2 185.6 346.2 187.8 346.2 191.7 346.2 192.1 346.2 193.1 346.3 195.3 346.3 193.3 346.4 193.5 346.4 189.5 346.4 187.3 346.4 190.3 346.5 184.0 346.5 187.1 346.5 189.9 346.5 188.1 346.5 182.2 346.5 183.4 346.6 197.9 346.6 190.8 346.7 187.2 346.7 195.9 346.7 204.8 346.7 196.0 346.7 196.7 346.7 197.9 346.7 196.1 346.7 195.6 346.7 201.5 346.8 203.6 346.8 194.7 346.8 204.6 346.8 201.9 346.8 194.4 346.8 190.2 346.8 189.8 346.8 185.7 346.9 184.6 347.0 199.2 347.0 192.5 347.0 192.5 347.1 191.6 347.1 196.8 347.1 200.8 347.1 186.8 347.1 185.7 347.1 188.6 347.1 195.6 347.2 194.0 347.2 195.9 347.2 201.8 347.3 206.6 347.3 192.2 347.3 198.4 347.3 194.9 347.4 186.3 347.4 188.1 347.4 188.8 347.4 181.2 347.4 182.1 347.6 197.9 347.6 195.7 347.6 197.7 347.6 192.5 347.6 189.3 347.7 189.5 347.7 193.2 347.7 189.2 347.7 189.2 347.7 192.0 347.7 188.4 347.8 184.0 347.8 185.4 347.8 184.9 347.8 187.4 347.8 183.0 347.8 182.1 347.8 182.4 347.9 178.5 347.9 182.5 347.9 184.1 347.9 182.0 347.9 181.2 347.9 182.6 347.9 182.0 347.9 181.2 348.0 185.4 348.0 186.7 348.0 196.7 348.0 199.6 348.0 199.8 348.1 206.2 348.1 198.4 348.1 199.3 348.1 207.7 348.1 210.5 348.1 205.2 348.2 183.4 348.2 181.3 348.3 180.6 348.3 184.5 348.3 182.9 348.3 182.9 348.3 189.4 348.4 187.4 348.4 187.6 348.4 194.5 348.4 191.8 348.4 186.3 348.4 187.0 348.4 187.7 348.4 185.1 348.5 182.9 348.5 185.9 348.5 187.5 348.6 182.8 348.6 182.8 348.6 182.3 348.6 183.6 348.6 191.6 348.7 193.1 348.7 192.9 348.7 187.4 348.7 188.1 348.8 186.1 348.8 189.1 348.8 183.6 348.8 186.3 348.8 188.1 348.8 185.8 348.8 182.7 348.8 184.6 348.9 185.2 348.9 185.9 348.9 176.4 348.9 175.6 348.9 180.5 349.0 179.2 349.0 174.8 349.0 179.5 349.0 179.8 349.0 178.0 349.0 180.8 349.1 178.7 349.1 177.2 349.1 182.4 349.1 181.1 349.1 182.8 349.1 179.8 349.2 180.2 349.2 188.1 349.3 193.5 349.3 208.2 349.3 210.1 349.3 187.1 349.3 187.2 349.4 186.4 349.4 185.1 349.5 185.9 349.5 186.4 349.5 183.1 349.5 185.5 349.5 187.7 349.5 188.8 349.6 192.4 349.6 187.8 349.6 185.8 349.6 189.0 349.7 190.3 349.7 190.7 349.8 188.1 349.8 190.2 349.8 197.8 349.8 199.0 349.8 202.5 349.9 189.9 349.9 191.2 349.9 189.4 349.9 186.2 349.9 190.5 349.9 187.3 350.0 190.1 350.0 190.1 350.0 202.1 350.1 192.6 350.1 198.9 350.1 212.2 350.2 211.2 350.3 214.1 350.3 209.3 350.4 194.6 350.4 196.7 350.5 210.6 350.5 193.1 350.5 200.5 350.6 207.2 350.6 206.4 350.6 207.0 350.7 216.8 350.7 206.7 350.7 211.2 350.7 211.3 350.7 208.9 350.7 210.2 350.7 201.3 350.8 208.2 350.8 206.6 350.8 207.6 350.8 208.0 350.9 195.3 350.9 194.3 350.9 193.7 350.9 205.2 350.9 211.7 350.9 208.1 350.9 204.8 351.0 209.6 351.1 211.4 351.1 211.1 351.1 212.2 351.2 217.1 351.2 213.9 351.2 207.9 351.3 201.4 351.3 202.4 351.3 199.6 351.3 199.7 351.3 199.4 351.3 202.2 351.3 202.9 351.3 199.9 351.3 204.5 351.3 201.6 351.3 205.4 351.5 214.7 351.5 214.2 351.5 203.8 351.7 198.3 351.7 213.5 351.8 222.0 351.8 213.3 351.9 220.2 351.9 214.9 351.9 224.2 351.9 217.1 351.9 209.1 351.9 210.4 351.9 214.0 351.9 211.8 351.9 209.0 351.9 216.1 352.0 208.7 352.0 218.1 352.0 224.1 352.0 217.9 352.0 216.6 352.1 215.9 352.1 223.2 352.1 220.9 352.1 221.0 352.2 211.9 352.2 215.1 352.2 221.8 352.2 214.2 352.2 219.6 352.2 210.2 352.2 218.7 352.3 226.2 352.3 215.3 352.3 200.9 352.3 203.8 352.3 201.9 352.3 199.4 352.3 202.2 352.3 205.9 352.4 203.4 352.4 205.7 352.4 206.3 352.5 203.7 352.5 204.3 352.5 203.8 352.5 205.9 352.6 202.1 352.6 200.5 352.6 199.3 352.6 195.7 352.6 198.2 352.7 201.5 352.8 200.8 352.8 205.0 352.8 205.8 352.8 204.0 352.9 203.7 352.9 235.0 353.0 234.3 353.0 225.1 353.1 224.9 353.1 228.5 353.1 225.5 353.1 228.4 353.1 230.7 353.1 223.2 353.2 225.3 353.3 218.5 353.3 220.0 353.3 228.4 353.3 220.3 353.3 219.9 353.4 214.1 353.4 210.7 353.4 225.2 353.4 218.8 353.4 228.8 353.4 226.9 353.5 212.5 353.5 206.2 353.5 207.3 353.6 209.3 353.6 206.3 353.6 236.2 353.6 227.1 353.7 226.7 353.7 232.7 353.7 235.8 353.7 220.8 353.8 223.6 353.8 220.9 353.8 222.3 353.8 219.8 353.8 224.0 353.9 223.2 353.9 229.0 353.9 214.0 354.0 217.3 354.0 219.8 354.0 221.5 354.0 219.7 354.1 222.3 354.1 222.7 354.1 225.1 354.1 228.3 354.1 231.6 354.1 223.4 354.1 226.9 354.2 220.5 354.2 222.9 354.2 224.5 354.2 233.8 354.3 220.0 354.3 229.8 354.3 233.3 354.3 232.0 354.3 230.7 354.4 224.6 354.4 234.3 354.4 234.5 354.4 224.0 354.5 236.3 354.5 237.7 354.6 221.7 354.6 224.9 354.7 233.3 354.7 217.2 354.7 217.0 354.7 215.2 354.8 212.5 354.8 220.7 354.8 221.1 354.8 217.1 354.8 219.8 354.8 216.3 354.8 220.7 354.9 225.5 354.9 224.1 354.9 237.4 354.9 244.6 355.0 239.4 355.0 231.5 355.0 231.0 355.1 226.5 355.1 225.6 355.1 229.2 355.1 228.8 355.1 228.6 355.1 227.5 355.2 227.4 355.3 224.5 355.3 221.6 355.4 225.1 355.4 226.4 355.4 223.9 355.5 234.1 355.5 241.5 355.5 240.8 355.5 235.8 355.5 224.6 355.5 225.9 355.6 216.4 355.6 217.6 355.6 214.4 355.7 217.4 355.7 220.8 355.7 219.3 355.7 219.5 355.8 230.3 355.8 226.2 355.8 225.3 355.8 219.6 355.8 218.8 355.9 232.5 355.9 231.2 355.9 224.4 355.9 222.5 355.9 222.5 356.0 222.0 356.0 221.7 356.0 226.1 356.0 219.4 356.0 220.7 356.0 222.4 356.0 222.1 356.0 219.0 356.0 217.9 356.0 218.2 356.0 219.0 356.1 224.9 356.1 229.8 356.1 223.4 356.1 234.8 356.1 222.4 356.1 219.7 356.2 236.4 356.2 218.2 356.2 217.7 356.3 218.4 356.3 231.7 356.3 225.8 356.4 216.7 356.4 213.7 356.4 213.1 356.4 210.1 356.5 214.8 356.5 207.3 356.5 207.4 356.5 206.8 356.6 211.7 356.6 213.4 356.6 210.3 356.6 208.3 356.7 210.2 356.7 218.1 356.8 223.0 356.8 220.2 356.8 217.2 356.8 225.4 356.8 215.8 356.8 216.9 356.8 215.5 356.9 221.1 356.9 225.2 357.0 226.4 357.0 227.8 357.0 226.1 357.1 236.4 357.1 230.9 357.2 221.8 357.2 226.4 357.3 221.7 357.3 224.7 357.3 229.5 357.4 212.6 357.4 204.7 357.5 206.9 357.5 205.2 357.5 206.3 357.5 211.4 357.5 210.8 357.5 206.9 357.6 219.4 357.6 206.1 357.6 213.0 357.6 206.9 357.7 204.0 357.7 202.5 357.8 206.9 357.9 200.1 357.9 202.1 357.9 199.6 357.9 196.1 357.9 200.8 357.9 197.5 357.9 201.8 358.0 198.6 358.0 200.9 358.0 201.7 358.0 200.8 358.1 213.6 358.1 217.5 358.1 214.3 358.1 206.0 358.1 208.2 358.2 209.9 358.2 216.8 358.2 220.0 358.2 220.7 358.2 216.9 358.3 219.3 358.3 210.0 358.3 218.1 358.3 214.6 358.3 212.2 358.4 210.6 358.4 211.9 358.4 198.8 358.4 202.4 358.5 196.6 358.5 213.7 358.5 216.8 358.5 212.8 358.5 218.5 358.5 219.3 358.6 211.1 358.6 216.1 358.6 215.3 358.6 218.9 358.6 210.2 358.6 217.8 358.7 217.1 358.7 233.4 358.7 222.2 358.7 225.6 358.7 225.6 358.8 210.3 358.8 214.8 358.8 211.8 358.9 209.3 359.0 201.7 359.0 197.7 359.0 210.4 359.1 211.5 359.1 211.7 359.1 202.4 359.2 194.7 359.2 202.0 359.2 202.4 359.3 199.4 359.3 187.0 359.3 187.0 359.3 187.2 359.3 189.8 359.3 183.9 359.4 186.9 359.4 183.7 359.4 181.0 359.4 185.5 359.4 182.2 359.5 184.2 359.5 183.6 359.5 185.3 359.5 184.6 359.5 187.8 359.6 183.7 359.6 185.3 359.7 184.3 359.7 186.0 359.8 177.9 359.8 182.1 359.9 188.6 360.0 187.0 360.0 186.2 360.0 186.2 360.0 189.4 360.0 191.8 360.0 186.8 360.0 187.8 360.0 187.5 360.0 187.7 360.0 187.1 360.1 197.7 360.1 192.8 360.1 195.3 360.1 193.2 360.1 196.9 360.1 195.2 360.1 203.9 360.1 210.4 360.1 202.2 360.2 202.6 360.2 200.9 360.2 198.3 360.2 201.3 360.2 207.7 360.2 208.8 360.3 195.4 360.3 189.2 360.3 182.2 360.4 181.3 360.4 181.4 360.4 179.0 360.4 179.8 360.4 180.2 360.4 181.2 360.5 182.2 360.5 181.2 360.6 194.8 360.6 191.4 360.6 194.7 360.6 187.2 360.7 201.7 360.7 213.0 360.7 198.1 360.7 202.1 360.7 203.2 360.7 193.0 360.7 202.9 360.7 198.6 360.7 198.2 360.7 193.1 360.7 195.6 360.8 189.0 360.8 190.4 360.8 199.3 360.8 187.5 360.9 192.1 360.9 182.8 360.9 182.1 360.9 182.0 361.0 195.9 361.0 188.8 361.0 189.2 361.0 191.2 361.0 190.5 361.0 194.0 361.0 193.6 361.0 193.0 361.1 200.8 361.1 204.1 361.1 200.3 361.1 202.8 361.1 201.6 361.1 190.2 361.2 181.2 361.2 176.6 361.2 183.7 361.3 177.4 361.3 178.2 361.3 186.1 361.3 182.0 361.3 178.2 361.4 175.4 361.4 177.2 361.4 177.1 361.5 182.0 361.6 180.4 361.6 173.7 361.6 182.0 361.6 179.4 361.7 175.6 361.8 177.4 361.8 174.8 361.8 178.1 361.9 177.5 361.9 175.5 362.0 180.4 362.0 175.8 362.0 179.4 362.1 191.6 362.1 190.3 362.1 191.0 362.1 191.9 362.1 187.7 362.2 186.8 362.2 191.5 362.2 190.7 362.3 180.1 362.4 181.3 362.4 179.5 362.5 190.1 362.5 195.9 362.5 192.1 362.5 185.7 362.5 206.1 362.6 195.3 362.7 193.0 362.7 192.2 362.7 186.0 362.7 181.7 362.7 188.7 362.7 185.1 362.8 190.9 362.8 184.0 362.8 184.2 362.9 173.5 362.9 173.5 362.9 174.5 362.9 173.3 362.9 173.2 362.9 172.1 363.0 170.1 363.0 172.6 363.0 170.9 363.1 170.9 363.2 170.3 363.2 170.3 363.2 169.4 363.3 172.7 363.4 171.3 363.4 171.7 363.4 170.8 363.4 171.8 363.4 171.0 363.4 173.7 363.4 174.7 363.4 176.8 363.5 177.1 363.5 181.2 363.5 172.1 363.6 172.9 363.6 178.3 363.6 173.1 363.7 171.1 363.7 169.6 363.7 173.4 363.7 172.1 363.7 171.3 363.8 178.0 363.8 182.9 363.9 176.1 363.9 173.1 363.9 169.3 363.9 171.0 363.9 168.0 363.9 169.7 363.9 169.6 364.0 166.3 364.0 167.6 364.0 167.4 364.0 165.9 364.0 165.8 364.0 165.2 364.0 165.2 364.0 166.1 364.1 164.5 364.1 164.3 364.2 163.5 364.2 163.3 364.3 161.0 364.3 159.5 364.3 163.6 364.4 161.6 364.4 162.9 364.4 164.4 364.4 162.6 364.4 160.4 364.4 164.9 364.4 167.9 364.4 167.8 364.4 167.8 364.5 166.6 364.5 169.0 364.5 168.8 364.5 169.5 364.5 171.6 364.5 166.8 364.5 164.7 364.5 164.7 364.5 166.2 364.6 166.6 364.6 172.1 364.6 167.4 364.6 167.9 364.8 172.9 364.8 172.6 364.8 170.1 364.8 169.9 364.8 170.4 364.9 168.6 364.9 177.1 365.0 177.2 365.0 174.4 365.0 174.2 365.0 179.6 365.0 176.2 365.0 181.5 365.0 177.8 365.1 180.8 365.1 179.4 365.1 175.9 365.1 179.6 365.1 183.4 365.2 173.1 365.2 168.8 365.2 171.1 365.3 166.3 365.3 168.7 365.3 167.0 365.3 166.3 365.3 167.1 365.4 166.0 365.4 163.0 365.4 165.5 365.4 163.7 365.5 168.1 365.5 168.9 365.5 169.3 365.6 172.5 365.6 170.9 365.6 175.5 365.6 175.0 365.7 176.2 365.7 175.9 365.7 176.1 365.7 178.5 365.7 180.8 365.8 187.2 365.8 188.2 365.8 189.8 365.9 178.0 365.9 183.8 365.9 179.0 365.9 178.0 365.9 180.5 365.9 175.2 365.9 175.7 366.0 176.8 366.0 174.2 366.1 177.8 366.1 178.5 366.1 178.8 366.1 176.2 366.2 189.2 366.2 190.2 366.2 197.1 366.2 203.2 366.2 200.3 366.2 199.5 366.2 199.0 366.2 201.9 366.3 204.9 366.3 190.8 366.3 195.8 366.4 196.5 366.4 193.5 366.4 178.8 366.4 177.6 366.5 181.4 366.5 178.7 366.5 180.1 366.6 175.2 366.6 175.5 366.6 171.3 366.6 173.5 366.7 168.3 366.7 168.2 366.8 175.1 366.9 175.7 366.9 180.0 366.9 180.3 366.9 180.2 367.0 191.5 367.0 180.2 367.0 181.6 367.0 178.8 367.1 189.1 367.1 186.1 367.2 184.3 367.2 184.2 367.2 184.6 367.2 186.4 367.2 184.3 367.2 185.9 367.3 185.4 367.3 188.1 367.3 191.7 367.4 196.8 367.4 199.0 367.4 201.1 367.5 202.6 367.5 195.6 367.5 197.6 367.5 182.7 367.5 184.9 367.6 183.2 367.6 182.9 367.6 183.4 367.6 177.1 367.7 177.6 367.7 179.3 367.7 178.6 367.8 183.7 367.8 189.6 367.8 189.7 368.0 188.2 368.0 187.3 368.0 188.9 368.0 187.6 368.1 185.1 368.1 181.4 368.1 187.1 368.1 189.9 368.1 187.3 368.1 184.6 368.1 195.4 368.2 196.1 368.2 196.4 368.2 196.7 368.2 198.9 368.3 202.7 368.3 190.1 368.3 189.5 368.3 183.4 368.4 189.3 368.4 190.0 368.4 190.9 368.4 191.5 368.4 188.1 368.4 191.0 368.5 193.3 368.5 190.9 368.5 192.6 368.5 194.0 368.6 198.5 368.6 203.0 368.6 198.9 368.6 200.2 368.6 202.2 368.7 195.9 368.8 195.5 368.8 200.2 368.8 200.9 368.9 209.5 368.9 204.7 368.9 201.0 368.9 209.4 369.0 203.6 369.0 202.9 369.0 209.9 369.0 204.4 369.0 205.1 369.0 207.2 369.0 205.8 369.1 207.1 369.1 205.0 369.2 209.6 369.2 216.5 369.2 221.2 369.2 217.7 369.3 201.0 369.3 199.8 369.3 199.0 369.3 202.2 369.3 199.5 369.4 197.8 369.4 192.7 369.4 190.3 369.4 193.8 369.4 193.5 369.4 194.9 369.4 195.1 369.4 193.6 369.4 196.0 369.5 195.1 369.5 196.8 369.5 196.8 369.6 199.3 369.6 193.0 369.6 193.5 369.6 197.7 369.7 195.1 369.7 194.7 369.7 201.5 369.8 201.4 369.8 199.4 369.8 195.6 369.8 199.5 369.9 208.3 369.9 209.4 369.9 206.0 369.9 210.0 370.0 209.8 370.0 244.4 370.0 244.0 370.0 244.9 370.1 243.9 370.1 244.8 370.1 207.8 370.1 214.6 370.2 215.7 370.2 214.3 370.2 215.1 370.2 212.4 370.2 215.4 370.2 217.3 370.5 227.4 370.5 225.4 370.5 224.1 370.5 222.6 370.5 222.9 370.6 217.9 370.6 215.5 370.6 216.6 370.6 218.1 370.6 217.0 370.7 206.3 370.7 206.8 370.7 203.9 370.8 218.9 370.8 216.3 370.8 215.9 370.9 222.7 370.9 217.8 370.9 221.0 370.9 221.4 370.9 222.4 371.1 215.2 371.1 215.6 371.2 217.3 371.2 216.6 371.2 218.9 371.2 220.4 371.2 219.2 371.2 219.4 371.2 219.8 371.3 219.8 371.3 209.8 371.3 213.3 371.3 211.6 371.4 211.8 371.4 210.5 371.4 225.5 371.4 229.7 371.5 219.9 371.5 225.6 371.5 227.7 371.6 208.5 371.6 214.7 371.7 212.3 371.7 223.8 371.7 224.9 371.7 220.8 371.7 222.5 371.7 220.7 371.7 220.1 371.8 225.5 371.8 225.7 371.8 224.0 371.8 225.7 371.9 232.2 371.9 235.3 371.9 226.2 371.9 224.7 371.9 221.7 372.0 238.4 372.0 241.1 372.0 239.0 372.0 241.6 372.0 238.9 372.0 237.5 372.1 225.6 372.1 216.6 372.1 215.3 372.2 220.3 372.2 221.5 372.2 222.8 372.2 222.9 372.2 234.3 372.3 232.2 372.3 235.4 372.3 223.1 372.3 226.3 372.3 223.6 372.3 224.4 372.4 217.3 372.4 220.7 372.4 223.9 372.5 225.5 372.5 224.5 372.5 224.7 372.6 234.2 372.6 236.7 372.6 234.2 372.6 223.4 372.7 222.5 372.7 222.3 372.7 221.8 372.7 224.6 372.7 224.7 372.7 225.2 372.7 226.0 372.8 225.9 372.8 227.0 372.8 224.6 372.8 225.4 372.8 225.5 372.9 216.7 373.0 216.5 373.0 215.7 373.0 221.4 373.1 226.6 373.1 230.5 373.1 229.7 373.1 228.9 373.2 229.6 373.2 227.5 373.2 229.1 373.2 225.3 373.2 222.8 373.2 222.3 373.3 224.6 373.3 221.8 373.3 218.2 373.3 218.3 373.4 216.0 373.4 218.1 373.5 218.2 373.5 215.8 373.5 214.4 373.6 214.2 373.6 211.3 373.6 213.9 373.7 214.9 373.7 220.1 373.7 220.7 373.8 214.5 373.8 216.4 373.9 210.4 374.0 217.1 374.0 217.7 374.0 217.6 374.0 209.8 374.1 212.5 374.1 210.9 374.1 208.0 374.1 210.8 374.2 204.9 374.2 207.0 374.2 208.2 374.2 204.3 374.2 207.4 374.2 208.8 374.2 204.2 374.3 204.9 374.3 204.0 374.3 201.6 374.3 205.1 374.3 212.0 374.4 212.6 374.4 216.2 374.4 212.5 374.5 211.2 374.5 204.9 374.5 203.9 374.5 201.8 374.5 202.3 374.5 205.5 374.5 203.4 374.5 201.5 374.5 206.3 374.5 205.2 374.6 203.4 374.6 204.5 374.6 206.4 374.6 205.7 374.6 204.3 374.6 201.9 374.6 200.6 374.7 204.0 374.7 201.7 374.7 203.1 374.7 203.0 374.7 202.3 374.7 204.4 374.8 204.4 374.8 206.7 374.8 210.4 374.8 213.1 374.9 203.2 374.9 206.4 375.0 204.8 375.0 211.6 375.0 212.0 375.1 203.1 375.1 206.4 375.1 204.3 375.1 202.7 375.1 199.9 375.1 200.5 375.2 203.8 375.2 205.4 375.2 203.0 375.2 206.5 375.2 205.8 375.2 202.8 375.2 203.7 375.3 205.3 375.3 213.8 375.4 219.8 375.4 211.3 375.5 210.9 375.5 213.8 375.5 207.4 375.5 208.7 375.5 212.6 375.6 206.0 375.6 204.9 375.6 205.2 375.8 195.3 375.8 194.9 375.9 191.0 375.9 193.6 375.9 191.0 376.0 202.9 376.0 207.1 376.1 203.4 376.1 203.3 376.1 200.8 376.2 211.8 376.2 201.8 376.2 198.4 376.2 199.4 376.2 196.2 376.2 197.8 376.2 196.3 376.2 193.8 376.3 194.4 376.3 193.8 376.3 201.1 376.3 201.7 376.3 196.3 376.3 198.0 376.3 197.7 376.4 199.1 376.4 196.0 376.4 199.9 376.4 198.5 376.4 199.3 376.4 201.2 376.4 199.0 376.4 198.7 376.5 197.0 376.5 195.1 376.5 194.8 376.5 195.8 376.5 194.3 376.5 198.2 376.5 197.0 376.6 202.9 376.6 201.8 376.6 201.4 376.6 201.8 376.7 198.2 376.7 201.2 376.7 194.3 376.8 194.0 376.8 195.5 376.8 186.6 376.9 185.5 376.9 184.8 376.9 187.7 376.9 185.8 376.9 189.2 376.9 189.3 377.0 188.2 377.0 190.0 377.0 188.6 377.0 183.1 377.1 184.1 377.1 187.7 377.1 185.0 377.1 185.5 377.1 194.3 377.2 191.4 377.2 185.2 377.2 181.9 377.3 189.2 377.4 185.9 377.4 177.5 377.4 176.2 377.4 179.9 377.4 178.7 377.4 182.5 377.4 177.5 377.5 189.9 377.5 188.0 377.6 184.6 377.6 183.5 377.6 185.0 377.6 185.0 377.6 185.0 377.6 182.5 377.6 182.2 377.6 183.6 377.7 178.0 377.7 181.7 377.8 188.2 377.8 187.2 377.8 189.9 377.8 187.3 377.8 184.2 377.9 185.6 377.9 181.1 377.9 180.6 377.9 179.6 377.9 181.5 378.0 178.3 378.0 176.5 378.0 176.3 378.1 182.7 378.1 178.3 378.1 177.5 378.2 178.8 378.2 177.2 378.3 173.6 378.3 176.0 378.3 174.2 378.4 176.8 378.4 179.3 378.4 175.4 378.4 182.6 378.4 178.4 378.5 178.2 378.5 184.0 378.5 190.8 378.5 183.5 378.6 186.9 378.6 189.3 378.6 184.4 378.6 181.9 378.6 183.7 378.7 189.9 378.7 188.5 378.7 187.9 378.7 178.1 378.7 178.1 378.7 181.2 378.8 181.0 378.8 183.8 378.9 178.0 378.9 177.1 379.0 179.8 379.0 183.2 379.0 178.4 379.0 180.8 379.0 178.8 379.0 178.8 379.0 180.5 379.1 180.8 379.1 174.9 379.1 175.7 379.2 171.8 379.2 167.8 379.2 166.7 379.2 168.3 379.2 170.1 379.2 169.4 379.3 168.0 379.3 178.2 379.3 179.4 379.4 178.4 379.4 175.0 379.4 174.3 379.4 172.8 379.4 171.6 379.4 176.4 379.4 172.3 379.5 173.5 379.6 162.9 379.6 159.2 379.6 161.7 379.6 161.4 379.7 168.8 379.7 168.8 379.7 171.3 379.7 168.7 379.8 178.6 379.8 179.4 379.8 167.8 379.9 164.6 379.9 175.4 379.9 179.6 379.9 179.9 380.0 177.8 380.0 177.8 380.0 178.3 380.0 178.0 380.1 181.6 380.2 174.4 380.3 173.0 380.3 174.2 380.3 173.9 380.3 173.2 380.5 162.0 380.5 163.4 380.5 165.9 380.5 179.1 380.6 178.0 380.6 178.0 380.6 176.7 380.7 174.0 380.7 174.5 380.7 175.2 380.8 172.6 380.8 173.7 380.9 173.7 380.9 174.4 380.9 182.2 380.9 183.0 381.0 182.2 381.0 180.8 381.0 180.3 381.1 176.0 381.1 175.5 381.1 174.2 381.1 180.7 381.1 177.9 381.1 178.3 381.2 168.2 381.2 168.1 381.2 176.7 381.2 177.1 381.2 177.7 381.2 175.9 381.3 174.1 381.3 182.0 381.4 178.1 381.4 179.9 381.4 177.2 381.4 171.0 381.5 174.1 381.5 175.9 381.6 176.5 381.6 166.3 381.7 165.0 381.7 166.6 381.7 166.2 381.7 171.1 381.7 171.2 381.8 174.9 381.9 180.1 381.9 181.4 381.9 184.4 381.9 181.9 381.9 183.1 382.0 180.2 382.0 180.2 382.1 180.1 382.1 177.0 382.1 177.4 382.1 175.9 382.1 173.7 382.2 178.0 382.2 171.7 382.2 174.3 382.3 164.1 382.3 169.0 382.3 165.2 382.3 157.1 382.4 157.1 382.4 160.3 382.4 159.0 382.4 156.9 382.4 164.7 382.4 164.7 382.4 160.1 382.5 163.7 382.5 167.4 382.6 174.0 382.6 171.7 382.6 174.7 382.6 172.4 382.6 165.7 382.6 168.9 382.6 166.8 382.7 177.0 382.7 170.4 382.8 174.1 382.8 172.6 382.8 174.1 382.8 186.0 382.8 181.5 382.8 181.1 382.8 180.5 382.9 177.8 382.9 177.3 382.9 181.5 382.9 179.3 382.9 181.6 382.9 182.7 383.1 171.9 383.1 171.5 383.2 175.9 383.2 171.4 383.2 172.4 383.2 178.1 383.2 173.9 383.2 176.9 383.2 174.1 383.3 177.5 383.3 177.3 383.4 175.2 383.4 171.7 383.4 174.5 383.4 174.6 383.4 174.6 383.4 172.9 383.5 170.7 383.5 173.3 383.5 175.5 383.6 172.5 383.6 173.5 383.6 171.8 383.7 168.7 383.7 172.6 383.7 171.8 383.8 172.3 383.8 175.4 383.8 181.1 383.8 181.8 383.9 179.6 384.0 183.8 384.0 184.9 384.0 178.5 384.0 179.9 384.1 182.5 384.1 183.3 384.1 184.4 384.1 181.5 384.1 187.7 384.2 188.6 384.2 182.9 384.2 176.1 384.2 176.4 384.2 171.9 384.3 172.8 384.4 171.8 384.4 166.6 384.4 176.7 384.4 175.5 384.4 175.2 384.4 178.3 384.5 166.7 384.5 165.2 384.5 169.0 384.5 166.0 384.5 174.2 384.5 174.3 384.5 173.7 384.5 172.5 384.5 175.3 384.5 171.9 384.5 175.3 384.6 176.4 384.6 179.0 384.6 180.3 384.6 182.0 384.6 181.1 384.7 180.5 384.7 186.8 384.7 186.6 384.7 185.7 384.7 187.6 384.8 187.1 384.8 185.1 384.8 187.7 384.8 181.0 384.8 181.5 384.8 182.5 384.8 181.6 384.8 178.6 384.8 182.5 384.9 184.9 384.9 183.6 384.9 178.8 384.9 183.4 385.0 175.8 385.0 173.6 385.0 172.5 385.0 173.4 385.0 176.4 385.1 175.1 385.2 184.7 385.3 181.8 385.3 185.1 385.3 189.0 385.3 186.6 385.3 185.5 385.4 190.0 385.4 190.4 385.4 190.0 385.4 188.0 385.4 188.3 385.5 188.5 385.5 194.2 385.6 194.0 385.6 194.0 385.6 196.4 385.6 197.2 385.6 195.6 385.6 195.9 385.6 196.8 385.6 193.3 385.7 196.1 385.7 193.5 385.7 195.0 385.8 189.7 385.8 195.0 385.8 193.3 385.9 192.2 385.9 199.2 385.9 206.3 385.9 208.8 385.9 206.8 386.0 204.4 386.1 204.7 386.1 208.3 386.2 207.9 386.2 196.7 386.2 195.7 386.2 192.7 386.2 204.3 386.2 205.3 386.2 204.9 386.2 206.1 386.3 201.5 386.3 200.8 386.3 204.3 386.3 203.2 386.3 201.6 386.3 201.6 386.3 204.3 386.3 203.8 386.4 206.0 386.4 212.3 386.5 200.8 386.5 205.4 386.6 199.0 386.6 198.6 386.6 196.2 386.6 197.5 386.6 198.6 386.6 192.2 386.6 188.3 386.7 188.4 386.7 189.5 386.7 190.2 386.7 191.6 386.7 192.9 386.7 190.7 386.7 197.2 386.7 195.5 386.8 199.2 386.9 199.4 386.9 206.2 386.9 204.4 386.9 206.3 387.0 203.9 387.0 201.9 387.0 205.3 387.1 203.3 387.1 200.2 387.1 202.4 387.1 198.0 387.1 206.3 387.2 205.0 387.2 203.8 387.2 205.2 387.3 203.6 387.3 206.7 387.3 210.4 387.3 212.6 387.4 209.7 387.4 212.2 387.4 211.0 387.4 211.3 387.4 211.5 387.5 212.0 387.5 209.2 387.6 211.6 387.7 212.3 387.7 214.3 387.7 210.5 387.7 209.1 387.8 208.3 387.8 211.5 387.8 208.9 387.8 213.8 387.8 214.3 387.9 218.4 387.9 221.2 388.0 219.4 388.0 218.1 388.1 212.7 388.2 211.5 388.2 212.4 388.2 220.9 388.2 219.7 388.2 219.8 388.2 220.0 388.3 232.6 388.3 231.4 388.3 225.9 388.3 235.5 388.4 238.1 388.4 233.8 388.4 236.6 388.4 233.5 388.4 232.7 388.5 230.3 388.6 231.3 388.6 227.6 388.6 230.9 388.6 232.1 388.6 237.0 388.6 234.0 388.6 235.6 388.7 219.2 388.7 218.0 388.7 218.1 388.7 222.3 388.8 219.1 388.8 219.0 388.8 221.4 388.8 223.9 388.8 221.4 388.9 224.9 388.9 214.0 388.9 216.0 388.9 217.4 388.9 214.8 388.9 215.6 388.9 227.8 389.0 232.4 389.0 231.9 389.0 231.5 389.1 220.9 389.1 225.2 389.2 232.1 389.2 236.6 389.2 237.5 389.2 233.2 389.2 233.1 389.3 234.1 389.3 233.7 389.3 231.9 389.3 234.5 389.3 233.0 389.4 222.7 389.4 226.1 389.4 226.4 389.4 222.6 389.4 223.1 389.4 223.6 389.5 217.0 389.5 224.7 389.5 223.7 389.6 224.1 389.6 223.7 389.6 217.3 389.6 221.2 389.7 225.9 389.7 224.4 389.7 228.7 389.7 228.1 389.8 230.3 389.8 235.5 389.8 233.6 389.8 235.5 389.8 230.0 389.8 232.5 389.9 239.6 389.9 233.8 389.9 232.5 389.9 240.1 389.9 238.2 389.9 238.3 390.0 231.8 390.0 231.1 390.0 229.8 390.0 237.3 390.0 239.3 390.0 233.4 390.0 236.9 390.0 240.6 390.1 215.6 390.1 215.0 390.2 220.0 390.2 209.9 390.2 214.6 390.2 210.8 390.2 217.2 390.3 217.6 390.3 210.5 390.3 212.7 390.4 234.2 390.4 234.6 390.4 233.3 390.4 213.9 390.5 222.2 390.5 212.7 390.5 213.9 390.5 211.5 390.5 220.4 390.5 212.9 390.6 215.0 390.6 216.4 390.6 215.7 390.6 212.6 390.7 232.8 390.7 236.7 390.7 232.0 390.7 220.7 390.7 217.5 390.7 218.7 390.7 216.8 390.8 215.9 390.8 218.2 390.8 221.0 390.9 209.1 390.9 216.3 390.9 211.8 390.9 209.5 390.9 219.2 391.0 217.3 391.0 213.3 391.0 211.0 391.0 211.7 391.0 217.8 391.0 217.0 391.0 220.5 391.1 222.8 391.1 214.6 391.1 213.5 391.1 213.0 391.1 211.3 391.1 213.0 391.2 217.2 391.2 215.9 391.2 218.6 391.3 214.8 391.3 211.2 391.3 211.7 391.3 215.2 391.3 212.6 391.3 215.1 391.3 215.1 391.3 216.5 391.4 214.9 391.4 215.3 391.4 209.7 391.4 211.6 391.4 210.7 391.4 212.9 391.5 210.7 391.5 208.9 391.5 207.5 391.5 213.9 391.6 206.2 391.6 206.1 391.7 203.0 391.7 199.1 391.7 200.0 391.7 200.9 391.7 212.8 391.8 204.5 391.8 202.6 391.8 202.1 391.9 210.3 391.9 209.9 391.9 205.4 391.9 200.6 392.0 199.2 392.0 200.1 392.0 196.9 392.0 197.2 392.0 198.0 392.1 199.7 392.1 202.0 392.1 201.5 392.1 201.4 392.1 200.9 392.1 194.1 392.1 192.8 392.2 195.8 392.2 198.0 392.2 203.1 392.2 199.9 392.3 191.7 392.3 191.1 392.3 189.3 392.3 188.7 392.4 194.3 392.4 199.3 392.4 193.3 392.4 193.8 392.4 195.7 392.5 197.0 392.5 195.6 392.5 194.4 392.5 193.9 392.6 190.1 392.6 190.0 392.6 188.0 392.6 189.5 392.6 190.1 392.6 185.9 392.6 185.8 392.6 196.8 392.7 198.0 392.7 201.8 392.7 195.0 392.7 193.6 392.8 194.2 392.8 192.7 392.8 192.9 392.8 193.3 392.8 195.6 392.9 203.3 392.9 199.2 393.0 192.9 393.0 193.2 393.0 197.0 393.0 196.5 393.0 197.4 393.0 196.8 393.0 196.0 393.0 198.0 393.0 196.6 393.0 197.7 393.1 198.1 393.1 202.3 393.2 198.1 393.2 198.6 393.2 195.9 393.2 190.6 393.2 192.2 393.3 179.2 393.3 184.8 393.3 184.6 393.3 176.3 393.3 181.2 393.3 177.8 393.4 183.0 393.4 183.5 393.4 178.2 393.5 181.4 393.5 184.3 393.6 181.4 393.6 183.3 393.6 179.2 393.6 183.4 393.7 185.8 393.7 183.7 393.7 185.2 393.7 185.8 393.7 184.8 393.7 183.7 393.8 186.3 393.8 184.1 393.8 183.8 393.8 186.2 393.8 187.1 393.8 187.0 393.8 188.9 393.8 184.2 393.8 186.3 393.9 184.0 393.9 182.2 393.9 177.0 393.9 175.2 394.0 181.0 394.0 178.6 394.0 179.2 394.0 180.2 394.0 188.8 394.0 186.7 394.1 179.6 394.1 184.2 394.1 184.7 394.1 178.5 394.1 184.2 394.2 182.9 394.2 185.4 394.3 168.8 394.3 171.2 394.3 172.3 394.3 175.8 394.4 176.1 394.4 175.1 394.4 176.5 394.4 174.8 394.5 185.2 394.5 179.8 394.6 176.6 394.6 175.1 394.6 177.3 394.6 171.3 394.6 176.4 394.6 176.1 394.6 183.3 394.6 180.3 394.7 181.5 394.7 187.5 394.7 176.8 394.8 172.5 394.8 172.6 394.9 175.4 394.9 176.8 394.9 176.4 395.0 181.3 395.0 160.4 395.0 161.7 395.0 156.6 395.0 160.1 395.1 181.4 395.1 179.9 395.1 184.8 395.2 184.7 395.2 186.3 395.2 174.3 395.2 171.7 395.2 169.9 395.3 179.1 395.3 175.5 395.4 170.9 395.4 169.3 395.5 172.0 395.5 171.1 395.5 176.0 395.5 173.9 395.5 173.1 395.5 175.8 395.5 180.8 395.6 180.3 395.6 181.8 395.6 177.9 395.6 182.1 395.6 176.2 395.7 175.3 395.7 161.7 395.7 168.6 395.7 168.8 395.8 175.1 395.8 171.6 395.8 171.5 395.8 172.3 395.8 169.5 395.9 166.6 395.9 166.0 395.9 170.1 395.9 169.3 395.9 170.5 396.0 166.3 396.0 173.7 396.0 175.9 396.1 174.0 396.1 175.0 396.1 174.2 396.1 170.5 396.1 164.9 396.2 163.2 396.2 164.5 396.2 164.5 396.3 164.4 396.3 163.8 396.3 168.2 396.3 166.1 396.3 164.4 396.3 159.8 396.4 161.5 396.4 162.8 396.4 162.7 396.5 166.8 396.5 168.4 396.5 169.3 396.5 167.5 396.5 166.0 396.5 157.7 396.6 159.3 396.6 162.3 396.6 165.2 396.6 172.7 396.7 169.0 396.7 167.4 396.7 166.8 396.7 166.8 396.7 166.1 396.7 163.3 396.8 159.0 396.8 160.8 396.8 159.1 396.8 155.7 396.8 160.4 396.8 156.6 396.8 162.4 396.9 159.4 396.9 168.4 396.9 167.5 396.9 169.5 396.9 169.4 397.0 161.5 397.0 162.1 397.0 170.5 397.1 173.7 397.1 172.0 397.1 174.5 397.1 173.3 397.2 163.7 397.2 165.5 397.2 167.6 397.2 166.8 397.2 170.0 397.2 170.7 397.2 172.5 397.3 170.7 397.3 169.2 397.3 171.6 397.3 169.8 397.3 171.5 397.3 169.7 397.4 158.7 397.4 166.4 397.5 166.9 397.5 165.5 397.5 161.0 397.5 159.4 397.5 162.4 397.6 162.1 397.6 166.4 397.6 165.6 397.6 159.3 397.6 158.0 397.7 155.1 397.7 153.3 397.8 152.1 397.8 151.8 397.8 151.6 397.8 149.6 397.9 156.2 398.0 159.2 398.0 157.7 398.0 159.2 398.0 160.9 398.1 152.0 398.1 149.1 398.1 151.3 398.2 156.6 398.2 152.3 398.2 155.1 398.2 163.7 398.2 167.6 398.2 168.0 398.2 166.7 398.2 167.0 398.3 157.5 398.4 160.2 398.4 164.3 398.4 159.8 398.4 160.8 398.5 156.7 398.5 160.0 398.5 159.1 398.5 158.5 398.5 162.3 398.5 164.0 398.6 166.5 398.6 167.7 398.6 163.1 398.6 157.3 398.6 161.2 398.7 158.7 398.8 164.8 398.8 168.6 398.8 163.0 398.8 164.3 398.9 166.6 398.9 164.4 398.9 158.8 398.9 164.7 398.9 161.6 398.9 162.9 399.0 163.6 399.0 162.4 399.0 162.0 399.0 165.0 399.0 164.4 399.0 163.1 399.0 161.7 399.0 160.2 399.0 162.1 399.1 169.5 399.1 163.0 399.1 163.8 399.1 165.5 399.2 161.9 399.2 161.9 399.2 157.7 399.2 160.9 399.3 162.4 399.3 157.6 399.3 157.0 399.3 166.0 399.3 165.3 399.4 164.7 399.4 164.2 399.5 163.6 399.5 158.7 399.5 163.7 399.5 159.8 399.5 167.1 399.6 163.2 399.6 167.8 399.6 169.2 399.6 170.3 399.6 166.1 399.7 166.2 399.7 164.2 399.7 158.9 399.8 155.9 399.8 161.7 399.8 161.1 399.8 157.1 399.8 157.7 399.9 155.5 399.9 153.8 399.9 153.8 399.9 154.5 399.9 156.8 399.9 159.4 400.0 158.0 400.0 156.2 400.0 161.3 400.0 160.3 400.0 157.4 400.0 159.0 400.0 151.6 400.0 156.0 400.1 152.0 400.1 160.1 400.1 157.6 400.2 157.9 400.2 158.3 400.2 158.2 400.2 159.9 400.2 161.1 400.3 159.4 400.3 162.3 400.3 161.3 400.3 161.0 400.3 158.8 400.3 159.2 400.4 159.0 400.5 164.5 400.5 164.9 400.5 161.6 400.5 161.9 400.5 161.4 400.6 167.3 400.6 164.7 400.6 165.1 400.6 164.6 400.6 165.0 400.6 166.3 400.6 166.0 400.7 165.7 400.7 162.6 400.7 163.7 400.8 164.3 400.8 159.8 400.8 158.4 400.8 157.3 400.8 161.2 400.8 159.0 400.9 162.2 400.9 163.9 400.9 164.8 401.0 159.9 401.0 166.8 401.0 167.0 401.1 170.9 401.1 166.8 401.1 167.0 401.1 166.3 401.2 167.8 401.2 167.7 401.3 167.1 401.3 169.9 401.3 169.3 401.3 168.7 401.4 172.2 401.4 172.4 401.4 174.1 401.5 170.1 401.5 170.2 401.5 164.8 401.6 167.9 401.6 172.7 401.6 169.5 401.7 177.3 401.7 176.9 401.7 173.5 401.7 177.1 401.7 167.6 401.8 171.2 401.8 173.2 401.8 146.5 401.8 147.7 401.8 142.9 401.8 148.8 401.9 163.0 401.9 165.9 401.9 168.4 402.0 165.6 402.0 168.0 402.0 179.7 402.1 175.3 402.1 184.9 402.2 181.0 402.2 177.6 402.2 177.4 402.2 182.0 402.3 180.9 402.3 179.4 402.3 175.2 402.3 177.4 402.4 177.1 402.4 180.3 402.5 182.9 402.5 183.5 402.5 188.6 402.6 187.4 402.6 173.4 402.6 172.2 402.6 177.5 402.6 181.2 402.7 180.2 402.7 179.0 402.7 182.2 402.7 173.2 402.7 174.5 402.7 153.6 402.8 180.2 402.9 178.6 402.9 178.1 402.9 183.8 402.9 188.6 402.9 187.4 402.9 190.5 402.9 189.0 403.0 182.6 403.0 183.6 403.1 184.3 403.1 179.6 403.2 185.4 403.2 182.7 403.2 190.5 403.2 191.3 403.2 191.5 403.2 186.0 403.2 189.4 403.3 186.1 403.3 187.6 403.4 187.9 403.4 189.2 403.4 192.1 403.5 189.8 403.5 189.5 403.5 187.7 403.5 189.0 403.6 188.8 403.6 187.8 403.6 197.5 403.6 202.0 403.7 193.1 403.7 197.6 403.7 196.1 403.7 199.3 403.8 198.9 403.8 196.4 403.8 197.2 403.8 193.4 403.8 194.7 403.8 194.4 403.8 193.5 403.9 197.0 403.9 198.1 403.9 193.4 403.9 192.6 403.9 192.6 404.0 188.6 404.0 187.0 404.0 192.6 404.0 188.8 404.0 196.2 404.0 193.3 404.1 200.1 404.1 199.0 404.1 198.7 404.1 197.3 404.2 192.8 404.2 193.5 404.2 189.8 404.2 197.4 404.2 195.5 404.2 194.9 404.2 193.4 404.2 199.9 404.3 199.1 404.3 198.5 404.3 196.4 404.3 192.3 404.4 194.5 404.4 196.2 404.4 194.8 404.4 195.0 404.4 196.1 404.5 196.2 404.5 198.4 404.5 198.8 404.5 198.0 404.5 196.8 404.6 199.5 404.6 201.2 404.6 200.0 404.6 203.0 404.6 203.5 404.7 206.9 404.7 207.2 404.7 210.7 404.8 212.9 404.8 210.0 404.8 210.6 404.8 211.4 404.8 211.7 404.8 202.2 404.8 200.9 404.8 201.3 404.9 194.4 404.9 191.3 404.9 197.2 404.9 197.4 405.0 188.5 405.0 196.6 405.0 192.5 405.1 197.2 405.1 199.4 405.1 197.8 405.2 195.9 405.2 197.8 405.2 202.1 405.2 202.2 405.2 200.0 405.2 207.0 405.3 205.9 405.3 204.6 405.3 194.3 405.4 198.7 405.4 192.1 405.4 191.7 405.5 183.8 405.5 199.3 405.5 193.9 405.5 198.0 405.6 195.2 405.6 195.8 405.6 199.1 405.6 200.3 405.6 199.9 405.6 199.4 405.6 198.4 405.6 207.7 405.6 207.6 405.6 206.9 405.6 205.6 405.7 207.7 405.7 210.4 405.7 210.2 405.8 208.1 405.9 201.8 405.9 203.7 405.9 204.4 405.9 203.1 406.0 208.4 406.0 208.7 406.0 209.9 406.0 209.4 406.1 205.7 406.1 212.4 406.1 207.8 406.1 204.1 406.1 207.5 406.1 209.2 406.2 212.2 406.2 209.5 406.2 210.7 406.3 213.6 406.3 213.1 406.3 211.2 406.3 204.8 406.3 204.7 406.4 204.9 406.4 207.3 406.4 219.4 406.5 221.1 406.5 214.2 406.5 210.8 406.6 212.0 406.6 226.6 406.6 222.2 406.6 224.9 406.7 216.0 406.7 221.0 406.8 206.1 406.8 206.3 406.8 208.1 406.8 206.4 406.8 206.1 406.9 206.5 406.9 208.0 406.9 217.3 407.0 222.0 407.0 222.9 407.0 218.9 407.0 217.6 407.0 219.8 407.0 223.6 407.0 216.8 407.0 215.0 407.0 213.8 407.0 216.0 407.0 217.5 407.0 215.2 407.0 215.1 407.1 208.6 407.1 210.1 407.1 210.5 407.1 214.9 407.1 217.9 407.1 216.3 407.1 214.6 407.1 217.9 407.2 211.8 407.2 210.8 407.2 211.2 407.2 209.7 407.2 217.3 407.2 217.8 407.2 217.7 407.3 223.7 407.3 219.3 407.4 218.2 407.4 216.1 407.4 216.4 407.4 214.7 407.6 217.9 407.6 217.5 407.6 219.9 407.6 209.1 407.6 210.8 407.7 210.4 407.7 209.5 407.7 211.8 407.8 201.7 407.8 202.4 407.8 204.4 407.8 202.8 407.9 199.4 407.9 200.6 407.9 194.7 407.9 192.1 407.9 194.8 407.9 193.3 407.9 193.4 408.0 192.4 408.0 190.1 408.0 196.4 408.0 198.2 408.1 196.1 408.1 194.1 408.1 192.6 408.1 190.7 408.1 194.8 408.1 192.6 408.1 190.0 408.1 191.0 408.2 191.7 408.2 194.5 408.2 196.9 408.3 198.7 408.3 198.9 408.3 199.0 408.4 200.5 408.4 198.7 408.4 197.1 408.4 197.4 408.5 179.4 408.5 182.0 408.5 182.2 408.5 184.6 408.5 182.9 408.5 180.1 408.6 198.2 408.7 187.1 408.7 188.9 408.7 188.8 408.7 184.0 408.7 190.1 408.7 186.8 408.8 189.1 408.8 190.4 408.8 189.5 408.9 196.7 408.9 195.0 408.9 199.7 408.9 198.5 409.1 194.1 409.1 194.0 409.1 198.5 409.1 196.2 409.1 196.8 409.1 197.1 409.1 187.3 409.2 185.7 409.2 182.0 409.2 195.3 409.2 192.3 409.2 192.5 409.2 191.3 409.2 189.0 409.2 189.2 409.3 190.0 409.3 193.9 409.3 195.5 409.3 192.4 409.3 190.2 409.3 194.0 409.4 191.8 409.4 195.6 409.4 190.4 409.4 192.4 409.4 191.7 409.4 197.3 409.4 195.6 409.4 196.1 409.4 194.6 409.5 191.2 409.5 188.1 409.5 190.1 409.5 190.6 409.6 188.3 409.7 181.5 409.7 179.7 409.7 181.3 409.7 178.2 409.7 181.3 409.7 179.3 409.8 179.9 409.8 180.3 409.8 182.9 409.8 181.0 409.8 172.3 409.8 172.1 409.9 174.5 409.9 182.2 410.0 184.2 410.0 193.1 410.0 188.8 410.0 189.9 410.1 184.8 410.1 186.6 410.1 186.9 410.1 187.8 410.1 191.9 410.1 171.1 410.2 173.3 410.2 172.0 410.2 171.7 410.2 165.6 410.2 167.4 410.2 165.8 410.2 163.9 410.3 165.3 410.3 164.8 410.4 170.5 410.4 172.4 410.4 169.6 410.4 166.5 410.5 168.4 410.5 170.1 410.5 169.5 410.5 170.6 410.6 170.1 410.6 169.0 410.6 171.5 410.7 178.2 410.8 173.9 410.8 175.8 410.8 179.1 410.8 181.4 410.9 178.6 410.9 177.9 410.9 179.5 410.9 179.8 410.9 178.2 410.9 173.8 410.9 177.0 411.0 173.1 411.0 172.7 411.0 175.4 411.0 175.1 411.0 171.1 411.1 171.5 411.1 173.9 411.1 176.2 411.2 173.8 411.2 177.6 411.3 176.1 411.3 182.0 411.3 184.5 411.3 179.7 411.3 176.5 411.3 178.2 411.3 176.2 411.3 176.5 411.4 175.7 411.4 176.6 411.4 176.5 411.4 177.8 411.4 178.5 411.4 179.2 411.5 177.8 411.5 175.0 411.5 174.4 411.5 172.6 411.5 178.0 411.5 173.1 411.5 176.4 411.5 174.3 411.6 177.8 411.6 176.8 411.6 181.2 411.6 178.5 411.7 174.8 411.7 172.3 411.7 161.2 411.7 161.3 411.7 164.9 411.7 162.2 411.8 174.5 411.9 171.4 411.9 169.8 411.9 163.4 412.0 176.8 412.0 176.7 412.0 177.6 412.0 165.9 412.1 171.6 412.1 169.6 412.2 170.4 412.2 172.0 412.2 171.4 412.2 167.6 412.2 177.3 412.2 175.2 412.2 170.5 412.2 176.8 412.2 170.9 412.3 174.9 412.3 174.8 412.3 173.3 412.3 174.7 412.3 173.9 412.3 171.7 412.4 162.1 412.4 162.6 412.5 165.0 412.5 160.1 412.5 164.2 412.5 163.2 412.5 164.1 412.6 162.5 412.6 167.5 412.6 164.3 412.6 162.2 412.6 164.1 412.6 165.0 412.7 159.6 412.7 161.3 412.7 160.4 412.7 162.7 412.7 154.6 412.8 157.1 412.8 154.6 412.8 157.9 412.8 156.8 412.8 155.5 412.8 160.6 412.9 160.2 412.9 160.6 412.9 164.3 412.9 164.7 413.0 159.3 413.1 159.2 413.1 153.5 413.2 149.3 413.2 162.3 413.2 163.3 413.2 153.7 413.2 153.3 413.2 159.0 413.3 156.7 413.3 158.6 413.3 157.1 413.3 153.4 413.4 162.0 413.4 160.5 413.4 158.7 413.4 155.0 413.4 153.7 413.5 161.4 413.6 160.6 413.6 161.3 413.6 161.4 413.6 154.8 413.7 159.7 413.8 162.7 413.8 166.3 413.8 149.1 413.8 141.5 413.8 147.5 413.9 149.0 413.9 145.1 413.9 145.8 413.9 146.8 413.9 157.0 413.9 160.6 413.9 156.0 414.0 159.4 414.0 159.9 414.1 155.8 414.1 156.4 414.1 154.2 414.1 155.5 414.2 156.7 414.2 161.3 414.2 164.5 414.2 158.3 414.2 158.7 414.3 154.9 414.3 157.9 414.3 160.2 414.3 158.2 414.3 161.0 414.4 161.1 414.4 159.7 414.4 161.0 414.4 158.4 414.4 152.7 414.4 166.6 414.5 158.5 414.5 158.3 414.5 157.2 414.5 155.1 414.5 162.7 414.5 158.8 414.6 159.0 414.6 162.9 414.6 161.8 414.6 163.8 414.7 171.5 414.8 164.3 414.8 165.5 414.8 162.9 414.8 161.5 414.8 164.9 414.9 161.5 414.9 160.5 415.0 155.0 415.0 143.2 415.0 143.9 415.0 144.3 415.0 143.6 415.0 149.7 415.0 151.2 415.1 152.6 415.1 147.0 415.1 146.8 415.1 149.5 415.1 148.7 415.1 146.7 415.1 144.3 415.2 155.4 415.2 150.9 415.2 152.0 415.2 151.0 415.3 154.9 415.3 150.2 415.3 150.2 415.3 156.3 415.4 151.3 415.4 155.0 415.5 154.8 415.5 158.8 415.5 159.7 415.5 163.3 415.5 158.5 415.5 161.5 415.6 160.9 415.6 153.5 415.6 152.9 415.6 151.4 415.6 152.1 415.6 151.5 415.6 153.8 415.7 160.2 415.7 153.0 415.7 156.4 415.7 158.3 415.7 158.3 415.7 159.7 415.7 157.7 415.7 161.6 415.8 161.4 415.8 159.0 415.8 155.7 415.8 160.3 415.9 158.3 415.9 158.7 415.9 162.9 416.0 163.9 416.0 164.5 416.0 170.0 416.1 158.7 416.1 158.2 416.1 155.1 416.1 155.7 416.1 153.2 416.1 155.8 416.1 159.6 416.1 161.6 416.2 159.0 416.2 158.2 416.3 156.1 416.3 158.2 416.3 156.4 416.3 157.5 416.4 162.4 416.4 160.7 416.5 161.5 416.5 163.6 416.5 162.5 416.6 155.8 416.6 153.9 416.6 156.3 416.6 156.5 416.6 159.2 416.7 158.7 416.7 158.5 416.7 158.7 416.7 160.0 416.7 157.8 416.8 156.8 416.8 156.2 416.8 158.4 416.8 155.8 416.9 155.8 416.9 153.2 416.9 160.1 416.9 159.9 416.9 161.3 416.9 163.8 417.0 163.0 417.0 142.3 417.0 141.2 417.0 141.5 417.0 140.6 417.0 139.2 417.1 154.2 417.1 155.8 417.1 153.4 417.1 157.0 417.2 156.0 417.2 149.9 417.2 158.2 417.3 155.6 417.3 153.2 417.3 153.2 417.4 157.3 417.4 154.8 417.4 155.8 417.4 154.7 417.4 150.5 417.4 151.8 417.4 152.4 417.5 155.5 417.5 159.5 417.5 158.8 417.5 162.1 417.5 158.7 417.5 157.9 417.5 156.9 417.6 156.6 417.6 157.7 417.6 160.0 417.7 156.4 417.7 158.4 417.7 166.2 417.7 164.1 417.7 163.1 417.8 147.0 417.8 155.9 417.9 163.5 417.9 165.2 418.0 165.2 418.0 166.8 418.0 157.7 418.0 151.9 418.1 149.7 418.1 151.8 418.1 152.1 418.1 153.3 418.1 153.3 418.1 152.1 418.1 152.8 418.2 159.5 418.2 161.0 418.2 160.4 418.2 158.6 418.3 152.9 418.3 162.6 418.3 155.6 418.3 155.6 418.4 155.4 418.4 155.3 418.5 161.5 418.5 161.5 418.5 160.9 418.5 159.9 418.6 162.3 418.6 164.5 418.6 162.9 418.7 160.4 418.7 163.9 418.7 163.5 418.7 161.6 418.7 165.8 418.7 164.0 418.7 160.6 418.8 158.4 418.8 159.1 418.8 162.4 418.8 156.6 418.8 155.0 418.9 152.7 418.9 155.0 418.9 163.3 418.9 160.0 418.9 158.6 419.0 165.0 419.0 160.6 419.0 156.7 419.0 159.9 419.1 159.9 419.1 157.8 419.2 157.8 419.2 156.7 419.2 152.3 419.2 158.3 419.2 159.8 419.2 160.5 419.3 157.3 419.3 157.4 419.3 163.4 419.4 166.3 419.4 162.9 419.4 158.1 419.5 158.5 419.5 153.6 419.5 151.8 419.5 155.7 419.5 154.7 419.5 151.7 419.5 155.9 419.5 153.2 419.6 151.9 419.6 155.7 419.7 158.0 419.7 156.7 419.7 155.3 419.8 162.0 419.8 162.5 419.8 160.2 419.8 166.8 419.8 167.6 419.9 165.4 419.9 166.3 419.9 169.3 419.9 167.8 419.9 165.2 419.9 166.7 419.9 165.2 420.0 163.0 420.0 163.6 420.1 159.2 420.1 159.0 420.1 161.1 420.1 159.4 420.1 160.1 420.1 160.5 420.1 161.7 420.2 167.2 420.2 166.5 420.2 164.3 420.2 164.1 420.2 163.9 420.2 166.2 420.2 163.1 420.3 152.1 420.3 153.1 420.3 160.7 420.4 163.9 420.4 163.3 420.5 165.3 420.5 164.7 420.5 164.5 420.5 166.0 420.6 163.1 420.6 164.0 420.6 164.6 420.6 162.4 420.6 167.9 420.7 169.1 420.7 164.0 420.7 167.5 420.7 158.8 420.7 159.7 420.8 161.0 420.8 161.0 420.8 163.2 420.8 162.4 420.9 166.1 420.9 154.9 420.9 153.0 420.9 155.3 420.9 153.9 420.9 153.1 421.0 154.3 421.0 155.7 421.0 154.9 421.0 151.4 421.1 161.7 421.2 165.2 421.2 168.0 421.2 167.1 421.2 167.3 421.3 168.0 421.3 172.5 421.3 173.4 421.3 171.0 421.4 172.1 421.4 171.5 421.4 172.2 421.4 168.8 421.4 171.5 421.5 179.3 421.5 174.2 421.6 171.2 421.6 174.0 421.6 175.8 421.7 179.6 421.7 176.7 421.7 175.5 421.7 178.6 421.7 173.4 421.7 176.0 421.8 174.6 421.8 180.4 421.8 185.3 421.8 183.6 421.9 185.9 421.9 184.0 421.9 183.4 421.9 183.4 421.9 168.3 422.0 172.9 422.0 175.2 422.0 179.7 422.0 176.5 422.1 176.4 422.1 178.0 422.1 180.4 422.1 177.9 422.2 178.6 422.2 170.0 422.2 170.9 422.2 175.6 422.2 178.8 422.3 182.9 422.4 184.4 422.4 185.1 422.4 182.7 422.4 184.6 422.5 176.0 422.5 178.0 422.5 185.1 422.5 188.2 422.6 186.4 422.6 189.8 422.6 187.7 422.6 190.7 422.6 182.7 422.7 186.9 422.7 183.5 422.8 187.3 422.8 192.2 422.8 193.8 422.8 187.1 422.8 187.2 422.8 189.9 422.9 185.8 422.9 183.5 422.9 172.5 422.9 173.3 423.0 179.2 423.0 176.7 423.1 185.1 423.1 189.2 423.1 189.2 423.1 191.7 423.1 188.8 423.1 190.2 423.2 196.6 423.2 198.1 423.2 198.6 423.2 196.9 423.3 201.3 423.3 198.0 423.3 197.7 423.3 198.9 423.3 203.3 423.3 202.7 423.3 202.9 423.3 200.3 423.4 201.2 423.4 198.8 423.4 200.7 423.4 204.2 423.4 204.7 423.5 196.5 423.5 196.4 423.5 196.9 423.5 198.3 423.5 201.0 423.5 197.3 423.5 197.6 423.6 198.5 423.6 190.9 423.6 194.4 423.6 194.6 423.7 192.8 423.7 194.9 423.7 195.0 423.7 196.1 423.7 195.4 423.7 197.6 423.7 196.1 423.8 198.8 423.8 197.5 423.8 200.6 423.8 198.3 423.9 200.7 423.9 205.5 423.9 200.3 423.9 200.6 424.0 194.1 424.0 191.0 424.1 190.6 424.1 198.2 424.1 195.1 424.1 210.7 424.2 214.3 424.2 211.8 424.2 214.2 424.2 214.5 424.2 207.5 424.2 212.0 424.2 211.4 424.3 220.8 424.3 220.7 424.4 214.5 424.4 214.5 424.4 211.9 424.4 214.0 424.5 217.9 424.5 214.2 424.5 214.6 424.5 219.6 424.5 215.9 424.5 207.6 424.5 206.2 424.5 210.7 424.5 206.1 424.6 201.5 424.6 203.2 424.6 212.7 424.7 213.2 424.7 217.3 424.8 223.8 424.8 224.5 424.8 222.3 424.8 224.5 424.8 227.7 424.9 219.8 425.0 215.4 425.0 214.5 425.0 217.7 425.0 217.3 425.1 210.9 425.1 214.9 425.1 216.1 425.1 216.7 425.2 227.1 425.2 226.6 425.2 227.8 425.2 226.4 425.2 220.5 425.2 215.3 425.4 206.9 425.4 208.9 425.5 201.6 425.5 206.1 425.5 193.6 425.5 196.0 425.5 197.8 425.6 202.5 425.6 204.8 425.6 199.2 425.6 201.2 425.6 200.7 425.6 187.1 425.7 189.9 425.7 192.5 425.7 187.4 425.7 187.1 425.8 185.4 425.8 188.0 425.8 203.5 425.8 201.7 425.9 207.3 425.9 205.1 425.9 204.4 426.0 199.0 426.0 196.9 426.0 191.2 426.1 190.4 426.1 185.0 426.2 187.4 426.2 189.5 426.2 186.7 426.2 189.6 426.2 196.0 426.2 197.2 426.3 194.4 426.3 192.8 426.3 197.8 426.3 194.5 426.3 197.2 426.4 192.2 426.4 192.6 426.4 195.9 426.4 194.3 426.4 194.4 426.4 191.2 426.5 188.4 426.5 191.9 426.5 187.3 426.5 191.3 426.5 191.8 426.6 187.3 426.7 169.3 426.7 187.9 426.7 185.4 426.8 185.9 426.8 191.1 426.8 191.6 426.8 197.5 426.8 194.4 426.8 196.4 426.8 194.3 426.9 191.7 426.9 189.2 426.9 192.0 426.9 194.2 427.0 196.1 427.0 194.6 427.0 193.8 427.0 193.9 427.0 195.1 427.1 191.7 427.1 186.9 427.1 187.1 427.1 189.5 427.1 187.2 427.1 181.8 427.2 183.1 427.2 181.3 427.3 183.6 427.3 180.2 427.3 183.0 427.3 177.9 427.4 178.3 427.4 178.6 427.4 185.1 427.5 180.8 427.5 184.6 427.5 180.9 427.5 181.7 427.5 176.9 427.6 175.1 427.6 175.0 427.7 181.1 427.7 173.6 427.8 180.2 427.8 174.1 427.8 174.5 427.9 179.1 427.9 183.6 427.9 182.9 427.9 181.7 428.0 178.3 428.0 182.7 428.0 179.6 428.0 182.2 428.0 178.5 428.1 177.7 428.1 179.5 428.1 178.6 428.2 180.2 428.2 181.6 428.2 174.5 428.2 178.6 428.3 170.9 428.3 178.6 428.3 179.6 428.3 179.2 428.3 177.9 428.4 178.3 428.4 182.2 428.4 181.0 428.4 183.8 428.4 178.6 428.5 185.5 428.5 180.1 428.5 179.3 428.6 181.7 428.6 180.8 428.6 183.0 428.6 185.7 428.6 176.7 428.7 166.2 428.7 164.3 428.7 167.2 428.7 162.6 428.8 163.6 428.8 161.7 428.8 160.8 428.8 159.7 428.8 161.5 428.8 157.1 428.8 154.0 428.9 157.1 428.9 156.6 428.9 153.1 429.0 153.1 429.0 160.3 429.0 155.8 429.1 156.1 429.1 158.6 429.1 159.8 429.2 166.2 429.2 166.7 429.2 169.0 429.2 163.2 429.3 160.8 429.3 162.1 429.3 167.7 429.3 167.8 429.3 169.7 429.3 167.3 429.4 162.8 429.5 164.9 429.5 161.2 429.5 160.5 429.6 158.5 429.6 157.2 429.6 155.7 429.6 153.9 429.7 163.4 429.7 137.9 429.7 135.7 429.7 156.0 429.7 156.6 429.8 150.9 429.8 151.8 429.8 153.0 429.8 163.3 429.8 163.3 429.8 161.7 429.8 161.0 429.8 164.4 429.9 158.9 430.0 154.1 430.0 148.4 430.0 147.6 430.1 139.6 430.1 141.6 430.1 142.4 430.2 157.9 430.2 155.2 430.2 154.1 430.2 151.9 430.2 150.3 430.2 152.8 430.3 158.3 430.3 156.0 430.3 152.9 430.3 156.4 430.4 151.2 430.4 152.4 430.4 153.0 430.4 153.3 430.4 149.3 430.4 151.2 430.4 150.9 430.5 163.2 430.5 161.2 430.5 157.9 430.6 157.4 430.6 159.9 430.6 159.0 430.6 160.3 430.6 159.1 430.7 160.3 430.7 160.2 430.7 157.6 430.8 155.8 430.8 152.2 430.9 155.4 430.9 151.5 430.9 154.3 430.9 150.6 431.0 156.4 431.1 151.7 431.1 147.7 431.1 145.4 431.1 147.9 431.2 151.3 431.2 146.5 431.2 149.5 431.3 149.5 431.3 147.9 431.3 148.3 431.3 147.1 431.3 149.4 431.4 148.0 431.4 144.8 431.4 142.2 431.4 136.6 431.5 134.2 431.5 141.3 431.5 139.2 431.5 136.6 431.5 140.8 431.5 138.8 431.6 150.5 431.6 146.4 431.6 149.5 431.6 146.0 431.7 147.0 431.7 147.1 431.7 146.9 431.7 153.0 431.7 156.1 431.7 156.6 431.7 150.4 431.7 152.5 431.8 153.3 431.8 152.7 431.8 151.1 431.8 155.7 431.8 157.8 431.9 152.8 431.9 154.6 431.9 160.3 431.9 153.8 432.0 146.0 432.0 151.5 432.1 140.1 432.1 147.1 432.1 145.3 432.1 145.6 432.2 152.9 432.2 153.0 432.2 150.1 432.2 150.9 432.2 156.2 432.3 154.3 432.3 150.0 432.3 152.5 432.3 150.4 432.3 154.4 432.4 156.6 432.4 151.1 432.5 148.6 432.5 151.5 432.5 150.1 432.5 149.8 432.6 141.2 432.6 141.0 432.6 139.9 432.6 141.0 432.6 148.7 432.7 144.9 432.7 145.3 432.7 144.2 432.8 145.6 432.8 141.9 432.8 152.7 432.8 150.2 432.8 154.3 432.8 151.6 432.9 152.7 432.9 153.4 432.9 148.1 432.9 143.7 433.0 149.8 433.0 149.9 433.0 150.6 433.0 142.5 433.1 145.9 433.1 143.4 433.1 142.1 433.1 142.9 433.1 142.8 433.1 144.0 433.2 152.2 433.3 145.8 433.3 144.7 433.3 152.4 433.3 148.7 433.3 156.0 433.4 157.7 433.4 154.6 433.4 155.7 433.4 157.8 433.4 156.0 433.4 148.3 433.5 150.9 433.5 143.3 433.5 147.1 433.5 142.8 433.6 135.2 433.6 136.1 433.7 139.0 433.7 138.8 433.7 155.0 433.7 150.7 433.8 145.7 433.8 148.0 433.8 147.6 433.8 142.6 433.8 145.5 433.9 149.8 433.9 144.9 433.9 148.4 434.0 148.0 434.0 149.7 434.0 147.9 434.0 148.6 434.0 154.9 434.0 155.8 434.0 153.8 434.0 151.6 434.1 154.4 434.1 155.4 434.1 151.8 434.1 148.4 434.1 150.2 434.1 149.2 434.1 149.2 434.1 150.2 434.1 157.1 434.2 155.2 434.2 156.5 434.2 149.2 434.3 147.9 434.3 160.4 434.4 157.5 434.4 162.8 434.4 157.4 434.4 160.0 434.4 158.8 434.4 161.1 434.5 153.8 434.5 162.4 434.5 156.9 434.5 153.4 434.6 154.6 434.6 152.6 434.6 154.8 434.6 152.9 434.6 153.8 434.6 154.3 434.6 156.2 434.7 155.8 434.7 154.1 434.9 149.1 434.9 153.6 434.9 150.6 435.0 147.3 435.0 152.1 435.1 144.6 435.1 146.3 435.1 143.9 435.2 152.5 435.2 147.2 435.2 152.5 435.2 153.0 435.2 150.9 435.2 153.2 435.3 160.6 435.3 160.0 435.3 154.8 435.4 154.9 435.4 158.2 435.4 154.0 435.4 156.6 435.4 151.5 435.5 129.3 435.5 131.6 435.5 134.8 435.5 133.4 435.6 133.0 435.6 154.5 435.6 155.3 435.6 157.5 435.6 156.7 435.6 154.4 435.7 160.5 435.7 158.2 435.7 162.2 435.7 165.1 435.8 159.1 435.8 161.5 435.8 162.1 435.8 160.1 435.8 155.9 435.9 164.5 435.9 166.6 435.9 161.7 435.9 165.8 435.9 162.3 435.9 164.1 435.9 164.7 436.0 158.7 436.0 155.4 436.0 150.6 436.0 160.6 436.1 161.2 436.1 165.2 436.1 164.3 436.2 163.2 436.2 162.4 436.3 154.2 436.3 160.1 436.3 163.2 436.4 163.1 436.4 157.0 436.4 161.6 436.5 165.3 436.5 164.4 436.5 159.9 436.5 161.2 436.6 163.8 436.6 167.7 436.6 166.8 436.6 164.4 436.7 161.0 436.7 166.6 436.8 172.3 436.8 169.8 436.8 168.1 436.8 167.1 436.8 169.9 436.9 166.9 436.9 166.6 436.9 170.1 436.9 168.2 436.9 167.4 436.9 167.6 436.9 166.0 436.9 169.0 437.0 163.0 437.0 170.1 437.0 166.6 437.0 163.7 437.0 165.5 437.0 166.8 437.1 184.1 437.1 184.1 437.1 182.0 437.1 182.2 437.2 177.4 437.2 175.6 437.2 165.6 437.3 174.9 437.3 170.7 437.3 175.9 437.3 171.4 437.3 171.9 437.3 172.2 437.4 171.4 437.4 167.0 437.4 166.9 437.4 167.3 437.4 163.7 437.4 167.6 437.5 161.8 437.5 161.4 437.5 164.4 437.5 163.6 437.6 164.1 437.6 162.6 437.6 164.2 437.6 162.1 437.6 162.4 437.7 170.0 437.7 165.1 437.7 166.7 437.7 166.2 437.7 167.3 437.7 162.9 437.7 161.8 437.9 167.4 437.9 165.3 438.0 172.4 438.0 169.6 438.0 168.3 438.0 169.9 438.0 182.1 438.1 183.6 438.1 181.2 438.1 183.3 438.2 176.2 438.2 178.1 438.2 178.8 438.2 179.8 438.2 176.6 438.3 177.1 438.3 183.1 438.3 183.8 438.3 183.3 438.3 175.8 438.4 175.1 438.4 173.4 438.4 171.8 438.4 171.8 438.4 174.6 438.4 173.2 438.5 175.4 438.5 172.5 438.5 172.9 438.5 174.1 438.6 172.5 438.6 173.8 438.6 169.3 438.6 170.0 438.6 169.2 438.6 170.7 438.7 170.7 438.7 176.2 438.7 178.7 438.7 174.0 438.7 180.7 438.7 180.2 438.7 179.7 438.7 178.9 438.7 182.0 438.8 174.7 438.8 171.4 438.8 174.0 438.8 175.1 438.8 173.8 438.8 173.9 438.9 181.8 438.9 181.4 438.9 176.2 438.9 175.6 438.9 176.5 438.9 176.4 438.9 176.8 439.0 177.4 439.0 175.9 439.0 175.0 439.0 177.1 439.1 184.9 439.1 188.1 439.1 187.6 439.1 189.2 439.1 186.9 439.1 182.2 439.2 184.2 439.2 185.6 439.2 180.5 439.3 182.0 439.3 170.8 439.3 174.6 439.3 174.4 439.3 171.6 439.4 184.1 439.4 183.4 439.4 182.8 439.5 182.8 439.5 185.0 439.5 187.7 439.5 187.6 439.5 185.3 439.5 188.3 439.6 186.9 439.6 194.9 439.6 192.1 439.6 200.8 439.7 190.1 439.7 192.0 439.7 189.2 439.7 189.0 439.8 189.1 439.8 184.9 439.8 186.4 439.8 189.0 439.8 183.8 439.9 183.1 440.0 183.7 440.0 182.9 440.0 182.8 440.0 192.0 440.0 193.3 440.0 194.4 440.0 183.3 440.0 184.7 440.1 185.6 440.1 189.5 440.1 190.7 440.1 190.9 440.1 192.1 440.1 192.6 440.1 190.5 440.2 189.5 440.2 189.7 440.2 179.0 440.2 182.0 440.2 182.7 440.3 180.5 440.3 187.4 440.3 184.5 440.3 182.7 440.3 183.3 440.3 185.7 440.3 182.5 440.3 186.4 440.3 188.6 440.3 186.8 440.4 184.9 440.4 183.6 440.4 187.1 440.4 184.9 440.4 187.0 440.4 185.5 440.5 186.9 440.5 194.1 440.5 192.6 440.5 192.0 440.6 198.9 440.6 197.0 440.6 198.6 440.6 200.4 440.7 206.3 440.7 203.2 440.7 205.7 440.7 205.9 440.7 209.5 440.7 207.0 440.7 207.2 440.8 198.3 440.8 200.3 440.8 201.0 440.8 203.9 440.8 202.1 440.8 203.0 440.8 205.2 440.9 204.8 440.9 206.3 440.9 205.4 440.9 204.2 440.9 205.0 440.9 207.5 440.9 211.6 440.9 210.0 440.9 210.7 441.0 203.3 441.0 205.3 441.1 203.4 441.2 195.7 441.2 195.9 441.2 199.3 441.2 198.1 441.2 210.7 441.3 206.9 441.3 208.8 441.3 204.6 441.3 201.4 441.4 197.0 441.4 201.5 441.4 202.5 441.5 203.4 441.5 199.0 441.5 197.3 441.5 197.5 441.5 198.1 441.5 197.3 441.6 200.0 441.6 198.8 441.6 198.6 441.6 197.9 441.6 208.1 441.6 202.1 441.6 204.5 441.7 197.0 441.7 201.4 441.7 200.5 441.7 196.5 441.7 196.2 441.7 191.4 441.8 186.1 441.8 192.5 441.8 193.0 441.8 193.8 441.9 195.5 441.9 200.6 441.9 195.0 441.9 197.9 442.0 194.8 442.0 190.9 442.0 191.9 442.0 196.5 442.1 194.9 442.1 199.1 442.2 197.5 442.2 193.0 442.2 191.7 442.2 193.7 442.2 194.8 442.2 197.7 442.2 194.3 442.2 196.6 442.2 193.1 442.3 196.5 442.3 195.4 442.4 190.9 442.4 197.3 442.4 194.3 442.4 190.9 442.4 190.1 442.4 192.6 442.4 188.2 442.4 191.8 442.5 215.6 442.6 196.6 442.6 193.1 442.6 185.0 442.6 187.9 442.6 187.4 442.7 180.2 442.7 179.5 442.8 178.4 442.8 182.3 442.8 181.9 442.8 183.1 442.8 180.6 442.8 186.9 442.8 186.8 442.9 190.4 442.9 175.3 443.0 174.0 443.0 175.7 443.0 173.0 443.0 177.6 443.0 176.0 443.1 175.7 443.1 173.7 443.1 173.6 443.1 176.3 443.1 172.8 443.1 173.6 443.2 172.3 443.2 174.0 443.2 175.2 443.3 175.8 443.3 173.0 443.3 176.3 443.3 174.5 443.3 173.5 443.3 177.1 443.3 177.3 443.3 184.0 443.4 181.4 443.4 179.3 443.5 174.8 443.5 177.7 443.5 176.3 443.5 188.6 443.6 185.7 443.6 180.8 443.6 193.1 443.7 180.5 443.7 173.9 443.8 171.6 443.8 170.9 443.8 170.7 443.9 182.0 443.9 179.2 443.9 178.0 443.9 181.0 443.9 178.8 444.0 177.1 444.0 178.5 444.0 180.3 444.0 179.6 444.1 181.2 444.1 171.8 444.1 172.2 444.1 168.0 444.2 173.1 444.2 173.1 444.2 172.2 444.2 172.5 444.2 172.0 444.2 174.1 444.2 172.8 444.2 174.4 444.2 182.7 444.2 179.7 444.2 178.7 444.3 181.8 444.3 177.0 444.3 176.0 444.4 172.4 444.4 176.2 444.4 163.5 444.4 166.0 444.5 157.9 444.5 161.0 444.5 159.0 444.5 158.9 444.5 161.2 444.5 161.4 444.6 156.6 444.6 161.0 444.6 155.2 444.6 152.6 444.6 152.4 444.7 159.4 444.7 158.1 444.7 158.9 444.8 154.6 444.8 156.0 444.8 164.0 444.9 163.2 444.9 163.7 445.0 171.1 445.0 167.4 445.0 162.8 445.1 161.9 445.1 162.2 445.1 164.3 445.1 152.4 445.1 159.3 445.2 156.7 445.2 154.3 445.2 156.1 445.2 152.1 445.2 158.8 445.2 161.5 445.3 160.7 445.3 157.5 445.3 156.8 445.3 160.3 445.3 162.1 445.4 158.2 445.4 155.5 445.4 155.2 445.5 157.1 445.5 154.2 445.6 158.5 445.6 160.7 445.6 160.9 445.6 155.8 445.6 156.0 445.6 156.8 445.7 155.4 445.7 154.4 445.8 155.4 445.8 155.6 445.8 158.6 445.8 158.8 445.9 156.7 445.9 160.2 446.0 156.0 446.0 156.9 446.0 157.9 446.0 155.1 446.1 153.4 446.1 150.7 446.1 155.2 446.1 156.1 446.2 147.1 446.2 146.9 446.2 150.1 446.3 149.4 446.3 151.9 446.3 149.5 446.3 155.1 446.4 149.9 446.5 152.8 446.5 153.7 446.6 155.4 446.6 153.5 446.6 151.7 446.6 153.7 446.6 151.9 446.6 153.7 446.7 153.7 446.7 153.6 446.7 154.1 446.7 152.6 446.7 153.9 446.7 157.6 446.7 154.3 446.7 147.3 446.8 154.7 446.8 157.0 446.9 157.8 446.9 159.8 446.9 158.7 446.9 159.2 446.9 141.6 447.0 145.4 447.0 143.0 447.0 142.0 447.0 134.8 447.0 135.9 447.0 139.6 447.1 156.0 447.1 157.3 447.1 156.5 447.1 153.5 447.2 151.0 447.2 150.7 447.2 149.0 447.2 149.2 447.2 150.1 447.2 146.8 447.3 152.2 447.3 148.0 447.3 152.4 447.3 152.3 447.3 151.0 447.3 149.1 447.4 149.8 447.4 147.5 447.4 149.9 447.5 148.8 447.5 151.8 447.5 152.9 447.5 152.1 447.6 152.1 447.6 153.2 447.6 142.0 447.6 141.6 447.6 140.7 447.6 146.6 447.7 148.8 447.7 145.8 447.7 145.9 447.7 146.6 447.7 143.8 447.7 143.6 447.8 138.3 447.8 144.6 447.8 139.6 447.8 145.2 447.8 144.9 447.8 146.1 447.8 147.2 447.9 149.4 447.9 147.2 447.9 146.3 447.9 148.2 447.9 148.3 448.0 142.3 448.0 149.0 448.0 152.2 448.0 148.3 448.0 148.3 448.0 152.0 448.0 149.2 448.1 143.6 448.1 142.6 448.1 147.8 448.1 147.3 448.1 143.3 448.1 146.6 448.2 143.6 448.2 137.3 448.2 138.8 448.2 134.0 448.3 136.8 448.3 134.9 448.3 133.7 448.3 135.1 448.3 136.7 448.4 136.8 448.4 134.4 448.4 140.8 448.4 137.6 448.4 142.3 448.5 142.0 448.5 139.7 448.5 144.1 448.6 146.0 448.7 138.4 448.7 137.7 448.7 136.8 448.7 133.9 448.7 134.7 448.7 136.8 448.8 137.4 448.8 135.0 448.8 145.1 448.8 136.9 448.8 141.4 448.9 140.8 448.9 135.9 448.9 138.0 448.9 140.4 448.9 137.8 448.9 138.9 449.0 141.7 449.0 140.2 449.0 137.1 449.0 141.0 449.1 137.6 449.1 145.7 449.1 138.9 449.1 143.0 449.1 143.5 449.1 138.4 449.2 138.6 449.2 146.2 449.2 142.2 449.3 142.9 449.3 142.5 449.3 142.7 449.4 139.7 449.4 137.6 449.5 123.0 449.5 119.9 449.5 122.3 449.6 142.5 449.6 141.3 449.6 138.9 449.6 139.5 449.7 137.6 449.7 138.2 449.7 143.4 449.7 139.6 449.7 138.6 449.7 138.4 449.8 142.9 449.8 150.2 449.9 149.3 449.9 148.7 449.9 147.4 449.9 137.6 450.0 139.1 450.1 138.0 450.1 141.3 450.1 139.4 450.1 137.0 450.1 137.1 450.2 139.5 450.3 135.5 450.4 137.1 450.5 142.9 450.5 141.2 450.5 146.3 450.5 142.7 450.5 142.8 450.5 143.1 450.5 140.9 450.6 138.2 450.6 140.2 450.6 143.3 450.6 140.8 450.6 135.2 450.6 135.3 450.6 131.6 450.6 130.6 450.7 142.5 450.7 131.1 450.7 131.9 450.7 133.1 450.7 131.8 450.7 128.4 450.8 128.1 450.8 128.7 450.8 129.5 450.8 131.1 450.8 119.1 450.8 131.7 450.8 132.2 450.9 139.4 450.9 135.1 450.9 136.0 450.9 136.9 451.0 137.0 451.0 134.6 451.0 134.5 451.0 136.6 451.0 135.4 451.1 134.1 451.1 135.1 451.1 138.6 451.1 138.2 451.1 138.8 451.1 142.0 451.2 144.7 451.2 146.1 451.2 146.0 451.3 120.4 451.3 119.7 451.3 121.3 451.3 121.8 451.4 123.4 451.4 145.4 451.4 141.2 451.4 139.3 451.4 140.9 451.4 141.1 451.4 140.7 451.5 141.3 451.5 142.4 451.5 141.4 451.5 130.4 451.5 133.2 451.5 130.6 451.5 131.1 451.5 137.2 451.6 131.9 451.7 143.2 451.7 139.9 451.7 139.0 451.7 142.1 451.8 143.0 451.8 143.8 451.8 140.4 451.8 143.8 451.8 143.4 451.8 142.3 451.8 139.5 451.8 146.2 451.9 142.3 452.0 148.7 452.0 146.1 452.0 144.3 452.0 149.9 452.0 144.7 452.0 144.6 452.1 143.3 452.1 144.2 452.1 143.0 452.1 147.7 452.2 148.7 452.2 145.8 452.2 148.9 452.3 152.1 452.3 151.3 452.3 148.0 452.3 145.8 452.4 150.5 452.4 147.3 452.4 147.2 452.4 148.0 452.4 148.5 452.7 148.6 452.7 148.8 452.7 146.8 452.7 152.9 452.7 150.5 452.8 146.6 452.8 148.3 452.8 141.1 452.8 136.1 452.9 140.4 452.9 138.0 453.0 137.3 453.0 138.2 453.0 144.8 453.0 146.7 453.1 147.7 453.1 142.4 453.2 139.5 453.2 139.9 453.2 145.1 453.2 146.2 453.2 148.7 453.2 149.1 453.2 147.4 453.4 151.6 453.4 155.0 453.4 161.0 453.4 164.2 453.5 159.3 453.5 155.4 453.5 153.1 453.5 156.9 453.6 154.5 453.6 157.1 453.6 161.6 453.6 155.3 453.7 162.2 453.7 156.7 453.7 163.4 453.8 155.8 453.8 153.3 453.8 156.4 453.8 154.8 453.8 152.1 453.8 154.4 453.9 157.8 453.9 156.6 453.9 158.6 453.9 160.7 453.9 156.2 453.9 154.4 453.9 157.0 453.9 157.3 453.9 159.1 453.9 158.7 454.0 153.5 454.0 156.1 454.0 156.1 454.1 155.9 454.1 157.2 454.1 159.6 454.1 160.0 454.1 159.4 454.2 162.2 454.2 162.0 454.2 162.7 454.3 160.1 454.3 160.7 454.3 161.8 454.4 160.0 454.5 152.8 454.5 155.9 454.5 159.0 454.5 159.8 454.5 157.8 454.5 154.4 454.5 156.1 454.6 155.9 454.6 156.1 454.6 154.8 454.6 154.4 454.6 154.8 454.6 157.0 454.6 157.2 454.6 157.8 454.6 156.1 454.7 155.7 454.7 159.9 454.7 159.6 454.7 159.5 454.9 132.1 454.9 137.7 454.9 165.2 454.9 166.7 454.9 157.8 455.0 152.8 455.0 156.9 455.1 164.9 455.1 166.7 455.1 170.0 455.2 166.5 455.2 156.6 455.2 154.9 455.2 157.1 455.2 153.5 455.2 154.9 455.3 157.9 455.3 163.7 455.3 166.0 455.3 171.4 455.3 169.6 455.3 168.8 455.4 171.5 455.4 173.3 455.5 167.4 455.5 157.7 455.6 165.2 455.6 161.3 455.6 166.9 455.6 166.4 455.7 165.0 455.7 163.6 455.7 164.2 455.7 167.4 455.7 166.6 455.7 171.4 455.8 166.2 455.8 170.3 455.8 170.7 455.8 169.5 455.9 170.3 455.9 174.7 455.9 171.3 455.9 170.9 455.9 169.0 455.9 170.6 456.0 174.8 456.0 167.2 456.0 165.9 456.1 172.2 456.1 168.8 456.1 169.8 456.1 171.2 456.2 165.2 456.2 164.0 456.2 159.6 456.3 164.7 456.3 165.6 456.4 157.7 456.4 162.8 456.4 159.3 456.4 162.1 456.4 159.2 456.5 170.3 456.5 172.6 456.5 174.2 456.6 174.3 456.6 173.8 456.6 173.3 456.8 175.5 456.8 176.7 456.8 178.3 456.8 177.3 456.8 181.0 456.9 176.1 456.9 179.1 457.0 177.1 457.1 182.1 457.1 180.7 457.2 182.3 457.2 181.1 457.3 183.1 457.3 179.6 457.3 185.7 457.4 191.8 457.4 190.9 457.4 192.0 457.4 191.7 457.4 188.9 457.5 186.2 457.5 193.8 457.5 182.1 457.5 182.8 457.5 184.3 457.5 187.3 457.5 186.6 457.6 181.2 457.6 182.0 457.6 184.1 457.6 185.4 457.6 185.7 457.7 176.9 457.7 172.3 457.7 173.5 457.7 172.4 457.8 173.5 457.8 183.1 457.8 182.7 457.8 187.4 457.8 191.2 457.9 189.6 457.9 191.0 457.9 190.3 457.9 191.0 457.9 189.0 457.9 195.6 458.0 195.0 458.0 195.2 458.0 193.9 458.0 195.1 458.0 195.3 458.0 195.1 458.0 192.7 458.0 195.5 458.1 189.0 458.1 192.9 458.2 198.6 458.2 201.4 458.3 196.9 458.3 196.5 458.3 193.7 458.3 196.7 458.3 200.1 458.4 196.0 458.4 187.0 458.4 190.3 458.5 198.9 458.5 207.3 458.5 208.0 458.5 201.1 458.5 203.3 458.6 199.8 458.6 201.5 458.6 200.5 458.6 204.6 458.7 196.4 458.7 195.2 458.7 202.7 458.7 209.6 458.8 209.9 458.8 208.3 458.9 183.6 458.9 186.7 458.9 184.9 459.0 190.0 459.0 191.0 459.0 193.7 459.0 193.0 459.0 190.4 459.0 200.1 459.0 199.3 459.0 202.1 459.0 198.6 459.1 189.4 459.1 194.8 459.1 187.8 459.1 190.7 459.2 174.8 459.2 177.5 459.2 179.8 459.2 179.2 459.2 180.0 459.3 179.4 459.3 185.1 459.3 184.4 459.3 188.4 459.3 185.4 459.3 183.8 459.3 189.5 459.3 185.5 459.3 186.7 459.3 185.4 459.4 181.1 459.4 183.3 459.4 191.1 459.5 182.9 459.5 185.8 459.5 180.7 459.5 184.6 459.6 184.2 459.6 187.6 459.7 179.0 459.7 181.6 459.7 172.1 459.8 175.3 459.8 174.5 459.8 173.4 459.8 176.2 459.9 167.1 459.9 170.0 459.9 167.1 459.9 169.0 459.9 172.6 460.0 172.2 460.0 169.2 460.0 180.1 460.0 178.3 460.0 179.5 460.1 180.6 460.1 177.0 460.2 181.4 460.2 180.8 460.2 178.4 460.2 182.7 460.2 188.1 460.2 187.2 460.2 186.3 460.3 190.4 460.3 186.4 460.3 184.8 460.3 189.8 460.3 187.2 460.3 188.3 460.3 185.4 460.3 186.9 460.3 188.3 460.3 178.8 460.3 183.6 460.4 178.9 460.4 179.6 460.4 180.3 460.4 181.4 460.5 180.9 460.5 174.6 460.6 169.9 460.6 173.8 460.6 175.2 460.6 177.7 460.6 173.2 460.7 167.7 460.8 171.4 460.8 171.8 460.8 169.6 460.8 170.9 460.8 168.2 460.9 168.4 460.9 161.3 460.9 165.6 461.0 160.4 461.0 159.2 461.1 162.4 461.1 160.5 461.1 160.6 461.1 160.6 461.1 166.9 461.1 170.5 461.1 166.7 461.2 160.1 461.2 159.5 461.2 161.9 461.3 163.4 461.3 166.7 461.3 154.7 461.4 161.4 461.4 164.6 461.5 168.2 461.5 167.1 461.6 160.6 461.6 160.0 461.6 160.1 461.6 161.1 461.6 155.8 461.6 139.2 461.6 138.7 461.7 141.6 461.7 137.2 461.7 149.6 461.8 149.4 461.8 140.8 461.8 146.9 461.8 144.6 461.8 144.1 461.9 157.4 461.9 159.0 461.9 161.3 461.9 157.8 462.0 165.7 462.0 162.9 462.0 159.9 462.0 157.2 462.0 161.9 462.1 160.3 462.1 160.9 462.1 161.0 462.1 165.3 462.1 164.3 462.2 166.7 462.2 167.8 462.2 163.9 462.2 163.9 462.2 165.3 462.2 163.1 462.3 167.4 462.3 160.4 462.3 161.9 462.3 165.4 462.4 158.8 462.4 159.1 462.4 161.2 462.4 158.5 462.4 155.5 462.4 155.0 462.4 157.9 462.5 154.5 462.6 154.7 462.6 156.4 462.6 150.2 462.6 152.2 462.7 153.8 462.7 147.8 462.7 147.1 462.7 144.7 462.7 150.3 462.7 146.7 462.8 148.7 462.8 134.8 462.8 136.5 462.8 134.5 462.8 151.6 462.9 145.5 462.9 144.0 463.0 145.5 463.0 148.2 463.0 147.1 463.0 157.6 463.0 153.5 463.0 158.0 463.1 158.8 463.1 155.2 463.1 160.3 463.1 163.4 463.1 163.6 463.1 164.5 463.2 149.8 463.2 147.9 463.2 150.9 463.2 153.0 463.2 153.6 463.2 150.3 463.3 154.7 463.3 153.1 463.3 153.1 463.4 140.4 463.4 140.9 463.4 138.6 463.4 137.0 463.4 138.2 463.4 136.2 463.4 146.7 463.5 152.1 463.5 148.7 463.6 148.1 463.6 149.8 463.6 153.2 463.6 155.1 463.6 154.5 463.7 153.5 463.7 148.2 463.7 135.2 463.7 134.4 463.7 135.0 463.8 135.1 463.8 135.6 463.8 137.3 463.8 134.8 463.8 140.6 463.8 141.2 463.8 142.1 463.9 140.5 463.9 138.1 463.9 138.9 463.9 143.7 463.9 139.9 464.0 137.2 464.0 144.2 464.1 148.8 464.1 140.0 464.1 143.1 464.1 141.2 464.1 136.2 464.1 139.7 464.1 137.3 464.1 126.8 464.2 118.1 464.2 136.4 464.3 127.5 464.3 133.4 464.3 131.5 464.3 132.2 464.3 136.0 464.4 136.0 464.4 134.1 464.4 129.2 464.5 127.1 464.5 126.2 464.5 126.3 464.5 128.5 464.5 125.1 464.6 127.9 464.6 125.7 464.6 132.6 464.6 130.1 464.6 125.3 464.6 137.2 464.7 139.9 464.7 138.7 464.7 136.8 464.7 139.7 464.7 135.3 464.7 136.1 464.8 131.4 464.8 133.1 464.8 138.7 464.9 141.6 464.9 134.3 464.9 134.6 464.9 135.0 465.0 137.6 465.0 135.5 465.0 137.0 465.0 149.1 465.1 139.8 465.1 140.0 465.1 140.9 465.1 140.7 465.1 138.9 465.1 142.9 465.1 132.6 465.2 138.8 465.2 141.6 465.2 146.9 465.3 143.6 465.3 143.5 465.3 144.2 465.3 146.7 465.3 145.6 465.3 145.5 465.3 146.9 465.3 139.2 465.3 139.9 465.3 139.3 465.3 141.1 465.3 138.6 465.4 133.4 465.4 134.1 465.4 130.1 465.5 135.9 465.5 135.9 465.5 138.9 465.5 134.6 465.6 140.2 465.6 138.5 465.6 140.3 465.6 142.2 465.7 138.9 465.7 139.6 465.7 139.4 465.7 139.7 465.8 141.3 465.8 134.2 465.8 138.7 465.8 136.6 465.8 138.7 465.9 138.6 465.9 140.2 466.0 136.2 466.0 140.3 466.0 115.6 466.1 117.6 466.1 117.2 466.1 114.3 466.1 116.1 466.2 134.5 466.2 133.5 466.3 133.3 466.4 138.9 466.4 139.4 466.4 138.8 466.4 140.7 466.4 138.9 466.5 141.6 466.5 135.3 466.5 136.6 466.6 135.5 466.6 135.7 466.6 137.0 466.6 133.4 466.6 134.9 466.6 136.6 466.7 131.5 466.7 132.5 466.7 128.4 466.7 130.5 466.7 140.9 466.8 141.0 466.9 143.7 466.9 141.4 466.9 139.9 466.9 138.6 466.9 140.3 467.0 136.4 467.0 137.1 467.0 134.8 467.0 140.7 467.1 138.4 467.1 141.1 467.1 150.4 467.2 145.6 467.2 142.8 467.2 138.3 467.3 142.4 467.3 143.9 467.3 144.4 467.3 147.2 467.3 145.3 467.4 140.7 467.4 143.1 467.4 143.2 467.4 134.7 467.4 137.6 467.5 138.5 467.5 139.9 467.5 139.9 467.5 142.5 467.6 133.2 467.6 134.4 467.6 135.0 467.6 134.6 467.6 132.9 467.7 130.2 467.7 130.8 467.7 129.5 467.7 127.9 467.8 129.1 467.8 126.7 467.8 119.6 467.9 121.4 467.9 119.2 467.9 115.7 467.9 118.5 468.0 130.8 468.0 130.9 468.0 132.5 468.0 124.4 468.1 133.9 468.1 133.0 468.1 133.8 468.2 132.2 468.3 136.7 468.3 134.1 468.3 137.9 468.4 142.2 468.4 137.7 468.4 137.8 468.5 143.0 468.5 139.8 468.5 140.8 468.6 138.3 468.6 139.9 468.7 138.3 468.8 142.3 468.8 141.6 468.9 141.7 468.9 144.4 468.9 137.5 468.9 138.1 468.9 137.5 468.9 134.7 469.0 141.4 469.1 128.8 469.2 127.5 469.2 127.4 469.2 129.7 469.3 121.0 469.3 120.3 469.3 118.2 469.3 113.2 469.5 129.3 469.5 129.2 469.5 132.3 469.5 131.4 469.5 135.4 469.6 132.6 469.6 131.5 469.6 131.4 469.6 132.8 469.6 131.6 469.7 130.7 469.7 133.6 469.8 130.7 469.8 134.6 469.8 132.9 469.8 132.3 469.8 131.8 469.9 132.1 469.9 132.3 469.9 116.9 469.9 120.3 470.0 115.8 470.0 123.9 470.0 125.8 470.1 141.0 470.1 140.8 470.1 136.0 470.1 134.1 470.1 135.2 470.1 133.2 470.1 134.4 470.2 135.3 470.2 141.0 470.2 138.8 470.2 135.4 470.3 137.2 470.3 137.8 470.3 138.1 470.4 119.3 470.4 123.2 470.4 123.6 470.5 124.8 470.5 118.3 470.5 119.3 470.5 121.9 470.5 135.7 470.6 134.2 470.6 131.0 470.6 140.2 470.6 134.9 470.7 138.3 470.7 136.2 470.7 131.5 470.7 139.4 470.8 138.6 470.8 138.7 470.8 134.0 470.8 132.5 470.8 134.8 470.8 135.2 470.8 137.3 470.9 131.4 470.9 133.9 471.0 132.2 471.0 131.6 471.0 133.3 471.0 131.0 471.0 125.3 471.0 130.0 471.0 127.4 471.0 130.8 471.0 128.5 471.0 128.0 471.0 129.0 471.1 129.7 471.1 130.0 471.1 130.2 471.2 132.5 471.2 133.7 471.2 131.8 471.2 132.7 471.2 131.5 471.3 137.3 471.3 134.9 471.3 132.6 471.4 124.6 471.4 129.7 471.4 124.1 471.5 128.0 471.5 126.2 471.5 126.7 471.6 142.3 471.6 134.5 471.7 139.1 471.7 149.5 471.7 148.4 471.7 145.9 471.8 140.9 471.8 142.4 471.9 134.3 471.9 132.2 471.9 136.0 471.9 144.1 471.9 144.3 472.0 140.5 472.0 140.5 472.0 139.6 472.0 139.5 472.1 147.6 472.1 152.5 472.1 148.1 472.1 150.1 472.2 150.6 472.2 152.2 472.3 153.6 472.3 148.8 472.3 147.2 472.3 155.1 472.5 158.2 472.5 158.4 472.5 152.5 472.6 145.5 472.7 151.9 472.7 157.3 472.7 157.6 472.7 160.0 472.7 159.5 472.7 159.2 472.7 157.4 472.7 159.1 472.7 158.5 472.8 145.6 472.8 145.8 472.8 159.1 472.8 157.9 472.9 164.0 472.9 152.6 472.9 156.1 472.9 152.9 473.0 153.7 473.0 153.4 473.0 157.2 473.0 156.1 473.1 156.8 473.1 159.2 473.1 161.2 473.1 156.8 473.1 154.8 473.1 160.6 473.1 160.8 473.2 163.3 473.2 153.9 473.2 151.8 473.2 153.5 473.3 156.9 473.3 156.8 473.3 157.3 473.3 156.1 473.3 155.4 473.3 157.9 473.3 150.9 473.4 153.5 473.4 152.2 473.4 146.9 473.4 144.6 473.4 145.8 473.4 145.1 473.4 154.3 473.5 154.2 473.5 156.6 473.5 152.1 473.5 153.8 473.5 154.3 473.6 162.7 473.6 161.9 473.6 163.9 473.6 161.7 473.7 164.6 473.7 170.2 473.8 182.5 473.8 177.0 473.9 174.2 473.9 169.8 474.0 169.8 474.0 168.0 474.1 167.4 474.1 167.1 474.1 162.4 474.1 164.5 474.2 166.0 474.2 167.2 474.2 164.3 474.2 159.3 474.2 160.6 474.2 158.1 474.3 165.3 474.3 168.5 474.3 168.1 474.4 169.3 474.4 178.6 474.4 173.5 474.4 172.1 474.5 169.2 474.5 172.2 474.5 171.8 474.5 172.7 474.6 170.7 474.6 167.7 474.7 165.6 474.7 168.3 474.7 157.8 474.7 162.9 474.7 160.2 474.8 167.9 474.8 169.6 474.8 162.1 474.8 165.5 474.9 170.6 474.9 170.7 474.9 170.1 474.9 173.5 474.9 174.8 475.0 179.6 475.0 175.9 475.0 180.4 475.1 187.7 475.1 188.7 475.2 193.1 475.2 188.5 475.3 185.7 475.4 173.5 475.4 176.5 475.4 177.2 475.4 178.1 475.4 181.5 475.5 183.0 475.5 183.4 475.6 183.1 475.6 182.0 475.6 182.9 475.6 182.6 475.6 180.8 475.6 183.6 475.6 185.5 475.7 184.5 475.7 188.2 475.7 186.0 475.7 180.4 475.7 181.8 475.7 187.2 475.8 183.9 475.8 186.3 475.8 180.1 475.8 188.5 475.8 188.0 475.8 191.2 475.9 191.1 475.9 189.5 475.9 187.7 475.9 189.4 475.9 186.8 476.0 190.6 476.0 194.1 476.0 193.9 476.0 190.2 476.0 195.6 476.1 196.9 476.1 193.1 476.1 191.6 476.1 192.9 476.2 191.5 476.2 192.0 476.2 193.9 476.2 196.3 476.3 190.2 476.4 191.7 476.4 194.1 476.4 193.5 476.4 196.4 476.4 193.6 476.5 190.8 476.5 187.7 476.5 187.4 476.5 190.9 476.5 190.2 476.5 190.6 476.5 187.1 476.5 186.0 476.5 189.0 476.5 188.8 476.5 190.4 476.6 185.0 476.7 181.7 476.7 183.5 476.7 178.2 476.7 173.7 476.7 175.6 476.8 175.7 476.8 175.4 476.8 174.2 476.9 190.8 476.9 193.0 476.9 189.7 476.9 197.7 476.9 190.3 476.9 192.1 477.0 170.5 477.0 169.7 477.1 194.2 477.1 189.5 477.1 164.5 477.2 164.9 477.2 166.7 477.2 167.6 477.3 155.8 477.3 160.1 477.3 161.0 477.3 157.6 477.3 160.4 477.3 160.8 477.4 163.6 477.4 161.8 477.4 163.8 477.5 152.2 477.5 154.1 477.6 159.1 477.6 159.1 477.7 151.6 477.7 153.5 477.8 160.7 477.8 155.3 477.8 158.5 477.8 152.4 477.8 153.9 477.9 159.7 477.9 161.3 478.0 165.1 478.0 167.5 478.0 165.5 478.0 165.0 478.0 163.4 478.0 167.9 478.0 167.2 478.1 164.5 478.1 162.4 478.1 159.5 478.1 161.1 478.1 148.0 478.1 149.8 478.2 150.4 478.2 149.6 478.2 153.8 478.3 152.0 478.3 161.2 478.3 165.7 478.4 162.3 478.4 160.0 478.4 155.6 478.4 157.9 478.4 155.1 478.5 155.8 478.5 155.3 478.5 156.9 478.5 158.7 478.5 158.5 478.5 160.5 478.6 155.3 478.6 155.1 478.6 155.5 478.6 156.4 478.6 159.2 478.6 159.6 478.7 157.2 478.7 158.2 478.7 157.8 478.7 156.3 478.8 160.8 478.8 158.7 478.8 161.2 478.8 160.9 478.8 162.4 478.9 150.5 478.9 150.3 478.9 151.5 478.9 153.2 478.9 149.3 479.0 155.4 479.0 152.3 479.0 156.1 479.0 153.8 479.0 152.9 479.1 152.1 479.1 150.4 479.2 139.6 479.3 155.3 479.3 139.5 479.3 141.6 479.3 136.6 479.3 141.0 479.4 141.0 479.5 139.9 479.5 146.7 479.6 143.2 479.6 144.3 479.6 147.3 479.6 145.8 479.6 143.0 479.7 145.9 479.7 139.8 479.8 144.2 479.8 147.6 479.8 149.1 479.8 145.6 479.9 149.3 479.9 146.7 479.9 153.9 480.0 148.9 480.0 150.6 480.0 141.0 480.1 141.9 480.1 138.0 480.1 142.7 480.1 143.2 480.2 137.6 480.2 140.9 480.2 142.8 480.2 140.4 480.2 138.8 480.3 138.2 480.3 135.8 480.3 137.2 480.3 135.8 480.3 138.5 480.3 138.4 480.3 138.2 480.4 136.8 480.4 134.7 480.4 135.2 480.5 141.8 480.5 140.3 480.5 137.6 480.6 140.2 480.6 136.8 480.6 135.1 480.6 136.2 480.7 136.7 480.7 134.2 480.7 135.8 480.7 135.3 480.8 127.6 480.8 122.7 480.8 128.9 480.8 130.6 480.8 131.6 480.8 128.2 480.9 127.0 480.9 137.9 480.9 139.1 481.0 138.0 481.0 135.2 481.0 137.4 481.0 135.2 481.0 135.6 481.0 132.3 481.0 132.3 481.1 133.0 481.1 133.3 481.1 131.8 481.1 131.4 481.2 133.8 481.2 130.7 481.2 133.2 481.2 133.8 481.2 134.6 481.3 136.0 481.3 131.3 481.3 133.5 481.3 131.7 481.4 129.0 481.4 127.0 481.5 118.9 481.5 121.6 481.5 124.0 481.5 126.1 481.5 131.8 481.5 124.9 481.6 133.5 481.6 132.5 481.6 129.0 481.7 133.8 481.7 130.6 481.7 131.2 481.7 130.0 481.7 126.1 481.7 131.0 481.7 123.1 481.7 125.5 481.8 125.6 481.8 124.8 481.8 125.1 481.8 126.3 481.9 126.6 481.9 124.4 481.9 119.7 482.0 119.0 482.0 118.8 482.1 122.2 482.1 120.4 482.1 122.4 482.1 122.7 482.1 119.5 482.3 118.7 482.4 124.7 482.4 128.5 482.4 121.9 482.4 123.2 482.4 134.4 482.4 134.3 482.4 132.9 482.5 130.6 482.5 133.0 482.5 129.8 482.5 130.3 482.5 130.6 482.6 127.1 482.6 125.3 482.6 126.6 482.6 124.8 482.6 122.4 482.6 127.8 482.6 120.8 482.7 120.5 482.7 117.4 482.7 119.0 482.7 121.2 482.8 119.6 482.8 111.3 482.8 111.0 482.8 109.4 482.9 106.9 482.9 107.5 482.9 106.8 482.9 104.0 482.9 109.0 482.9 109.2 482.9 116.9 482.9 110.8 482.9 110.1 483.0 114.4 483.0 114.8 483.0 113.8 483.0 116.7 483.0 116.4 483.2 127.0 483.2 124.8 483.2 122.9 483.2 124.3 483.3 124.1 483.3 120.7 483.3 125.7 483.3 125.5 483.4 126.3 483.4 127.9 483.4 122.3 483.4 121.4 483.5 122.2 483.5 125.3 483.5 122.0 483.5 125.9 483.5 124.0 483.5 119.1 483.5 119.8 483.6 115.6 483.6 115.1 483.6 111.8 483.7 110.6 483.7 113.4 483.8 124.1 483.8 122.9 483.8 126.2 483.8 124.1 483.9 124.9 483.9 126.6 483.9 125.6 483.9 128.9 484.0 129.7 484.0 128.0 484.0 120.5 484.0 123.4 484.0 124.6 484.1 123.9 484.1 124.8 484.1 120.2 484.1 117.4 484.1 115.4 484.2 115.5 484.2 117.7 484.2 115.1 484.2 115.1 484.2 123.7 484.3 122.0 484.3 119.8 484.3 117.8 484.3 118.8 484.3 116.7 484.4 121.9 484.4 123.0 484.5 116.7 484.6 119.0 484.6 118.9 484.6 120.7 484.6 121.8 484.6 123.0 484.7 125.9 484.7 130.6 484.7 130.8 484.7 127.5 484.8 130.1 484.8 132.2 484.8 128.5 484.8 124.5 484.8 125.5 484.8 122.5 484.8 125.6 484.9 116.9 484.9 120.2 484.9 112.2 485.0 119.3 485.0 120.7 485.1 115.5 485.1 112.3 485.2 118.8 485.3 122.2 485.3 123.9 485.3 123.2 485.3 120.0 485.3 120.3 485.3 128.9 485.3 129.5 485.4 130.3 485.4 132.3 485.4 128.5 485.4 132.3 485.4 130.1 485.4 133.0 485.4 127.6 485.5 133.5 485.5 130.2 485.5 134.4 485.5 127.9 485.5 129.8 485.5 135.8 485.6 136.3 485.6 133.4 485.6 131.1 485.6 129.6 485.6 129.7 485.6 132.4 485.6 133.4 485.6 132.2 485.6 127.2 485.7 131.6 485.7 120.7 485.8 127.7 485.8 129.2 485.8 125.1 485.8 129.0 485.9 129.6 485.9 130.0 485.9 134.6 485.9 135.2 485.9 135.6 486.0 132.8 486.0 127.1 486.0 130.4 486.0 128.5 486.1 116.1 486.1 120.4 486.1 119.9 486.1 120.3 486.1 116.1 486.1 121.9 486.2 118.4 486.2 118.9 486.2 128.6 486.2 126.2 486.2 126.0 486.3 122.9 486.3 122.0 486.3 122.9 486.3 128.1 486.3 132.3 486.4 131.8 486.4 137.1 486.4 133.2 486.5 131.4 486.5 129.7 486.5 126.9 486.5 135.4 486.5 135.2 486.5 129.1 486.5 131.6 486.6 132.5 486.6 133.8 486.6 134.4 486.6 130.7 486.7 138.5 486.7 140.9 486.7 138.5 486.8 137.2 486.8 134.5 486.8 138.3 486.8 140.4 486.9 135.4 486.9 134.1 487.0 136.6 487.0 136.1 487.1 138.7 487.1 136.0 487.1 141.3 487.1 136.4 487.1 139.4 487.1 135.1 487.2 139.7 487.2 138.5 487.2 135.4 487.2 139.6 487.3 131.7 487.3 135.6 487.3 131.4 487.4 136.3 487.4 134.9 487.4 135.3 487.4 137.1 487.4 139.2 487.5 137.9 487.5 130.1 487.6 130.1 487.6 133.8 487.6 132.6 487.6 136.9 487.6 137.4 487.7 134.5 487.7 131.9 487.7 133.6 487.7 137.0 487.7 132.5 487.8 136.4 487.8 132.3 487.8 131.7 487.8 131.7 487.8 133.0 487.9 131.4 487.9 132.8 487.9 136.0 488.0 134.6 488.0 135.8 488.0 136.2 488.1 140.5 488.1 146.3 488.1 142.3 488.1 144.1 488.1 143.9 488.1 143.4 488.2 143.0 488.2 142.1 488.3 136.4 488.3 134.9 488.3 134.8 488.3 137.0 488.3 135.0 488.3 137.4 488.3 134.9 488.4 133.6 488.4 141.1 488.5 139.8 488.5 137.2 488.5 135.9 488.5 138.5 488.5 140.4 488.5 141.3 488.5 143.9 488.6 143.1 488.6 140.9 488.6 142.7 488.7 139.1 488.8 136.3 488.8 137.6 488.8 133.8 488.8 136.5 488.8 136.9 488.8 134.3 488.9 132.3 488.9 133.4 488.9 135.8 488.9 135.4 488.9 128.4 489.0 130.3 489.0 130.3 489.1 133.6 489.1 135.8 489.1 134.5 489.1 138.5 489.2 135.5 489.2 139.5 489.2 139.0 489.2 138.8 489.2 139.9 489.2 134.3 489.3 140.1 489.3 138.7 489.3 145.7 489.3 141.5 489.3 141.3 489.4 143.2 489.4 143.5 489.5 143.6 489.5 145.0 489.5 144.6 489.5 157.5 489.6 153.7 489.6 153.0 489.6 149.6 489.6 150.9 489.6 151.3 489.6 149.5 489.6 146.8 489.6 148.0 489.8 146.8 489.8 146.8 489.8 146.3 489.9 148.1 489.9 139.2 489.9 141.8 489.9 142.4 489.9 145.7 489.9 143.8 489.9 146.7 490.0 144.9 490.0 142.0 490.0 133.3 490.1 145.4 490.1 145.0 490.1 144.9 490.1 145.3 490.2 146.4 490.2 149.8 490.2 149.0 490.3 151.6 490.3 153.5 490.3 154.3 490.4 146.6 490.4 144.1 490.4 150.5 490.5 150.6 490.5 150.8 490.5 148.7 490.5 146.6 490.5 144.7 490.6 147.0 490.6 151.6 490.7 135.5 490.7 143.3 490.7 143.9 490.7 141.0 490.7 144.5 490.7 145.7 490.7 147.9 490.8 148.8 490.8 151.8 490.8 154.1 490.8 152.6 490.8 151.0 490.9 154.0 490.9 151.9 490.9 154.2 490.9 153.0 490.9 154.3 490.9 153.5 490.9 150.4 491.0 151.8 491.0 152.1 491.0 151.0 491.0 149.4 491.0 152.3 491.0 151.4 491.0 148.7 491.0 155.2 491.0 158.2 491.0 159.0 491.1 158.7 491.1 161.6 491.1 162.5 491.1 157.7 491.2 152.1 491.2 147.7 491.2 148.9 491.2 151.1 491.2 156.5 491.2 152.6 491.3 156.3 491.4 158.6 491.4 161.9 491.4 160.8 491.4 165.5 491.5 159.1 491.5 161.1 491.5 159.4 491.5 163.6 491.5 159.6 491.6 160.2 491.6 170.1 491.6 171.6 491.6 167.6 491.7 169.4 491.7 159.4 491.7 169.5 491.7 168.8 491.7 168.9 491.7 169.5 491.8 162.7 491.8 161.4 491.8 163.0 491.9 161.9 491.9 162.1 492.0 164.7 492.0 161.9 492.0 162.9 492.0 163.4 492.0 161.6 492.1 163.6 492.1 159.1 492.1 160.4 492.1 161.7 492.2 166.7 492.2 162.9 492.3 168.1 492.3 177.8 492.4 173.5 492.4 174.3 492.4 187.1 492.4 188.7 492.4 188.0 492.4 180.1 492.5 178.0 492.5 175.4 492.5 167.8 492.5 169.2 492.6 176.9 492.6 175.6 492.6 177.6 492.6 177.5 492.6 177.1 492.6 182.1 492.6 173.9 492.6 171.6 492.7 171.4 492.7 175.3 492.7 169.2 492.7 172.3 492.7 174.0 492.7 171.5 492.7 173.3 492.8 158.2 492.8 156.9 492.8 155.4 492.9 158.9 492.9 158.7 492.9 156.5 492.9 157.8 493.0 168.8 493.0 176.4 493.0 176.9 493.1 175.9 493.1 173.1 493.1 173.3 493.1 184.4 493.1 180.7 493.1 178.3 493.1 181.8 493.1 181.8 493.2 182.2 493.2 180.7 493.2 182.1 493.2 189.7 493.2 189.1 493.2 181.7 493.3 174.6 493.4 179.7 493.4 178.7 493.5 172.5 493.5 177.3 493.5 180.9 493.5 180.7 493.6 178.5 493.6 185.7 493.6 186.6 493.6 185.2 493.6 181.3 493.7 178.5 493.7 180.9 493.7 182.6 493.7 174.7 493.8 191.1 493.8 171.4 493.9 167.6 493.9 168.6 493.9 164.2 493.9 179.8 494.0 184.1 494.1 183.2 494.1 178.6 494.1 174.9 494.3 170.7 494.3 168.3 494.3 179.4 494.3 181.0 494.4 179.9 494.4 180.1 494.4 180.3 494.4 178.0 494.4 180.1 494.4 179.3 494.4 186.1 494.4 187.0 494.5 183.6 494.5 181.0 494.5 187.4 494.5 183.4 494.6 183.1 494.7 176.7 494.8 183.4 494.8 184.9 494.9 170.1 494.9 172.6 494.9 171.4 495.0 168.2 495.0 165.5 495.0 165.8 495.0 166.2 495.0 164.7 495.1 159.1 495.1 160.5 495.1 162.6 495.2 162.4 495.2 157.2 495.2 160.6 495.2 162.9 495.3 156.1 495.3 157.9 495.4 161.8 495.4 163.1 495.4 167.7 495.5 165.5 495.5 168.7 495.5 168.8 495.6 162.3 495.6 164.0 495.6 161.6 495.7 171.4 495.7 166.6 495.8 153.3 495.8 148.8 495.9 153.6 495.9 154.8 495.9 152.8 496.0 156.4 496.0 155.1 496.0 157.1 496.0 159.0 496.0 153.8 496.0 156.6 496.0 156.7 496.1 159.7 496.1 162.6 496.1 157.6 496.1 158.0 496.1 159.5 496.2 165.3 496.2 163.5 496.2 162.2 496.2 162.1 496.2 165.9 496.2 172.1 496.2 171.0 496.2 172.9 496.3 170.9 496.3 156.5 496.4 157.9 496.4 159.7 496.5 157.6 496.5 154.4 496.5 153.2 496.5 155.0 496.5 158.6 496.6 152.5 496.6 157.6 496.6 154.4 496.6 156.8 496.6 157.1 496.6 154.9 496.6 157.9 496.6 156.3 496.7 155.2 496.7 153.2 496.7 164.8 496.7 165.4 496.7 159.4 496.8 153.7 496.8 155.2 496.8 154.8 496.8 161.8 496.8 160.6 496.9 164.1 496.9 159.2 496.9 162.5 496.9 158.8 496.9 154.0 496.9 156.5 497.0 155.0 497.0 149.5 497.0 148.3 497.1 148.4 497.2 154.0 497.2 150.5 497.2 154.4 497.2 150.6 497.2 153.2 497.3 132.6 497.4 141.0 497.4 143.8 497.4 145.1 497.4 136.9 497.4 139.6 497.5 140.6 497.5 139.1 497.5 139.8 497.5 142.4 497.5 143.1 497.6 142.6 497.6 147.8 497.6 145.8 497.6 145.3 497.6 138.1 497.7 134.0 497.7 136.4 497.7 135.6 497.7 140.9 497.8 148.4 497.8 144.4 497.8 153.9 497.8 149.4 497.8 147.6 497.8 152.6 497.9 151.8 497.9 141.2 497.9 141.2 497.9 141.6 498.0 146.4 498.0 142.3 498.0 148.9 498.0 147.1 498.0 146.7 498.2 140.8 498.2 138.9 498.2 137.4 498.3 138.9 498.3 138.0 498.3 138.8 498.3 139.7 498.3 137.1 498.3 134.6 498.3 135.7 498.4 141.6 498.4 140.4 498.4 133.9 498.4 138.1 498.4 140.8 498.4 140.4 498.4 139.6 498.4 141.0 498.5 140.9 498.5 144.7 498.5 146.1 498.5 137.3 498.5 137.3 498.5 137.1 498.5 139.3 498.5 134.5 498.6 136.1 498.6 135.1 498.7 138.3 498.7 133.6 498.7 132.8 498.8 138.0 498.8 138.3 498.9 130.1 498.9 138.5 498.9 135.8 498.9 139.0 499.0 111.0 499.0 105.8 499.0 107.2 499.1 112.0 499.1 112.1 499.1 115.9 499.1 113.2 499.1 144.9 499.2 141.1 499.2 136.5 499.2 137.9 499.2 141.3 499.2 137.5 499.2 138.7 499.3 134.5 499.3 135.8 499.3 131.5 499.3 133.7 499.4 126.2 499.4 118.9 499.4 123.4 499.4 127.7 499.5 121.2 499.5 124.8 499.5 123.7 499.6 119.6 499.6 125.3 499.6 117.2 499.6 114.9 499.6 110.5 499.7 115.3 499.7 110.3 499.7 111.9 499.8 111.0 499.8 114.2 499.8 118.0 499.8 116.9 499.8 115.5 499.9 115.9 499.9 113.7 499.9 113.8 499.9 113.1 499.9 117.9 500.0 123.3 500.0 118.9 500.0 116.6 500.0 113.9 500.0 113.3 500.1 122.1 500.1 124.5 500.1 122.0 500.1 131.3 500.2 124.2 500.2 129.4 500.2 131.8 500.2 130.4 500.2 128.4 500.2 131.3 500.3 129.4 500.3 127.6 500.3 129.6 500.3 127.9 500.3 124.5 500.4 128.9 500.4 128.3 500.4 126.8 500.4 128.5 500.4 125.8 500.4 127.2 500.4 130.4 500.4 127.2 500.4 125.7 500.5 130.5 500.5 131.9 500.5 134.1 500.5 130.7 500.5 131.3 500.6 132.3 500.6 131.2 500.6 130.5 500.6 117.0 500.6 113.0 500.7 116.1 500.7 132.1 500.8 124.6 500.8 124.6 500.8 120.9 500.8 123.6 500.9 122.5 500.9 125.4 500.9 122.0 501.0 129.6 501.0 126.0 501.0 129.1 501.0 126.7 501.0 128.4 501.1 132.8 501.1 130.3 501.1 130.9 501.1 130.8 501.2 128.9 501.2 129.3 501.2 132.4 501.2 133.9 501.2 133.2 501.3 131.3 501.3 132.0 501.3 130.3 501.3 131.5 501.3 131.5 501.4 117.6 501.4 116.8 501.4 119.6 501.5 111.8 501.5 106.7 501.5 118.0 501.6 116.0 501.6 123.3 501.6 123.1 501.7 118.7 501.7 119.6 501.7 123.4 501.7 119.8 501.8 121.3 501.8 123.5 501.8 121.0 501.8 120.6 501.8 120.4 501.8 128.9 501.8 126.9 501.9 126.4 501.9 124.7 501.9 128.7 501.9 124.1 501.9 129.3 501.9 126.6 501.9 126.4 501.9 126.4 502.0 131.7 502.0 130.7 502.0 131.8 502.0 132.7 502.1 124.0 502.1 116.0 502.2 117.7 502.2 116.9 502.2 118.4 502.2 115.5 502.2 113.7 502.3 115.8 502.3 112.9 502.3 111.9 502.3 116.1 502.3 114.9 502.4 115.4 502.4 115.7 502.4 117.0 502.4 113.0 502.4 117.6 502.4 115.8 502.4 117.5 502.4 119.0 502.5 115.0 502.5 118.5 502.5 118.4 502.5 116.3 502.5 109.4 502.6 111.1 502.6 114.7 502.6 112.1 502.7 109.6 502.7 111.4 502.7 119.5 502.7 118.2 502.7 121.9 502.8 119.4 502.8 119.8 502.8 119.9 502.8 117.9 502.9 118.9 502.9 116.8 502.9 120.5 502.9 123.7 502.9 124.9 503.0 127.9 503.0 128.3 503.1 127.5 503.1 132.9 503.1 127.5 503.1 126.9 503.2 127.9 503.2 130.8 503.2 126.9 503.2 130.1 503.2 112.3 503.3 111.2 503.4 107.9 503.4 112.5 503.4 124.3 503.4 126.5 503.5 120.0 503.5 120.4 503.5 119.8 503.6 121.3 503.6 117.0 503.6 117.0 503.6 116.4 503.7 114.5 503.7 119.6 503.8 116.9 503.8 114.8 503.8 111.8 503.8 113.0 503.8 112.2 503.8 114.2 503.8 113.0 503.9 114.2 503.9 112.8 503.9 107.2 503.9 105.8 503.9 107.2 503.9 106.2 503.9 106.4 504.0 120.0 504.0 122.2 504.0 118.1 504.0 112.3 504.1 115.0 504.1 114.8 504.1 112.7 504.1 115.5 504.1 111.0 504.1 113.0 504.2 122.6 504.2 121.4 504.2 120.5 504.2 122.1 504.2 122.7 504.3 120.7 504.3 119.5 504.3 127.8 504.3 132.1 504.3 128.7 504.4 128.9 504.4 126.8 504.4 124.5 504.4 127.8 504.4 124.5 504.4 121.5 504.5 127.5 504.5 122.5 504.6 123.2 504.6 122.6 504.6 124.3 504.6 123.2 504.6 124.0 504.6 100.6 504.6 106.1 504.7 129.0 504.7 136.1 504.8 133.7 504.8 135.0 504.8 132.1 504.8 126.1 504.9 129.2 504.9 128.3 504.9 132.6 504.9 127.8 505.0 131.7 505.0 135.0 505.0 135.5 505.0 135.5 505.0 131.4 505.1 128.8 505.1 128.2 505.1 129.8 505.1 143.7 505.1 144.6 505.2 141.2 505.2 120.1 505.2 122.6 505.2 122.6 505.2 133.9 505.3 138.3 505.3 132.7 505.3 135.9 505.3 137.3 505.3 130.3 505.4 126.5 505.4 120.8 505.4 135.0 505.5 131.8 505.5 132.9 505.5 127.4 505.5 127.5 505.6 131.4 505.6 128.6 505.6 130.1 505.6 133.7 505.7 128.8 505.7 126.1 505.8 135.7 505.8 133.1 505.8 135.0 505.8 133.1 505.8 131.6 505.8 128.8 506.0 121.2 506.0 119.7 506.0 121.4 506.0 122.2 506.0 125.7 506.0 114.5 506.0 118.2 506.0 112.8 506.0 115.2 506.0 114.8 506.0 116.4 506.1 139.3 506.1 144.5 506.2 142.7 506.2 139.0 506.2 140.0 506.2 135.1 506.3 131.0 506.3 135.9 506.3 132.0 506.3 126.3 506.3 128.9 506.3 125.3 506.4 125.3 506.4 128.8 506.4 130.9 506.4 133.0 506.4 126.8 506.4 130.4 506.5 130.8 506.5 126.1 506.6 128.7 506.6 125.5 506.6 127.3 506.7 134.1 506.7 130.8 506.7 130.2 506.7 130.8 506.7 130.1 506.7 133.3 506.7 127.9 506.7 131.0 506.7 125.4 506.8 126.8 506.8 129.5 506.8 130.0 506.8 127.4 506.8 124.9 506.8 127.8 506.8 128.9 506.8 127.9 506.9 135.3 506.9 134.0 506.9 134.7 506.9 138.3 507.0 142.7 507.0 141.2 507.0 142.8 507.1 140.4 507.1 143.1 507.1 143.4 507.2 144.4 507.2 129.2 507.3 135.1 507.3 131.7 507.3 131.4 507.3 130.1 507.5 140.8 507.5 142.4 507.5 138.3 507.5 136.6 507.5 136.3 507.5 137.6 507.5 149.4 507.6 141.6 507.7 148.6 507.7 146.2 507.7 146.4 507.7 147.2 507.9 153.5 508.0 147.4 508.0 134.8 508.0 135.5 508.1 136.1 508.1 136.8 508.1 135.9 508.1 142.4 508.2 139.4 508.2 142.5 508.2 141.1 508.2 143.8 508.2 145.7 508.2 146.8 508.3 146.3 508.3 141.5 508.3 141.6 508.3 137.3 508.3 140.8 508.4 138.5 508.4 141.0 508.4 139.7 508.4 140.9 508.4 152.6 508.4 150.5 508.5 153.6 508.5 154.6 508.5 135.5 508.5 146.0 508.6 145.0 508.6 145.9 508.7 142.4 508.7 153.7 508.7 151.4 508.8 161.1 508.8 158.5 508.8 155.6 508.9 156.5 508.9 154.6 508.9 156.7 508.9 163.6 508.9 163.4 509.0 160.6 509.0 158.4 509.0 156.4 509.1 152.8 509.1 156.7 509.1 157.4 509.1 159.7 509.2 157.8 509.2 162.9 509.2 163.4 509.2 148.9 509.3 153.0 509.3 148.2 509.3 148.6 509.3 153.8 509.3 152.4 509.3 152.5 509.4 151.1 509.4 140.2 509.5 141.1 509.5 136.0 509.5 139.9 509.5 144.4 509.5 143.0 509.5 150.0 509.5 150.4 509.5 154.1 509.5 154.5 509.5 153.3 509.5 156.9 509.6 157.2 509.7 162.9 509.7 162.5 509.7 161.7 509.7 160.3 509.7 165.6 509.8 168.7 509.8 169.5 509.8 169.6 509.9 168.6 509.9 165.3 509.9 164.7 509.9 165.9 509.9 164.9 510.0 175.1 510.0 177.8 510.0 176.5 510.0 174.6 510.0 179.6 510.0 177.5 510.1 169.4 510.1 171.5 510.1 173.0 510.1 171.1 510.1 166.9 510.2 168.8 510.2 169.5 510.2 183.5 510.2 182.9 510.3 186.9 510.3 182.5 510.3 180.2 510.4 175.2 510.4 182.6 510.5 180.6 510.5 181.8 510.5 181.3 510.5 179.0 510.6 166.5 510.6 161.4 510.6 160.5 510.6 164.0 510.7 162.0 510.7 166.5 510.7 169.3 510.7 169.1 510.7 166.7 510.7 170.7 510.7 168.0 510.7 170.2 510.8 169.3 510.8 169.3 510.8 169.2 510.8 168.3 510.8 172.1 510.8 172.2 510.9 173.3 510.9 167.1 510.9 165.3 510.9 162.0 510.9 165.3 511.0 169.6 511.0 165.1 511.0 165.1 511.0 167.1 511.0 168.3 511.0 164.5 511.1 160.9 511.1 159.4 511.2 165.7 511.2 178.3 511.3 174.4 511.3 178.5 511.3 184.0 511.4 181.8 511.4 170.4 511.4 164.9 511.5 164.5 511.5 164.1 511.5 164.1 511.5 165.0 511.5 166.8 511.5 172.1 511.5 172.9 511.5 167.8 511.5 166.9 511.6 167.0 511.6 183.8 511.6 184.0 511.6 188.2 511.7 188.6 511.7 186.6 511.7 186.4 511.8 148.9 511.8 148.8 511.8 151.9 511.8 150.9 511.8 154.5 511.8 151.9 511.8 155.2 511.9 157.1 511.9 153.8 511.9 155.2 511.9 151.4 511.9 151.8 511.9 165.8 512.0 158.5 512.0 153.0 512.0 152.5 512.0 156.3 512.1 158.5 512.1 160.6 512.1 161.8 512.2 162.1 512.2 156.2 512.2 155.5 512.2 160.1 512.2 155.8 512.2 155.6 512.2 156.2 512.3 157.7 512.3 159.8 512.3 151.1 512.4 152.5 512.4 146.3 512.4 148.4 512.4 147.2 512.5 148.6 512.5 145.2 512.5 141.8 512.5 150.0 512.5 149.7 512.6 149.5 512.6 144.6 512.7 152.4 512.7 149.1 512.7 151.1 512.8 152.4 512.8 149.1 512.8 148.9 512.8 150.2 512.8 148.2 512.8 151.3 512.8 149.6 512.8 153.6 512.8 149.6 512.9 153.7 512.9 153.7 512.9 151.3 513.0 151.0 513.0 152.8 513.0 150.6 513.1 144.3 513.1 144.5 513.2 154.7 513.2 152.0 513.2 154.7 513.2 152.6 513.2 142.6 513.2 140.5 513.2 146.2 513.2 145.4 513.2 145.4 513.3 139.8 513.3 142.7 513.3 144.8 513.3 144.1 513.3 146.2 513.4 144.5 513.4 141.2 513.5 137.3 513.5 135.0 513.5 134.3 513.6 133.9 513.6 131.0 513.6 135.6 513.6 133.2 513.6 133.3 513.6 134.0 513.6 143.5 513.6 141.5 513.6 139.0 513.7 141.1 513.7 143.5 513.7 143.4 513.7 155.9 513.7 150.5 513.8 142.4 513.8 143.6 513.9 136.0 513.9 131.2 513.9 129.6 513.9 130.8 514.0 131.1 514.0 133.9 514.0 132.3 514.0 132.0 514.0 126.0 514.1 131.0 514.1 124.0 514.1 126.6 514.2 129.4 514.2 127.3 514.2 121.7 514.3 125.8 514.3 126.1 514.3 126.3 514.3 127.0 514.3 123.5 514.3 124.4 514.4 126.0 514.4 124.1 514.5 131.3 514.5 130.1 514.5 128.9 514.5 126.0 514.5 124.8 514.5 128.4 514.5 123.9 514.5 127.7 514.5 125.8 514.6 128.4 514.6 126.8 514.6 128.0 514.6 127.8 514.6 126.4 514.6 128.4 514.6 124.6 514.6 126.7 514.7 124.8 514.7 122.4 514.7 126.8 514.7 123.4 514.7 125.0 514.8 120.2 514.8 118.7 514.8 120.1 514.8 124.3 514.9 114.7 514.9 111.9 515.0 114.6 515.1 105.4 515.2 109.6 515.2 110.9 515.2 116.0 515.2 114.8 515.2 114.7 515.2 112.5 515.3 112.7 515.3 109.1 515.3 109.2 515.3 111.0 515.3 115.8 515.4 124.5 515.4 119.9 515.5 121.1 515.5 127.4 515.5 126.6 515.6 127.1 515.6 126.0 515.6 127.3 515.7 112.6 515.7 116.5 515.7 114.1 515.7 112.3 515.7 112.2 515.7 115.7 515.7 114.9 515.7 112.8 515.8 122.5 515.8 121.8 515.8 115.3 515.9 119.2 515.9 115.0 515.9 117.9 515.9 114.8 515.9 118.0 516.0 120.4 516.0 119.6 516.0 115.5 516.0 118.2 516.0 119.7 516.0 117.6 516.0 119.5 516.0 117.6 516.1 117.5 516.1 117.9 516.1 120.2 516.1 118.0 516.1 118.9 516.1 120.0 516.1 118.4 516.2 124.1 516.2 121.8 516.3 120.8 516.3 120.2 516.3 113.4 516.3 116.7 516.4 117.9 516.4 118.2 516.4 116.3 516.4 117.8 516.4 115.6 516.4 116.4 516.4 116.3 516.5 115.7 516.5 107.3 516.5 111.6 516.6 115.6 516.6 120.9 516.6 119.3 516.6 114.4 516.7 113.7 516.7 110.9 516.8 114.1 516.8 115.6 516.8 118.8 516.8 119.7 516.9 118.3 516.9 120.5 516.9 125.6 516.9 123.6 516.9 124.0 516.9 122.1 517.0 123.5 517.0 122.4 517.0 125.8 517.0 122.4 517.0 118.7 517.0 115.6 517.1 115.6 517.1 113.7 517.1 116.0 517.1 113.6 517.1 127.0 517.2 131.0 517.2 126.1 517.2 129.1 517.2 132.2 517.2 124.7 517.3 117.8 517.4 113.3 517.4 111.8 517.4 114.8 517.4 116.5 517.5 113.2 517.5 110.4 517.5 113.9 517.5 112.7 517.5 109.2 517.5 108.0 517.5 103.0 517.5 107.8 517.5 102.0 517.6 101.3 517.6 105.1 517.6 100.6 517.6 116.5 517.7 119.1 517.7 118.6 517.7 117.2 517.8 122.8 517.8 91.8 517.8 87.6 517.9 80.7 517.9 80.6 517.9 80.4 517.9 108.6 517.9 109.1 517.9 113.4 517.9 116.2 517.9 116.4 517.9 115.4 518.0 115.2 518.0 114.9 518.0 114.9 518.1 118.0 518.1 115.9 518.1 113.7 518.1 114.6 518.1 116.1 518.1 112.1 518.2 108.4 518.2 110.8 518.3 112.2 518.3 108.4 518.3 104.8 518.3 105.0 518.3 107.0 518.3 104.4 518.4 120.8 518.4 112.2 518.4 109.4 518.4 114.3 518.5 114.1 518.5 114.7 518.5 116.4 518.5 120.8 518.5 124.9 518.6 126.7 518.6 129.1 518.6 122.2 518.6 126.3 518.7 119.8 518.7 119.7 518.7 112.2 518.7 110.8 518.7 113.7 518.7 116.4 518.7 112.8 518.8 111.9 518.8 116.4 518.8 118.0 518.8 111.9 518.9 116.8 519.0 110.3 519.0 115.2 519.0 111.7 519.0 115.7 519.0 114.0 519.1 114.0 519.2 115.4 519.2 115.0 519.2 117.8 519.2 117.4 519.3 123.6 519.3 124.5 519.3 121.0 519.4 123.3 519.4 119.5 519.4 121.8 519.5 124.0 519.5 120.9 519.6 121.1 519.6 122.3 519.6 114.1 519.6 117.9 519.6 120.1 519.7 116.9 519.7 120.4 519.7 120.8 519.7 121.6 519.7 120.5 519.7 121.1 519.7 117.1 519.8 122.0 519.8 118.2 519.9 123.3 519.9 121.6 519.9 123.4 519.9 118.1 520.0 122.0 520.0 123.0 520.0 123.5 520.1 123.3 520.1 122.6 520.1 120.2 520.1 128.7 520.1 127.3 520.1 126.6 520.2 129.0 520.2 129.3 520.2 128.4 520.2 136.8 520.3 132.3 520.3 127.9 520.3 122.1 520.4 121.2 520.5 119.9 520.5 121.3 520.6 120.3 520.6 128.4 520.6 127.0 520.6 130.5 520.6 127.6 520.7 129.4 520.7 131.9 520.7 129.0 520.7 132.1 520.7 130.9 520.8 123.0 520.8 127.4 520.8 118.1 520.8 117.8 520.8 120.1 520.8 118.5 520.8 120.2 520.8 118.6 520.9 120.8 520.9 122.0 520.9 123.1 520.9 126.0 521.0 124.6 521.0 126.2 521.1 129.8 521.1 134.7 521.1 139.8 521.2 139.4 521.2 134.8 521.2 130.7 521.3 133.4 521.3 134.0 521.3 134.2 521.3 132.0 521.3 127.0 521.3 135.6 521.3 130.6 521.4 129.1 521.4 128.8 521.4 125.0 521.4 135.0 521.5 131.3 521.5 133.2 521.6 133.2 521.6 138.0 521.8 132.8 521.8 135.7 521.8 138.4 521.8 132.0 521.9 130.4 521.9 130.9 521.9 130.6 521.9 132.0 521.9 129.1 521.9 127.7 522.0 131.3 522.0 127.3 522.0 128.9 522.0 125.5 522.1 126.6 522.1 128.6 522.1 129.0 522.2 135.9 522.2 130.1 522.2 134.2 522.2 128.8 522.2 128.0 522.3 127.5 522.3 132.4 522.4 129.1 522.4 130.7 522.4 135.6 522.5 141.5 522.5 139.7 522.5 142.6 522.5 138.4 522.6 135.1 522.6 139.4 522.6 139.2 522.6 135.2 522.6 137.3 522.7 133.1 522.7 134.0 522.7 143.5 522.7 142.7 522.7 146.0 522.8 150.5 522.8 146.4 522.8 145.6 522.8 148.1 522.8 148.9 522.8 151.9 522.9 130.3 522.9 133.4 523.0 136.1 523.0 135.7 523.0 122.5 523.1 138.2 523.1 139.4 523.1 138.9 523.2 136.9 523.2 132.6 523.2 133.9 523.2 139.6 523.3 140.2 523.3 136.4 523.3 134.3 523.3 135.5 523.3 137.6 523.3 142.1 523.4 141.4 523.4 145.0 523.5 147.5 523.5 147.1 523.5 149.9 523.5 146.3 523.5 135.5 523.6 139.2 523.6 139.6 523.7 143.4 523.7 147.2 523.7 143.7 523.7 142.5 523.7 144.5 523.8 146.1 523.8 136.2 523.8 134.4 523.9 136.6 523.9 127.1 523.9 138.2 524.0 137.3 524.0 137.4 524.0 140.8 524.0 138.4 524.0 140.4 524.1 144.5 524.1 141.8 524.1 139.8 524.1 139.1 524.2 145.6 524.2 141.0 524.3 142.0 524.4 142.3 524.4 137.4 524.4 139.0 524.6 145.7 524.6 146.4 524.6 147.5 524.6 148.6 524.6 147.0 524.7 145.6 524.7 147.2 524.7 157.9 524.8 154.4 524.8 154.7 524.8 155.1 524.8 157.5 524.9 156.4 524.9 151.0 524.9 152.5 524.9 156.5 524.9 143.3 525.0 146.5 525.0 145.2 525.0 145.5 525.0 146.0 525.1 147.8 525.1 147.5 525.1 149.2 525.1 151.9 525.1 149.9 525.2 174.3 525.2 153.4 525.3 153.1 525.3 150.9 525.3 152.3 525.4 150.7 525.4 146.8 525.5 152.0 525.5 151.3 525.5 153.1 525.6 158.2 525.6 155.4 525.6 157.2 525.6 160.7 525.6 162.8 525.6 159.0 525.7 149.6 525.7 150.3 525.7 151.1 525.7 159.5 525.7 158.1 525.7 158.1 525.8 159.3 525.8 158.5 525.8 158.0 525.9 164.2 525.9 168.3 525.9 162.5 525.9 164.6 525.9 166.6 526.0 169.0 526.0 167.3 526.1 167.3 526.1 165.0 526.1 164.5 526.1 163.9 526.1 160.1 526.2 160.4 526.2 164.5 526.2 161.9 526.2 168.2 526.2 163.1 526.2 162.9 526.3 161.0 526.4 162.2 526.4 157.2 526.4 160.0 526.4 162.5 526.4 162.1 526.4 160.6 526.4 160.8 526.5 167.3 526.5 168.4 526.5 169.9 526.5 153.9 526.5 154.1 526.6 153.8 526.6 151.3 526.6 143.7 526.6 149.5 526.6 148.1 526.6 151.5 526.6 151.9 526.7 151.0 526.7 151.7 526.8 149.0 526.8 151.3 526.8 148.1 526.8 152.5 526.8 154.3 526.9 154.9 526.9 151.9 527.0 153.7 527.0 147.0 527.1 150.4 527.1 159.2 527.1 158.5 527.1 159.2 527.1 158.5 527.2 162.5 527.2 164.5 527.3 172.3 527.3 164.5 527.3 166.9 527.4 163.6 527.4 164.8 527.4 163.9 527.4 164.0 527.4 167.7 527.4 165.0 527.5 172.8 527.5 185.0 527.5 183.1 527.6 173.3 527.6 169.7 527.6 170.3 527.6 174.1 527.6 171.6 527.6 172.3 527.7 170.3 527.7 161.4 527.7 163.4 527.8 164.6 527.8 164.8 527.8 162.1 527.9 156.3 527.9 158.6 528.0 162.3 528.0 166.7 528.0 162.7 528.0 164.5 528.0 161.1 528.1 160.5 528.1 160.7 528.1 162.3 528.1 160.2 528.1 159.9 528.1 160.0 528.2 156.9 528.2 162.6 528.2 161.4 528.2 163.1 528.3 162.6 528.3 160.6 528.3 153.3 528.3 154.8 528.3 157.6 528.4 158.7 528.4 158.9 528.4 159.6 528.5 156.8 528.5 160.2 528.5 157.5 528.5 151.7 528.6 152.7 528.6 153.4 528.6 151.0 528.6 153.4 528.6 156.3 528.7 153.5 528.7 154.2 528.7 147.8 529.0 153.0 529.0 152.5 529.0 149.1 529.0 146.7 529.1 142.7 529.2 135.9 529.2 135.3 529.2 132.7 529.3 140.4 529.3 139.6 529.3 143.9 529.3 138.5 529.3 134.9 529.3 137.9 529.3 132.4 529.4 133.5 529.4 133.0 529.4 139.4 529.4 138.5 529.4 146.7 529.5 142.1 529.5 140.5 529.5 126.7 529.6 125.6 529.6 125.7 529.6 131.4 529.6 132.0 529.7 130.0 529.7 126.5 529.7 132.0 529.7 132.2 529.7 133.2 529.8 132.1 529.8 149.3 529.8 137.4 529.9 135.4 529.9 137.4 529.9 133.0 529.9 132.8 530.0 131.6 530.0 132.0 530.0 133.1 530.1 132.7 530.1 133.1 530.1 130.3 530.1 129.8 530.1 128.3 530.1 128.6 530.2 131.2 530.2 131.5 530.2 130.8 530.2 129.4 530.2 127.4 530.2 129.0 530.2 132.8 530.2 129.6 530.2 131.0 530.2 130.0 530.3 140.3 530.3 135.8 530.3 131.6 530.3 132.8 530.3 129.5 530.3 130.7 530.3 132.0 530.3 126.8 530.3 126.7 530.3 123.9 530.4 119.6 530.4 122.1 530.4 125.9 530.4 130.3 530.4 127.9 530.5 124.0 530.5 123.9 530.5 126.4 530.5 124.4 530.6 128.1 530.6 128.6 530.6 127.1 530.6 124.6 530.7 121.2 530.7 123.0 530.7 125.3 530.8 127.4 530.9 119.1 530.9 119.4 530.9 116.5 530.9 119.7 531.0 122.5 531.0 118.3 531.1 113.3 531.1 113.9 531.1 117.4 531.1 122.5 531.1 111.6 531.2 108.9 531.2 112.0 531.2 108.6 531.2 113.3 531.2 112.6 531.3 114.5 531.3 113.6 531.3 105.6 531.4 121.0 531.4 123.2 531.4 121.5 531.5 119.2 531.5 119.6 531.5 117.1 531.5 121.9 531.6 124.3 531.6 121.4 531.6 120.8 531.6 115.8 531.6 115.1 531.6 113.3 531.7 117.6 531.8 87.9 531.8 105.7 531.8 106.4 531.9 105.0 531.9 106.5 531.9 115.5 531.9 115.2 531.9 114.5 531.9 116.6 531.9 112.2 531.9 111.7 532.0 113.6 532.0 111.7 532.0 119.3 532.0 117.3 532.1 90.9 532.1 93.0 532.1 91.1 532.1 91.8 532.1 90.7 532.1 90.0 532.2 120.3 532.2 119.6 532.2 114.8 532.2 108.7 532.3 109.3 532.3 109.2 532.3 108.1 532.3 108.3 532.3 102.7 532.3 100.2 532.4 106.8 532.4 104.2 532.5 100.7 532.5 105.4 532.5 101.9 532.6 101.9 532.7 104.3 532.7 109.1 532.7 108.0 532.7 108.2 532.7 106.2 532.8 102.4 532.8 101.2 532.8 100.5 532.8 98.5 532.8 101.8 532.8 100.5 532.9 109.3 533.0 103.9 533.0 104.2 533.0 105.8 533.0 103.1 533.0 100.5 533.0 101.4 533.0 98.2 533.0 106.5 533.1 101.0 533.1 100.4 533.2 97.5 533.2 90.2 533.2 91.4 533.3 90.5 533.3 88.6 533.3 89.6 533.3 91.1 533.3 92.4 533.4 89.5 533.4 88.9 533.4 81.9 533.4 85.7 533.5 89.9 533.5 94.3 533.5 92.9 533.5 93.7 533.6 99.2 533.6 97.1 533.6 100.9 533.7 99.1 533.7 97.8 533.7 97.8 533.7 98.3 533.7 99.9 533.8 104.8 533.8 102.7 533.9 96.6 533.9 98.7 533.9 101.2 534.0 101.5 534.0 103.0 534.0 103.7 534.0 102.7 534.1 110.4 534.2 101.5 534.2 97.6 534.2 100.0 534.2 103.3 534.2 93.8 534.2 96.0 534.2 98.1 534.2 94.5 534.2 97.8 534.3 98.3 534.3 97.0 534.3 100.1 534.3 103.4 534.4 103.8 534.4 103.0 534.4 102.3 534.4 104.0 534.4 104.8 534.4 109.3 534.5 109.3 534.5 108.7 534.5 107.8 534.5 105.1 534.6 105.2 534.6 101.7 534.6 101.4 534.6 85.1 534.6 83.0 534.7 84.9 534.7 83.2 534.7 82.0 534.8 100.4 534.8 102.0 534.8 96.8 534.8 100.6 534.8 102.8 534.8 102.7 534.9 101.5 534.9 98.9 534.9 102.4 535.0 96.7 535.0 86.8 535.0 87.3 535.1 95.2 535.1 96.6 535.2 95.8 535.2 84.4 535.2 84.8 535.2 85.6 535.2 84.0 535.2 84.0 535.2 87.6 535.3 85.5 535.3 85.2 535.3 90.2 535.3 88.6 535.3 70.5 535.3 65.8 535.4 90.3 535.4 88.0 535.4 91.2 535.4 91.6 535.4 90.8 535.4 88.4 535.4 91.8 535.4 92.3 535.4 103.8 535.5 99.1 535.5 103.0 535.5 99.9 535.5 102.8 535.5 99.5 535.5 96.4 535.6 100.3 535.6 108.1 535.7 105.6 535.7 100.5 535.7 108.6 535.7 102.2 535.8 104.5 535.8 102.7 535.9 97.3 535.9 103.3 535.9 98.3 535.9 96.7 535.9 100.4 536.0 101.4 536.0 99.0 536.1 101.7 536.2 102.6 536.3 106.9 536.3 104.1 536.3 107.7 536.4 104.2 536.4 104.6 536.4 109.3 536.4 111.5 536.5 109.6 536.5 101.1 536.5 102.9 536.5 105.7 536.5 104.5 536.5 103.7 536.5 103.0 536.6 114.8 536.6 109.0 536.7 107.7 536.7 104.2 536.7 114.8 536.7 118.4 536.8 114.1 536.8 105.4 536.8 109.3 536.8 106.4 536.9 104.9 536.9 100.7 536.9 96.5 537.0 101.9 537.0 105.7 537.1 104.7 537.1 103.7 537.1 105.3 537.1 104.2 537.1 98.2 537.2 98.2 537.2 100.2 537.2 100.0 537.3 107.5 537.3 107.4 537.3 109.5 537.3 106.6 537.3 110.4 537.4 105.9 537.4 110.5 537.4 108.8 537.4 110.3 537.4 112.1 537.5 107.2 537.5 108.1 537.5 95.9 537.5 86.4 537.5 89.3 537.5 93.3 537.5 90.9 537.6 85.1 537.6 79.0 537.6 79.0 537.7 82.0 537.7 88.7 537.7 90.6 537.7 84.6 537.7 82.8 537.7 108.4 537.7 103.0 537.7 105.9 537.8 94.4 537.8 96.7 537.8 97.2 537.8 97.6 537.9 102.3 537.9 96.3 537.9 102.2 538.0 97.5 538.0 97.2 538.0 97.4 538.1 106.7 538.1 110.8 538.1 104.8 538.1 105.3 538.1 116.7 538.2 111.6 538.2 104.7 538.3 106.4 538.3 106.8 538.3 102.3 538.3 104.7 538.4 100.7 538.4 99.3 538.4 97.2 538.4 100.2 538.4 102.4 538.4 101.0 538.4 104.7 538.4 108.2 538.5 104.5 538.5 100.4 538.5 103.9 538.5 105.6 538.6 102.1 538.6 102.3 538.6 112.2 538.6 108.9 538.6 110.6 538.6 110.5 538.6 106.2 538.7 106.0 538.7 97.8 538.7 101.3 538.8 103.1 538.9 101.7 538.9 72.3 539.0 72.5 539.0 70.2 539.2 102.6 539.2 108.0 539.2 109.2 539.2 111.9 539.2 106.2 539.2 111.9 539.2 108.5 539.2 107.7 539.3 116.5 539.3 116.2 539.3 117.2 539.4 111.6 539.4 113.4 539.4 111.7 539.4 113.9 539.4 113.4 539.4 116.5 539.5 105.9 539.6 105.4 539.6 107.2 539.6 104.8 539.6 106.2 539.6 106.3 539.7 107.7 539.7 110.9 539.8 107.0 539.8 109.8 539.8 110.6 539.8 114.4 539.8 116.2 539.8 117.0 539.9 114.3 540.0 110.6 540.0 110.1 540.0 111.3 540.0 110.3 540.0 111.8 540.1 112.2 540.1 115.2 540.1 113.9 540.2 118.4 540.2 118.1 540.2 116.1 540.2 118.8 540.2 118.4 540.3 116.3 540.3 122.7 540.3 122.0 540.3 118.4 540.4 125.1 540.4 127.4 540.4 128.6 540.4 121.1 540.4 123.0 540.4 122.9 540.4 121.5 540.5 121.9 540.5 103.1 540.6 116.6 540.6 115.4 540.6 115.3 540.7 108.0 540.7 105.9 540.8 114.1 540.8 132.6 540.8 135.9 540.8 133.3 540.8 134.6 540.8 135.5 540.8 128.7 540.8 126.6 540.8 128.6 540.9 124.0 540.9 128.6 540.9 125.7 540.9 125.4 540.9 125.2 541.0 125.5 541.0 129.0 541.0 125.0 541.0 126.4 541.0 127.7 541.0 135.3 541.1 133.4 541.1 131.3 541.2 128.5 541.2 131.4 541.3 124.0 541.3 126.9 541.3 127.3 541.3 122.3 541.3 123.9 541.3 123.5 541.3 123.7 541.4 124.0 541.4 128.3 541.5 131.3 541.5 123.7 541.5 121.9 541.5 126.3 541.5 128.7 541.5 126.7 541.6 134.1 541.6 135.4 541.7 134.8 541.7 128.3 541.7 125.8 541.7 128.2 541.7 128.4 541.8 123.0 541.8 122.0 541.8 121.3 541.8 120.9 541.8 120.8 541.9 135.6 541.9 134.8 541.9 136.1 541.9 135.7 541.9 136.8 541.9 139.8 542.0 144.0 542.0 139.8 542.1 138.0 542.1 137.3 542.1 143.8 542.2 142.7 542.3 133.1 542.4 131.1 542.5 124.0 542.5 122.7 542.5 130.8 542.5 130.4 542.5 130.5 542.5 134.0 542.6 133.3 542.6 138.6 542.6 137.7 542.6 137.3 542.6 141.5 542.6 138.0 542.7 133.0 542.7 133.0 542.7 132.1 542.7 133.9 542.7 130.8 542.7 132.6 542.7 116.4 542.7 117.5 542.7 119.8 542.7 118.2 542.8 119.1 542.8 122.3 542.8 136.5 542.9 140.5 542.9 150.8 542.9 147.1 542.9 142.4 543.0 138.6 543.0 138.4 543.1 151.0 543.1 148.8 543.1 156.1 543.1 159.6 543.1 156.2 543.2 150.1 543.2 145.7 543.2 146.5 543.2 150.3 543.2 151.2 543.2 150.6 543.2 152.0 543.2 152.1 543.2 149.8 543.3 147.6 543.3 152.4 543.3 155.7 543.4 146.5 543.4 146.3 543.4 145.6 543.4 139.8 543.4 141.6 543.4 144.6 543.4 140.1 543.5 143.6 543.5 139.5 543.5 142.2 543.5 141.9 543.6 139.5 543.6 143.1 543.6 138.4 543.6 140.8 543.6 145.4 543.6 147.0 543.7 133.8 543.7 135.3 543.7 141.5 543.7 139.7 543.7 140.5 543.8 146.1 543.8 146.6 543.8 148.9 543.9 150.7 543.9 152.2 543.9 149.4 543.9 150.3 543.9 146.0 543.9 151.2 543.9 151.4 543.9 152.9 544.0 148.1 544.0 148.1 544.0 151.8 544.0 150.9 544.0 150.5 544.1 150.1 544.1 146.8 544.1 144.9 544.2 150.3 544.2 148.4 544.2 147.0 544.2 148.1 544.2 148.1 544.2 147.5 544.2 156.4 544.2 154.3 544.2 154.7 544.3 148.4 544.3 147.3 544.4 152.4 544.4 153.2 544.4 154.2 544.4 152.7 544.4 153.3 544.4 153.6 544.4 155.5 544.4 153.6 544.4 154.8 544.4 146.7 544.4 146.9 544.5 143.7 544.5 143.8 544.6 143.1 544.6 146.0 544.6 145.9 544.7 156.4 544.7 158.4 544.8 160.2 544.8 160.8 544.8 164.3 544.9 150.1 544.9 180.1 544.9 180.0 544.9 160.5 545.0 157.8 545.0 156.6 545.0 155.3 545.0 153.1 545.1 152.7 545.1 174.5 545.1 170.5 545.1 175.4 545.1 173.6 545.1 174.5 545.1 174.5 545.2 183.1 545.2 164.9 545.2 166.8 545.2 167.3 545.2 167.4 545.2 161.9 545.2 160.0 545.2 161.9 545.3 164.1 545.3 162.9 545.3 164.7 545.3 155.0 545.4 156.0 545.4 158.4 545.4 160.6 545.4 158.2 545.4 158.5 545.4 158.3 545.4 155.2 545.4 159.9 545.5 164.2 545.5 164.6 545.5 160.9 545.6 162.1 545.6 159.3 545.6 164.1 545.6 161.9 545.6 167.4 545.7 166.5 545.7 168.5 545.7 168.4 545.7 171.4 545.7 170.0 545.7 173.8 545.7 173.5 545.8 163.2 545.8 163.6 545.8 166.5 545.8 169.9 545.8 170.7 545.9 179.0 545.9 180.5 545.9 166.8 546.0 164.8 546.0 167.6 546.1 169.4 546.1 164.8 546.1 167.8 546.1 170.7 546.1 159.5 546.2 157.6 546.2 161.0 546.2 166.5 546.2 167.8 546.2 155.6 546.2 154.4 546.2 155.4 546.3 158.3 546.3 155.0 546.4 158.7 546.5 174.9 546.5 174.8 546.5 177.0 546.5 181.8 546.5 175.7 546.6 156.4 546.6 160.8 546.6 157.0 546.6 158.7 546.6 159.4 546.6 159.8 546.7 144.2 546.7 141.3 546.7 142.1 546.7 139.2 546.8 143.3 546.8 143.7 546.8 144.4 546.8 147.9 546.9 148.7 547.0 140.3 547.0 147.0 547.0 148.8 547.0 151.3 547.0 148.3 547.0 149.5 547.0 152.4 547.1 150.1 547.1 149.9 547.1 156.2 547.1 143.8 547.1 146.0 547.2 143.9 547.2 140.2 547.2 146.0 547.2 140.4 547.3 138.7 547.3 142.4 547.3 139.7 547.3 137.8 547.3 136.4 547.3 135.3 547.4 145.7 547.4 146.7 547.5 145.2 547.6 140.5 547.6 142.7 547.6 137.9 547.6 137.2 547.7 135.1 547.7 145.3 547.7 145.3 547.7 146.4 547.7 146.4 547.8 146.4 547.8 142.2 547.8 144.7 547.8 143.8 547.8 143.7 547.8 146.6 547.8 142.4 547.8 134.3 547.8 133.5 547.9 130.5 547.9 130.5 547.9 136.1 547.9 138.2 547.9 138.5 547.9 132.8 548.0 137.8 548.0 135.8 548.0 133.2 548.0 139.5 548.1 140.6 548.1 145.8 548.1 143.9 548.1 142.0 548.1 142.0 548.2 142.1 548.2 141.1 548.2 141.3 548.2 144.4 548.2 141.5 548.2 140.0 548.2 143.0 548.2 142.8 548.2 141.7 548.2 139.9 548.3 133.6 548.3 124.8 548.3 122.7 548.3 126.0 548.3 127.0 548.3 135.1 548.3 134.0 548.3 133.5 548.4 137.0 548.4 140.9 548.5 146.7 548.5 142.6 548.5 142.6 548.5 144.9 548.5 144.6 548.6 141.7 548.6 134.2 548.7 138.9 548.7 117.1 548.8 118.5 548.8 143.1 548.8 139.9 548.8 140.3 548.8 152.1 548.9 156.9 548.9 154.5 549.0 140.3 549.0 135.6 549.0 133.3 549.1 127.7 549.1 126.4 549.1 128.1 549.2 124.3 549.2 124.7 549.2 124.0 549.2 123.8 549.2 122.6 549.3 123.4 549.3 128.2 549.3 126.3 549.3 119.2 549.3 120.2 549.3 120.0 549.4 123.9 549.4 122.9 549.4 126.0 549.5 132.1 549.5 127.6 549.5 127.1 549.5 130.3 549.5 132.1 549.6 132.4 549.6 129.8 549.6 129.6 549.6 130.5 549.6 108.6 549.7 109.5 549.7 111.4 549.8 115.0 549.8 118.2 549.8 115.5 549.8 117.0 549.8 116.4 549.8 124.4 549.9 124.7 549.9 124.4 549.9 127.7 549.9 125.5 549.9 127.3 550.0 126.6 550.0 126.1 550.0 134.1 550.0 128.7 550.0 131.5 550.1 132.9 550.1 133.6 550.1 131.4 550.1 131.8 550.1 131.7 550.1 126.8 550.1 128.4 550.1 132.6 550.1 128.6 550.1 128.7 550.2 130.0 550.2 124.4 550.2 123.7 550.2 100.7 550.3 105.4 550.3 117.7 550.3 117.0 550.3 113.9 550.3 117.3 550.3 111.1 550.4 111.2 550.4 111.4 550.4 110.6 550.4 116.5 550.4 115.2 550.5 107.3 550.5 115.0 550.6 84.0 550.6 83.4 550.6 84.3 550.7 111.1 550.7 115.4 550.7 109.3 550.8 107.9 550.8 107.0 550.8 105.6 550.8 104.5 550.8 102.5 550.9 108.1 550.9 110.4 550.9 113.6 551.0 109.1 551.0 109.3 551.0 111.7 551.0 108.8 551.1 109.6 551.1 118.2 551.1 123.7 551.1 120.6 551.1 116.8 551.1 118.5 551.2 114.6 551.2 118.9 551.2 111.9 551.3 119.0 551.3 114.8 551.3 113.1 551.4 109.1 551.4 108.2 551.4 110.5 551.4 111.6 551.4 106.7 551.4 106.5 551.5 108.2 551.5 106.3 551.5 101.1 551.5 97.5 551.5 101.5 551.6 102.6 551.6 101.3 551.6 104.2 551.6 101.6 551.7 110.6 551.7 110.0 551.8 107.0 551.8 102.6 551.9 104.4 551.9 104.2 551.9 108.8 552.0 113.9 552.0 108.6 552.0 106.0 552.0 108.7 552.0 105.7 552.1 108.3 552.1 105.9 552.1 104.3 552.2 107.6 552.3 111.0 552.3 111.7 552.3 107.5 552.3 115.7 552.4 115.1 552.4 118.9 552.4 116.2 552.5 109.2 552.5 94.3 552.6 104.1 552.6 102.6 552.6 113.0 552.6 117.1 552.7 108.9 552.7 105.5 552.7 101.3 552.7 102.9 552.8 101.6 552.8 101.5 552.8 103.3 552.8 99.9 552.8 100.8 552.8 98.4 552.8 104.0 552.8 101.6 552.8 100.3 552.9 98.9 552.9 97.9 552.9 101.5 552.9 98.4 552.9 92.2 552.9 90.9 553.0 93.4 553.0 93.4 553.0 93.6 553.0 93.1 553.1 105.0 553.1 100.5 553.1 99.4 553.1 100.2 553.2 103.5 553.2 106.3 553.2 105.2 553.2 105.4 553.2 92.0 553.2 96.0 553.3 90.2 553.3 93.7 553.3 94.9 553.3 97.2 553.3 95.4 553.3 96.0 553.4 105.1 553.4 104.3 553.4 105.1 553.4 101.4 553.5 109.4 553.5 105.9 553.5 106.4 553.5 111.8 553.5 107.8 553.5 105.5 553.6 105.8 553.6 102.7 553.7 94.8 553.7 95.0 553.7 95.6 553.7 93.1 553.7 90.9 553.7 88.5 553.8 88.9 553.8 101.3 553.8 96.6 553.8 99.7 553.9 98.2 554.0 106.6 554.0 101.8 554.0 100.8 554.0 102.0 554.0 101.5 554.1 97.6 554.1 100.3 554.1 104.7 554.1 105.9 554.1 104.4 554.2 97.1 554.2 99.5 554.2 101.3 554.2 98.6 554.2 98.2 554.3 102.4 554.3 102.7 554.4 104.8 554.4 100.3 554.4 100.4 554.4 102.4 554.5 95.9 554.5 95.1 554.5 97.2 554.6 102.5 554.7 100.8 554.7 102.6 554.7 100.2 554.7 101.8 554.7 100.6 554.7 102.2 554.7 102.7 554.8 105.0 554.8 99.8 554.8 102.2 554.8 101.8 554.9 106.0 554.9 101.8 554.9 100.4 554.9 104.9 554.9 105.5 554.9 103.8 554.9 103.7 554.9 100.0 555.0 98.2 555.0 98.5 555.0 100.0 555.1 94.1 555.1 94.4 555.2 90.8 555.2 94.3 555.2 95.7 555.2 93.5 555.3 99.8 555.3 100.5 555.4 95.1 555.4 95.6 555.4 90.2 555.5 87.7 555.5 89.9 555.5 91.6 555.5 92.5 555.6 91.3 555.6 85.8 555.6 82.9 555.6 87.3 555.7 89.9 555.7 87.7 555.7 94.9 555.7 89.9 555.8 93.4 555.8 98.7 555.8 96.8 555.9 96.1 555.9 94.4 555.9 94.3 555.9 100.3 555.9 92.3 556.0 97.3 556.0 94.9 556.0 98.7 556.0 97.2 556.1 95.6 556.2 96.6 556.3 91.4 556.3 96.5 556.3 99.7 556.3 101.0 556.4 97.7 556.4 101.3 556.4 102.8 556.4 101.7 556.4 102.9 556.5 94.6 556.5 98.3 556.5 101.6 556.6 98.4 556.6 98.4 556.7 99.5 556.7 92.7 556.7 99.1 556.7 96.6 556.8 96.3 556.8 91.2 556.8 97.9 556.8 99.7 556.9 106.5 556.9 95.1 556.9 99.1 556.9 97.9 556.9 99.9 557.0 102.3 557.0 99.6 557.0 102.7 557.1 104.3 557.1 91.9 557.2 95.1 557.2 87.4 557.2 90.0 557.2 89.2 557.3 89.1 557.3 96.1 557.3 95.6 557.3 94.9 557.3 95.8 557.4 97.1 557.4 96.0 557.4 100.1 557.4 98.0 557.4 99.8 557.4 101.8 557.4 101.2 557.4 99.5 557.4 93.8 557.5 95.6 557.6 102.0 557.6 99.7 557.6 100.4 557.6 102.9 557.7 108.7 557.7 102.3 557.7 95.4 557.7 98.2 557.8 102.3 557.8 103.0 557.8 102.2 557.8 102.2 557.8 103.1 557.9 111.3 557.9 112.1 558.0 116.9 558.0 115.5 558.0 114.9 558.0 108.6 558.0 107.4 558.0 105.9 558.0 106.0 558.0 109.5 558.1 104.3 558.1 107.2 558.2 101.1 558.2 101.2 558.2 102.5 558.2 104.3 558.2 102.0 558.3 109.6 558.3 112.9 558.3 110.0 558.3 108.5 558.3 114.0 558.3 111.6 558.4 106.6 558.4 95.4 558.4 97.6 558.4 100.1 558.4 100.3 558.5 94.0 558.5 92.9 558.5 95.6 558.5 96.5 558.5 95.9 558.5 94.6 558.5 95.3 558.6 95.1 558.6 103.6 558.6 102.4 558.6 98.7 558.6 100.0 558.6 100.3 558.7 102.9 558.7 98.3 558.7 107.7 558.7 109.9 558.7 106.5 558.8 109.9 558.8 111.8 558.9 113.7 558.9 110.0 558.9 120.1 558.9 116.3 558.9 115.5 558.9 115.0 558.9 113.6 558.9 117.6 559.0 117.7 559.0 116.7 559.0 116.5 559.0 110.5 559.0 111.4 559.0 114.3 559.1 111.9 559.1 114.3 559.1 111.9 559.1 117.7 559.2 119.0 559.2 114.5 559.2 111.4 559.2 111.0 559.2 115.4 559.3 109.2 559.3 102.2 559.3 100.4 559.4 113.5 559.4 115.1 559.4 116.0 559.4 120.9 559.4 123.8 559.5 118.4 559.5 112.7 559.5 113.0 559.5 111.1 559.6 113.0 559.6 113.8 559.6 116.3 559.6 110.3 559.6 115.0 559.7 114.9 559.7 117.4 559.7 115.4 559.7 112.0 559.7 113.0 559.7 113.3 559.7 114.1 559.7 113.3 559.7 119.5 559.8 113.3 559.8 117.0 559.8 114.3 559.8 115.6 559.8 117.3 559.8 114.3 559.9 119.2 559.9 120.9 559.9 105.6 559.9 106.4 559.9 106.2 560.0 105.2 560.0 125.2 560.0 122.0 560.0 124.0 560.0 121.6 560.1 112.9 560.1 111.8 560.1 107.0 560.1 109.1 560.1 110.7 560.1 107.7 560.2 108.1 560.2 107.7 560.2 108.3 560.2 106.7 560.2 106.5 560.3 120.6 560.3 115.7 560.3 118.2 560.3 116.1 560.3 115.1 560.3 111.9 560.3 110.4 560.3 112.5 560.4 122.8 560.4 126.3 560.4 121.5 560.4 123.6 560.4 120.5 560.4 119.8 560.4 119.5 560.4 121.4 560.5 122.2 560.5 121.2 560.5 119.3 560.5 120.3 560.5 117.6 560.5 115.4 560.5 118.3 560.5 111.2 560.5 110.5 560.6 113.3 560.6 118.6 560.7 120.9 560.7 120.6 560.7 125.9 560.7 118.8 560.7 121.0 560.8 123.1 560.8 123.9 560.8 125.0 560.8 123.6 560.8 125.5 560.9 127.5 560.9 124.2 560.9 123.7 560.9 119.9 560.9 119.9 561.0 119.9 561.0 117.4 561.0 118.3 561.1 116.8 561.1 124.6 561.1 126.7 561.1 125.0 561.1 124.9 561.1 136.2 561.2 128.3 561.2 130.2 561.2 130.5 561.2 130.3 561.3 130.8 561.3 133.3 561.3 134.9 561.3 130.4 561.3 139.7 561.4 153.3 561.5 146.1 561.5 149.6 561.5 147.2 561.6 145.9 561.6 145.7 561.6 145.2 561.6 148.9 561.6 134.0 561.6 135.7 561.6 137.8 561.6 138.0 561.6 139.5 561.7 136.8 561.7 131.3 561.8 129.3 561.8 128.7 561.8 129.1 561.8 127.2 561.8 132.1 561.9 117.4 561.9 115.6 561.9 127.2 562.0 109.1 562.0 108.7 562.0 108.6 562.0 110.4 562.0 107.9 562.0 128.3 562.0 128.2 562.0 129.3 562.1 137.8 562.1 141.5 562.2 123.7 562.3 121.3 562.3 121.1 562.4 121.8 562.4 118.7 562.4 124.5 562.4 128.5 562.4 130.9 562.4 131.4 562.5 136.3 562.5 133.3 562.5 134.2 562.5 132.2 562.5 133.0 562.5 145.8 562.5 144.1 562.5 151.7 562.6 161.1 562.6 146.7 562.7 146.0 562.7 152.7 562.7 148.8 562.8 143.5 562.8 144.6 562.9 146.1 562.9 147.2 562.9 148.0 562.9 146.0 562.9 144.1 562.9 142.9 563.0 150.5 563.0 146.4 563.0 148.7 563.0 147.2 563.1 151.8 563.2 160.5 563.2 157.0 563.2 159.3 563.2 161.6 563.2 160.2 563.2 161.9 563.2 162.9 563.3 161.0 563.3 158.0 563.3 158.7 563.3 159.7 563.4 142.1 563.4 141.5 563.4 140.6 563.4 140.4 563.5 138.3 563.5 141.4 563.5 141.5 563.6 136.2 563.6 136.6 563.6 139.8 563.6 138.0 563.6 135.5 563.7 140.1 563.7 138.4 563.7 133.7 563.7 135.5 563.8 135.7 563.8 124.9 563.8 133.2 563.8 137.1 563.8 133.5 563.8 132.4 563.9 132.6 563.9 138.5 563.9 137.0 563.9 141.3 563.9 137.7 564.0 142.3 564.0 141.3 564.0 126.7 564.0 127.0 564.0 125.0 564.0 125.2 564.1 130.1 564.1 132.1 564.1 134.8 564.1 130.6 564.1 147.1 564.2 133.1 564.2 132.5 564.2 131.3 564.2 131.6 564.2 130.1 564.2 142.4 564.3 140.2 564.3 135.9 564.4 131.5 564.4 137.7 564.4 137.7 564.4 146.0 564.4 148.0 564.4 142.8 564.4 136.2 564.4 133.8 564.5 135.8 564.5 136.6 564.5 131.4 564.5 127.5 564.5 125.0 564.5 128.5 564.6 123.0 564.6 126.4 564.6 127.2 564.6 134.5 564.7 130.2 564.7 132.6 564.7 133.4 564.7 123.9 564.7 127.6 564.8 128.4 564.8 128.6 564.8 129.1 564.8 119.7 564.8 116.6 564.9 116.8 564.9 114.6 564.9 125.0 564.9 127.2 565.0 123.9 565.0 114.3 565.0 116.8 565.0 114.2 565.1 116.0 565.1 117.1 565.1 121.1 565.1 116.2 565.1 112.6 565.2 125.6 565.2 116.0 565.2 118.1 565.3 128.8 565.3 128.8 565.3 124.7 565.3 127.4 565.3 132.3 565.4 108.1 565.5 110.9 565.5 115.4 565.5 114.7 565.6 107.0 565.6 107.0 565.6 106.5 565.6 92.2 565.7 86.2 565.7 88.1 565.8 110.9 565.8 104.2 565.8 104.6 565.8 114.6 565.9 112.8 565.9 111.5 565.9 100.1 565.9 105.9 565.9 108.8 565.9 102.3 565.9 112.5 566.0 114.3 566.0 112.5 566.0 113.9 566.0 107.8 566.1 114.1 566.1 106.4 566.1 105.5 566.1 110.1 566.1 106.3 566.2 100.5 566.2 96.0 566.2 99.2 566.3 98.9 566.3 97.9 566.4 99.6 566.4 120.6 566.5 116.8 566.5 117.2 566.5 117.9" fill="none" marker-start="url(#c)" marker-mid="url(#c)" marker-end="url(#c)"/>
<path d="M91.8 315.9 91.8 316.2 91.9 316.7 91.9 317.2 92.0 317.8 92.0 318.2 92.1 318.2 92.1 318.1 92.2 318.3 92.2 318.7 92.3 318.9 92.3 319.0 92.4 319.4 92.4 319.9 92.5 320.2 92.5 320.5 92.6 321.0 92.6 321.9 92.7 322.6 92.7 323.5 92.8 323.9 92.8 324.2 92.8 324.2 92.9 324.2 92.9 324.1 93.0 324.6 93.0 325.3 93.1 325.8 93.1 325.8 93.2 326.1 93.2 326.4 93.3 327.0 93.3 327.4 93.4 327.6 93.4 327.7 93.5 327.8 93.5 328.0 93.6 328.2 93.6 328.5 93.7 329.0 93.7 329.4 93.7 330.0 93.8 330.5 93.8 330.8 93.9 331.2 93.9 331.5 94.0 332.1 94.0 331.8 94.1 331.1 94.1 330.3 94.2 329.7 94.2 329.6 94.3 329.4 94.3 328.9 94.4 328.3 94.4 327.9 94.5 327.3 94.5 326.7 94.6 326.2 94.6 325.8 94.7 325.7 94.7 325.4 94.7 325.3 94.8 325.2 94.8 325.0 94.9 324.3 94.9 323.4 95.0 322.8 95.0 322.6 95.1 322.5 95.1 322.3 95.2 322.0 95.2 321.9 95.3 321.0 95.3 320.0 95.4 319.2 95.4 318.9 95.5 318.7 95.5 318.0 95.6 317.5 95.6 316.9 95.7 316.7 95.7 316.3 95.7 315.9 95.8 315.7 95.8 315.5 95.9 315.2 95.9 314.5 96.0 313.7 96.0 313.0 96.1 312.4 96.1 312.0 96.2 311.5 96.2 311.1 96.3 310.5 96.3 310.4 96.4 310.1 96.4 310.2 96.5 310.3 96.5 310.3 96.6 310.1 96.6 309.4 96.7 308.3 96.7 307.4 96.7 306.8 96.8 306.6 96.8 306.1 96.9 305.5 96.9 305.1 97.0 304.6 97.0 304.0 97.1 303.6 97.1 303.4 97.2 303.2 97.2 302.9 97.3 302.5 97.3 302.3 97.4 301.6 97.4 301.1 97.5 300.4 97.5 300.1 97.6 299.8 97.6 299.8 97.6 299.8 97.7 299.6 97.7 299.3 97.8 298.7 97.8 298.5 97.9 297.8 97.9 297.4 98.0 296.6 98.0 296.0 98.1 295.6 98.1 295.1 98.2 294.4 98.2 293.6 98.3 293.1 98.3 293.0 98.4 292.9 98.4 292.5 98.5 292.2 98.5 291.7 98.6 291.5 98.6 291.3 98.6 291.3 98.7 290.8 98.7 290.3 98.8 289.4 98.8 288.9 98.9 288.5 98.9 288.3 99.0 288.2 99.0 287.9 99.1 287.6 99.1 287.2 99.2 287.1 99.2 286.9 99.3 286.4 99.3 285.8 99.4 285.4 99.4 285.1 99.5 284.6 99.5 284.1 99.6 283.8 99.6 283.7 99.6 283.7 99.7 283.4 99.7 283.0 99.8 282.3 99.8 282.0 99.9 281.6 99.9 281.3 100.0 280.9 100.0 280.8 100.1 280.7 100.1 280.3 100.2 279.9 100.2 279.3 100.3 278.9 100.3 278.6 100.4 278.4 100.4 278.1 100.5 277.7 100.5 277.3 100.5 277.1 100.6 276.6 100.6 276.0 100.7 275.5 100.7 275.3 100.8 275.4 100.8 275.3 100.9 274.9 100.9 274.4 101.0 274.0 101.0 273.6 101.1 273.2 101.1 272.7 101.2 272.5 101.2 272.2 101.3 272.2 101.3 272.0 101.4 271.9 101.4 271.4 101.5 270.9 101.5 270.3 101.5 270.1 101.6 270.4 101.6 270.7 101.7 270.8 101.7 270.6 101.8 270.3 101.8 270.2 101.9 270.3 101.9 270.5 102.0 270.3 102.0 269.8 102.1 269.4 102.1 269.3 102.2 269.3 102.2 269.2 102.3 269.2 102.3 269.1 102.4 268.9 102.4 268.6 102.5 268.0 102.5 267.8 102.5 267.7 102.6 267.7 102.6 267.7 102.7 267.5 102.7 267.3 102.8 267.0 102.8 266.7 102.9 266.0 102.9 265.7 103.0 265.4 103.0 265.5 103.1 265.3 103.1 265.5 103.2 265.6 103.2 265.6 103.3 265.3 103.3 265.0 103.4 264.9 103.4 264.7 103.5 264.5 103.5 264.6 103.5 264.9 103.6 265.4 103.6 265.9 103.7 266.1 103.7 265.9 103.8 265.2 103.8 264.8 103.9 264.8 103.9 264.7 104.0 264.3 104.0 264.0 104.1 263.9 104.1 263.8 104.2 263.6 104.2 263.4 104.3 263.3 104.3 263.4 104.4 263.5 104.4 263.7 104.4 263.5 104.5 263.7 104.5 263.7 104.6 263.9 104.6 264.0 104.7 263.9 104.7 263.6 104.8 263.3 104.8 263.2 104.9 263.3 104.9 263.7 105.0 264.1 105.0 264.5 105.1 264.4 105.1 264.5 105.2 264.7 105.2 264.9 105.3 264.7 105.3 264.6 105.4 264.5 105.4 264.4 105.4 264.5 105.5 264.7 105.5 265.3 105.6 265.5 105.6 265.5 105.7 265.2 105.7 265.2 105.8 265.3 105.8 265.5 105.9 265.9 105.9 266.3 106.0 266.6 106.0 266.6 106.1 266.6 106.1 266.7 106.2 267.1 106.2 267.7 106.3 267.9 106.3 267.9 106.4 268.0 106.4 268.3 106.4 268.9 106.5 269.4 106.5 269.7 106.6 269.8 106.6 270.0 106.7 270.4 106.7 270.7 106.8 271.2 106.8 271.7 106.9 272.2 106.9 272.3 107.0 272.6 107.0 272.6 107.1 272.6 107.1 272.7 107.2 273.0 107.2 273.5 107.3 273.9 107.3 274.4 107.4 274.8 107.4 274.8 107.4 274.9 107.5 275.1 107.5 275.8 107.6 276.4 107.6 277.0 107.7 277.6 107.7 278.0 107.8 278.3 107.8 278.3 107.9 278.4 107.9 278.4 108.0 278.5 108.0 278.7 108.1 279.0 108.1 279.5 108.2 280.5 108.2 281.3 108.3 281.7 108.3 281.7 108.3 282.0 108.4 282.7 108.4 283.5 108.5 284.0 108.5 284.4 108.6 284.7 108.6 285.1 108.7 285.4 108.7 285.9 108.8 286.3 108.8 286.7 108.9 287.1 108.9 287.2 109.0 287.3 109.0 287.5 109.1 288.4 109.1 289.2 109.2 290.3 109.2 291.1 109.3 291.8 109.3 291.9 109.3 292.0 109.4 292.5 109.4 293.3 109.5 294.0 109.5 294.3 109.6 294.2 109.6 294.1 109.7 294.4 109.7 295.3 109.8 296.2 109.8 296.8 109.9 297.5 109.9 298.0 110.0 298.7 110.0 298.9 110.1 299.1 110.1 298.9 110.2 299.2 110.2 299.7 110.3 300.4 110.3 301.0 110.3 301.7 110.4 302.6 110.4 303.5 110.5 304.2 110.5 304.6 110.6 304.7 110.6 304.9 110.7 305.4 110.7 306.2 110.8 307.0 110.8 307.3 110.9 307.6 110.9 307.8 111.0 308.1 111.0 308.7 111.1 309.5 111.1 310.2 111.2 310.5 111.2 311.1 111.2 311.5 111.3 311.9 111.3 311.7 111.4 312.1 111.4 312.6 111.5 313.7 111.5 314.0 111.6 314.3 111.6 314.2 111.7 314.8 111.7 315.4 111.8 316.5 111.8 317.5 111.9 318.1 111.9 318.6 112.0 318.8 112.0 319.1 112.1 318.6 112.1 318.5 112.2 318.5 112.2 318.1 112.2 317.8 112.3 317.5 112.3 317.3 112.4 317.1 112.4 316.9 112.5 316.7 112.5 316.0 112.6 315.5 112.6 315.0 112.7 314.8 112.7 314.5 112.8 314.0 112.8 313.5 112.9 312.6 112.9 312.1 113.0 311.5 113.0 311.3 113.1 311.0 113.1 310.7 113.2 310.3 113.2 309.7 113.2 309.3 113.3 309.0 113.3 308.9 113.4 308.7 113.4 308.0 113.5 307.6 113.5 307.2 113.6 307.3 113.6 307.0 113.7 306.9 113.7 306.7 113.8 306.6 113.8 306.0 113.9 305.4 113.9 305.1 114.0 305.1 114.0 304.9 114.1 304.4 114.1 303.9 114.2 303.4 114.2 302.9 114.2 302.5 114.3 301.8 114.3 301.5 114.4 301.3 114.4 301.5 114.5 300.9 114.5 300.3 114.6 299.4 114.6 299.0 114.7 298.5 114.7 298.1 114.8 297.3 114.8 296.9 114.9 296.8 114.9 297.1 115.0 297.3 115.0 296.9 115.1 296.3 115.1 295.6 115.1 295.4 115.2 295.4 115.2 294.8 115.3 294.6 115.3 294.2 115.4 294.2 115.4 293.5 115.5 293.1 115.5 292.7 115.6 292.6 115.6 292.5 115.7 292.1 115.7 291.2 115.8 290.5 115.8 290.2 115.9 290.4 115.9 290.4 116.0 290.2 116.0 289.6 116.1 289.1 116.1 288.8 116.1 288.5 116.2 288.2 116.2 287.5 116.3 286.6 116.3 285.8 116.4 285.6 116.4 285.6 116.5 285.6 116.5 285.5 116.6 285.4 116.6 285.2 116.7 284.9 116.7 284.5 116.8 284.0 116.8 283.6 116.9 283.4 116.9 283.3 117.0 283.2 117.0 283.0 117.1 282.6 117.1 282.2 117.1 281.9 117.2 281.7 117.2 281.7 117.3 281.5 117.3 281.3 117.4 281.2 117.4 280.9 117.5 280.6 117.5 280.0 117.6 279.6 117.6 279.3 117.7 279.1 117.7 278.9 117.8 278.7 117.8 278.3 117.9 278.1 117.9 277.8 118.0 277.5 118.0 277.1 118.0 276.8 118.1 276.4 118.1 276.4 118.2 276.1 118.2 275.9 118.3 275.4 118.3 275.0 118.4 274.8 118.4 274.6 118.5 274.4 118.5 274.1 118.6 273.7 118.6 273.7 118.7 273.6 118.7 273.3 118.8 272.7 118.8 272.3 118.9 272.3 118.9 272.3 119.0 272.2 119.0 272.3 119.0 272.4 119.1 272.6 119.1 272.5 119.2 272.6 119.2 272.2 119.3 271.7 119.3 271.2 119.4 270.7 119.4 270.0 119.5 269.5 119.5 269.4 119.6 269.7 119.6 270.0 119.7 270.1 119.7 269.8 119.8 269.5 119.8 269.2 119.9 269.0 119.9 268.9 120.0 268.9 120.0 268.6 120.0 268.2 120.1 268.0 120.1 267.9 120.2 267.9 120.2 268.1 120.3 268.4 120.3 268.5 120.4 268.5 120.4 268.1 120.5 268.2 120.5 268.2 120.6 268.4 120.6 268.4 120.7 268.6 120.7 268.7 120.8 268.5 120.8 268.0 120.9 267.7 120.9 267.5 121.0 267.4 121.0 267.6 121.0 267.7 121.1 267.8 121.1 267.4 121.2 266.9 121.2 266.4 121.3 266.1 121.3 266.1 121.4 266.1 121.4 266.2 121.5 266.4 121.5 266.5 121.6 266.2 121.6 266.0 121.7 266.1 121.7 266.3 121.8 266.3 121.8 266.3 121.9 266.2 121.9 266.4 121.9 266.6 122.0 267.0 122.0 267.1 122.1 267.0 122.1 267.1 122.2 267.5 122.2 267.9 122.3 268.1 122.3 268.3 122.4 268.4 122.4 268.4 122.5 268.1 122.5 268.1 122.6 268.1 122.6 268.3 122.7 268.2 122.7 268.5 122.8 268.8 122.8 269.2 122.9 269.5 122.9 269.5 122.9 269.6 123.0 269.7 123.0 270.0 123.1 270.3 123.1 270.3 123.2 270.5 123.2 270.7 123.3 270.8 123.3 270.6 123.4 270.1 123.4 270.0 123.5 270.2 123.5 270.6 123.6 270.9 123.6 271.4 123.7 272.0 123.7 272.4 123.8 272.8 123.8 273.4 123.9 274.2 123.9 274.6 123.9 274.8 124.0 274.9 124.0 275.0 124.1 275.0 124.1 275.1 124.2 275.3 124.2 275.7 124.3 276.0 124.3 276.6 124.4 276.8 124.4 277.0 124.5 277.1 124.5 277.6 124.6 278.0 124.6 278.2 124.7 278.6 124.7 279.1 124.8 279.7 124.8 279.6 124.8 279.3 124.9 279.2 124.9 279.4 125.0 279.5 125.0 279.7 125.1 280.1 125.1 280.7 125.2 281.0 125.2 281.2 125.3 281.7 125.3 282.0 125.4 282.1 125.4 282.1 125.5 282.4 125.5 283.3 125.6 284.1 125.6 284.9 125.7 285.1 125.7 285.4 125.8 285.8 125.8 286.5 125.8 287.2 125.9 287.8 125.9 288.2 126.0 288.7 126.0 289.1 126.1 289.9 126.1 290.2 126.2 290.5 126.2 290.2 126.3 290.0 126.3 290.0 126.4 290.6 126.4 291.7 126.5 292.7 126.5 293.4 126.6 293.8 126.6 294.4 126.7 294.8 126.7 295.4 126.8 295.6 126.8 296.0 126.8 296.1 126.9 296.4 126.9 296.8 127.0 297.3 127.0 298.1 127.1 298.6 127.1 298.7 127.2 298.3 127.2 297.8 127.3 297.8 127.3 298.4 127.4 299.0 127.4 299.6 127.5 300.1 127.5 300.8 127.6 301.5 127.6 302.2 127.7 302.7 127.7 303.5 127.8 304.1 127.8 304.3 127.8 304.3 127.9 304.5 127.9 305.0 128.0 305.4 128.0 305.9 128.1 306.6 128.1 307.2 128.2 307.4 128.2 307.7 128.3 307.9 128.3 308.3 128.4 308.8 128.4 309.6 128.5 310.0 128.5 310.7 128.6 311.4 128.6 312.4 128.7 312.8 128.7 312.9 128.7 312.7 128.8 313.2 128.8 313.6 128.9 314.4 128.9 314.9 129.0 315.4 129.0 316.0 129.1 316.9 129.1 317.8 129.2 318.7 129.2 319.2 129.3 319.5 129.3 319.5 129.4 319.2 129.4 319.2 129.5 319.7 129.5 320.4 129.6 320.0 129.6 319.5 129.7 318.6 129.7 317.7 129.7 317.0 129.8 316.1 129.8 315.2 129.9 313.8 129.9 312.7 130.0 311.6 130.0 310.6 130.1 309.4 130.1 308.3 130.2 307.3 130.2 306.4 130.3 305.9 130.3 305.4 130.4 305.0 130.4 304.1 130.5 303.4 130.5 302.4 130.6 301.4 130.6 300.5 130.7 300.2 130.7 299.8 130.7 299.0 130.8 298.1 130.8 297.1 130.9 296.3 130.9 295.3 131.0 294.5 131.0 293.5 131.1 292.6 131.1 291.1 131.2 290.0 131.2 289.2 131.3 289.0 131.3 288.4 131.4 287.8 131.4 287.1 131.5 286.5 131.5 285.9 131.6 285.3 131.6 284.7 131.7 284.3 131.7 283.8 131.7 283.3 131.8 282.4 131.8 281.3 131.9 280.5 131.9 279.9 132.0 279.1 132.0 278.0 132.1 276.9 132.1 276.2 132.2 275.6 132.2 275.0 132.3 274.4 132.3 274.1 132.4 273.3 132.4 272.4 132.5 271.3 132.5 270.7 132.6 269.9 132.6 269.5 132.6 269.0 132.7 268.3 132.7 267.4 132.8 266.7 132.8 266.4 132.9 266.1 132.9 265.5 133.0 265.1 133.0 264.9 133.1 264.9 133.1 264.6 133.2 264.1 133.2 263.4 133.3 262.7 133.3 262.0 133.4 261.8 133.4 261.4 133.5 260.9 133.5 260.2 133.6 259.7 133.6 259.5 133.6 259.1 133.7 259.0 133.7 258.9 133.8 258.9 133.8 258.6 133.9 258.4 133.9 258.2 134.0 258.2 134.0 258.1 134.1 258.0 134.1 258.1 134.2 258.1 134.2 257.9 134.3 257.8 134.3 257.7 134.4 257.7 134.4 257.7 134.5 257.6 134.5 257.8 134.6 257.7 134.6 257.3 134.6 256.5 134.7 256.2 134.7 256.2 134.8 256.5 134.8 256.6 134.9 256.6 134.9 256.8 135.0 256.8 135.0 257.0 135.1 256.8 135.1 256.8 135.2 256.9 135.2 257.1 135.3 257.2 135.3 257.1 135.4 257.1 135.4 257.2 135.5 257.6 135.5 257.9 135.5 257.9 135.6 257.5 135.6 257.4 135.7 257.3 135.7 257.3 135.8 257.5 135.8 257.7 135.9 257.7 135.9 257.8 136.0 257.6 136.0 257.8 136.1 257.9 136.1 257.9 136.2 257.9 136.2 257.9 136.3 258.2 136.3 258.2 136.4 257.9 136.4 257.7 136.5 257.6 136.5 257.7 136.5 257.7 136.6 257.8 136.6 257.9 136.7 258.0 136.7 258.2 136.8 258.4 136.8 258.4 136.9 258.4 136.9 258.5 137.0 258.5 137.0 258.3 137.1 258.0 137.1 257.8 137.2 257.6 137.2 257.3 137.3 257.4 137.3 257.4 137.4 257.8 137.4 257.7 137.5 257.5 137.5 257.6 137.5 258.1 137.6 258.6 137.6 258.6 137.7 258.4 137.7 258.3 137.8 258.3 137.8 258.4 137.9 258.4 137.9 258.4 138.0 258.8 138.0 258.9 138.1 259.4 138.1 259.2 138.2 259.3 138.2 259.3 138.3 259.4 138.3 259.6 138.4 259.7 138.4 260.1 138.5 260.3 138.5 260.2 138.5 259.8 138.6 259.5 138.6 259.3 138.7 259.2 138.7 259.2 138.8 259.3 138.8 259.2 138.9 259.2 138.9 259.3 139.0 259.5 139.0 259.7 139.1 259.9 139.1 259.9 139.2 259.9 139.2 259.8 139.3 260.0 139.3 260.0 139.4 260.0 139.4 260.0 139.4 259.8 139.5 259.6 139.5 259.2 139.6 259.0 139.6 259.1 139.7 259.4 139.7 259.8 139.8 259.9 139.8 260.0 139.9 260.1 139.9 260.5 140.0 260.8 140.0 261.3 140.1 261.4 140.1 261.5 140.2 261.4 140.2 261.4 140.3 261.3 140.3 261.3 140.4 261.5 140.4 261.9 140.4 262.2 140.5 262.4 140.5 262.1 140.6 261.8 140.6 261.3 140.7 261.4 140.7 261.3 140.8 261.4 140.8 261.2 140.9 261.1 140.9 260.7 141.0 260.4 141.0 260.2 141.1 260.5 141.1 260.7 141.2 260.8 141.2 260.7 141.3 260.7 141.3 260.4 141.4 260.6 141.4 260.8 141.4 261.0 141.5 261.0 141.5 261.0 141.6 261.2 141.6 261.5 141.7 261.6 141.7 261.2 141.8 260.6 141.8 260.4 141.9 260.7 141.9 261.1 142.0 261.1 142.0 261.3 142.1 261.7 142.1 262.2 142.2 262.4 142.2 262.6 142.3 263.1 142.3 264.0 142.3 264.8 142.4 265.6 142.4 266.0 142.5 266.4 142.5 266.4 142.6 266.3 142.6 266.1 142.7 266.4 142.7 266.8 142.8 267.2 142.8 267.6 142.9 268.2 142.9 269.0 143.0 269.8 143.0 270.1 143.1 270.9 143.1 271.4 143.2 272.2 143.2 272.6 143.3 272.7 143.3 272.9 143.3 273.2 143.4 273.3 143.4 273.9 143.5 274.4 143.5 275.2 143.6 275.6 143.6 275.9 143.7 276.3 143.7 276.9 143.8 277.3 143.8 277.5 143.9 277.8 143.9 278.0 144.0 277.9 144.0 278.1 144.1 278.7 144.1 279.2 144.2 279.3 144.2 279.5 144.3 280.3 144.3 281.2 144.3 282.0 144.4 282.9 144.4 283.4 144.5 283.9 144.5 284.4 144.6 285.3 144.6 286.0 144.7 286.7 144.7 287.2 144.8 287.5 144.8 287.7 144.9 287.8 144.9 288.2 145.0 288.7 145.0 289.3 145.1 290.0 145.1 290.6 145.2 291.3 145.2 291.7 145.3 292.2 145.3 292.7 145.3 293.6 145.4 294.5 145.4 295.2 145.5 295.9 145.5 296.2 145.6 296.8 145.6 297.7 145.7 298.8 145.7 300.0 145.8 300.7 145.8 301.0 145.9 300.9 145.9 301.3 146.0 302.1 146.0 302.6 146.1 302.9 146.1 303.1 146.2 303.6 146.2 303.7 146.2 303.8 146.3 304.2 146.3 305.0 146.4 306.0 146.4 307.1 146.5 308.3 146.5 308.7 146.6 308.7 146.6 308.4 146.7 308.1 146.7 307.1 146.8 306.4 146.8 305.8 146.9 305.8 146.9 305.4 147.0 304.8 147.0 304.3 147.1 304.1 147.1 304.3 147.2 304.4 147.2 304.2 147.2 303.5 147.3 303.0 147.3 302.6 147.4 302.2 147.4 301.6 147.5 301.0 147.5 300.6 147.6 300.6 147.6 300.6 147.7 300.1 147.7 299.7 147.8 299.1 147.8 298.9 147.9 298.3 147.9 297.8 148.0 297.4 148.0 296.9 148.1 296.3 148.1 296.1 148.2 295.9 148.2 295.7 148.2 295.2 148.3 294.7 148.3 294.0 148.4 293.1 148.4 292.4 148.5 291.8 148.5 291.2 148.6 290.4 148.6 289.6 148.7 289.1 148.7 288.9 148.8 288.8 148.8 288.8 148.9 288.6 148.9 288.6 149.0 288.3 149.0 288.3 149.1 288.3 149.1 288.1 149.1 287.4 149.2 286.4 149.2 285.7 149.3 285.2 149.3 285.0 149.4 284.8 149.4 284.5 149.5 283.9 149.5 283.1 149.6 282.5 149.6 282.2 149.7 282.4 149.7 282.7 149.8 282.7 149.8 282.2 149.9 281.5 149.9 281.0 150.0 280.6 150.0 280.0 150.1 279.3 150.1 279.0 150.1 278.9 150.2 278.6 150.2 278.1 150.3 277.3 150.3 276.6 150.4 275.9 150.4 275.2 150.5 274.7 150.5 274.7 150.6 274.9 150.6 275.0 150.7 274.7 150.7 274.3 150.8 274.0 150.8 273.8 150.9 273.5 150.9 273.0 151.0 272.4 151.0 271.9 151.1 271.5 151.1 271.0 151.1 271.1 151.2 271.4 151.2 271.6 151.3 271.5 151.3 271.2 151.4 270.6 151.4 270.0 151.5 269.7 151.5 269.3 151.6 268.9 151.6 268.6 151.7 268.6 151.7 268.3 151.8 268.0 151.8 267.6 151.9 267.4 151.9 267.2 152.0 267.0 152.0 266.7 152.1 266.3 152.1 266.0 152.1 265.8 152.2 265.1 152.2 264.6 152.3 264.0 152.3 264.0 152.4 263.8 152.4 263.7 152.5 263.4 152.5 262.9 152.6 262.6 152.6 262.5 152.7 262.7 152.7 262.7 152.8 262.5 152.8 262.0 152.9 261.6 152.9 261.2 153.0 260.8 153.0 260.6 153.0 260.7 153.1 261.1 153.1 261.6 153.2 261.5 153.2 261.3 153.3 260.7 153.3 260.4 153.4 259.8 153.4 259.3 153.5 259.0 153.5 259.1 153.6 259.2 153.6 259.2 153.7 259.2 153.7 259.2 153.8 259.0 153.8 259.0 153.9 258.9 153.9 259.1 154.0 259.0 154.0 258.8 154.0 258.6 154.1 258.3 154.1 258.4 154.2 258.2 154.2 258.3 154.3 258.1 154.3 258.0 154.4 258.2 154.4 258.5 154.5 258.8 154.5 258.3 154.6 257.9 154.6 257.5 154.7 257.7 154.7 257.6 154.8 257.3 154.8 257.0 154.9 256.9 154.9 257.4 155.0 257.6 155.0 257.3 155.0 256.8 155.1 256.4 155.1 256.4 155.2 256.6 155.2 256.8 155.3 257.2 155.3 257.4 155.4 257.7 155.4 257.6 155.5 257.4 155.5 257.4 155.6 257.5 155.6 257.9 155.7 258.3 155.7 258.5 155.8 258.7 155.8 259.1 155.9 259.3 155.9 259.6 156.0 259.8 156.0 260.2 156.0 260.2 156.1 260.0 156.1 259.3 156.2 259.1 156.2 259.2 156.3 259.4 156.3 259.4 156.4 259.4 156.4 259.3 156.5 259.3 156.5 259.4 156.6 260.0 156.6 260.3 156.7 260.4 156.7 260.5 156.8 260.8 156.8 261.1 156.9 261.0 156.9 260.9 156.9 260.9 157.0 261.0 157.0 261.2 157.1 261.5 157.1 261.9 157.2 262.0 157.2 262.4 157.3 262.8 157.3 263.0 157.4 262.6 157.4 262.7 157.5 262.5 157.5 262.8 157.6 262.6 157.6 262.8 157.7 262.6 157.7 262.7 157.8 263.1 157.8 263.6 157.9 264.1 157.9 264.7 157.9 264.9 158.0 264.8 158.0 264.2 158.1 264.4 158.1 264.5 158.2 264.7 158.2 264.5 158.3 264.6 158.3 265.2 158.4 266.0 158.4 266.9 158.5 267.8 158.5 268.4 158.6 268.7 158.6 268.8 158.7 268.9 158.7 268.7 158.8 268.3 158.8 268.1 158.9 268.2 158.9 268.6 158.9 269.0 159.0 269.4 159.0 269.9 159.1 270.3 159.1 271.0 159.2 271.4 159.2 271.4 159.3 271.4 159.3 271.5 159.4 272.1 159.4 272.6 159.5 273.3 159.5 273.5 159.6 273.1 159.6 272.7 159.7 272.8 159.7 273.2 159.8 273.8 159.8 274.0 159.8 274.3 159.9 274.5 159.9 274.7 160.0 275.2 160.0 275.7 160.1 276.5 160.1 277.1 160.2 277.9 160.2 278.2 160.3 278.6 160.3 278.8 160.4 278.9 160.4 279.1 160.5 279.5 160.5 280.1 160.6 280.3 160.6 280.1 160.7 279.7 160.7 279.7 160.8 279.8 160.8 280.4 160.8 280.6 160.9 281.2 160.9 282.0 161.0 282.4 161.0 282.4 161.1 282.2 161.1 282.6 161.2 283.3 161.2 283.6 161.3 284.3 161.3 284.9 161.4 285.4 161.4 285.6 161.5 285.4 161.5 285.5 161.6 285.3 161.6 285.5 161.7 285.8 161.7 286.8 161.8 287.8 161.8 288.3 161.8 288.7 161.9 288.7 161.9 289.1 162.0 289.4 162.0 289.9 162.1 290.5 162.1 290.9 162.2 291.1 162.2 291.1 162.3 291.2 162.3 291.7 162.4 292.2 162.4 292.6 162.5 292.6 162.5 292.2 162.6 291.9 162.6 292.0 162.7 292.7 162.7 293.5 162.8 294.4 162.8 295.4 162.8 296.0 162.9 296.5 162.9 296.6 163.0 296.8 163.0 297.0 163.1 297.6 163.1 297.7 163.2 297.7 163.2 297.3 163.3 297.2 163.3 297.1 163.4 297.5 163.4 297.9 163.5 298.0 163.5 298.4 163.6 298.7 163.6 299.2 163.7 299.3 163.7 299.6 163.7 299.9 163.8 300.5 163.8 300.4 163.9 300.5 163.9 300.5 164.0 300.6 164.0 300.4 164.1 300.0 164.1 299.4 164.2 299.0 164.2 298.3 164.3 297.6 164.3 296.5 164.4 296.0 164.4 295.9 164.5 295.7 164.5 295.2 164.6 295.1 164.6 294.9 164.7 294.2 164.7 293.5 164.7 292.9 164.8 292.9 164.8 292.4 164.9 291.9 164.9 291.7 165.0 291.4 165.0 291.1 165.1 290.5 165.1 290.2 165.2 290.0 165.2 289.9 165.3 289.3 165.3 289.0 165.4 288.4 165.4 288.4 165.5 288.0 165.5 287.8 165.6 287.8 165.6 287.8 165.7 287.9 165.7 287.5 165.7 286.8 165.8 286.2 165.8 285.8 165.9 285.4 165.9 284.9 166.0 283.9 166.0 283.3 166.1 282.9 166.1 282.9 166.2 282.6 166.2 281.9 166.3 281.4 166.3 281.1 166.4 281.0 166.4 280.9 166.5 280.4 166.5 280.0 166.6 279.7 166.6 279.8 166.6 279.6 166.7 279.1 166.7 278.6 166.8 278.4 166.8 278.3 166.9 278.3 166.9 278.4 167.0 278.2 167.0 277.8 167.1 277.2 167.1 276.5 167.2 275.8 167.2 275.2 167.3 274.6 167.3 274.0 167.4 273.6 167.4 273.5 167.5 273.3 167.5 273.2 167.6 273.2 167.6 273.2 167.6 273.3 167.7 273.3 167.7 273.2 167.8 272.9 167.8 272.8 167.9 272.6 167.9 272.4 168.0 271.8 168.0 271.5 168.1 271.0 168.1 270.8 168.2 270.5 168.2 270.0 168.3 269.5 168.3 269.2 168.4 268.8 168.4 268.5 168.5 268.1 168.5 267.9 168.6 267.5 168.6 267.4 168.6 267.4 168.7 267.7 168.7 267.6 168.8 267.5 168.8 267.3 168.9 266.8 168.9 266.5 169.0 266.0 169.0 265.5 169.1 265.1 169.1 264.7 169.2 264.1 169.2 263.5 169.3 263.1 169.3 263.0 169.4 263.1 169.4 262.9 169.5 262.5 169.5 262.2 169.6 262.0 169.6 261.7 169.6 261.3 169.7 261.0 169.7 261.0 169.8 260.9 169.8 260.9 169.9 260.4 169.9 259.9 170.0 259.4 170.0 259.4 170.1 259.3 170.1 259.0 170.2 258.6 170.2 257.9 170.3 257.4 170.3 256.8 170.4 256.5 170.4 256.2 170.5 256.3 170.5 256.4 170.5 256.5 170.6 256.3 170.6 256.4 170.7 256.3 170.7 256.1 170.8 255.7 170.8 255.5 170.9 255.2 170.9 254.8 171.0 254.7 171.0 254.5 171.1 254.4 171.1 254.0 171.2 253.6 171.2 253.4 171.3 253.3 171.3 253.1 171.4 252.6 171.4 252.3 171.5 251.7 171.5 251.3 171.5 251.1 171.6 251.0 171.6 251.3 171.7 251.7 171.7 252.2 171.8 252.5 171.8 252.5 171.9 252.3 171.9 252.1 172.0 252.3 172.0 252.2 172.1 252.3 172.1 252.2 172.2 252.3 172.2 252.3 172.3 252.3 172.3 252.4 172.4 252.4 172.4 252.0 172.5 251.5 172.5 251.3 172.5 251.3 172.6 251.6 172.6 251.5 172.7 251.6 172.7 251.4 172.8 251.4 172.8 251.1 172.9 251.1 172.9 250.9 173.0 250.5 173.0 250.2 173.1 250.0 173.1 249.8 173.2 249.6 173.2 249.5 173.3 249.4 173.3 249.5 173.4 249.5 173.4 249.8 173.4 250.2 173.5 250.3 173.5 250.4 173.6 250.4 173.6 250.5 173.7 250.3 173.7 250.5 173.8 250.8 173.8 250.9 173.9 250.8 173.9 250.7 174.0 251.1 174.0 251.1 174.1 251.3 174.1 250.9 174.2 251.1 174.2 251.0 174.3 251.0 174.3 250.7 174.4 250.7 174.4 250.8 174.4 250.7 174.5 250.5 174.5 250.5 174.6 250.8 174.6 251.1 174.7 251.0 174.7 250.6 174.8 250.4 174.8 250.6 174.9 250.8 174.9 250.7 175.0 250.3 175.0 250.0 175.1 250.1 175.1 250.3 175.2 250.8 175.2 251.3 175.3 251.4 175.3 251.4 175.4 250.9 175.4 250.7 175.4 250.5 175.5 250.6 175.5 250.4 175.6 250.2 175.6 250.2 175.7 250.5 175.7 250.6 175.8 250.5 175.8 250.6 175.9 250.8 175.9 250.8 176.0 250.8 176.0 251.2 176.1 251.8 176.1 252.2 176.2 252.4 176.2 252.4 176.3 252.5 176.3 252.8 176.4 253.3 176.4 253.7 176.4 253.7 176.5 253.8 176.5 254.1 176.6 254.7 176.6 255.2 176.7 255.7 176.7 256.4 176.8 256.9 176.8 257.3 176.9 257.5 176.9 258.0 177.0 258.6 177.0 259.2 177.1 259.6 177.1 259.8 177.2 260.1 177.2 260.3 177.3 260.8 177.3 261.0 177.3 261.3 177.4 261.4 177.4 261.7 177.5 261.8 177.5 262.1 177.6 262.1 177.6 262.5 177.7 262.5 177.7 262.7 177.8 262.8 177.8 263.4 177.9 263.6 177.9 264.1 178.0 264.6 178.0 264.8 178.1 265.0 178.1 265.1 178.2 265.2 178.2 265.4 178.3 265.8 178.3 266.4 178.3 267.2 178.4 267.6 178.4 267.9 178.5 268.1 178.5 268.7 178.6 269.3 178.6 269.8 178.7 270.4 178.7 270.8 178.8 271.5 178.8 272.1 178.9 272.8 178.9 273.1 179.0 273.3 179.0 273.7 179.1 273.9 179.1 274.3 179.2 274.6 179.2 275.2 179.3 276.0 179.3 276.5 179.3 276.9 179.4 277.1 179.4 277.2 179.5 277.1 179.5 276.9 179.6 277.0 179.6 277.7 179.7 278.3 179.7 278.8 179.8 278.9 179.8 279.3 179.9 279.5 179.9 279.9 180.0 280.1 180.0 280.5 180.1 281.1 180.1 281.7 180.2 282.3 180.2 282.7 180.3 283.3 180.3 283.6 180.3 284.1 180.4 284.4 180.4 285.0 180.5 285.7 180.5 286.1 180.6 286.5 180.6 287.2 180.7 288.3 180.7 289.3 180.8 289.5 180.8 289.6 180.9 289.6 180.9 290.3 181.0 291.0 181.0 291.6 181.1 291.7 181.1 292.1 181.2 292.6 181.2 293.4 181.2 294.2 181.3 295.0 181.3 295.9 181.4 296.9 181.4 297.7 181.5 298.3 181.5 297.7 181.6 297.2 181.6 296.6 181.7 295.9 181.7 294.7 181.8 293.8 181.8 293.1 181.9 292.5 181.9 292.2 182.0 291.8 182.0 291.5 182.1 291.1 182.1 290.4 182.2 289.7 182.2 289.1 182.2 288.8 182.3 288.3 182.3 288.0 182.4 287.7 182.4 287.4 182.5 286.9 182.5 286.4 182.6 285.9 182.6 285.0 182.7 283.9 182.7 282.7 182.8 282.2 182.8 281.4 182.9 280.8 182.9 280.2 183.0 279.9 183.0 279.6 183.1 278.9 183.1 278.4 183.2 277.5 183.2 277.1 183.2 276.6 183.3 276.6 183.3 276.0 183.4 275.6 183.4 275.0 183.5 274.6 183.5 273.8 183.6 273.3 183.6 273.1 183.7 273.2 183.7 272.9 183.8 272.5 183.8 271.9 183.9 271.5 183.9 271.0 184.0 270.7 184.0 270.1 184.1 269.2 184.1 268.6 184.1 268.1 184.2 268.0 184.2 267.3 184.3 266.8 184.3 266.3 184.4 266.1 184.4 265.5 184.5 264.9 184.5 264.2 184.6 263.6 184.6 263.1 184.7 262.8 184.7 262.5 184.8 262.0 184.8 261.3 184.9 260.6 184.9 259.8 185.0 259.3 185.0 259.1 185.1 258.7 185.1 257.9 185.1 257.3 185.2 257.1 185.2 257.2 185.3 257.0 185.3 256.9 185.4 256.6 185.4 256.3 185.5 256.0 185.5 255.5 185.6 254.9 185.6 254.2 185.7 253.7 185.7 252.9 185.8 252.3 185.8 251.9 185.9 251.7 185.9 251.1 186.0 250.5 186.0 250.1 186.1 249.9 186.1 249.6 186.1 249.1 186.2 248.4 186.2 247.6 186.3 247.2 186.3 247.0 186.4 247.2 186.4 247.1 186.5 247.0 186.5 246.2 186.6 245.5 186.6 245.3 186.7 245.6 186.7 245.7 186.8 245.5 186.8 245.4 186.9 245.2 186.9 244.8 187.0 244.4 187.0 244.0 187.1 243.7 187.1 243.4 187.1 243.0 187.2 243.0 187.2 243.0 187.3 242.8 187.3 242.6 187.4 242.2 187.4 241.9 187.5 241.5 187.5 241.1 187.6 241.0 187.6 240.6 187.7 240.2 187.7 239.6 187.8 239.6 187.8 239.9 187.9 239.9 187.9 239.4 188.0 238.8 188.0 238.3 188.0 238.2 188.1 238.2 188.1 238.3 188.2 238.2 188.2 238.3 188.3 238.3 188.3 238.0 188.4 237.8 188.4 237.9 188.5 238.2 188.5 238.2 188.6 238.4 188.6 238.5 188.7 238.4 188.7 238.0 188.8 237.6 188.8 237.3 188.9 237.1 188.9 237.2 189.0 237.5 189.0 237.7 189.0 237.8 189.1 237.8 189.1 237.8 189.2 237.6 189.2 237.3 189.3 236.9 189.3 236.8 189.4 236.8 189.4 236.7 189.5 236.8 189.5 236.6 189.6 236.9 189.6 237.1 189.7 237.8 189.7 238.2 189.8 238.4 189.8 238.2 189.9 238.1 189.9 238.1 190.0 238.4 190.0 238.7 190.0 239.1 190.1 239.4 190.1 239.8 190.2 239.9 190.2 240.0 190.3 240.0 190.3 240.2 190.4 240.6 190.4 240.5 190.5 240.6 190.5 240.3 190.6 240.3 190.6 240.2 190.7 240.6 190.7 240.8 190.8 240.8 190.8 240.8 190.9 241.0 190.9 241.3 190.9 241.4 191.0 241.2 191.0 241.4 191.1 241.5 191.1 242.2 191.2 242.3 191.2 242.7 191.3 243.1 191.3 243.9 191.4 244.4 191.4 244.2 191.5 244.2 191.5 244.2 191.6 244.5 191.6 244.5 191.7 244.6 191.7 244.7 191.8 245.0 191.8 245.3 191.9 245.7 191.9 246.2 191.9 246.7 192.0 247.0 192.0 247.5 192.1 247.6 192.1 247.9 192.2 247.9 192.2 248.3 192.3 248.9 192.3 249.3 192.4 249.4 192.4 249.6 192.5 249.7 192.5 250.0 192.6 250.4 192.6 251.1 192.7 251.6 192.7 252.0 192.8 252.2 192.8 252.4 192.9 252.6 192.9 253.1 192.9 253.8 193.0 254.8 193.0 254.9 193.1 254.8 193.1 254.6 193.2 254.7 193.2 255.4 193.3 255.8 193.3 256.1 193.4 256.2 193.4 256.6 193.5 256.8 193.5 257.5 193.6 257.8 193.6 258.3 193.7 258.4 193.7 258.8 193.8 259.5 193.8 260.4 193.9 260.9 193.9 261.1 193.9 261.5 194.0 261.8 194.0 262.3 194.1 262.4 194.1 262.6 194.2 262.7 194.2 262.9 194.3 263.1 194.3 263.5 194.4 263.7 194.4 264.4 194.5 264.9 194.5 265.8 194.6 266.2 194.6 267.0 194.7 268.0 194.7 268.9 194.8 269.6 194.8 269.8 194.8 270.2 194.9 270.3 194.9 270.5 195.0 270.6 195.0 271.1 195.1 271.8 195.1 272.6 195.2 273.3 195.2 273.7 195.3 274.0 195.3 274.5 195.4 275.0 195.4 275.6 195.5 275.9 195.5 275.9 195.6 275.7 195.6 275.8 195.7 276.6 195.7 277.7 195.8 278.8 195.8 279.4 195.8 279.8 195.9 279.8 195.9 280.3 196.0 280.6 196.0 280.6 196.1 280.8 196.1 281.2 196.2 282.0 196.2 282.4 196.3 282.9 196.3 283.5 196.4 284.5 196.4 285.4 196.5 285.8 196.5 285.6 196.6 285.4 196.6 285.3 196.7 285.8 196.7 286.4 196.8 287.1 196.8 287.8 196.8 288.4 196.9 288.5 196.9 289.1 197.0 289.4 197.0 290.0 197.1 290.4 197.1 290.8 197.2 291.1 197.2 291.3 197.3 291.5 197.3 291.9 197.4 292.7 197.4 293.1 197.5 293.3 197.5 292.7 197.6 291.8 197.6 291.8 197.7 291.8 197.7 292.1 197.7 292.0 197.8 291.6 197.8 291.2 197.9 290.7 197.9 290.8 198.0 290.6 198.0 290.3 198.1 289.7 198.1 289.3 198.2 288.5 198.2 287.9 198.3 287.5 198.3 287.5 198.4 287.0 198.4 285.8 198.5 284.7 198.5 284.1 198.6 284.1 198.6 283.8 198.7 283.5 198.7 282.8 198.7 282.1 198.8 281.3 198.8 280.8 198.9 280.4 198.9 279.7 199.0 279.4 199.0 279.0 199.1 279.0 199.1 278.7 199.2 278.7 199.2 278.5 199.3 278.2 199.3 278.2 199.4 278.3 199.4 277.7 199.5 276.6 199.5 275.3 199.6 274.4 199.6 274.0 199.7 273.8 199.7 273.6 199.7 273.5 199.8 273.5 199.8 273.4 199.9 273.0 199.9 272.7 200.0 272.3 200.0 271.8 200.1 271.0 200.1 270.4 200.2 269.9 200.2 269.5 200.3 269.2 200.3 268.9 200.4 268.6 200.4 268.2 200.5 267.5 200.5 266.7 200.6 266.3 200.6 266.2 200.7 266.2 200.7 265.8 200.7 265.5 200.8 265.1 200.8 264.6 200.9 264.0 200.9 263.6 201.0 263.2 201.0 262.6 201.1 261.9 201.1 261.4 201.2 261.3 201.2 260.8 201.3 260.5 201.3 260.2 201.4 260.1 201.4 260.0 201.5 259.7 201.5 259.3 201.6 258.7 201.6 258.4 201.6 258.6 201.7 258.7 201.7 258.8 201.8 258.2 201.8 257.5 201.9 256.6 201.9 255.9 202.0 255.5 202.0 255.2 202.1 254.9 202.1 254.7 202.2 254.5 202.2 254.1 202.3 253.5 202.3 252.8 202.4 252.4 202.4 252.0 202.5 251.8 202.5 251.4 202.6 251.0 202.6 250.5 202.6 250.2 202.7 250.2 202.7 249.9 202.8 249.5 202.8 249.1 202.9 248.7 202.9 248.2 203.0 247.6 203.0 247.3 203.1 246.9 203.1 246.5 203.2 246.0 203.2 246.0 203.3 246.1 203.3 246.5 203.4 246.5 203.4 246.2 203.5 245.8 203.5 245.6 203.6 245.7 203.6 245.7 203.6 245.7 203.7 245.2 203.7 244.6 203.8 243.5 203.8 242.6 203.9 242.2 203.9 242.4 204.0 243.1 204.0 243.5 204.1 243.7 204.1 243.1 204.2 242.4 204.2 241.8 204.3 241.3 204.3 241.0 204.4 240.6 204.4 240.4 204.5 240.4 204.5 240.7 204.6 240.5 204.6 240.1 204.6 239.4 204.7 239.3 204.7 239.3 204.8 239.4 204.8 239.3 204.9 239.2 204.9 239.0 205.0 238.8 205.0 238.6 205.1 238.4 205.1 238.2 205.2 238.1 205.2 238.2 205.3 238.0 205.3 237.9 205.4 237.7 205.4 237.6 205.5 237.8 205.5 237.8 205.5 237.8 205.6 237.5 205.6 237.4 205.7 237.3 205.7 237.5 205.8 237.7 205.8 237.8 205.9 237.8 205.9 237.6 206.0 237.4 206.0 237.0 206.1 236.9 206.1 236.8 206.2 236.8 206.2 236.7 206.3 236.7 206.3 236.5 206.4 236.4 206.4 236.6 206.5 236.8 206.5 236.7 206.5 236.6 206.6 236.7 206.6 236.7 206.7 236.3 206.7 236.0 206.8 235.8 206.8 235.9 206.9 236.4 206.9 236.8 207.0 237.2 207.0 236.9 207.1 236.8 207.1 236.8 207.2 237.0 207.2 237.1 207.3 237.2 207.3 237.2 207.4 237.5 207.4 237.7 207.5 237.7 207.5 237.3 207.5 236.8 207.6 236.6 207.6 236.6 207.7 236.6 207.7 236.4 207.8 236.3 207.8 236.4 207.9 236.7 207.9 237.1 208.0 237.4 208.0 237.6 208.1 237.9 208.1 238.5 208.2 239.0 208.2 239.7 208.3 239.8 208.3 239.9 208.4 239.9 208.4 239.8 208.4 239.7 208.5 239.4 208.5 239.0 208.6 238.7 208.6 238.6 208.7 238.7 208.7 239.0 208.8 239.0 208.8 239.0 208.9 239.2 208.9 239.5 209.0 240.0 209.0 240.4 209.1 240.6 209.1 240.9 209.2 241.2 209.2 241.3 209.3 241.1 209.3 240.9 209.4 241.0 209.4 241.3 209.4 241.6 209.5 241.6 209.5 241.5 209.6 241.3 209.6 241.1 209.7 240.9 209.7 240.9 209.8 240.8 209.8 240.8 209.9 240.6 209.9 240.6 210.0 240.4 210.0 240.6 210.1 240.9 210.1 241.0 210.2 241.1 210.2 241.3 210.3 241.5 210.3 241.8 210.4 242.0 210.4 242.4 210.4 243.0 210.5 243.6 210.5 244.0 210.6 244.3 210.6 244.8 210.7 245.4 210.7 245.4 210.8 245.4 210.8 245.6 210.9 246.0 210.9 246.6 211.0 246.5 211.0 246.8 211.1 247.3 211.1 248.1 211.2 248.7 211.2 248.8 211.3 249.4 211.3 249.8 211.4 249.8 211.4 249.8 211.4 249.9 211.5 250.3 211.5 250.0 211.6 250.0 211.6 250.1 211.7 250.4 211.7 250.7 211.8 251.0 211.8 251.4 211.9 252.0 211.9 252.6 212.0 253.0 212.0 253.3 212.1 253.4 212.1 253.9 212.2 254.5 212.2 255.2 212.3 255.8 212.3 256.3 212.3 256.4 212.4 256.4 212.4 256.4 212.5 256.5 212.5 256.7 212.6 257.0 212.6 257.4 212.7 258.0 212.7 258.2 212.8 258.4 212.8 258.5 212.9 259.0 212.9 259.6 213.0 260.2 213.0 260.4 213.1 260.7 213.1 261.0 213.2 261.3 213.2 261.4 213.3 261.6 213.3 261.8 213.3 262.2 213.4 262.5 213.4 263.1 213.5 263.6 213.5 264.2 213.6 264.7 213.6 264.8 213.7 264.6 213.7 264.6 213.8 264.7 213.8 265.2 213.9 265.5 213.9 265.9 214.0 266.3 214.0 266.3 214.1 266.6 214.1 267.1 214.2 267.8 214.2 268.6 214.3 269.0 214.3 270.3 214.3 271.0 214.4 271.5 214.4 271.2 214.5 271.2 214.5 271.1 214.6 271.3 214.6 271.6 214.7 272.3 214.7 273.1 214.8 273.7 214.8 274.0 214.9 274.6 214.9 275.3 215.0 276.0 215.0 276.5 215.1 277.0 215.1 277.5 215.2 278.2 215.2 279.1 215.2 279.5 215.3 279.8 215.3 280.0 215.4 280.4 215.4 280.5 215.5 281.0 215.5 281.6 215.6 282.3 215.6 282.5 215.7 282.9 215.7 283.6 215.8 284.2 215.8 283.9 215.9 282.9 215.9 282.4 216.0 282.0 216.0 281.7 216.1 281.0 216.1 280.7 216.2 280.3 216.2 280.1 216.2 279.8 216.3 279.5 216.3 279.0 216.4 278.5 216.4 277.9 216.5 277.6 216.5 277.2 216.6 276.8 216.6 276.1 216.7 275.2 216.7 274.8 216.8 274.7 216.8 274.6 216.9 274.1 216.9 273.0 217.0 272.0 217.0 271.4 217.1 271.1 217.1 271.1 217.2 271.0 217.2 270.5 217.2 269.8 217.3 268.8 217.3 268.4 217.4 267.6 217.4 267.1 217.5 266.5 217.5 266.4 217.6 266.6 217.6 266.5 217.7 265.9 217.7 265.0 217.8 264.5 217.8 264.3 217.9 264.2 217.9 263.8 218.0 263.3 218.0 262.6 218.1 262.3 218.1 261.8 218.2 261.4 218.2 260.9 218.2 260.8 218.3 260.7 218.3 260.2 218.4 259.7 218.4 259.3 218.5 259.1 218.5 258.7 218.6 258.1 218.6 258.0 218.7 257.9 218.7 258.1 218.8 258.0 218.8 257.7 218.9 257.4 218.9 256.7 219.0 255.7 219.0 254.7 219.1 253.9 219.1 253.9 219.1 254.0 219.2 254.3 219.2 254.4 219.3 254.4 219.3 254.3 219.4 254.0 219.4 253.7 219.5 253.5 219.5 253.5 219.6 253.1 219.6 252.5 219.7 251.6 219.7 250.8 219.8 250.2 219.8 249.7 219.9 249.7 219.9 249.1 220.0 248.6 220.0 247.9 220.1 247.8 220.1 247.8 220.1 248.0 220.2 248.0 220.2 247.8 220.3 247.3 220.3 246.8 220.4 246.4 220.4 246.1 220.5 245.7 220.5 245.6 220.6 245.3 220.6 245.1 220.7 244.9 220.7 244.2 220.8 243.8 220.8 243.0 220.9 242.8 220.9 242.3 221.0 242.4 221.0 242.5 221.1 242.4 221.1 242.1 221.1 241.7 221.2 241.2 221.2 241.0 221.3 240.5 221.3 240.3 221.4 239.8 221.4 239.6 221.5 239.2 221.5 238.9 221.6 238.3 221.6 238.3 221.7 238.5 221.7 238.7 221.8 238.5 221.8 238.1 221.9 237.7 221.9 237.5 222.0 236.9 222.0 236.4 222.0 235.9 222.1 235.5 222.1 235.0 222.2 234.5 222.2 234.3 222.3 234.4 222.3 234.6 222.4 234.6 222.4 234.3 222.5 233.8 222.5 233.2 222.6 232.7 222.6 232.2 222.7 232.0 222.7 232.2 222.8 232.3 222.8 232.2 222.9 231.9 222.9 231.6 223.0 231.3 223.0 231.1 223.0 231.1 223.1 231.0 223.1 230.8 223.2 230.6 223.2 230.5 223.3 230.4 223.3 230.5 223.4 230.2 223.4 229.9 223.5 229.6 223.5 229.4 223.6 229.0 223.6 229.0 223.7 228.9 223.7 229.0 223.8 229.0 223.8 229.3 223.9 229.4 223.9 229.5 224.0 229.5 224.0 229.4 224.0 229.5 224.1 229.6 224.1 229.8 224.2 229.7 224.2 229.3 224.3 229.3 224.3 229.3 224.4 229.3 224.4 228.9 224.5 229.0 224.5 229.1 224.6 229.4 224.6 229.7 224.7 230.0 224.7 230.0 224.8 229.9 224.8 229.8 224.9 229.7 224.9 229.5 225.0 229.1 225.0 229.0 225.0 229.1 225.1 229.2 225.1 229.2 225.2 229.3 225.2 229.4 225.3 229.2 225.3 229.0 225.4 229.4 225.4 230.1 225.5 230.6 225.5 230.6 225.6 230.3 225.6 230.0 225.7 229.8 225.7 229.8 225.8 229.9 225.8 229.8 225.9 229.9 225.9 229.4 225.9 229.0 226.0 228.7 226.0 229.0 226.1 229.4 226.1 229.8 226.2 230.1 226.2 230.3 226.3 230.1 226.3 229.9 226.4 229.8 226.4 230.0 226.5 230.3 226.5 230.4 226.6 230.3 226.6 229.9 226.7 229.7 226.7 229.4 226.8 229.3 226.8 229.2 226.9 229.5 226.9 230.0 226.9 230.2 227.0 229.9 227.0 229.4 227.1 229.1 227.1 229.2 227.2 229.3 227.2 229.6 227.3 229.6 227.3 229.5 227.4 229.4 227.4 229.5 227.5 229.5 227.5 229.5 227.6 229.5 227.6 229.4 227.7 229.3 227.7 229.2 227.8 229.1 227.8 228.9 227.9 228.8 227.9 228.9 227.9 229.2 228.0 229.5 228.0 230.2 228.1 230.3 228.1 230.6 228.2 230.4 228.2 230.5 228.3 230.5 228.3 230.6 228.4 230.5 228.4 230.2 228.5 229.7 228.5 229.5 228.6 229.6 228.6 230.1 228.7 230.5 228.7 231.0 228.8 231.4 228.8 232.0 228.9 232.5 228.9 232.9 228.9 233.2 229.0 233.6 229.0 234.2 229.1 234.6 229.1 235.2 229.2 235.7 229.2 236.1 229.3 236.6 229.3 237.1 229.4 237.7 229.4 238.1 229.5 238.0 229.5 238.5 229.6 238.5 229.6 238.8 229.7 238.6 229.7 238.8 229.8 239.3 229.8 240.0 229.8 240.4 229.9 241.1 229.9 241.6 230.0 242.1 230.0 242.5 230.1 242.9 230.1 243.5 230.2 244.1 230.2 244.3 230.3 244.6 230.3 245.0 230.4 245.5 230.4 246.3 230.5 246.7 230.5 247.2 230.6 247.6 230.6 247.8 230.7 248.2 230.7 248.3 230.8 248.7 230.8 248.8 230.8 249.3 230.9 249.8 230.9 250.7 231.0 251.2 231.0 251.5 231.1 251.3 231.1 251.2 231.2 251.3 231.2 251.9 231.3 252.7 231.3 253.4 231.4 253.7 231.4 254.0 231.5 254.5 231.5 255.4 231.6 256.1 231.6 256.5 231.7 256.9 231.7 257.3 231.8 257.9 231.8 258.5 231.8 259.3 231.9 260.3 231.9 261.0 232.0 261.8 232.0 262.2 232.1 263.0 232.1 263.4 232.2 263.7 232.2 263.9 232.3 264.7 232.3 265.4 232.4 266.3 232.4 266.8 232.5 267.2 232.5 267.4 232.6 267.4 232.6 267.5 232.7 267.6 232.7 268.3 232.7 269.0 232.8 269.6 232.8 270.1 232.9 270.8 232.9 271.4 233.0 272.2 233.0 272.5 233.1 273.0 233.1 273.8 233.2 275.1 233.2 275.8 233.3 276.3 233.3 276.9 233.4 277.7 233.4 278.7 233.5 279.6 233.5 280.8 233.6 280.9 233.6 280.5 233.7 279.5 233.7 278.4 233.7 277.5 233.8 276.5 233.8 276.0 233.9 275.5 233.9 275.3 234.0 274.9 234.0 274.4 234.1 273.8 234.1 272.9 234.2 272.4 234.2 271.8 234.3 270.9 234.3 269.9 234.4 269.3 234.4 269.0 234.5 268.4 234.5 267.3 234.6 266.6 234.6 265.9 234.7 265.5 234.7 265.0 234.7 264.8 234.8 264.3 234.8 263.5 234.9 262.5 234.9 261.6 235.0 260.8 235.0 260.1 235.1 259.3 235.1 259.0 235.2 258.9 235.2 258.7 235.3 258.3 235.3 257.7 235.4 257.3 235.4 256.6 235.5 256.0 235.5 255.2 235.6 254.8 235.6 254.1 235.7 253.3 235.7 252.1 235.7 251.3 235.8 250.8 235.8 250.0 235.9 249.5 235.9 249.1 236.0 248.9 236.0 248.4 236.1 247.9 236.1 247.2 236.2 246.7 236.2 246.3 236.3 246.0 236.3 245.7 236.4 245.4 236.4 244.9 236.5 244.5 236.5 243.8 236.6 243.2 236.6 242.6 236.6 242.2 236.7 241.8 236.7 241.1 236.8 240.7 236.8 240.0 236.9 239.5 236.9 239.1 237.0 238.7 237.0 238.0 237.1 237.7 237.1 237.3 237.2 237.1 237.2 236.7 237.3 236.5 237.3 236.0 237.4 235.4 237.4 234.3 237.5 233.7 237.5 233.1 237.6 232.8 237.6 232.4 237.6 231.9 237.7 231.4 237.7 231.1 237.8 230.8 237.8 230.5 237.9 230.0 237.9 229.7 238.0 229.7 238.0 229.7 238.1 229.6 238.1 229.3 238.2 229.3 238.2 229.1 238.3 228.7 238.3 228.1 238.4 227.6 238.4 226.9 238.5 226.5 238.5 225.6 238.6 225.1 238.6 224.6 238.6 224.7 238.7 225.2 238.7 225.7 238.8 225.8 238.8 225.2 238.9 224.9 238.9 224.3 239.0 224.2 239.0 223.8 239.1 224.0 239.1 224.1 239.2 224.3 239.2 224.0 239.3 223.7 239.3 223.5 239.4 223.4 239.4 223.2 239.5 222.7 239.5 222.4 239.5 222.1 239.6 221.9 239.6 222.1 239.7 222.6 239.7 222.7 239.8 222.5 239.8 222.2 239.9 222.2 239.9 222.3 240.0 222.4 240.0 222.4 240.1 222.5 240.1 222.4 240.2 222.1 240.2 222.0 240.3 222.4 240.3 222.8 240.4 222.9 240.4 222.7 240.5 222.5 240.5 222.4 240.5 222.5 240.6 222.8 240.6 222.8 240.7 222.7 240.7 222.1 240.8 222.0 240.8 222.0 240.9 222.3 240.9 222.4 241.0 222.7 241.0 223.1 241.1 223.4 241.1 223.4 241.2 223.3 241.2 223.1 241.3 222.9 241.3 222.7 241.4 222.7 241.4 222.9 241.5 223.0 241.5 223.0 241.5 222.9 241.6 222.9 241.6 223.1 241.7 223.5 241.7 223.9 241.8 224.1 241.8 224.0 241.9 223.6 241.9 223.4 242.0 223.2 242.0 223.1 242.1 222.9 242.1 223.0 242.2 223.3 242.2 223.6 242.3 224.0 242.3 224.1 242.4 224.1 242.4 224.0 242.5 223.7 242.5 223.7 242.5 223.7 242.6 224.0 242.6 224.3 242.7 224.4 242.7 224.4 242.8 224.1 242.8 223.9 242.9 223.6 242.9 223.7 243.0 224.1 243.0 224.5 243.1 225.0 243.1 225.2 243.2 225.3 243.2 225.1 243.3 225.0 243.3 224.9 243.4 225.1 243.4 225.4 243.4 225.7 243.5 225.8 243.5 226.1 243.6 226.4 243.6 226.5 243.7 226.4 243.7 226.6 243.8 227.3 243.8 228.0 243.9 228.4 243.9 228.6 244.0 228.6 244.0 228.5 244.1 228.1 244.1 228.1 244.2 228.3 244.2 228.8 244.3 229.0 244.3 229.2 244.4 229.6 244.4 229.8 244.4 229.9 244.5 230.0 244.5 230.2 244.6 230.3 244.6 230.5 244.7 230.8 244.7 231.0 244.8 231.1 244.8 231.4 244.9 232.0 244.9 232.7 245.0 233.3 245.0 233.7 245.1 234.0 245.1 234.4 245.2 234.8 245.2 235.0 245.3 234.9 245.3 235.1 245.4 235.2 245.4 235.4 245.4 235.7 245.5 236.3 245.5 236.7 245.6 236.8 245.6 236.5 245.7 236.3 245.7 236.6 245.8 237.2 245.8 237.8 245.9 238.2 245.9 238.7 246.0 238.9 246.0 239.1 246.1 239.0 246.1 238.9 246.2 239.2 246.2 239.6 246.3 240.2 246.3 240.4 246.3 240.1 246.4 240.0 246.4 240.0 246.5 240.3 246.5 240.2 246.6 240.3 246.6 240.5 246.7 240.8 246.7 241.3 246.8 241.9 246.8 242.7 246.9 243.1 246.9 243.4 247.0 243.4 247.0 243.7 247.1 243.6 247.1 243.7 247.2 243.9 247.2 244.2 247.3 244.1 247.3 244.0 247.3 244.4 247.4 245.2 247.4 245.7 247.5 245.9 247.5 245.8 247.6 246.0 247.6 246.2 247.7 246.8 247.7 246.8 247.8 247.0 247.8 247.0 247.9 247.4 247.9 247.9 248.0 248.8 248.0 249.5 248.1 250.0 248.1 250.0 248.2 249.8 248.2 249.4 248.3 249.7 248.3 250.2 248.3 250.8 248.4 250.9 248.4 250.9 248.5 250.9 248.5 251.2 248.6 251.9 248.6 252.8 248.7 253.6 248.7 253.8 248.8 253.9 248.8 254.0 248.9 254.3 248.9 254.3 249.0 254.4 249.0 254.7 249.1 255.3 249.1 255.8 249.2 256.1 249.2 256.3 249.3 256.1 249.3 256.2 249.3 256.5 249.4 257.2 249.4 257.4 249.5 257.6 249.5 258.0 249.6 258.1 249.6 258.4 249.7 258.6 249.7 259.0 249.8 259.3 249.8 259.6 249.9 259.8 249.9 260.0 250.0 260.1 250.0 260.5 250.1 261.1 250.1 261.8 250.2 262.6 250.2 263.0 250.2 263.4 250.3 263.7 250.3 264.1 250.4 264.2 250.4 264.5 250.5 264.5 250.5 264.8 250.6 264.7 250.6 264.9 250.7 265.1 250.7 265.4 250.8 265.6 250.8 266.0 250.9 266.3 250.9 266.8 251.0 267.3 251.0 267.8 251.1 268.3 251.1 268.1 251.2 268.3 251.2 268.5 251.2 269.2 251.3 269.5 251.3 270.1 251.4 270.7 251.4 271.2 251.5 271.4 251.5 270.8 251.6 269.9 251.6 269.1 251.7 268.6 251.7 268.5 251.8 268.3 251.8 268.1 251.9 267.7 251.9 267.2 252.0 266.9 252.0 266.2 252.1 265.2 252.1 264.2 252.2 263.6 252.2 263.5 252.2 262.9 252.3 262.4 252.3 261.9 252.4 261.6 252.4 261.4 252.5 261.2 252.5 260.9 252.6 260.6 252.6 260.0 252.7 259.6 252.7 258.8 252.8 258.2 252.8 257.5 252.9 257.3 252.9 256.9 253.0 256.7 253.0 256.2 253.1 255.9 253.1 255.3 253.2 255.1 253.2 254.9 253.2 255.0 253.3 254.4 253.3 254.3 253.4 254.0 253.4 254.1 253.5 253.5 253.5 253.0 253.6 252.2 253.6 251.9 253.7 251.6 253.7 251.4 253.8 251.0 253.8 250.3 253.9 249.4 253.9 248.9 254.0 248.3 254.0 248.1 254.1 247.7 254.1 246.9 254.1 246.2 254.2 245.6 254.2 245.4 254.3 245.4 254.3 245.1 254.4 244.9 254.4 244.6 254.5 244.6 254.5 244.4 254.6 243.6 254.6 243.3 254.7 242.9 254.7 242.7 254.8 242.3 254.8 242.0 254.9 241.8 254.9 241.1 255.0 240.5 255.0 240.3 255.1 240.2 255.1 239.6 255.1 238.9 255.2 238.8 255.2 238.7 255.3 238.5 255.3 237.7 255.4 237.3 255.4 236.9 255.5 236.8 255.5 236.4 255.6 235.7 255.6 235.4 255.7 235.5 255.7 235.4 255.8 234.9 255.8 234.6 255.9 234.5 255.9 234.4 256.0 233.9 256.0 233.6 256.1 233.4 256.1 233.1 256.1 232.7 256.2 232.4 256.2 232.1 256.3 231.9 256.3 231.3 256.4 230.7 256.4 230.1 256.5 229.8 256.5 229.4 256.6 228.9 256.6 228.5 256.7 227.8 256.7 227.3 256.8 226.9 256.8 226.8 256.9 226.8 256.9 226.6 257.0 226.3 257.0 226.3 257.0 226.7 257.1 226.7 257.1 226.4 257.2 225.6 257.2 225.2 257.3 224.8 257.3 224.7 257.4 224.2 257.4 223.9 257.5 223.6 257.5 223.5 257.6 223.7 257.6 223.7 257.7 223.9 257.7 223.5 257.8 223.0 257.8 222.2 257.9 221.5 257.9 221.1 258.0 220.7 258.0 220.5 258.0 220.4 258.1 220.3 258.1 220.3 258.2 220.4 258.2 220.5 258.3 220.4 258.3 220.2 258.4 219.9 258.4 219.6 258.5 219.5 258.5 220.0 258.6 220.3 258.6 220.5 258.7 220.6 258.7 220.6 258.8 220.4 258.8 220.0 258.9 219.8 258.9 219.8 259.0 219.6 259.0 219.6 259.0 219.4 259.1 219.1 259.1 218.6 259.2 218.0 259.2 217.9 259.3 218.0 259.3 218.1 259.4 218.0 259.4 217.9 259.5 217.7 259.5 217.4 259.6 216.9 259.6 216.7 259.7 216.9 259.7 217.3 259.8 217.2 259.8 216.9 259.9 216.3 259.9 216.1 260.0 216.2 260.0 216.3 260.0 216.2 260.1 216.0 260.1 215.9 260.2 215.7 260.2 215.4 260.3 215.3 260.3 215.6 260.4 215.8 260.4 215.8 260.5 215.5 260.5 215.3 260.6 215.3 260.6 215.1 260.7 214.9 260.7 214.7 260.8 214.7 260.8 214.8 260.9 214.9 260.9 215.0 260.9 215.1 261.0 215.2 261.0 215.1 261.1 214.7 261.1 214.3 261.2 214.1 261.2 214.1 261.3 214.5 261.3 214.9 261.4 214.9 261.4 214.7 261.5 214.4 261.5 214.3 261.6 214.4 261.6 214.5 261.7 214.8 261.7 214.9 261.8 214.9 261.8 214.9 261.9 215.0 261.9 215.3 261.9 215.6 262.0 216.1 262.0 216.2 262.1 216.6 262.1 216.8 262.2 216.8 262.2 216.6 262.3 216.7 262.3 217.1 262.4 217.3 262.4 217.3 262.5 217.3 262.5 217.5 262.6 217.7 262.6 217.6 262.7 217.6 262.7 217.6 262.8 218.3 262.8 218.8 262.9 219.1 262.9 219.2 262.9 219.3 263.0 219.8 263.0 220.3 263.1 220.7 263.1 221.0 263.2 221.5 263.2 222.0 263.3 222.6 263.3 222.8 263.4 223.2 263.4 223.5 263.5 223.7 263.5 223.9 263.6 224.3 263.6 224.8 263.7 224.9 263.7 225.4 263.8 225.7 263.8 226.5 263.8 226.8 263.9 226.9 263.9 227.0 264.0 227.0 264.0 227.4 264.1 227.4 264.1 227.4 264.2 227.2 264.2 227.6 264.3 228.4 264.3 229.0 264.4 229.4 264.4 229.7 264.5 230.1 264.5 230.7 264.6 231.0 264.6 231.5 264.7 231.6 264.7 232.1 264.8 232.4 264.8 233.0 264.8 233.2 264.9 233.4 264.9 233.4 265.0 233.6 265.0 234.0 265.1 234.9 265.1 235.7 265.2 236.5 265.2 236.7 265.3 237.2 265.3 237.9 265.4 238.6 265.4 239.1 265.5 239.0 265.5 239.2 265.6 239.7 265.6 240.1 265.7 240.7 265.7 240.6 265.8 241.0 265.8 241.4 265.8 242.0 265.9 242.3 265.9 242.7 266.0 243.0 266.0 243.7 266.1 243.9 266.1 244.4 266.2 245.2 266.2 246.0 266.3 246.6 266.3 246.4 266.4 246.2 266.4 246.3 266.5 246.9 266.5 247.8 266.6 248.8 266.6 249.8 266.7 250.5 266.7 251.6 266.8 252.4 266.8 253.0 266.8 252.7 266.9 252.4 266.9 252.5 267.0 253.1 267.0 254.0 267.1 254.8 267.1 255.9 267.2 256.4 267.2 256.7 267.3 256.9 267.3 257.4 267.4 257.9 267.4 258.0 267.5 258.2 267.5 258.8 267.6 259.6 267.6 260.3 267.7 260.7 267.7 261.1 267.7 261.8 267.8 262.3 267.8 262.9 267.9 263.0 267.9 263.4 268.0 263.5 268.0 263.5 268.1 263.6 268.1 263.8 268.2 264.6 268.2 265.2 268.3 265.1 268.3 264.5 268.4 263.5 268.4 262.3 268.5 261.6 268.5 261.2 268.6 261.0 268.6 260.8 268.7 260.6 268.7 260.8 268.7 260.5 268.8 260.4 268.8 259.9 268.9 259.9 268.9 259.4 269.0 259.1 269.0 258.4 269.1 258.3 269.1 257.9 269.2 257.5 269.2 256.9 269.3 256.3 269.3 256.0 269.4 255.9 269.4 255.7 269.5 255.3 269.5 254.6 269.6 254.0 269.6 253.6 269.7 253.2 269.7 252.9 269.7 252.5 269.8 251.5 269.8 251.0 269.9 250.2 269.9 249.7 270.0 249.4 270.0 249.4 270.1 249.4 270.1 249.0 270.2 248.2 270.2 247.4 270.3 246.7 270.3 246.3 270.4 246.6 270.4 246.6 270.5 246.4 270.5 245.7 270.6 245.0 270.6 244.5 270.6 243.7 270.7 242.9 270.7 241.8 270.8 241.4 270.8 241.3 270.9 241.3 270.9 241.1 271.0 240.9 271.0 240.5 271.1 240.0 271.1 239.2 271.2 238.7 271.2 238.1 271.3 237.5 271.3 237.4 271.4 237.5 271.4 237.5 271.5 236.8 271.5 236.1 271.6 235.5 271.6 235.2 271.6 234.8 271.7 234.4 271.7 233.9 271.8 233.8 271.8 233.4 271.9 232.9 271.9 232.7 272.0 232.4 272.0 232.1 272.1 231.4 272.1 230.9 272.2 230.1 272.2 229.3 272.3 228.8 272.3 228.6 272.4 228.6 272.4 228.2 272.5 227.7 272.5 226.9 272.6 226.5 272.6 226.5 272.6 226.3 272.7 226.1 272.7 225.5 272.8 225.1 272.8 224.7 272.9 224.3 272.9 224.1 273.0 223.8 273.0 223.7 273.1 223.3 273.1 222.9 273.2 222.3 273.2 221.7 273.3 221.7 273.3 221.8 273.4 221.6 273.4 221.1 273.5 220.9 273.5 220.9 273.6 220.9 273.6 220.7 273.6 220.1 273.7 219.4 273.7 218.8 273.8 218.5 273.8 218.2 273.9 217.9 273.9 217.7 274.0 217.2 274.0 216.7 274.1 216.1 274.1 215.9 274.2 215.8 274.2 216.0 274.3 216.0 274.3 215.8 274.4 215.0 274.4 214.2 274.5 213.6 274.5 213.5 274.5 213.5 274.6 213.6 274.6 213.6 274.7 213.5 274.7 213.2 274.8 213.2 274.8 213.2 274.9 213.5 274.9 213.7 275.0 213.8 275.0 213.5 275.1 213.0 275.1 212.3 275.2 211.8 275.2 211.2 275.3 210.8 275.3 210.5 275.4 210.3 275.4 210.1 275.5 210.0 275.5 210.1 275.5 210.3 275.6 210.5 275.6 210.3 275.7 210.0 275.7 209.8 275.8 209.6 275.8 209.2 275.9 208.7 275.9 208.3 276.0 208.2 276.0 208.3 276.1 208.4 276.1 208.5 276.2 208.6 276.2 208.4 276.3 208.2 276.3 208.2 276.4 208.3 276.4 208.1 276.5 207.7 276.5 207.4 276.5 207.4 276.6 207.5 276.6 207.9 276.7 208.1 276.7 207.9 276.8 207.8 276.8 207.5 276.9 207.7 276.9 207.7 277.0 207.8 277.0 207.7 277.1 207.5 277.1 207.7 277.2 207.9 277.2 208.3 277.3 207.9 277.3 207.8 277.4 207.6 277.4 207.9 277.5 208.2 277.5 208.7 277.5 208.7 277.6 208.7 277.6 208.5 277.7 208.6 277.7 208.8 277.8 208.8 277.8 208.9 277.9 209.1 277.9 209.5 278.0 209.8 278.0 209.9 278.1 209.9 278.1 209.9 278.2 209.8 278.2 209.9 278.3 209.8 278.3 209.6 278.4 209.5 278.4 209.8 278.4 210.3 278.5 210.6 278.5 210.7 278.6 210.9 278.6 211.0 278.7 211.5 278.7 211.8 278.8 212.5 278.8 212.5 278.9 212.5 278.9 212.2 279.0 212.5 279.0 212.6 279.1 213.1 279.1 213.4 279.2 213.5 279.2 213.4 279.3 213.4 279.3 213.7 279.4 214.1 279.4 214.4 279.4 214.7 279.5 214.8 279.5 214.9 279.6 215.2 279.6 215.5 279.7 215.9 279.7 215.9 279.8 216.0 279.8 216.2 279.9 217.0 279.9 217.6 280.0 218.0 280.0 218.2 280.1 218.8 280.1 219.6 280.2 220.0 280.2 220.2 280.3 220.3 280.3 220.6 280.4 220.6 280.4 220.6 280.4 220.7 280.5 221.2 280.5 221.4 280.6 221.4 280.6 221.5 280.7 222.1 280.7 222.9 280.8 223.5 280.8 223.9 280.9 224.1 280.9 224.3 281.0 224.4 281.0 224.6 281.1 224.9 281.1 225.3 281.2 225.9 281.2 226.2 281.3 226.5 281.3 226.9 281.3 227.4 281.4 227.8 281.4 228.2 281.5 229.0 281.5 229.6 281.6 229.8 281.6 229.6 281.7 229.7 281.7 229.9 281.8 230.5 281.8 231.0 281.9 231.8 281.9 232.3 282.0 232.7 282.0 232.8 282.1 233.2 282.1 233.5 282.2 234.1 282.2 234.6 282.3 235.4 282.3 236.2 282.3 236.7 282.4 237.2 282.4 237.4 282.5 237.6 282.5 237.9 282.6 238.3 282.6 239.0 282.7 239.6 282.7 240.2 282.8 240.7 282.8 241.2 282.9 241.4 282.9 242.0 283.0 242.7 283.0 243.5 283.1 243.8 283.1 243.8 283.2 243.7 283.2 243.7 283.3 243.7 283.3 244.0 283.3 244.8 283.4 245.8 283.4 246.6 283.5 247.2 283.5 247.5 283.6 247.7 283.6 248.1 283.7 248.5 283.7 248.8 283.8 249.1 283.8 249.5 283.9 250.0 283.9 250.8 284.0 251.4 284.0 251.9 284.1 252.1 284.1 252.6 284.2 252.8 284.2 253.1 284.3 253.5 284.3 254.2 284.3 254.9 284.4 255.5 284.4 255.8 284.5 255.7 284.5 255.7 284.6 256.1 284.6 256.6 284.7 257.1 284.7 257.7 284.8 258.3 284.8 259.1 284.9 259.6 284.9 259.9 285.0 260.1 285.0 261.0 285.1 261.6 285.1 261.8 285.2 261.5 285.2 261.7 285.2 262.5 285.3 263.5 285.3 264.4 285.4 264.9 285.4 265.6 285.5 265.8 285.5 265.0 285.6 264.3 285.6 263.7 285.7 263.5 285.7 262.9 285.8 262.5 285.8 261.9 285.9 260.8 285.9 260.0 286.0 258.9 286.0 257.8 286.1 256.3 286.1 255.2 286.2 254.6 286.2 254.3 286.2 253.9 286.3 253.3 286.3 252.3 286.4 251.1 286.4 249.9 286.5 249.0 286.5 248.3 286.6 248.0 286.6 247.8 286.7 247.9 286.7 247.7 286.8 247.0 286.8 246.3 286.9 245.2 286.9 244.1 287.0 242.9 287.0 242.3 287.1 241.8 287.1 241.3 287.2 240.9 287.2 240.4 287.2 240.0 287.3 239.3 287.3 238.4 287.4 237.5 287.4 236.8 287.5 236.5 287.5 236.4 287.6 236.0 287.6 235.6 287.7 234.9 287.7 234.3 287.8 233.4 287.8 232.8 287.9 232.5 287.9 232.0 288.0 231.5 288.0 230.5 288.1 229.9 288.1 229.1 288.1 228.3 288.2 227.7 288.2 226.9 288.3 226.8 288.3 226.4 288.4 226.3 288.4 225.9 288.5 225.5 288.5 225.0 288.6 224.3 288.6 223.9 288.7 223.5 288.7 223.5 288.8 222.8 288.8 222.3 288.9 221.6 288.9 221.2 289.0 220.6 289.0 219.9 289.1 219.3 289.1 218.9 289.1 218.8 289.2 218.4 289.2 217.9 289.3 217.3 289.3 216.6 289.4 216.4 289.4 216.4 289.5 216.5 289.5 216.3 289.6 215.7 289.6 215.0 289.7 214.2 289.7 213.5 289.8 212.8 289.8 212.4 289.9 212.3 289.9 211.7 290.0 211.3 290.0 210.7 290.1 210.3 290.1 209.4 290.1 208.7 290.2 208.4 290.2 207.9 290.3 207.1 290.3 206.6 290.4 206.1 290.4 205.7 290.5 205.1 290.5 204.6 290.6 204.5 290.6 204.8 290.7 205.2 290.7 205.1 290.8 204.7 290.8 204.5 290.9 204.2 290.9 204.2 291.0 204.2 291.0 204.5 291.1 204.6 291.1 204.7 291.1 204.5 291.2 204.5 291.2 204.5 291.3 205.0 291.3 205.1 291.4 205.1 291.4 204.8 291.5 204.8 291.5 204.8 291.6 204.6 291.6 204.4 291.7 204.0 291.7 203.8 291.8 203.6 291.8 203.8 291.9 203.8 291.9 203.8 292.0 203.3 292.0 203.4 292.0 203.7 292.1 204.3 292.1 204.5 292.2 204.3 292.2 203.7 292.3 203.2 292.3 202.9 292.4 202.6 292.4 202.5 292.5 202.3 292.5 202.2 292.6 202.4 292.6 202.6 292.7 202.6 292.7 202.3 292.8 202.0 292.8 202.1 292.9 202.2 292.9 202.0 293.0 201.8 293.0 201.8 293.0 202.3 293.1 202.7 293.1 203.2 293.2 203.3 293.2 203.2 293.3 202.7 293.3 202.4 293.4 202.2 293.4 202.0 293.5 201.8 293.5 201.6 293.6 201.8 293.6 202.0 293.7 202.4 293.7 202.7 293.8 202.6 293.8 202.5 293.9 202.5 293.9 202.7 294.0 202.7 294.0 202.6 294.0 202.2 294.1 202.2 294.1 202.2 294.2 202.5 294.2 202.6 294.3 202.7 294.3 202.6 294.4 202.4 294.4 202.1 294.5 202.1 294.5 202.1 294.6 202.1 294.6 202.3 294.7 202.8 294.7 203.1 294.8 203.1 294.8 203.0 294.9 203.0 294.9 203.0 294.9 202.8 295.0 203.0 295.0 203.3 295.1 203.6 295.1 203.6 295.2 203.7 295.2 203.9 295.3 204.3 295.3 204.8 295.4 205.1 295.4 205.4 295.5 205.3 295.5 205.5 295.6 205.6 295.6 206.0 295.7 206.3 295.7 206.4 295.8 206.4 295.8 206.3 295.9 206.5 295.9 206.7 295.9 207.1 296.0 207.4 296.0 207.8 296.1 207.7 296.1 207.7 296.2 207.6 296.2 207.6 296.3 207.7 296.3 207.7 296.4 207.8 296.4 207.9 296.5 208.2 296.5 208.5 296.6 208.9 296.6 209.1 296.7 209.2 296.7 209.2 296.8 209.3 296.8 209.8 296.9 210.4 296.9 210.9 296.9 210.9 297.0 211.1 297.0 211.2 297.1 211.5 297.1 211.8 297.2 212.0 297.2 212.1 297.3 212.0 297.3 211.8 297.4 212.0 297.4 212.6 297.5 213.1 297.5 213.6 297.6 213.8 297.6 214.2 297.7 214.6 297.7 215.0 297.8 215.3 297.8 215.3 297.9 215.3 297.9 215.8 297.9 216.5 298.0 217.4 298.0 218.0 298.1 218.3 298.1 218.3 298.2 218.3 298.2 218.5 298.3 218.9 298.3 219.4 298.4 220.1 298.4 220.7 298.5 220.7 298.5 220.9 298.6 220.7 298.6 220.7 298.7 220.6 298.7 220.8 298.8 221.4 298.8 221.9 298.8 222.2 298.9 222.4 298.9 222.5 299.0 222.5 299.0 222.6 299.1 222.9 299.1 223.4 299.2 223.8 299.2 224.4 299.3 224.9 299.3 225.4 299.4 225.8 299.4 225.9 299.5 226.2 299.5 226.6 299.6 227.2 299.6 228.0 299.7 228.6 299.7 229.4 299.8 230.0 299.8 230.3 299.8 230.4 299.9 230.2 299.9 230.0 300.0 229.7 300.0 229.8 300.1 230.1 300.1 230.5 300.2 231.0 300.2 231.6 300.3 231.9 300.3 232.1 300.4 232.2 300.4 232.5 300.5 232.8 300.5 233.4 300.6 234.0 300.6 235.0 300.7 235.5 300.7 236.1 300.8 236.1 300.8 236.2 300.8 236.4 300.9 236.9 300.9 237.6 301.0 238.1 301.0 238.5 301.1 238.6 301.1 239.1 301.2 239.8 301.2 240.3 301.3 240.3 301.3 240.2 301.4 240.6 301.4 240.9 301.5 241.5 301.5 241.9 301.6 242.2 301.6 242.3 301.7 242.6 301.7 243.0 301.8 243.7 301.8 244.5 301.8 245.1 301.9 245.4 301.9 245.8 302.0 246.4 302.0 247.0 302.1 246.9 302.1 246.5 302.2 246.3 302.2 246.8 302.3 247.5 302.3 248.2 302.4 248.3 302.4 248.5 302.5 248.8 302.5 248.9 302.6 248.8 302.6 248.9 302.7 249.5 302.7 250.0 302.7 250.5 302.8 250.6 302.8 250.7 302.9 251.1 302.9 251.5 303.0 252.4 303.0 252.4 303.1 252.0 303.1 251.2 303.2 250.5 303.2 249.9 303.3 249.6 303.3 249.4 303.4 249.2 303.4 248.7 303.5 248.4 303.5 248.0 303.6 248.1 303.6 248.1 303.7 248.3 303.7 248.1 303.7 247.8 303.8 247.1 303.8 246.8 303.9 246.5 303.9 246.3 304.0 245.9 304.0 244.9 304.1 243.7 304.1 242.6 304.2 242.5 304.2 242.4 304.3 242.6 304.3 242.2 304.4 241.8 304.4 241.2 304.5 240.8 304.5 240.4 304.6 240.4 304.6 240.1 304.7 239.9 304.7 239.6 304.7 239.4 304.8 239.1 304.8 238.4 304.9 237.6 304.9 236.7 305.0 236.0 305.0 235.6 305.1 235.0 305.1 234.9 305.2 234.6 305.2 234.6 305.3 234.4 305.3 234.2 305.4 233.8 305.4 233.1 305.5 232.3 305.5 232.0 305.6 231.8 305.6 231.3 305.6 230.3 305.7 229.3 305.7 228.7 305.8 228.6 305.8 228.9 305.9 228.8 305.9 228.3 306.0 227.7 306.0 227.4 306.1 227.1 306.1 227.0 306.2 226.8 306.2 226.4 306.3 225.3 306.3 224.4 306.4 223.6 306.4 223.3 306.5 223.2 306.5 223.6 306.6 223.6 306.6 223.4 306.6 222.4 306.7 221.7 306.7 221.0 306.8 221.1 306.8 220.9 306.9 220.7 306.9 220.2 307.0 220.3 307.0 220.1 307.1 219.7 307.1 219.0 307.2 218.6 307.2 218.3 307.3 217.7 307.3 217.2 307.4 216.5 307.4 216.1 307.5 215.9 307.5 216.0 307.6 216.3 307.6 216.4 307.6 216.2 307.7 215.6 307.7 215.0 307.8 214.6 307.8 214.6 307.9 214.4 307.9 214.1 308.0 213.5 308.0 213.0 308.1 212.5 308.1 211.8 308.2 211.2 308.2 210.8 308.3 210.9 308.3 211.1 308.4 211.2 308.4 211.0 308.5 210.4 308.5 210.0 308.6 209.8 308.6 209.4 308.6 208.8 308.7 208.2 308.7 208.1 308.8 208.0 308.8 207.7 308.9 207.1 308.9 206.8 309.0 206.2 309.0 205.8 309.1 205.5 309.1 205.7 309.2 205.9 309.2 206.2 309.3 206.1 309.3 205.8 309.4 205.5 309.4 205.0 309.5 204.8 309.5 204.5 309.5 204.5 309.6 204.4 309.6 204.2 309.7 203.9 309.7 203.5 309.8 203.0 309.8 202.6 309.9 202.2 309.9 202.3 310.0 202.6 310.0 202.9 310.1 202.9 310.1 202.7 310.2 202.4 310.2 202.3 310.3 202.4 310.3 202.7 310.4 202.4 310.4 202.1 310.5 201.6 310.5 201.6 310.5 201.3 310.6 201.1 310.6 200.7 310.7 200.8 310.7 200.6 310.8 200.4 310.8 199.9 310.9 199.5 310.9 199.2 311.0 199.1 311.0 199.1 311.1 199.0 311.1 198.9 311.2 198.9 311.2 199.0 311.3 198.9 311.3 198.7 311.4 198.5 311.4 198.2 311.5 198.2 311.5 198.3 311.5 198.4 311.6 198.3 311.6 198.4 311.7 198.5 311.7 198.5 311.8 198.4 311.8 198.4 311.9 198.6 311.9 198.8 312.0 199.0 312.0 199.2 312.1 199.2 312.1 199.3 312.2 199.4 312.2 199.4 312.3 199.3 312.3 199.0 312.4 198.9 312.4 199.0 312.4 199.4 312.5 199.7 312.5 199.5 312.6 199.1 312.6 198.9 312.7 198.9 312.7 199.2 312.8 199.2 312.8 199.4 312.9 199.3 312.9 199.4 313.0 199.4 313.0 199.5 313.1 199.9 313.1 200.2 313.2 200.4 313.2 199.8 313.3 199.3 313.3 199.1 313.4 199.8 313.4 200.3 313.4 200.9 313.5 201.4 313.5 201.9 313.6 202.3 313.6 202.3 313.7 202.2 313.7 202.1 313.8 202.4 313.8 203.1 313.9 203.7 313.9 204.1 314.0 204.2 314.0 204.0 314.1 204.0 314.1 204.3 314.2 204.5 314.2 205.0 314.3 205.4 314.3 205.6 314.4 205.3 314.4 205.3 314.4 205.7 314.5 206.0 314.5 206.0 314.6 206.2 314.6 206.8 314.7 207.5 314.7 207.6 314.8 207.9 314.8 208.1 314.9 208.6 314.9 208.6 315.0 208.7 315.0 208.8 315.1 209.4 315.1 209.8 315.2 210.1 315.2 210.5 315.3 211.1 315.3 211.9 315.4 212.5 315.4 213.3 315.4 214.0 315.5 214.5 315.5 215.0 315.6 215.1 315.6 215.1 315.7 215.1 315.7 215.4 315.8 215.8 315.8 216.5 315.9 217.2 315.9 217.8 316.0 217.9 316.0 217.7 316.1 217.8 316.1 218.2 316.2 218.9 316.2 219.4 316.3 219.8 316.3 220.3 316.3 221.0 316.4 221.7 316.4 222.1 316.5 222.2 316.5 222.4 316.6 223.0 316.6 223.7 316.7 224.0 316.7 224.4 316.8 224.7 316.8 225.5 316.9 226.3 316.9 226.8 317.0 226.8 317.0 226.9 317.1 227.3 317.1 227.8 317.2 228.1 317.2 228.4 317.3 228.8 317.3 229.1 317.3 229.2 317.4 229.3 317.4 229.7 317.5 230.3 317.5 231.0 317.6 231.8 317.6 232.6 317.7 233.2 317.7 233.7 317.8 233.9 317.8 234.3 317.9 234.5 317.9 234.8 318.0 235.1 318.0 235.2 318.1 235.6 318.1 236.2 318.2 237.0 318.2 237.3 318.3 237.4 318.3 237.7 318.3 238.5 318.4 239.5 318.4 240.2 318.5 240.7 318.5 240.7 318.6 241.1 318.6 241.4 318.7 242.1 318.7 242.6 318.8 243.2 318.8 244.0 318.9 244.6 318.9 244.9 319.0 245.4 319.0 245.7 319.1 246.3 319.1 246.3 319.2 246.6 319.2 246.7 319.2 247.0 319.3 247.3 319.3 247.8 319.4 248.6 319.4 249.4 319.5 249.9 319.5 249.9 319.6 250.5 319.6 251.3 319.7 252.2 319.7 252.8 319.8 253.4 319.8 253.3 319.9 252.2 319.9 251.3 320.0 250.7 320.0 250.1 320.1 249.2 320.1 248.7 320.2 248.3 320.2 248.2 320.2 248.1 320.3 247.8 320.3 247.2 320.4 246.2 320.4 245.6 320.5 245.4 320.5 245.5 320.6 245.4 320.6 244.6 320.7 243.8 320.7 243.2 320.8 242.5 320.8 241.9 320.9 241.1 320.9 240.7 321.0 240.3 321.0 239.8 321.1 239.7 321.1 239.3 321.2 239.1 321.2 238.4 321.2 237.5 321.3 236.8 321.3 236.1 321.4 235.2 321.4 234.4 321.5 233.7 321.5 233.6 321.6 233.4 321.6 233.0 321.7 232.3 321.7 231.5 321.8 231.0 321.8 230.5 321.9 230.2 321.9 229.9 322.0 229.6 322.0 229.1 322.1 228.5 322.1 228.0 322.2 227.5 322.2 226.7 322.2 225.7 322.3 224.5 322.3 223.8 322.4 223.2 322.4 222.6 322.5 221.8 322.5 220.9 322.6 220.3 322.6 219.8 322.7 219.8 322.7 220.2 322.8 220.6 322.8 220.7 322.9 219.9 322.9 219.1 323.0 218.2 323.0 217.3 323.1 216.5 323.1 215.7 323.1 215.0 323.2 214.1 323.2 213.8 323.3 213.5 323.3 213.2 323.4 212.8 323.4 212.5 323.5 212.3 323.5 211.8 323.6 211.1 323.6 210.3 323.7 209.6 323.7 209.2 323.8 209.1 323.8 208.8 323.9 208.4 323.9 207.5 324.0 206.9 324.0 206.3 324.1 206.1 324.1 205.7 324.1 205.1 324.2 204.9 324.2 204.6 324.3 204.1 324.3 203.5 324.4 203.1 324.4 202.7 324.5 202.3 324.5 201.8 324.6 201.8 324.6 202.0 324.7 202.2 324.7 201.8 324.8 201.3 324.8 200.5 324.9 199.7 324.9 199.1 325.0 198.7 325.0 198.1 325.1 197.7 325.1 197.2 325.1 196.8 325.2 196.2 325.2 196.1 325.3 196.1 325.3 196.1 325.4 195.7 325.4 195.2 325.5 194.7 325.5 194.2 325.6 193.8 325.6 193.4 325.7 193.0 325.7 192.7 325.8 192.4 325.8 192.2 325.9 192.0 325.9 191.9 326.0 191.8 326.0 191.8 326.1 191.5 326.1 191.1 326.1 190.5 326.2 190.3 326.2 190.0 326.3 189.7 326.3 189.4 326.4 189.2 326.4 188.9 326.5 188.7 326.5 188.2 326.6 188.2 326.6 188.2 326.7 188.2 326.7 187.8 326.8 187.5 326.8 187.2 326.9 187.1 326.9 186.9 327.0 187.0 327.0 187.0 327.0 187.0 327.1 186.6 327.1 186.1 327.2 185.7 327.2 185.2 327.3 185.0 327.3 185.0 327.4 185.6 327.4 185.6 327.5 185.3 327.5 184.8 327.6 184.8 327.6 184.9 327.7 184.6 327.7 184.3 327.8 183.6 327.8 183.4 327.9 183.5 327.9 183.7 328.0 183.8 328.0 183.6 328.0 183.3 328.1 183.1 328.1 182.8 328.2 182.7 328.2 182.7 328.3 182.8 328.3 183.0 328.4 182.8 328.4 182.6 328.5 182.4 328.5 182.4 328.6 182.4 328.6 182.5 328.7 182.5 328.7 182.7 328.8 182.7 328.8 183.0 328.9 183.2 328.9 183.4 329.0 183.6 329.0 183.9 329.0 184.2 329.1 184.3 329.1 184.5 329.2 184.5 329.2 184.5 329.3 184.4 329.3 184.7 329.4 185.2 329.4 185.5 329.5 185.6 329.5 185.7 329.6 185.8 329.6 185.9 329.7 186.3 329.7 186.8 329.8 187.3 329.8 187.7 329.9 188.0 329.9 188.2 329.9 188.4 330.0 188.8 330.0 189.1 330.1 189.7 330.1 190.3 330.2 191.0 330.2 191.3 330.3 191.6 330.3 191.9 330.4 192.2 330.4 192.4 330.5 192.6 330.5 192.9 330.6 193.3 330.6 193.9 330.7 193.9 330.7 194.1 330.8 194.2 330.8 194.5 330.9 194.8 330.9 195.1 330.9 195.1 331.0 195.1 331.0 195.1 331.1 195.2 331.1 195.5 331.2 195.6 331.2 195.8 331.3 195.8 331.3 196.1 331.4 196.4 331.4 196.8 331.5 197.0 331.5 196.9 331.6 196.9 331.6 196.9 331.7 197.2 331.7 197.4 331.8 197.3 331.8 197.2 331.9 197.1 331.9 197.0 331.9 197.2 332.0 197.6 332.0 198.5 332.1 199.1 332.1 199.3 332.2 199.4 332.2 199.6 332.3 200.2 332.3 200.7 332.4 201.0 332.4 201.3 332.5 201.8 332.5 202.4 332.6 202.8 332.6 203.2 332.7 203.2 332.7 203.5 332.8 204.1 332.8 204.8 332.9 205.1 332.9 205.4 332.9 205.6 333.0 205.5 333.0 205.4 333.1 205.6 333.1 206.2 333.2 206.6 333.2 207.0 333.3 207.0 333.3 207.2 333.4 207.4 333.4 208.0 333.5 208.7 333.5 209.4 333.6 210.1 333.6 210.8 333.7 211.2 333.7 211.4 333.8 211.7 333.8 212.2 333.8 212.8 333.9 213.1 333.9 213.7 334.0 214.1 334.0 214.7 334.1 215.1 334.1 215.2 334.2 215.4 334.2 215.5 334.3 215.7 334.3 216.4 334.4 216.8 334.4 217.2 334.5 217.4 334.5 217.5 334.6 217.6 334.6 217.6 334.7 217.8 334.7 218.4 334.8 219.1 334.8 219.8 334.8 220.4 334.9 220.8 334.9 221.3 335.0 221.4 335.0 222.0 335.1 222.6 335.1 223.1 335.2 223.6 335.2 224.0 335.3 224.8 335.3 225.3 335.4 225.9 335.4 226.5 335.5 227.5 335.5 228.3 335.6 228.5 335.6 228.8 335.7 228.9 335.7 229.4 335.8 229.3 335.8 229.4 335.8 229.0 335.9 229.5 335.9 229.9 336.0 230.9 336.0 231.4 336.1 232.0 336.1 232.6 336.2 233.5 336.2 234.7 336.3 235.6 336.3 236.4 336.4 237.1 336.4 237.7 336.5 238.1 336.5 238.3 336.6 238.5 336.6 239.0 336.7 239.6 336.7 239.9 336.7 240.4 336.8 240.7 336.8 240.9 336.9 240.9 336.9 241.3 337.0 241.5 337.0 241.6 337.1 241.9 337.1 242.6 337.2 243.5 337.2 244.3 337.3 245.0 337.3 245.8 337.4 246.6 337.4 247.5 337.5 248.6 337.5 249.2 337.6 249.1 337.6 248.0 337.7 246.7 337.7 244.9 337.7 243.8 337.8 242.9 337.8 242.0 337.9 241.1 337.9 240.2 338.0 239.8 338.0 239.4 338.1 239.2 338.1 238.9 338.2 238.8 338.2 238.3 338.3 237.4 338.3 236.5 338.4 235.4 338.4 234.4 338.5 233.3 338.5 232.7 338.6 232.3 338.6 231.6 338.7 230.9 338.7 230.4 338.7 229.9 338.8 229.7 338.8 229.1 338.9 228.3 338.9 227.1 339.0 226.0 339.0 225.1 339.1 224.1 339.1 223.4 339.2 222.9 339.2 222.5 339.3 222.1 339.3 221.2 339.4 220.1 339.4 219.0 339.5 218.3 339.5 218.1 339.6 217.8 339.6 217.1 339.7 216.2 339.7 215.3 339.7 214.9 339.8 214.3 339.8 213.6 339.9 212.8 339.9 212.2 340.0 211.4 340.0 210.6 340.1 209.6 340.1 208.8 340.2 208.0 340.2 207.4 340.3 207.0 340.3 206.7 340.4 206.4 340.4 206.2 340.5 205.7 340.5 205.1 340.6 204.3 340.6 203.5 340.6 203.2 340.7 202.9 340.7 203.0 340.8 202.3 340.8 201.9 340.9 201.1 340.9 200.2 341.0 199.5 341.0 198.9 341.1 198.5 341.1 198.1 341.2 197.6 341.2 197.1 341.3 196.3 341.3 195.9 341.4 194.9 341.4 194.1 341.5 193.5 341.5 193.6 341.6 193.5 341.6 193.1 341.6 192.6 341.7 192.1 341.7 191.6 341.8 191.1 341.8 190.7 341.9 190.5 341.9 190.2 342.0 189.6 342.0 188.8 342.1 188.2 342.1 187.7 342.2 187.3 342.2 186.6 342.3 186.0 342.3 185.5 342.4 185.3 342.4 185.0 342.5 184.8 342.5 184.6 342.6 184.4 342.6 184.0 342.6 183.6 342.7 183.0 342.7 182.6 342.8 182.3 342.8 181.9 342.9 181.7 342.9 181.4 343.0 181.4 343.0 181.2 343.1 180.9 343.1 180.7 343.2 180.5 343.2 180.2 343.3 179.9 343.3 179.8 343.4 179.9 343.4 179.9 343.5 180.0 343.5 180.1 343.5 180.0 343.6 179.7 343.6 179.1 343.7 178.5 343.7 178.5 343.8 178.5 343.8 178.8 343.9 178.8 343.9 178.8 344.0 178.9 344.0 178.8 344.1 179.0 344.1 179.0 344.2 179.3 344.2 179.5 344.3 179.7 344.3 179.7 344.4 179.6 344.4 179.7 344.5 180.0 344.5 180.5 344.5 180.9 344.6 181.4 344.6 181.7 344.7 181.9 344.7 182.1 344.8 182.5 344.8 182.7 344.9 182.9 344.9 183.2 345.0 183.3 345.0 183.1 345.1 183.2 345.1 183.7 345.2 184.3 345.2 184.8 345.3 185.1 345.3 185.5 345.4 185.6 345.4 186.1 345.5 186.8 345.5 187.7 345.5 187.8 345.6 187.8 345.6 187.8 345.7 188.1 345.7 188.2 345.8 188.1 345.8 188.2 345.9 188.4 345.9 188.4 346.0 188.4 346.0 188.4 346.1 188.7 346.1 189.0 346.2 189.5 346.2 189.8 346.3 190.1 346.3 190.2 346.4 190.2 346.4 190.2 346.5 189.9 346.5 190.2 346.5 190.3 346.6 190.7 346.6 190.8 346.7 191.1 346.7 191.0 346.8 190.7 346.8 190.5 346.9 190.6 346.9 190.9 347.0 191.0 347.0 190.6 347.1 190.6 347.1 190.7 347.2 191.1 347.2 191.2 347.3 190.9 347.3 190.5 347.4 189.9 347.4 189.5 347.4 189.4 347.5 189.8 347.5 190.1 347.6 190.0 347.6 189.7 347.7 189.3 347.7 189.1 347.8 188.7 347.8 188.5 347.9 188.5 347.9 188.8 348.0 189.2 348.0 189.6 348.1 189.7 348.1 189.4 348.2 188.6 348.2 188.1 348.3 187.8 348.3 188.1 348.4 188.1 348.4 188.0 348.4 187.8 348.5 187.7 348.5 187.6 348.6 187.7 348.6 187.7 348.7 187.8 348.7 187.6 348.8 187.7 348.8 187.4 348.9 187.0 348.9 186.3 349.0 186.3 349.0 186.5 349.1 186.9 349.1 187.1 349.2 187.3 349.2 187.9 349.3 188.2 349.3 188.1 349.4 187.9 349.4 188.0 349.4 188.4 349.5 188.9 349.5 189.3 349.6 189.7 349.6 189.8 349.7 190.1 349.7 190.5 349.8 190.8 349.8 191.1 349.9 191.1 349.9 191.5 350.0 192.2 350.0 192.8 350.1 193.4 350.1 193.4 350.2 193.9 350.2 194.3 350.3 194.9 350.3 195.1 350.4 195.0 350.4 195.2 350.4 195.4 350.5 195.9 350.5 196.2 350.6 196.7 350.6 197.1 350.7 197.2 350.7 197.3 350.8 197.4 350.8 197.5 350.9 197.9 350.9 198.5 351.0 199.2 351.0 199.6 351.1 199.8 351.1 200.2 351.2 200.4 351.2 200.6 351.3 200.5 351.3 200.9 351.3 201.4 351.4 201.9 351.4 202.0 351.5 202.2 351.5 202.2 351.6 202.5 351.6 202.5 351.7 203.2 351.7 203.8 351.8 204.5 351.8 205.0 351.9 205.1 351.9 205.6 352.0 205.8 352.0 206.3 352.1 206.6 352.1 207.0 352.2 207.2 352.2 207.4 352.3 207.3 352.3 207.3 352.3 207.6 352.4 208.0 352.4 208.3 352.5 208.3 352.5 208.2 352.6 208.5 352.6 208.9 352.7 209.4 352.7 209.7 352.8 210.1 352.8 211.3 352.9 212.4 352.9 212.9 353.0 213.3 353.0 213.6 353.1 214.2 353.1 214.3 353.2 214.2 353.2 214.5 353.3 215.0 353.3 215.5 353.3 216.0 353.4 216.5 353.4 216.7 353.5 216.5 353.5 216.4 353.6 217.3 353.6 218.3 353.7 219.1 353.7 219.5 353.8 219.8 353.8 219.7 353.9 219.7 353.9 220.0 354.0 220.8 354.0 221.6 354.1 222.2 354.1 222.8 354.2 223.1 354.2 223.4 354.2 223.9 354.3 224.6 354.3 225.2 354.4 225.6 354.4 225.8 354.5 226.0 354.5 226.4 354.6 227.0 354.6 227.3 354.7 227.1 354.7 227.3 354.8 227.7 354.8 228.6 354.9 229.6 354.9 230.6 355.0 231.3 355.0 231.3 355.1 230.8 355.1 230.3 355.2 230.0 355.2 229.6 355.2 229.0 355.3 228.4 355.3 227.8 355.4 227.8 355.4 227.8 355.5 227.5 355.5 226.5 355.6 225.5 355.6 224.9 355.7 225.0 355.7 224.8 355.8 224.5 355.8 224.1 355.9 223.7 355.9 223.3 356.0 222.6 356.0 222.3 356.1 221.9 356.1 221.8 356.2 221.2 356.2 220.7 356.2 220.2 356.3 219.7 356.3 219.0 356.4 218.3 356.4 217.5 356.5 217.3 356.5 216.8 356.6 216.5 356.6 216.4 356.7 216.0 356.7 215.9 356.8 215.3 356.8 215.1 356.9 214.8 356.9 214.6 357.0 214.3 357.0 214.2 357.1 213.9 357.1 213.2 357.2 212.7 357.2 212.2 357.2 212.0 357.3 211.5 357.3 210.7 357.4 209.9 357.4 209.2 357.5 208.8 357.5 208.6 357.6 208.0 357.6 207.4 357.7 206.9 357.7 206.9 357.8 206.5 357.8 205.9 357.9 205.0 357.9 204.5 358.0 204.3 358.0 204.2 358.1 204.2 358.1 204.0 358.1 203.6 358.2 203.5 358.2 203.3 358.3 202.8 358.3 202.2 358.4 201.6 358.4 201.5 358.5 201.3 358.5 201.0 358.6 200.6 358.6 200.4 358.7 200.1 358.7 199.7 358.8 198.9 358.8 198.4 358.9 197.7 358.9 197.2 359.0 196.9 359.0 196.7 359.1 196.5 359.1 195.9 359.1 195.4 359.2 194.9 359.2 194.5 359.3 193.8 359.3 193.0 359.4 192.3 359.4 191.9 359.5 191.4 359.5 191.0 359.6 190.7 359.6 190.4 359.7 190.3 359.7 189.7 359.8 189.3 359.8 188.9 359.9 189.0 359.9 189.0 360.0 188.8 360.0 188.7 360.1 188.8 360.1 188.8 360.1 188.8 360.2 188.3 360.2 187.9 360.3 187.1 360.3 186.3 360.4 185.5 360.4 185.2 360.5 185.3 360.5 185.4 360.6 185.4 360.6 185.4 360.7 185.2 360.7 185.0 360.8 184.3 360.8 183.9 360.9 183.4 360.9 183.2 361.0 183.1 361.0 183.1 361.0 183.0 361.1 182.5 361.1 181.8 361.2 181.2 361.2 181.1 361.3 180.7 361.3 180.6 361.4 180.1 361.4 180.0 361.5 179.8 361.5 179.6 361.6 179.4 361.6 179.0 361.7 178.8 361.7 178.5 361.8 178.4 361.8 178.2 361.9 178.1 361.9 177.9 362.0 177.9 362.0 178.0 362.0 178.1 362.1 178.1 362.1 177.8 362.2 177.3 362.2 177.1 362.3 176.9 362.3 177.2 362.4 177.2 362.4 177.3 362.5 177.3 362.5 177.4 362.6 177.4 362.6 177.0 362.7 176.4 362.7 176.1 362.8 175.5 362.8 175.1 362.9 174.8 362.9 174.6 363.0 174.3 363.0 174.0 363.0 173.9 363.1 173.8 363.1 173.6 363.2 173.5 363.2 173.6 363.3 173.6 363.3 173.7 363.4 173.6 363.4 173.9 363.5 173.9 363.5 173.8 363.6 173.6 363.6 173.5 363.7 173.4 363.7 173.5 363.8 173.6 363.8 173.5 363.9 173.1 363.9 172.7 364.0 172.5 364.0 172.4 364.0 172.3 364.1 172.3 364.1 172.2 364.2 172.1 364.2 171.9 364.3 171.8 364.3 171.8 364.4 172.1 364.4 172.4 364.5 172.7 364.5 172.8 364.6 173.0 364.6 173.0 364.7 173.0 364.7 173.2 364.8 173.5 364.8 173.6 364.9 173.8 364.9 174.1 364.9 174.5 365.0 174.8 365.0 174.9 365.1 174.9 365.1 174.5 365.2 174.2 365.2 174.0 365.3 174.0 365.3 174.0 365.4 174.3 365.4 174.5 365.5 174.9 365.5 175.2 365.6 175.7 365.6 176.2 365.7 176.6 365.7 177.0 365.8 177.3 365.8 177.5 365.9 177.5 365.9 177.5 365.9 177.6 366.0 177.7 366.0 178.0 366.1 178.5 366.1 179.3 366.2 180.1 366.2 180.3 366.3 180.5 366.3 180.3 366.4 180.3 366.4 180.1 366.5 179.9 366.5 179.8 366.6 179.5 366.6 179.3 366.7 179.4 366.7 179.8 366.8 180.5 366.8 181.2 366.9 181.8 366.9 182.6 366.9 182.9 367.0 183.0 367.0 183.1 367.1 183.6 367.1 183.9 367.2 184.3 367.2 184.6 367.3 185.2 367.3 185.8 367.4 186.4 367.4 186.7 367.5 186.5 367.5 186.1 367.6 185.7 367.6 185.8 367.7 186.1 367.7 186.9 367.8 187.6 367.8 188.6 367.8 189.2 367.9 189.5 367.9 189.4 368.0 189.2 368.0 189.5 368.1 190.1 368.1 190.8 368.2 191.5 368.2 191.6 368.3 191.5 368.3 191.5 368.4 191.9 368.4 192.6 368.5 193.1 368.5 193.8 368.6 194.3 368.6 194.7 368.7 194.8 368.7 195.2 368.8 195.7 368.8 196.5 368.8 196.8 368.9 197.3 368.9 197.5 369.0 198.1 369.0 198.5 369.1 199.0 369.1 199.7 369.2 199.9 369.2 200.0 369.3 199.8 369.3 199.8 369.4 199.9 369.4 200.0 369.5 200.6 369.5 200.9 369.6 201.3 369.6 201.6 369.7 202.2 369.7 202.8 369.8 203.1 369.8 203.9 369.8 204.6 369.9 205.5 369.9 205.9 370.0 206.7 370.0 207.2 370.1 207.7 370.1 207.9 370.2 208.4 370.2 209.0 370.3 209.6 370.3 210.4 370.4 211.0 370.4 211.5 370.5 211.7 370.5 211.7 370.6 211.9 370.6 211.7 370.7 211.7 370.7 211.9 370.8 212.7 370.8 213.6 370.8 214.2 370.9 214.8 370.9 215.3 371.0 215.5 371.0 215.7 371.1 215.8 371.1 216.4 371.2 216.9 371.2 217.2 371.3 217.3 371.3 217.3 371.4 218.2 371.4 219.1 371.5 219.8 371.5 219.5 371.6 219.5 371.6 220.1 371.7 220.9 371.7 221.8 371.7 222.5 371.8 223.4 371.8 223.9 371.9 223.7 371.9 223.5 372.0 223.9 372.0 224.0 372.1 224.6 372.1 225.0 372.2 226.1 372.2 226.6 372.3 226.9 372.3 226.8 372.4 227.1 372.4 227.6 372.5 228.2 372.5 228.9 372.6 228.6 372.6 228.0 372.7 227.2 372.7 226.7 372.7 226.3 372.8 225.5 372.8 224.7 372.9 224.1 372.9 223.9 373.0 224.0 373.0 224.0 373.1 223.8 373.1 223.3 373.2 222.7 373.2 222.0 373.3 221.2 373.3 220.5 373.4 219.9 373.4 219.4 373.5 219.0 373.5 218.6 373.6 218.5 373.6 218.1 373.7 218.0 373.7 217.4 373.7 217.0 373.8 216.2 373.8 215.6 373.9 215.3 373.9 214.9 374.0 214.5 374.0 213.9 374.1 213.6 374.1 213.1 374.2 212.5 374.2 211.9 374.3 211.8 374.3 211.9 374.4 211.8 374.4 211.1 374.5 210.3 374.5 209.6 374.6 209.2 374.6 208.8 374.7 208.5 374.7 208.3 374.7 208.3 374.8 208.0 374.8 207.6 374.9 207.1 374.9 206.9 375.0 206.7 375.0 206.2 375.1 205.7 375.1 205.4 375.2 205.2 375.2 205.2 375.3 205.3 375.3 205.4 375.4 205.2 375.4 204.6 375.5 204.1 375.5 203.5 375.6 202.9 375.6 202.4 375.6 202.1 375.7 201.7 375.7 201.0 375.8 200.2 375.8 199.5 375.9 199.6 375.9 199.9 376.0 200.2 376.0 199.7 376.1 199.4 376.1 198.7 376.2 198.2 376.2 197.5 376.3 197.2 376.3 197.0 376.4 196.7 376.4 196.4 376.5 196.1 376.5 195.9 376.6 195.8 376.6 195.7 376.6 195.4 376.7 194.8 376.7 194.4 376.8 193.6 376.8 193.0 376.9 192.5 376.9 192.3 377.0 192.0 377.0 191.6 377.1 191.4 377.1 191.3 377.2 190.9 377.2 190.5 377.3 190.1 377.3 190.0 377.4 189.7 377.4 189.5 377.5 189.3 377.5 188.9 377.6 188.4 377.6 188.0 377.6 187.6 377.7 187.5 377.7 187.1 377.8 187.0 377.8 186.4 377.9 185.9 377.9 185.4 378.0 185.1 378.0 184.7 378.1 184.5 378.1 183.9 378.2 183.7 378.2 183.3 378.3 183.2 378.3 182.9 378.4 182.9 378.4 182.8 378.5 182.8 378.5 182.9 378.5 182.9 378.6 182.8 378.6 182.2 378.7 181.9 378.7 181.3 378.8 181.0 378.8 180.6 378.9 180.3 378.9 180.1 379.0 179.9 379.0 179.5 379.1 178.9 379.1 178.2 379.2 177.8 379.2 177.5 379.3 177.7 379.3 177.7 379.4 177.5 379.4 177.1 379.5 176.7 379.5 176.2 379.5 176.0 379.6 175.9 379.6 175.9 379.7 176.2 379.7 176.6 379.8 177.0 379.8 176.9 379.9 176.9 379.9 176.9 380.0 177.2 380.0 177.2 380.1 177.1 380.1 176.8 380.2 176.5 380.2 176.2 380.3 176.1 380.3 176.1 380.4 176.2 380.4 176.0 380.5 176.2 380.5 176.4 380.5 176.7 380.6 176.4 380.6 176.3 380.7 176.3 380.7 176.2 380.8 176.1 380.8 176.3 380.9 176.7 380.9 177.0 381.0 176.9 381.0 176.9 381.1 176.4 381.1 176.2 381.2 176.0 381.2 176.1 381.3 176.4 381.3 176.5 381.4 176.2 381.4 175.9 381.5 175.6 381.5 175.7 381.5 175.7 381.6 175.6 381.6 175.5 381.7 175.3 381.7 175.3 381.8 175.4 381.8 175.8 381.9 176.5 381.9 176.5 382.0 176.4 382.0 176.2 382.1 176.1 382.1 175.9 382.2 175.8 382.2 175.8 382.3 175.7 382.3 175.8 382.4 175.5 382.4 175.6 382.4 175.6 382.5 175.8 382.5 175.8 382.6 176.0 382.6 176.2 382.7 176.6 382.7 176.7 382.8 176.7 382.8 176.7 382.9 176.5 382.9 176.5 383.0 176.2 383.0 176.0 383.1 175.9 383.1 176.4 383.2 176.8 383.2 176.9 383.3 176.8 383.3 176.5 383.4 176.3 383.4 176.1 383.4 176.1 383.5 176.1 383.5 176.1 383.6 176.1 383.6 175.9 383.7 175.9 383.7 176.3 383.8 176.7 383.8 177.0 383.9 177.2 383.9 177.4 384.0 177.5 384.0 177.4 384.1 177.7 384.1 177.8 384.2 177.8 384.2 177.7 384.3 177.8 384.3 178.0 384.4 178.4 384.4 178.5 384.4 179.1 384.5 179.5 384.5 180.4 384.6 181.0 384.6 181.8 384.7 182.2 384.7 182.5 384.8 182.6 384.8 182.8 384.9 183.0 384.9 183.4 385.0 183.6 385.0 184.1 385.1 184.5 385.1 184.9 385.2 185.3 385.2 185.8 385.3 186.3 385.3 186.9 385.3 187.4 385.4 187.7 385.4 188.2 385.5 188.8 385.5 189.4 385.6 189.8 385.6 190.1 385.7 190.3 385.7 190.6 385.8 191.0 385.8 191.6 385.9 192.5 385.9 193.3 386.0 194.0 386.0 194.4 386.1 194.9 386.1 195.1 386.2 195.3 386.2 195.4 386.3 195.7 386.3 196.1 386.3 196.8 386.4 197.3 386.4 197.5 386.5 197.3 386.5 197.1 386.6 197.1 386.6 197.3 386.7 197.9 386.7 198.5 386.8 199.2 386.8 199.9 386.9 200.2 386.9 200.8 387.0 201.2 387.0 201.9 387.1 202.2 387.1 202.7 387.2 203.3 387.2 204.0 387.3 204.6 387.3 205.2 387.3 205.8 387.4 206.2 387.4 206.5 387.5 207.0 387.5 207.3 387.6 207.9 387.6 208.2 387.7 208.6 387.7 208.9 387.8 209.5 387.8 210.3 387.9 211.1 387.9 211.7 388.0 212.0 388.0 212.0 388.1 212.3 388.1 212.7 388.2 213.7 388.2 214.9 388.3 216.0 388.3 216.9 388.3 217.5 388.4 218.3 388.4 218.7 388.5 219.1 388.5 219.5 388.6 219.7 388.6 219.7 388.7 219.7 388.7 220.2 388.8 220.8 388.8 221.1 388.9 221.9 388.9 222.7 389.0 223.8 389.0 224.7 389.1 224.9 389.1 225.5 389.2 226.2 389.2 227.0 389.2 227.4 389.3 227.5 389.3 227.7 389.4 227.8 389.4 228.3 389.5 228.8 389.5 228.8 389.6 228.2 389.6 227.8 389.7 227.5 389.7 227.3 389.8 227.0 389.8 226.7 389.9 226.5 389.9 225.9 390.0 225.5 390.0 224.3 390.1 223.0 390.1 221.5 390.2 220.6 390.2 220.3 390.2 219.8 390.3 219.3 390.3 218.5 390.4 218.2 390.4 217.6 390.5 217.3 390.5 216.7 390.6 216.7 390.6 216.5 390.7 216.1 390.7 215.5 390.8 214.8 390.8 214.1 390.9 213.4 390.9 212.5 391.0 212.2 391.0 211.7 391.1 211.4 391.1 210.9 391.2 210.7 391.2 210.3 391.2 209.8 391.3 209.2 391.3 208.7 391.4 208.0 391.4 207.2 391.5 206.7 391.5 206.2 391.6 205.5 391.6 204.7 391.7 204.4 391.7 204.1 391.8 203.8 391.8 203.3 391.9 202.6 391.9 202.3 392.0 201.5 392.0 201.1 392.1 200.1 392.1 199.6 392.1 199.3 392.2 199.1 392.2 198.8 392.3 198.2 392.3 197.4 392.4 196.9 392.4 196.5 392.5 196.1 392.5 195.6 392.6 195.3 392.6 195.3 392.7 195.0 392.7 194.3 392.8 193.7 392.8 193.5 392.9 193.2 392.9 192.9 393.0 192.4 393.0 192.2 393.1 192.0 393.1 191.7 393.1 191.3 393.2 190.4 393.2 189.3 393.3 188.3 393.3 187.6 393.4 187.2 393.4 186.8 393.5 186.7 393.5 186.5 393.6 186.2 393.6 185.7 393.7 185.5 393.7 185.2 393.8 185.0 393.8 184.6 393.9 184.0 393.9 183.4 394.0 183.2 394.0 183.1 394.1 183.1 394.1 182.9 394.1 182.4 394.2 181.4 394.2 180.4 394.3 179.9 394.3 179.7 394.4 179.9 394.4 179.8 394.5 179.5 394.5 178.8 394.6 178.2 394.6 178.2 394.7 178.1 394.7 177.7 394.8 177.1 394.8 176.7 394.9 176.3 394.9 176.2 395.0 175.9 395.0 175.6 395.1 175.1 395.1 175.0 395.1 174.7 395.2 174.3 395.2 173.7 395.3 173.2 395.3 172.4 395.4 172.0 395.4 171.6 395.5 171.6 395.5 171.6 395.6 171.4 395.6 170.3 395.7 169.5 395.7 169.1 395.8 169.0 395.8 168.7 395.9 168.2 395.9 167.9 396.0 167.8 396.0 167.6 396.0 167.6 396.1 167.1 396.1 166.8 396.2 166.6 396.2 166.7 396.3 166.6 396.3 166.3 396.4 166.3 396.4 166.4 396.5 166.4 396.5 166.3 396.6 166.5 396.6 166.7 396.7 166.6 396.7 166.2 396.8 165.9 396.8 165.9 396.9 166.0 396.9 166.2 397.0 166.3 397.0 166.4 397.0 166.4 397.1 166.0 397.1 165.8 397.2 165.5 397.2 165.6 397.3 165.2 397.3 164.8 397.4 164.4 397.4 164.3 397.5 164.1 397.5 164.0 397.6 163.7 397.6 163.5 397.7 162.9 397.7 162.5 397.8 162.2 397.8 162.1 397.9 162.4 397.9 162.5 398.0 162.6 398.0 162.4 398.0 162.3 398.1 162.3 398.1 162.5 398.2 162.6 398.2 162.3 398.3 162.0 398.3 161.7 398.4 161.5 398.4 161.5 398.5 161.5 398.5 161.9 398.6 161.8 398.6 161.7 398.7 161.5 398.7 161.8 398.8 162.0 398.8 161.9 398.9 161.7 398.9 161.6 399.0 161.6 399.0 161.7 399.0 161.7 399.1 161.7 399.1 161.7 399.2 161.8 399.2 161.9 399.3 162.0 399.3 161.9 399.4 161.9 399.4 161.9 399.5 162.0 399.5 162.2 399.6 162.3 399.6 162.2 399.7 161.8 399.7 161.8 399.8 161.8 399.8 161.9 399.9 161.9 399.9 162.0 399.9 162.2 400.0 162.0 400.0 162.2 400.1 162.4 400.1 162.9 400.2 163.1 400.2 163.3 400.3 163.3 400.3 163.5 400.4 163.9 400.4 164.3 400.5 164.8 400.5 165.0 400.6 165.2 400.6 165.2 400.7 165.4 400.7 165.3 400.8 165.3 400.8 165.5 400.9 165.7 400.9 166.0 400.9 166.3 401.0 167.0 401.0 167.4 401.1 167.7 401.1 167.6 401.2 167.8 401.2 168.1 401.3 168.6 401.3 169.2 401.4 169.6 401.4 169.8 401.5 169.7 401.5 169.9 401.6 170.2 401.6 170.9 401.7 171.2 401.7 171.6 401.8 171.8 401.8 171.9 401.9 172.0 401.9 172.1 401.9 172.9 402.0 173.5 402.0 174.5 402.1 174.9 402.1 175.3 402.2 175.5 402.2 175.6 402.3 175.8 402.3 176.0 402.4 176.4 402.4 177.2 402.5 177.7 402.5 177.9 402.6 177.9 402.6 178.0 402.7 178.6 402.7 178.9 402.8 179.2 402.8 179.5 402.8 180.3 402.9 181.1 402.9 181.5 403.0 181.7 403.0 181.8 403.1 182.3 403.1 183.0 403.2 183.7 403.2 184.1 403.3 184.4 403.3 184.8 403.4 185.3 403.4 185.7 403.5 186.0 403.5 186.5 403.6 187.2 403.6 188.0 403.7 188.7 403.7 189.1 403.8 189.4 403.8 189.8 403.8 189.9 403.9 190.0 403.9 190.2 404.0 190.7 404.0 191.6 404.1 192.2 404.1 192.5 404.2 192.9 404.2 193.5 404.3 194.0 404.3 194.2 404.4 194.4 404.4 194.9 404.5 195.5 404.5 196.2 404.6 196.8 404.6 197.6 404.7 198.3 404.7 199.2 404.8 199.4 404.8 199.3 404.8 198.9 404.9 198.8 404.9 199.3 405.0 199.8 405.0 200.6 405.1 201.1 405.1 201.9 405.2 202.7 405.2 203.4 405.3 203.6 405.3 203.8 405.4 203.7 405.4 203.6 405.5 203.9 405.5 204.7 405.6 206.1 405.6 207.0 405.7 207.9 405.7 208.5 405.8 208.9 405.8 209.0 405.8 209.2 405.9 209.6 405.9 210.3 406.0 210.9 406.0 211.3 406.1 211.8 406.1 212.3 406.2 213.1 406.2 213.6 406.3 213.9 406.3 214.0 406.4 214.6 406.4 215.3 406.5 216.0 406.5 216.7 406.6 216.7 406.6 216.4 406.7 215.4 406.7 214.2 406.7 213.2 406.8 212.4 406.8 212.3 406.9 212.4 406.9 212.3 407.0 211.5 407.0 210.8 407.1 210.3 407.1 209.9 407.2 209.5 407.2 209.4 407.3 209.3 407.3 208.7 407.4 207.8 407.4 207.4 407.5 207.0 407.5 206.8 407.6 205.9 407.6 205.2 407.7 204.2 407.7 203.4 407.7 202.7 407.8 202.0 407.8 201.3 407.9 200.4 407.9 199.6 408.0 199.2 408.0 198.7 408.1 198.4 408.1 198.1 408.2 198.0 408.2 197.9 408.3 197.6 408.3 197.2 408.4 196.6 408.4 195.9 408.5 195.3 408.5 195.2 408.6 194.9 408.6 194.4 408.7 193.5 408.7 192.7 408.7 192.3 408.8 192.2 408.8 192.1 408.9 192.0 408.9 191.9 409.0 191.5 409.0 191.1 409.1 190.1 409.1 189.7 409.2 189.1 409.2 189.0 409.3 188.5 409.3 188.4 409.4 187.9 409.4 187.5 409.5 187.0 409.5 186.5 409.6 185.7 409.6 185.1 409.6 184.5 409.7 184.1 409.7 183.7 409.8 183.1 409.8 182.9 409.9 182.7 409.9 183.1 410.0 183.0 410.0 182.8 410.1 181.6 410.1 180.5 410.2 179.3 410.2 178.8 410.3 178.4 410.3 178.2 410.4 178.0 410.4 177.6 410.5 177.2 410.5 177.0 410.6 177.1 410.6 177.2 410.6 177.2 410.7 176.7 410.7 176.3 410.8 176.0 410.8 175.8 410.9 175.5 410.9 175.0 411.0 174.4 411.0 173.9 411.1 173.8 411.1 173.8 411.2 173.6 411.2 173.5 411.3 173.0 411.3 172.8 411.4 172.4 411.4 171.9 411.5 171.5 411.5 171.1 411.6 171.0 411.6 170.6 411.6 169.8 411.7 169.3 411.7 168.8 411.8 168.8 411.8 168.3 411.9 167.9 411.9 167.8 412.0 167.6 412.0 167.5 412.1 166.9 412.1 166.8 412.2 166.7 412.2 166.5 412.3 166.0 412.3 165.3 412.4 164.7 412.4 164.2 412.5 163.9 412.5 163.5 412.6 163.2 412.6 162.7 412.6 162.4 412.7 162.1 412.7 161.9 412.8 161.5 412.8 161.3 412.9 160.8 412.9 160.4 413.0 159.8 413.0 159.7 413.1 159.5 413.1 159.7 413.2 159.7 413.2 159.8 413.3 159.8 413.3 160.0 413.4 159.9 413.4 159.5 413.5 159.4 413.5 159.7 413.5 159.8 413.6 159.9 413.6 159.9 413.7 160.2 413.7 159.8 413.8 159.6 413.8 159.2 413.9 159.3 413.9 159.5 414.0 159.6 414.0 159.5 414.1 159.6 414.1 159.6 414.2 159.7 414.2 159.6 414.3 159.5 414.3 159.5 414.4 159.5 414.4 159.6 414.5 159.8 414.5 159.9 414.5 160.0 414.6 160.0 414.6 160.2 414.7 160.1 414.7 160.1 414.8 159.9 414.8 159.7 414.9 159.3 414.9 158.6 415.0 158.5 415.0 158.4 415.1 158.5 415.1 158.4 415.2 158.6 415.2 158.7 415.3 158.6 415.3 158.4 415.4 158.3 415.4 158.4 415.5 158.7 415.5 158.7 415.5 158.4 415.6 158.2 415.6 158.2 415.7 158.5 415.7 158.6 415.8 158.7 415.8 158.5 415.9 158.6 415.9 158.7 416.0 158.8 416.0 158.6 416.1 158.2 416.1 158.2 416.2 158.2 416.2 158.3 416.3 158.3 416.3 158.4 416.4 158.6 416.4 158.5 416.4 158.4 416.5 158.2 416.5 158.0 416.6 157.9 416.6 158.0 416.7 158.1 416.7 158.0 416.8 157.9 416.8 157.9 416.9 158.2 416.9 158.4 417.0 158.3 417.0 158.0 417.1 157.9 417.1 157.6 417.2 157.7 417.2 157.6 417.3 157.9 417.3 157.8 417.4 157.7 417.4 157.7 417.4 157.8 417.5 158.1 417.5 158.2 417.6 158.3 417.6 158.4 417.7 158.7 417.7 158.8 417.8 158.6 417.8 158.4 417.9 158.6 417.9 158.5 418.0 158.2 418.0 157.8 418.1 157.9 418.1 158.3 418.2 158.6 418.2 158.8 418.3 158.7 418.3 158.6 418.4 158.3 418.4 158.6 418.4 158.9 418.5 159.3 418.5 159.4 418.6 159.4 418.6 159.3 418.7 159.3 418.7 159.2 418.8 158.9 418.8 158.8 418.9 158.9 418.9 159.2 419.0 159.2 419.0 159.1 419.1 159.1 419.1 159.3 419.2 159.3 419.2 159.4 419.3 159.4 419.3 159.6 419.4 159.6 419.4 159.4 419.4 159.1 419.5 158.9 419.5 158.9 419.6 159.1 419.6 159.3 419.7 159.6 419.7 159.7 419.8 160.2 419.8 160.4 419.9 160.7 419.9 160.8 420.0 160.8 420.0 160.8 420.1 160.6 420.1 160.6 420.2 160.7 420.2 160.4 420.3 160.3 420.3 160.1 420.3 160.3 420.4 160.5 420.4 160.6 420.5 160.6 420.5 161.1 420.6 161.5 420.6 161.7 420.7 161.9 420.7 162.3 420.8 163.0 420.8 163.2 420.9 163.3 420.9 163.3 421.0 163.8 421.0 164.6 421.1 165.4 421.1 166.2 421.2 166.8 421.2 167.5 421.3 168.3 421.3 169.0 421.3 169.4 421.4 170.1 421.4 170.8 421.5 171.3 421.5 171.6 421.6 171.9 421.6 172.8 421.7 173.3 421.7 174.0 421.8 174.7 421.8 175.5 421.9 175.7 421.9 175.9 422.0 176.3 422.0 177.1 422.1 177.7 422.1 177.8 422.2 178.3 422.2 179.2 422.3 180.3 422.3 180.9 422.3 181.3 422.4 181.5 422.4 182.1 422.5 182.9 422.5 183.8 422.6 184.3 422.6 184.6 422.7 185.1 422.7 185.9 422.8 186.6 422.8 187.0 422.9 186.9 422.9 187.2 423.0 187.5 423.0 188.5 423.1 189.5 423.1 190.8 423.2 191.8 423.2 192.8 423.3 193.7 423.3 194.5 423.3 195.1 423.4 195.6 423.4 196.2 423.5 196.7 423.5 197.1 423.6 197.6 423.6 198.1 423.7 199.0 423.7 199.8 423.8 200.6 423.8 201.5 423.9 202.2 423.9 202.7 424.0 203.0 424.0 203.7 424.1 205.0 424.1 206.5 424.2 207.7 424.2 208.4 424.2 209.0 424.3 209.8 424.3 210.5 424.4 211.3 424.4 211.9 424.5 212.7 424.5 212.7 424.6 212.4 424.6 212.3 424.7 212.0 424.7 212.0 424.8 212.1 424.8 211.7 424.9 211.0 424.9 210.1 425.0 209.5 425.0 208.9 425.1 208.4 425.1 208.0 425.2 207.9 425.2 207.4 425.2 206.7 425.3 205.8 425.3 205.2 425.4 204.5 425.4 203.3 425.5 202.5 425.5 201.7 425.6 201.0 425.6 200.2 425.7 199.2 425.7 199.3 425.8 198.9 425.8 198.8 425.9 198.4 425.9 198.1 426.0 197.5 426.0 196.4 426.1 195.4 426.1 194.8 426.2 194.5 426.2 194.4 426.2 194.2 426.3 193.7 426.3 193.2 426.4 192.7 426.4 192.1 426.5 191.4 426.5 190.4 426.6 189.2 426.6 188.5 426.7 188.4 426.7 188.7 426.8 188.9 426.8 188.6 426.9 188.2 426.9 187.8 427.0 187.4 427.0 186.8 427.1 186.0 427.1 185.4 427.1 184.7 427.2 184.0 427.2 183.2 427.3 182.5 427.3 182.0 427.4 181.7 427.4 181.5 427.5 180.9 427.5 180.3 427.6 179.7 427.6 179.1 427.7 178.9 427.7 178.3 427.8 177.8 427.8 177.4 427.9 177.2 427.9 177.1 428.0 176.8 428.0 176.3 428.1 175.7 428.1 175.4 428.1 174.9 428.2 174.5 428.2 174.1 428.3 173.7 428.3 173.5 428.4 173.3 428.4 173.2 428.5 172.8 428.5 171.9 428.6 171.1 428.6 170.1 428.7 169.2 428.7 168.2 428.8 167.4 428.8 166.9 428.9 166.6 428.9 166.5 429.0 166.1 429.0 165.6 429.1 165.3 429.1 165.3 429.1 165.2 429.2 164.9 429.2 164.5 429.3 164.2 429.3 163.8 429.4 163.3 429.4 162.7 429.5 162.1 429.5 161.9 429.6 161.7 429.6 161.5 429.7 161.0 429.7 160.2 429.8 159.9 429.8 159.7 429.9 159.6 429.9 159.0 430.0 158.2 430.0 157.8 430.1 157.6 430.1 157.8 430.1 157.6 430.2 157.5 430.2 157.0 430.3 156.5 430.3 155.9 430.4 155.8 430.4 155.9 430.5 155.8 430.5 155.6 430.6 155.3 430.6 155.1 430.7 154.6 430.7 154.1 430.8 153.6 430.8 153.3 430.9 153.1 430.9 153.0 431.0 152.6 431.0 152.3 431.0 151.9 431.1 151.8 431.1 151.6 431.2 151.5 431.2 151.0 431.3 150.7 431.3 150.3 431.4 149.9 431.4 149.7 431.5 149.5 431.5 149.6 431.6 149.6 431.6 149.7 431.7 149.7 431.7 149.8 431.8 149.7 431.8 149.5 431.9 149.6 431.9 149.3 432.0 149.0 432.0 148.2 432.0 147.9 432.1 148.0 432.1 148.2 432.2 148.4 432.2 148.3 432.3 148.4 432.3 148.2 432.4 148.1 432.4 147.9 432.5 147.4 432.5 147.0 432.6 146.9 432.6 146.9 432.7 147.2 432.7 147.2 432.8 147.5 432.8 147.6 432.9 147.6 432.9 147.4 433.0 147.3 433.0 147.5 433.0 147.6 433.1 147.3 433.1 147.3 433.2 147.4 433.2 147.6 433.3 147.8 433.3 147.8 433.4 147.8 433.4 147.6 433.5 147.5 433.5 147.6 433.6 147.9 433.6 148.2 433.7 148.2 433.7 148.0 433.8 147.7 433.8 147.6 433.9 147.8 433.9 148.0 433.9 148.4 434.0 148.6 434.0 149.0 434.1 149.2 434.1 149.4 434.2 149.6 434.2 149.8 434.3 150.0 434.3 150.3 434.4 150.3 434.4 150.4 434.5 150.3 434.5 150.3 434.6 150.3 434.6 150.5 434.7 150.7 434.7 151.0 434.8 151.1 434.8 151.1 434.9 151.0 434.9 151.0 434.9 151.2 435.0 151.3 435.0 151.6 435.1 151.9 435.1 152.1 435.2 152.6 435.2 152.8 435.3 153.2 435.3 153.3 435.4 153.3 435.4 153.2 435.5 153.3 435.5 153.7 435.6 154.2 435.6 154.7 435.7 155.3 435.7 155.7 435.8 155.8 435.8 156.1 435.9 156.4 435.9 156.7 435.9 156.7 436.0 157.0 436.0 157.1 436.1 157.5 436.1 157.6 436.2 157.7 436.2 158.0 436.3 158.3 436.3 158.9 436.4 159.0 436.4 159.3 436.5 159.7 436.5 160.4 436.6 160.8 436.6 161.1 436.7 161.2 436.7 161.6 436.8 162.1 436.8 162.5 436.9 162.7 436.9 162.9 436.9 163.1 437.0 163.6 437.0 164.4 437.1 165.0 437.1 165.1 437.2 165.1 437.2 165.4 437.3 165.9 437.3 166.0 437.4 165.9 437.4 165.8 437.5 166.0 437.5 166.3 437.6 166.8 437.6 167.2 437.7 167.6 437.7 167.9 437.8 168.0 437.8 168.4 437.8 168.8 437.9 169.5 437.9 169.9 438.0 171.0 438.0 171.8 438.1 172.5 438.1 172.7 438.2 172.8 438.2 173.4 438.3 173.6 438.3 173.8 438.4 173.7 438.4 174.0 438.5 174.4 438.5 174.5 438.6 174.7 438.6 175.3 438.7 176.2 438.7 176.7 438.8 176.8 438.8 177.1 438.8 177.5 438.9 178.0 438.9 178.3 439.0 179.0 439.0 179.8 439.1 180.4 439.1 180.8 439.2 181.0 439.2 181.0 439.3 181.1 439.3 181.4 439.4 182.1 439.4 182.8 439.5 183.5 439.5 184.2 439.6 185.2 439.6 185.7 439.7 186.0 439.7 185.7 439.8 185.9 439.8 186.0 439.8 186.4 439.9 186.6 439.9 187.2 440.0 187.6 440.0 188.3 440.1 188.7 440.1 188.8 440.2 188.9 440.2 188.7 440.3 189.3 440.3 189.7 440.4 190.4 440.4 190.9 440.5 191.7 440.5 192.5 440.6 193.3 440.6 194.0 440.7 194.7 440.7 195.3 440.7 195.6 440.8 196.0 440.8 196.7 440.9 197.2 440.9 197.5 441.0 197.7 441.0 198.0 441.1 197.9 441.1 198.0 441.2 198.6 441.2 198.9 441.3 198.6 441.3 197.8 441.4 197.4 441.4 196.8 441.5 196.2 441.5 195.3 441.6 195.0 441.6 194.6 441.7 194.2 441.7 193.1 441.7 192.4 441.8 192.0 441.8 191.8 441.9 191.6 441.9 191.0 442.0 190.6 442.0 190.1 442.1 189.7 442.1 189.0 442.2 188.5 442.2 188.1 442.3 187.7 442.3 187.3 442.4 186.7 442.4 186.2 442.5 185.9 442.5 185.7 442.6 185.1 442.6 184.1 442.7 183.1 442.7 182.4 442.7 182.0 442.8 181.9 442.8 181.6 442.9 181.0 442.9 180.1 443.0 179.5 443.0 179.0 443.1 178.6 443.1 178.2 443.2 177.9 443.2 177.5 443.3 177.3 443.3 177.2 443.4 176.9 443.4 176.5 443.5 176.4 443.5 176.2 443.6 176.4 443.6 175.6 443.7 174.9 443.7 173.7 443.7 173.2 443.8 173.1 443.8 173.0 443.9 172.7 443.9 172.3 444.0 171.9 444.0 171.4 444.1 170.6 444.1 170.2 444.2 170.3 444.2 170.3 444.3 170.2 444.3 169.5 444.4 168.7 444.4 167.6 444.5 166.8 444.5 166.2 444.6 165.6 444.6 165.2 444.6 164.9 444.7 164.7 444.7 164.5 444.8 164.4 444.8 164.4 444.9 164.3 444.9 164.2 445.0 163.8 445.0 163.4 445.1 162.7 445.1 162.1 445.2 161.7 445.2 161.3 445.3 161.2 445.3 160.7 445.4 160.3 445.4 159.8 445.5 159.5 445.5 159.3 445.6 159.1 445.6 158.8 445.6 158.5 445.7 158.2 445.7 158.0 445.8 157.7 445.8 157.7 445.9 157.3 445.9 156.9 446.0 156.3 446.0 155.9 446.1 155.2 446.1 154.7 446.2 154.2 446.2 154.3 446.3 154.0 446.3 153.8 446.4 153.3 446.4 153.2 446.5 152.9 446.5 152.8 446.6 152.4 446.6 152.1 446.6 151.8 446.7 151.6 446.7 151.5 446.8 151.4 446.8 151.1 446.9 150.9 446.9 150.5 447.0 150.2 447.0 150.0 447.1 150.0 447.1 149.8 447.2 149.6 447.2 149.5 447.3 149.4 447.3 149.1 447.4 148.8 447.4 148.8 447.5 149.0 447.5 149.2 447.6 149.1 447.6 148.7 447.6 148.3 447.7 147.8 447.7 147.6 447.8 147.4 447.8 147.5 447.9 147.2 447.9 147.1 448.0 147.0 448.0 146.9 448.1 146.6 448.1 146.0 448.2 145.4 448.2 144.8 448.3 144.7 448.3 144.7 448.4 144.8 448.4 144.6 448.5 144.5 448.5 144.3 448.5 144.1 448.6 143.6 448.6 143.0 448.7 142.6 448.7 142.7 448.8 142.7 448.8 142.5 448.9 142.0 448.9 141.9 449.0 141.8 449.0 141.7 449.1 141.5 449.1 141.4 449.2 141.4 449.2 141.4 449.3 141.4 449.3 141.3 449.4 141.1 449.4 140.9 449.5 140.6 449.5 140.5 449.5 140.1 449.6 139.9 449.6 139.8 449.7 139.8 449.7 140.0 449.8 140.2 449.8 140.4 449.9 140.1 449.9 139.6 450.0 139.4 450.0 139.3 450.1 139.4 450.1 139.3 450.2 139.3 450.2 139.3 450.3 139.3 450.3 139.4 450.4 139.5 450.4 139.7 450.5 139.8 450.5 139.9 450.5 140.0 450.6 140.2 450.6 140.3 450.7 140.2 450.7 140.0 450.8 140.1 450.8 140.2 450.9 140.3 450.9 140.2 451.0 140.1 451.0 140.2 451.1 140.4 451.1 140.8 451.2 141.2 451.2 141.2 451.3 141.0 451.3 141.1 451.4 141.3 451.4 141.8 451.4 141.8 451.5 141.8 451.5 141.9 451.6 142.1 451.6 142.3 451.7 142.4 451.7 142.6 451.8 142.9 451.8 143.1 451.9 143.4 451.9 143.7 452.0 144.0 452.0 144.2 452.1 144.3 452.1 144.6 452.2 144.9 452.2 145.4 452.3 145.5 452.3 145.7 452.4 145.8 452.4 145.9 452.4 146.3 452.5 146.5 452.5 146.9 452.6 147.1 452.6 147.4 452.7 147.4 452.7 147.4 452.8 147.2 452.8 147.3 452.9 147.5 452.9 148.1 453.0 148.5 453.0 148.6 453.1 148.7 453.1 149.0 453.2 149.4 453.2 149.9 453.3 150.2 453.3 150.6 453.4 151.4 453.4 152.2 453.4 152.6 453.5 152.5 453.5 152.8 453.6 153.3 453.6 154.0 453.7 154.0 453.7 154.1 453.8 154.2 453.8 154.5 453.9 154.9 453.9 155.1 454.0 155.4 454.0 155.8 454.1 156.2 454.1 156.7 454.2 156.9 454.2 157.2 454.3 157.4 454.3 158.2 454.4 158.6 454.4 158.6 454.4 158.7 454.5 158.8 454.5 159.2 454.6 159.4 454.6 160.0 454.7 160.5 454.7 160.8 454.8 161.0 454.8 161.6 454.9 162.0 454.9 162.2 455.0 162.4 455.0 163.1 455.1 163.9 455.1 164.4 455.2 164.8 455.2 165.0 455.3 165.4 455.3 165.9 455.3 166.4 455.4 166.7 455.4 166.6 455.5 166.9 455.5 167.1 455.6 167.7 455.6 168.2 455.7 168.6 455.7 169.0 455.8 169.4 455.8 170.1 455.9 170.6 455.9 171.1 456.0 171.3 456.0 171.6 456.1 171.8 456.1 172.1 456.2 172.2 456.2 172.3 456.3 172.7 456.3 173.1 456.3 173.3 456.4 173.8 456.4 174.6 456.5 175.5 456.5 176.3 456.6 177.2 456.6 177.7 456.7 178.2 456.7 178.3 456.8 178.5 456.8 178.8 456.9 179.2 456.9 179.8 457.0 180.4 457.0 180.9 457.1 181.3 457.1 181.6 457.2 181.8 457.2 182.2 457.3 182.7 457.3 183.6 457.3 184.2 457.4 185.0 457.4 185.2 457.5 185.3 457.5 185.3 457.6 185.3 457.6 185.3 457.7 185.4 457.7 186.0 457.8 187.2 457.8 188.2 457.9 189.0 457.9 189.6 458.0 190.2 458.0 190.9 458.1 191.2 458.1 191.7 458.2 192.0 458.2 192.5 458.2 193.1 458.3 193.3 458.3 193.6 458.4 193.6 458.4 194.1 458.5 194.9 458.5 195.1 458.6 194.4 458.6 193.6 458.7 192.6 458.7 192.2 458.8 191.7 458.8 190.7 458.9 189.9 458.9 189.4 459.0 189.4 459.0 189.0 459.1 188.3 459.1 187.0 459.2 186.0 459.2 185.3 459.2 185.1 459.3 184.6 459.3 184.4 459.4 183.8 459.4 183.3 459.5 182.6 459.5 182.3 459.6 181.7 459.6 180.8 459.7 179.9 459.7 179.2 459.8 178.5 459.8 178.0 459.9 177.5 459.9 177.6 460.0 177.4 460.0 177.1 460.1 176.6 460.1 176.3 460.2 176.1 460.2 176.0 460.2 175.8 460.3 175.2 460.3 174.4 460.4 173.8 460.4 173.1 460.5 172.4 460.5 171.7 460.6 171.3 460.6 170.8 460.7 170.2 460.7 169.7 460.8 169.2 460.8 168.8 460.9 168.1 460.9 167.6 461.0 167.0 461.0 166.6 461.1 166.2 461.1 165.7 461.2 165.2 461.2 164.7 461.2 164.1 461.3 163.9 461.3 163.6 461.4 163.6 461.4 163.2 461.5 162.5 461.5 161.9 461.6 161.2 461.6 160.7 461.7 159.9 461.7 159.0 461.8 158.3 461.8 158.3 461.9 158.7 461.9 159.1 462.0 158.8 462.0 158.4 462.1 158.0 462.1 157.9 462.1 157.7 462.2 157.3 462.2 157.1 462.3 156.6 462.3 156.2 462.4 155.4 462.4 154.8 462.5 154.4 462.5 154.0 462.6 153.5 462.6 152.8 462.7 152.0 462.7 151.6 462.8 151.5 462.8 151.1 462.9 150.7 462.9 150.2 463.0 150.2 463.0 150.4 463.1 150.6 463.1 150.1 463.1 149.5 463.2 148.8 463.2 148.5 463.3 147.7 463.3 146.8 463.4 146.2 463.4 146.1 463.5 146.3 463.5 146.3 463.6 146.2 463.6 145.5 463.7 144.4 463.7 143.6 463.8 143.3 463.8 143.1 463.9 142.8 463.9 142.6 464.0 142.7 464.0 142.5 464.1 142.0 464.1 141.1 464.1 140.5 464.2 139.9 464.2 139.6 464.3 139.3 464.3 139.0 464.4 138.4 464.4 138.0 464.5 137.8 464.5 137.9 464.6 138.2 464.6 138.5 464.7 138.4 464.7 138.1 464.8 138.0 464.8 138.1 464.9 138.1 464.9 138.1 465.0 138.5 465.0 138.7 465.0 138.7 465.1 138.3 465.1 138.3 465.2 138.7 465.2 138.9 465.3 138.7 465.3 138.2 465.4 138.1 465.4 138.0 465.5 138.1 465.5 138.2 465.6 138.4 465.6 138.4 465.7 138.5 465.7 138.2 465.8 138.0 465.8 137.9 465.9 137.6 465.9 137.7 466.0 137.6 466.0 137.6 466.0 137.3 466.1 137.4 466.1 137.5 466.2 137.5 466.2 137.1 466.3 137.2 466.3 137.5 466.4 137.9 466.4 138.0 466.5 137.8 466.5 137.6 466.6 137.3 466.6 137.2 466.7 137.2 466.7 137.5 466.8 137.9 466.8 137.9 466.9 137.6 466.9 137.4 467.0 137.1 467.0 137.3 467.0 137.8 467.1 138.3 467.1 138.4 467.2 138.1 467.2 137.9 467.3 137.8 467.3 137.4 467.4 137.0 467.4 136.9 467.5 137.2 467.5 137.1 467.6 136.9 467.6 136.6 467.7 136.4 467.7 136.2 467.8 136.2 467.8 136.3 467.9 136.4 467.9 136.2 468.0 136.1 468.0 136.2 468.0 136.4 468.1 136.7 468.1 136.8 468.2 136.9 468.2 136.9 468.3 137.1 468.3 137.2 468.4 137.4 468.4 137.4 468.5 137.4 468.5 137.3 468.6 137.3 468.6 137.6 468.7 137.7 468.7 137.8 468.8 137.6 468.8 137.8 468.9 137.7 468.9 137.7 468.9 137.5 469.0 137.4 469.0 137.0 469.1 136.5 469.1 136.3 469.2 136.6 469.2 136.8 469.3 136.9 469.3 136.6 469.4 136.5 469.4 136.7 469.5 136.9 469.5 137.1 469.6 137.1 469.6 137.1 469.7 137.2 469.7 137.4 469.8 137.3 469.8 137.3 469.9 137.2 469.9 137.1 469.9 137.0 470.0 137.3 470.0 137.5 470.1 137.8 470.1 137.9 470.2 138.1 470.2 138.4 470.3 138.4 470.3 138.2 470.4 137.9 470.4 137.8 470.5 137.8 470.5 137.7 470.6 138.0 470.6 138.1 470.7 138.3 470.7 138.1 470.8 138.1 470.8 137.9 470.9 137.9 470.9 137.8 470.9 137.6 471.0 137.6 471.0 137.8 471.1 138.3 471.1 138.7 471.2 139.3 471.2 139.8 471.3 140.1 471.3 140.4 471.4 140.8 471.4 141.2 471.5 141.8 471.5 142.4 471.6 142.8 471.6 143.2 471.7 143.8 471.7 144.6 471.8 145.2 471.8 145.3 471.9 145.5 471.9 145.6 471.9 146.3 472.0 146.8 472.0 147.3 472.1 147.9 472.1 148.5 472.2 149.0 472.2 149.2 472.3 149.6 472.3 149.9 472.4 150.6 472.4 151.2 472.5 151.5 472.5 152.0 472.6 152.1 472.6 152.8 472.7 153.0 472.7 153.2 472.8 153.6 472.8 154.2 472.8 154.9 472.9 155.2 472.9 155.4 473.0 155.8 473.0 156.5 473.1 157.0 473.1 157.2 473.2 157.4 473.2 157.7 473.3 158.1 473.3 158.1 473.4 158.3 473.4 158.8 473.5 159.7 473.5 160.5 473.6 161.3 473.6 162.0 473.7 162.8 473.7 163.9 473.8 164.7 473.8 165.2 473.8 165.1 473.9 165.2 473.9 165.4 474.0 165.8 474.0 166.1 474.1 166.4 474.1 166.8 474.2 167.1 474.2 167.5 474.3 168.1 474.3 169.2 474.4 170.0 474.4 170.7 474.5 170.8 474.5 171.1 474.6 171.3 474.6 171.7 474.7 171.9 474.7 172.5 474.8 173.0 474.8 173.9 474.8 174.4 474.9 175.3 474.9 176.1 475.0 177.0 475.0 178.1 475.1 179.0 475.1 179.6 475.2 180.1 475.2 180.6 475.3 180.8 475.3 180.9 475.4 181.2 475.4 181.7 475.5 182.4 475.5 183.1 475.6 184.2 475.6 185.0 475.7 185.7 475.7 186.1 475.7 186.7 475.8 187.5 475.8 188.4 475.9 189.1 475.9 189.8 476.0 190.7 476.0 190.6 476.1 190.1 476.1 189.7 476.2 189.0 476.2 188.3 476.3 187.7 476.3 187.2 476.4 186.8 476.4 186.1 476.5 185.4 476.5 184.6 476.6 184.0 476.6 183.2 476.7 182.2 476.7 181.1 476.7 180.3 476.8 179.6 476.8 179.1 476.9 178.6 476.9 177.7 477.0 176.7 477.0 175.6 477.1 175.2 477.1 174.8 477.2 174.1 477.2 173.3 477.3 172.5 477.3 171.9 477.4 171.3 477.4 170.6 477.5 170.1 477.5 169.6 477.6 169.5 477.6 168.8 477.7 168.1 477.7 167.4 477.7 166.9 477.8 166.5 477.8 166.1 477.9 166.0 477.9 165.7 478.0 165.4 478.0 164.7 478.1 164.1 478.1 163.6 478.2 163.1 478.2 162.7 478.3 162.2 478.3 161.4 478.4 160.6 478.4 159.7 478.5 159.3 478.5 158.9 478.6 158.6 478.6 158.1 478.7 157.6 478.7 157.0 478.7 156.5 478.8 156.2 478.8 155.4 478.9 154.5 478.9 153.7 479.0 153.1 479.0 152.4 479.1 151.6 479.1 151.2 479.2 151.0 479.2 150.4 479.3 149.6 479.3 148.7 479.4 148.5 479.4 148.0 479.5 147.6 479.5 147.2 479.6 146.9 479.6 146.3 479.6 145.7 479.7 145.2 479.7 145.0 479.8 145.1 479.8 144.8 479.9 144.5 479.9 143.9 480.0 143.2 480.0 142.4 480.1 141.6 480.1 141.1 480.2 140.5 480.2 140.0 480.3 139.6 480.3 139.1 480.4 138.7 480.4 138.3 480.5 138.2 480.5 137.9 480.6 137.5 480.6 137.0 480.6 136.5 480.7 135.5 480.7 134.9 480.8 134.4 480.8 134.5 480.9 134.4 480.9 134.3 481.0 133.8 481.0 133.3 481.1 132.9 481.1 132.6 481.2 132.4 481.2 132.1 481.3 131.6 481.3 131.0 481.4 130.4 481.4 129.8 481.5 129.6 481.5 129.6 481.6 129.7 481.6 129.6 481.6 129.1 481.7 128.6 481.7 128.1 481.8 127.8 481.8 127.5 481.9 127.2 481.9 126.9 482.0 126.8 482.0 126.5 482.1 126.0 482.1 125.6 482.2 125.2 482.2 125.2 482.3 125.3 482.3 125.4 482.4 125.7 482.4 125.7 482.5 125.6 482.5 125.0 482.5 124.7 482.6 124.4 482.6 124.1 482.7 123.8 482.7 123.3 482.8 122.9 482.8 122.5 482.9 122.5 482.9 122.5 483.0 122.6 483.0 122.7 483.1 122.6 483.1 122.8 483.2 123.0 483.2 123.1 483.3 123.1 483.3 123.1 483.4 123.3 483.4 123.2 483.5 123.1 483.5 122.7 483.5 122.4 483.6 122.4 483.6 122.6 483.7 122.7 483.7 122.5 483.8 122.7 483.8 122.9 483.9 123.5 483.9 123.6 484.0 123.6 484.0 123.4 484.1 123.2 484.1 123.1 484.2 123.2 484.2 123.4 484.3 123.4 484.3 123.4 484.4 123.5 484.4 123.9 484.5 124.1 484.5 124.3 484.5 124.4 484.6 124.8 484.6 125.1 484.7 125.3 484.7 125.3 484.8 125.1 484.8 124.7 484.9 124.5 484.9 124.6 485.0 124.8 485.0 125.0 485.1 124.8 485.1 124.9 485.2 125.5 485.2 126.2 485.3 126.5 485.3 126.8 485.4 127.0 485.4 127.3 485.5 127.7 485.5 128.1 485.5 128.3 485.6 128.1 485.6 127.8 485.7 127.7 485.7 127.7 485.8 128.0 485.8 128.5 485.9 128.9 485.9 129.0 486.0 128.8 486.0 128.4 486.1 128.2 486.1 128.5 486.2 128.9 486.2 129.0 486.3 129.0 486.3 129.4 486.4 129.8 486.4 129.9 486.4 129.9 486.5 130.0 486.5 130.2 486.6 130.5 486.6 130.8 486.7 130.9 486.7 130.8 486.8 130.7 486.8 131.0 486.9 130.9 486.9 130.9 487.0 130.6 487.0 130.8 487.1 131.0 487.1 131.4 487.2 131.6 487.2 131.9 487.3 131.9 487.3 132.1 487.4 132.4 487.4 132.8 487.4 132.8 487.5 132.9 487.5 133.0 487.6 133.6 487.6 133.8 487.7 134.0 487.7 134.1 487.8 134.2 487.8 134.5 487.9 134.8 487.9 135.2 488.0 135.9 488.0 136.4 488.1 136.9 488.1 137.2 488.2 137.3 488.2 137.3 488.3 137.2 488.3 137.2 488.4 137.7 488.4 138.1 488.4 138.7 488.5 138.8 488.5 139.3 488.6 139.6 488.6 139.7 488.7 139.5 488.7 139.6 488.8 139.7 488.8 140.0 488.9 139.9 488.9 139.9 489.0 140.1 489.0 140.5 489.1 141.1 489.1 141.6 489.2 142.1 489.2 142.5 489.3 143.0 489.3 143.5 489.3 143.9 489.4 144.4 489.4 144.7 489.5 145.3 489.5 145.7 489.6 146.0 489.6 146.0 489.7 146.1 489.7 146.3 489.8 146.6 489.8 146.6 489.9 146.9 489.9 146.9 490.0 147.0 490.0 147.1 490.1 147.5 490.1 148.3 490.2 148.7 490.2 149.1 490.3 149.5 490.3 149.9 490.3 150.0 490.4 150.2 490.4 150.4 490.5 150.8 490.5 150.6 490.6 150.4 490.6 150.6 490.7 151.2 490.7 152.2 490.8 152.9 490.8 153.4 490.9 153.6 490.9 153.9 491.0 154.4 491.0 155.1 491.1 155.6 491.1 155.5 491.2 155.5 491.2 155.8 491.3 156.3 491.3 156.8 491.3 157.5 491.4 157.9 491.4 158.4 491.5 158.6 491.5 159.4 491.6 159.9 491.6 160.2 491.7 160.5 491.7 160.5 491.8 160.8 491.8 160.9 491.9 161.6 491.9 162.1 492.0 162.3 492.0 162.3 492.1 162.6 492.1 163.1 492.2 163.5 492.2 164.1 492.3 164.3 492.3 165.0 492.3 165.6 492.4 166.5 492.4 166.8 492.5 167.3 492.5 167.7 492.6 168.2 492.6 168.3 492.7 167.9 492.7 167.6 492.8 167.3 492.8 167.6 492.9 168.5 492.9 169.6 493.0 170.6 493.0 171.2 493.1 171.9 493.1 172.5 493.2 173.3 493.2 173.5 493.2 173.5 493.3 173.6 493.3 174.0 493.4 174.4 493.4 174.9 493.5 175.4 493.5 176.3 493.6 176.8 493.6 177.0 493.7 177.0 493.7 177.1 493.8 177.4 493.8 177.5 493.9 177.7 493.9 178.3 494.0 179.4 494.0 180.1 494.1 179.3 494.1 178.2 494.2 177.3 494.2 176.6 494.2 176.3 494.3 176.3 494.3 176.5 494.4 176.2 494.4 176.0 494.5 175.3 494.5 174.6 494.6 174.1 494.6 173.4 494.7 172.6 494.7 171.8 494.8 171.1 494.8 170.5 494.9 169.7 494.9 168.9 495.0 168.2 495.0 167.4 495.1 166.7 495.1 166.2 495.2 165.7 495.2 165.2 495.2 164.6 495.3 164.1 495.3 164.0 495.4 163.8 495.4 163.6 495.5 163.1 495.5 162.5 495.6 161.9 495.6 161.3 495.7 160.8 495.7 160.0 495.8 159.1 495.8 158.4 495.9 158.0 495.9 157.8 496.0 157.5 496.0 157.2 496.1 157.0 496.1 156.8 496.2 157.0 496.2 156.9 496.2 156.2 496.3 155.3 496.3 154.5 496.4 154.1 496.4 153.5 496.5 153.1 496.5 152.7 496.6 152.3 496.6 152.2 496.7 151.9 496.7 151.6 496.8 151.3 496.8 150.9 496.9 150.4 496.9 149.6 497.0 148.9 497.0 148.3 497.1 148.0 497.1 147.8 497.1 147.5 497.2 146.7 497.2 145.6 497.3 144.7 497.3 144.4 497.4 144.3 497.4 144.0 497.5 143.7 497.5 143.5 497.6 143.1 497.6 142.4 497.7 141.9 497.7 142.0 497.8 142.2 497.8 142.0 497.9 141.4 497.9 140.8 498.0 140.5 498.0 140.3 498.1 139.8 498.1 139.2 498.1 138.7 498.2 138.3 498.2 137.9 498.3 137.6 498.3 137.3 498.4 137.2 498.4 136.7 498.5 136.2 498.5 135.7 498.6 135.3 498.6 134.8 498.7 134.6 498.7 134.3 498.8 134.0 498.8 133.5 498.9 133.1 498.9 133.2 499.0 132.9 499.0 132.9 499.1 132.9 499.1 132.8 499.1 132.3 499.2 131.5 499.2 130.7 499.3 129.9 499.3 129.2 499.4 128.5 499.4 128.2 499.5 128.1 499.5 127.5 499.6 126.5 499.6 125.6 499.7 125.2 499.7 124.9 499.8 124.9 499.8 124.5 499.9 124.4 499.9 124.1 500.0 123.8 500.0 123.8 500.0 123.9 500.1 124.5 500.1 124.8 500.2 125.0 500.2 125.0 500.3 124.8 500.3 124.8 500.4 124.7 500.4 124.9 500.5 124.9 500.5 125.1 500.6 124.9 500.6 125.0 500.7 124.6 500.7 124.6 500.8 124.3 500.8 124.1 500.9 123.8 500.9 123.8 501.0 123.9 501.0 124.4 501.0 124.4 501.1 124.5 501.1 124.3 501.2 124.2 501.2 124.1 501.3 123.5 501.3 123.1 501.4 122.5 501.4 122.2 501.5 121.9 501.5 122.1 501.6 122.2 501.6 122.2 501.7 122.0 501.7 122.1 501.8 122.3 501.8 122.4 501.9 122.7 501.9 122.8 502.0 122.9 502.0 122.6 502.0 121.9 502.1 121.3 502.1 121.1 502.2 121.2 502.2 120.9 502.3 120.8 502.3 120.7 502.4 121.0 502.4 121.0 502.5 120.6 502.5 120.3 502.6 120.5 502.6 121.0 502.7 121.2 502.7 121.0 502.8 120.8 502.8 120.7 502.9 120.8 502.9 121.3 503.0 121.7 503.0 121.9 503.0 121.8 503.1 121.9 503.1 121.9 503.2 122.1 503.2 122.1 503.3 122.2 503.3 122.0 503.4 121.6 503.4 121.3 503.5 121.3 503.5 121.2 503.6 121.1 503.6 120.9 503.7 120.9 503.7 120.8 503.8 120.7 503.8 120.6 503.9 120.7 503.9 121.1 503.9 121.6 504.0 122.1 504.0 122.3 504.1 122.4 504.1 122.5 504.2 122.6 504.2 122.8 504.3 123.3 504.3 123.5 504.4 123.6 504.4 123.6 504.5 123.7 504.5 123.8 504.6 123.8 504.6 124.2 504.7 124.8 504.7 125.4 504.8 125.3 504.8 125.3 504.9 125.3 504.9 125.8 504.9 126.1 505.0 126.3 505.0 126.7 505.1 127.3 505.1 127.8 505.2 127.9 505.2 127.7 505.3 127.6 505.3 127.5 505.4 127.7 505.4 128.0 505.5 128.4 505.5 128.4 505.6 128.6 505.6 128.8 505.7 129.0 505.7 129.3 505.8 129.9 505.8 130.5 505.9 130.8 505.9 131.2 505.9 131.3 506.0 131.7 506.0 131.9 506.1 132.4 506.1 132.7 506.2 132.9 506.2 132.7 506.3 132.4 506.3 132.4 506.4 132.7 506.4 133.1 506.5 133.4 506.5 133.8 506.6 134.0 506.6 134.4 506.7 134.4 506.7 134.7 506.8 134.9 506.8 135.4 506.8 136.1 506.9 136.9 506.9 137.6 507.0 138.1 507.0 138.3 507.1 138.6 507.1 138.4 507.2 138.6 507.2 138.3 507.3 138.6 507.3 139.4 507.4 140.2 507.4 140.9 507.5 141.4 507.5 141.8 507.6 142.5 507.6 142.8 507.7 143.3 507.7 143.8 507.8 144.3 507.8 144.8 507.8 145.1 507.9 145.4 507.9 145.0 508.0 144.6 508.0 144.5 508.1 145.1 508.1 145.9 508.2 146.6 508.2 146.9 508.3 147.1 508.3 147.3 508.4 147.8 508.4 147.9 508.5 148.5 508.5 148.9 508.6 149.7 508.6 150.0 508.7 150.7 508.7 151.6 508.8 152.4 508.8 152.9 508.8 153.4 508.9 154.0 508.9 154.5 509.0 154.6 509.0 154.7 509.1 155.1 509.1 155.8 509.2 155.9 509.2 155.9 509.3 155.8 509.3 156.2 509.4 156.3 509.4 156.2 509.5 156.7 509.5 157.7 509.6 158.7 509.6 159.4 509.7 160.3 509.7 161.0 509.8 161.8 509.8 162.1 509.8 162.5 509.9 162.9 509.9 163.7 510.0 164.5 510.0 164.8 510.1 164.7 510.1 164.7 510.2 165.6 510.2 166.5 510.3 167.4 510.3 167.7 510.4 168.1 510.4 168.4 510.5 168.9 510.5 168.6 510.6 168.2 510.6 168.0 510.7 168.6 510.7 169.2 510.7 169.7 510.8 170.3 510.8 170.8 510.9 171.1 510.9 171.2 511.0 171.3 511.0 170.7 511.1 169.9 511.1 169.4 511.2 169.4 511.2 169.5 511.3 169.1 511.3 168.2 511.4 167.0 511.4 166.1 511.5 165.4 511.5 164.8 511.6 163.9 511.6 162.9 511.7 162.1 511.7 161.3 511.7 160.4 511.8 159.6 511.8 159.5 511.9 159.0 511.9 158.4 512.0 157.3 512.0 156.6 512.1 156.3 512.1 156.0 512.2 155.4 512.2 154.4 512.3 153.7 512.3 152.7 512.4 152.0 512.4 150.9 512.5 150.3 512.5 149.7 512.6 149.0 512.6 148.2 512.7 147.7 512.7 147.4 512.7 147.0 512.8 146.4 512.8 146.1 512.9 145.7 512.9 145.1 513.0 144.2 513.0 143.6 513.1 143.1 513.1 142.8 513.2 142.0 513.2 141.1 513.3 140.1 513.3 139.5 513.4 138.8 513.4 138.0 513.5 137.3 513.5 136.4 513.6 136.0 513.6 135.9 513.6 136.2 513.7 136.0 513.7 135.4 513.8 134.3 513.8 133.1 513.9 132.1 513.9 131.4 514.0 130.9 514.0 130.1 514.1 129.5 514.1 128.8 514.2 128.5 514.2 128.1 514.3 127.6 514.3 127.2 514.4 126.9 514.4 126.6 514.5 126.1 514.5 125.6 514.6 125.1 514.6 124.6 514.6 124.2 514.7 123.6 514.7 123.1 514.8 122.3 514.8 121.6 514.9 120.9 514.9 120.6 515.0 120.4 515.0 120.4 515.1 119.9 515.1 119.4 515.2 118.9 515.2 118.6 515.3 118.5 515.3 118.5 515.4 118.7 515.4 118.7 515.5 118.7 515.5 118.7 515.6 118.3 515.6 117.6 515.6 117.0 515.7 116.7 515.7 116.8 515.8 116.7 515.8 116.5 515.9 116.3 515.9 116.2 516.0 116.1 516.0 116.0 516.1 116.0 516.1 116.1 516.2 116.2 516.2 116.0 516.3 115.8 516.3 115.4 516.4 115.2 516.4 115.2 516.5 114.9 516.5 115.0 516.6 114.8 516.6 114.9 516.6 114.7 516.7 114.9 516.7 115.0 516.8 115.3 516.8 115.7 516.9 115.9 516.9 116.2 517.0 116.0 517.0 115.8 517.1 115.9 517.1 116.3 517.2 116.7 517.2 116.5 517.3 116.1 517.3 115.9 517.4 115.6 517.4 115.3 517.5 115.0 517.5 114.8 517.5 114.7 517.6 115.2 517.6 115.5 517.7 116.1 517.7 116.1 517.8 115.8 517.8 115.3 517.9 115.4 517.9 115.8 518.0 116.2 518.0 116.3 518.1 116.2 518.1 116.1 518.2 116.4 518.2 116.6 518.3 117.0 518.3 117.0 518.4 117.0 518.4 117.0 518.5 117.2 518.5 117.7 518.5 118.1 518.6 118.1 518.6 117.7 518.7 117.5 518.7 117.5 518.8 117.6 518.8 117.7 518.9 117.6 518.9 117.7 519.0 117.8 519.0 118.1 519.1 118.3 519.1 118.6 519.2 119.0 519.2 119.3 519.3 119.6 519.3 119.7 519.4 119.8 519.4 119.9 519.5 120.0 519.5 120.2 519.5 120.1 519.6 120.1 519.6 120.1 519.7 120.5 519.7 120.7 519.8 120.9 519.8 121.0 519.9 121.3 519.9 121.5 520.0 121.6 520.0 121.6 520.1 122.0 520.1 122.5 520.2 123.3 520.2 123.7 520.3 123.6 520.3 123.0 520.4 122.8 520.4 122.6 520.5 122.8 520.5 123.0 520.5 123.6 520.6 124.2 520.6 124.8 520.7 124.9 520.7 124.6 520.8 124.4 520.8 124.5 520.9 124.8 520.9 125.1 521.0 125.7 521.0 126.4 521.1 127.0 521.1 127.3 521.2 127.5 521.2 127.5 521.3 127.5 521.3 127.5 521.4 127.7 521.4 127.7 521.4 128.1 521.5 128.3 521.5 128.6 521.6 128.7 521.6 129.1 521.7 129.5 521.7 129.7 521.8 129.6 521.8 129.6 521.9 129.5 521.9 129.7 522.0 129.8 522.0 129.9 522.1 130.2 522.1 130.6 522.2 130.9 522.2 131.1 522.3 131.2 522.3 131.5 522.4 131.8 522.4 132.3 522.4 133.0 522.5 133.3 522.5 133.5 522.6 133.5 522.6 134.0 522.7 134.3 522.7 134.8 522.8 134.4 522.8 134.4 522.9 134.6 522.9 135.0 523.0 135.1 523.0 135.4 523.1 135.8 523.1 136.2 523.2 136.5 523.2 136.6 523.3 137.0 523.3 137.4 523.4 137.9 523.4 138.3 523.4 138.8 523.5 138.7 523.5 138.8 523.6 138.8 523.6 139.1 523.7 139.3 523.7 139.2 523.8 139.4 523.8 139.5 523.9 139.9 523.9 140.2 524.0 140.6 524.0 141.0 524.1 141.1 524.1 141.3 524.2 141.6 524.2 142.3 524.3 142.6 524.3 142.7 524.3 142.7 524.4 143.1 524.4 143.5 524.5 144.0 524.5 144.3 524.6 144.6 524.6 145.2 524.7 145.7 524.7 146.0 524.8 146.3 524.8 146.6 524.9 146.7 524.9 146.7 525.0 146.6 525.0 146.9 525.1 147.3 525.1 148.0 525.2 148.5 525.2 148.7 525.3 148.5 525.3 148.5 525.3 148.7 525.4 149.1 525.4 149.4 525.5 149.8 525.5 150.4 525.6 151.0 525.6 151.4 525.7 151.9 525.7 152.0 525.8 152.6 525.8 152.8 525.9 153.2 525.9 153.4 526.0 154.0 526.0 154.4 526.1 154.8 526.1 154.9 526.2 155.1 526.2 155.1 526.3 155.1 526.3 155.2 526.3 155.7 526.4 155.9 526.4 156.1 526.5 155.7 526.5 155.3 526.6 155.2 526.6 155.4 526.7 156.0 526.7 156.4 526.8 157.1 526.8 157.6 526.9 158.1 526.9 158.3 527.0 158.2 527.0 158.7 527.1 159.2 527.1 159.9 527.2 160.3 527.2 161.1 527.3 161.4 527.3 161.7 527.3 161.8 527.4 162.4 527.4 163.1 527.5 163.2 527.5 163.1 527.6 163.1 527.6 163.3 527.7 163.5 527.7 163.6 527.8 163.7 527.8 163.4 527.9 162.5 527.9 162.1 528.0 161.6 528.0 161.4 528.1 160.7 528.1 160.1 528.2 159.6 528.2 159.0 528.2 158.3 528.3 157.6 528.3 157.1 528.4 156.5 528.4 155.7 528.5 154.8 528.5 154.0 528.6 153.6 528.6 153.1 528.7 152.4 528.7 151.4 528.8 150.4 528.8 149.8 528.9 149.6 528.9 149.3 529.0 148.7 529.0 147.6 529.1 146.4 529.1 145.3 529.2 144.4 529.2 144.1 529.2 143.6 529.3 143.1 529.3 142.1 529.4 141.3 529.4 140.6 529.5 139.9 529.5 139.5 529.6 138.9 529.6 138.5 529.7 137.9 529.7 137.7 529.8 137.5 529.8 137.0 529.9 136.2 529.9 135.4 530.0 134.8 530.0 134.2 530.1 133.6 530.1 132.9 530.2 132.3 530.2 132.1 530.2 131.6 530.3 130.7 530.3 129.9 530.4 129.2 530.4 128.7 530.5 128.1 530.5 127.7 530.6 127.5 530.6 127.2 530.7 126.8 530.7 126.1 530.8 125.3 530.8 124.4 530.9 123.7 530.9 123.3 531.0 122.7 531.0 122.0 531.1 121.3 531.1 120.6 531.1 120.0 531.2 119.4 531.2 118.7 531.3 118.6 531.3 118.6 531.4 118.7 531.4 118.2 531.5 117.7 531.5 117.0 531.6 116.3 531.6 115.7 531.7 115.5 531.7 115.1 531.8 114.3 531.8 113.8 531.9 113.4 531.9 113.3 532.0 113.1 532.0 112.8 532.1 112.7 532.1 112.4 532.1 111.7 532.2 110.9 532.2 110.0 532.3 109.3 532.3 108.8 532.4 108.3 532.4 108.1 532.5 107.9 532.5 107.8 532.6 107.5 532.6 107.2 532.7 106.8 532.7 106.2 532.8 105.6 532.8 105.4 532.9 105.4 532.9 105.1 533.0 104.8 533.0 104.5 533.1 104.2 533.1 103.8 533.1 103.1 533.2 102.5 533.2 101.8 533.3 101.5 533.3 101.1 533.4 100.7 533.4 100.5 533.5 100.8 533.5 101.0 533.6 101.1 533.6 101.2 533.7 101.1 533.7 101.0 533.8 101.0 533.8 100.8 533.9 100.9 533.9 100.7 534.0 100.7 534.0 100.4 534.1 100.6 534.1 100.5 534.1 100.7 534.2 100.6 534.2 100.7 534.3 100.6 534.3 100.4 534.4 100.7 534.4 100.9 534.5 101.0 534.5 100.6 534.6 100.3 534.6 100.2 534.7 100.1 534.7 100.1 534.8 100.2 534.8 100.1 534.9 100.0 534.9 99.8 535.0 99.8 535.0 99.6 535.0 99.7 535.1 99.7 535.1 99.9 535.2 100.0 535.2 100.1 535.3 100.3 535.3 100.5 535.4 100.8 535.4 100.8 535.5 100.8 535.5 101.0 535.6 101.3 535.6 101.5 535.7 101.7 535.7 101.5 535.8 101.4 535.8 101.1 535.9 101.2 535.9 101.4 536.0 101.6 536.0 101.8 536.0 101.9 536.1 102.2 536.1 102.2 536.2 102.3 536.2 102.6 536.3 102.8 536.3 103.1 536.4 103.3 536.4 103.4 536.5 103.4 536.5 103.6 536.6 103.8 536.6 104.0 536.7 104.3 536.7 104.8 536.8 104.9 536.8 104.4 536.9 103.9 536.9 103.7 537.0 103.5 537.0 103.8 537.0 104.0 537.1 104.1 537.1 103.9 537.2 103.8 537.2 104.3 537.3 104.8 537.3 105.4 537.4 105.4 537.4 105.5 537.5 105.4 537.5 105.5 537.6 105.3 537.6 105.4 537.7 105.3 537.7 105.1 537.8 104.8 537.8 104.8 537.9 105.0 537.9 105.1 537.9 105.0 538.0 105.2 538.0 105.5 538.1 106.2 538.1 106.1 538.2 106.1 538.2 105.8 538.3 105.8 538.3 105.7 538.4 105.8 538.4 105.7 538.5 105.7 538.5 106.0 538.6 106.4 538.6 106.6 538.7 106.4 538.7 106.4 538.8 106.9 538.8 107.4 538.9 107.6 538.9 107.7 538.9 107.7 539.0 108.2 539.0 108.6 539.1 109.1 539.1 109.6 539.2 110.5 539.2 111.5 539.3 112.1 539.3 112.2 539.4 112.4 539.4 112.6 539.5 113.0 539.5 113.3 539.6 113.5 539.6 113.7 539.7 113.9 539.7 114.2 539.8 114.7 539.8 115.0 539.9 115.4 539.9 115.5 539.9 115.8 540.0 115.9 540.0 116.5 540.1 117.1 540.1 117.6 540.2 118.0 540.2 118.4 540.3 119.0 540.3 119.5 540.4 119.9 540.4 120.0 540.5 119.9 540.5 120.1 540.6 120.7 540.6 121.5 540.7 122.4 540.7 123.0 540.8 123.4 540.8 123.3 540.9 123.3 540.9 123.7 540.9 124.2 541.0 124.8 541.0 125.2 541.1 125.6 541.1 125.4 541.2 125.6 541.2 125.7 541.3 126.2 541.3 126.4 541.4 126.9 541.4 127.2 541.5 127.7 541.5 128.2 541.6 128.8 541.6 129.2 541.7 129.4 541.7 129.3 541.8 129.3 541.8 130.0 541.8 130.9 541.9 132.1 541.9 132.7 542.0 133.1 542.0 133.4 542.1 133.8 542.1 134.3 542.2 134.6 542.2 134.5 542.3 134.5 542.3 134.5 542.4 134.5 542.4 134.9 542.5 135.3 542.5 136.2 542.6 136.8 542.6 137.2 542.7 137.2 542.7 137.4 542.8 137.9 542.8 138.8 542.8 139.8 542.9 140.5 542.9 140.7 543.0 141.2 543.0 142.1 543.1 142.8 543.1 143.4 543.2 143.4 543.2 144.1 543.3 144.2 543.3 144.4 543.4 144.4 543.4 144.5 543.5 144.9 543.5 145.2 543.6 145.4 543.6 145.4 543.7 145.8 543.7 146.7 543.8 147.7 543.8 148.5 543.8 149.1 543.9 149.7 543.9 150.1 544.0 150.5 544.0 150.8 544.1 151.3 544.1 151.6 544.2 152.3 544.2 152.7 544.3 153.1 544.3 153.3 544.4 153.7 544.4 154.0 544.5 154.3 544.5 154.8 544.6 155.5 544.6 156.6 544.7 157.6 544.7 158.4 544.8 158.9 544.8 159.0 544.8 159.6 544.9 160.0 544.9 160.8 545.0 160.9 545.0 160.9 545.1 161.6 545.1 162.6 545.2 163.6 545.2 164.2 545.3 164.4 545.3 164.7 545.4 165.0 545.4 165.7 545.5 166.4 545.5 166.8 545.6 166.7 545.6 166.4 545.7 166.1 545.7 165.7 545.7 165.5 545.8 165.4 545.8 165.1 545.9 164.5 545.9 163.8 546.0 163.3 546.0 163.1 546.1 162.2 546.1 161.7 546.2 160.7 546.2 160.3 546.3 159.6 546.3 159.3 546.4 158.9 546.4 158.3 546.5 157.6 546.5 156.9 546.6 156.7 546.6 156.1 546.7 155.2 546.7 154.3 546.7 153.9 546.8 153.7 546.8 153.5 546.9 152.9 546.9 152.6 547.0 152.2 547.0 152.2 547.1 151.6 547.1 150.7 547.2 149.8 547.2 149.2 547.3 148.7 547.3 148.3 547.4 148.1 547.4 147.9 547.5 147.4 547.5 146.9 547.6 146.2 547.6 145.7 547.7 145.5 547.7 145.4 547.7 145.3 547.8 144.4 547.8 143.7 547.9 143.0 547.9 142.7 548.0 142.3 548.0 142.1 548.1 141.9 548.1 141.7 548.2 141.0 548.2 139.9 548.3 139.1 548.3 138.9 548.4 139.1 548.4 139.1 548.5 138.9 548.5 138.5 548.6 137.7 548.6 137.2 548.6 136.9 548.7 137.2 548.7 136.8 548.8 135.9 548.8 135.0 548.9 134.8 548.9 134.7 549.0 134.0 549.0 133.0 549.1 132.1 549.1 131.4 549.2 131.0 549.2 130.6 549.3 130.0 549.3 129.6 549.4 129.2 549.4 129.2 549.5 129.3 549.5 129.1 549.6 128.6 549.6 128.1 549.6 127.4 549.7 126.6 549.7 125.7 549.8 125.2 549.8 125.3 549.9 125.4 549.9 125.3 550.0 125.2 550.0 125.0 550.1 124.6 550.1 123.9 550.2 123.4 550.2 122.6 550.3 121.9 550.3 120.9 550.4 120.5 550.4 120.0 550.5 119.7 550.5 119.0 550.6 118.5 550.6 118.1 550.6 118.1 550.7 117.9 550.7 117.3 550.8 116.7 550.8 116.5 550.9 116.3 550.9 116.2 551.0 116.1 551.0 116.1 551.1 115.9 551.1 115.5 551.2 115.2 551.2 114.8 551.3 114.4 551.3 113.7 551.4 113.1 551.4 112.5 551.5 111.9 551.5 111.4 551.6 111.2 551.6 111.0 551.6 111.0 551.7 110.9 551.7 110.7 551.8 110.4 551.8 110.0 551.9 109.8 551.9 109.4 552.0 109.2 552.0 108.8 552.1 108.6 552.1 108.1 552.2 107.9 552.2 107.7 552.3 108.0 552.3 108.1 552.4 108.1 552.4 107.6 552.5 107.0 552.5 106.6 552.5 106.6 552.6 106.6 552.6 106.0 552.7 105.3 552.7 104.8 552.8 104.4 552.8 104.0 552.9 103.5 552.9 103.1 553.0 102.9 553.0 103.1 553.1 103.2 553.1 103.2 553.2 103.0 553.2 103.0 553.3 102.9 553.3 102.6 553.4 102.4 553.4 102.2 553.5 102.2 553.5 102.1 553.5 101.5 553.6 100.9 553.6 100.2 553.7 99.9 553.7 100.0 553.8 100.1 553.8 100.4 553.9 100.4 553.9 100.6 554.0 100.4 554.0 100.2 554.1 99.9 554.1 99.8 554.2 99.3 554.2 99.1 554.3 99.1 554.3 99.3 554.4 99.1 554.4 98.9 554.5 98.7 554.5 98.5 554.5 98.3 554.6 98.3 554.6 98.3 554.7 98.4 554.7 98.3 554.8 98.3 554.8 98.6 554.9 98.5 554.9 98.5 555.0 98.1 555.0 97.8 555.1 97.4 555.1 97.3 555.2 97.3 555.2 97.3 555.3 97.4 555.3 97.4 555.4 97.3 555.4 97.0 555.4 97.1 555.5 97.1 555.5 96.9 555.6 96.5 555.6 96.6 555.7 96.9 555.7 97.3 555.8 97.3 555.8 97.4 555.9 97.3 555.9 97.5 556.0 97.5 556.0 97.7 556.1 97.8 556.1 97.8 556.2 97.8 556.2 97.7 556.3 97.9 556.3 98.1 556.4 98.4 556.4 98.4 556.4 98.4 556.5 98.3 556.5 98.6 556.6 98.8 556.6 99.0 556.7 98.9 556.7 99.0 556.8 99.4 556.8 99.7 556.9 100.0 556.9 100.0 557.0 100.3 557.0 100.3 557.1 100.2 557.1 99.8 557.2 99.5 557.2 99.8 557.3 100.3 557.3 100.8 557.4 101.1 557.4 101.2 557.4 101.6 557.5 101.8 557.5 102.3 557.6 102.5 557.6 102.5 557.7 102.8 557.7 103.0 557.8 103.4 557.8 104.0 557.9 104.6 557.9 105.3 558.0 105.5 558.0 105.3 558.1 105.0 558.1 104.9 558.2 105.5 558.2 106.0 558.3 106.5 558.3 106.5 558.4 106.4 558.4 106.0 558.4 105.8 558.5 105.9 558.5 106.5 558.6 107.1 558.6 108.0 558.7 108.4 558.7 109.0 558.8 109.3 558.8 109.9 558.9 110.4 558.9 110.6 559.0 110.9 559.0 111.1 559.1 111.5 559.1 111.6 559.2 111.9 559.2 112.0 559.3 111.9 559.3 112.3 559.3 113.0 559.4 114.0 559.4 114.2 559.5 114.4 559.5 114.5 559.6 115.0 559.6 115.3 559.7 115.9 559.7 116.1 559.8 117.0 559.8 117.9 559.9 118.4 559.9 118.4 560.0 118.3 560.0 118.3 560.1 118.3 560.1 118.1 560.2 118.4 560.2 118.9 560.3 119.4 560.3 120.1 560.3 120.7 560.4 121.4 560.4 121.5 560.5 121.6 560.5 121.8 560.6 122.4 560.6 123.2 560.7 123.6 560.7 124.0 560.8 124.4 560.8 124.9 560.9 125.2 560.9 125.3 561.0 125.5 561.0 126.1 561.1 127.1 561.1 127.8 561.2 128.4 561.2 128.7 561.3 129.2 561.3 129.9 561.3 130.5 561.4 131.5 561.4 132.2 561.5 132.8 561.5 132.6 561.6 132.5 561.6 132.3 561.7 132.7 561.7 133.0 561.8 133.4 561.8 133.9 561.9 134.6 561.9 134.7 562.0 134.7 562.0 135.2 562.1 136.0 562.1 136.2 562.2 136.3 562.2 136.0 562.2 136.4 562.3 136.4 562.3 137.3 562.4 138.2 562.4 139.3 562.5 140.3 562.5 141.6 562.6 142.1 562.6 142.7 562.7 142.7 562.7 143.0 562.8 143.2 562.8 143.6 562.9 144.1 562.9 144.5 563.0 144.9 563.0 145.3 563.1 145.9 563.1 146.6 563.2 147.5 563.2 148.0 563.2 147.9 563.3 147.6 563.3 147.4 563.4 147.4 563.4 147.9 563.5 148.2 563.5 147.6 563.6 146.5 563.6 145.7 563.7 144.9 563.7 143.7 563.8 142.7 563.8 141.7 563.9 141.1 563.9 140.0 564.0 138.6 564.0 137.2 564.1 136.6 564.1 136.1 564.2 135.3 564.2 134.2 564.2 133.3 564.3 132.4 564.3 131.7 564.4 130.7 564.4 129.6 564.5 128.0 564.5 127.0 564.6 126.1 564.6 125.4 564.7 124.4 564.7 123.4 564.8 122.1 564.8 120.9 564.9 120.0 564.9 119.1 565.0 118.2 565.0 117.1 565.1 116.3 565.1 115.9 565.2 115.2 565.2 114.9 565.2 114.4 565.3 113.6 565.3 112.3 565.4 111.0 565.4 110.3 565.5 109.7 565.5 109.0 565.6 108.2 565.6 107.5 565.7 107.0 565.7 106.4 565.8 106.3 565.8 105.7 565.9 105.5 565.9 105.1 566.0 105.0 566.0 104.5 566.1 103.8 566.1 103.2 566.1 102.6 566.2 102.3 566.2 102.0 566.3 102.2 566.3 102.7 566.4 103.4 566.4 103.7 566.5 103.7" fill="none" stroke="#000" stroke-width="2.083" stroke-linejoin="round"/></g>
<path d="M84.5 356.5V48.5H570.5V356.5Z" fill="none" stroke="#000" stroke-width="1.111" stroke-linejoin="miter"/>
<path d="M84.5 356.5v4.861" stroke="#000" stroke-width="1.111"/>
<path d="M101.5 356.5v2.778" stroke="#000" stroke-width="0.833"/>
<path d="M119.5 356.5v2.778" stroke="#000" stroke-width="0.833"/>
<path d="M136.5 356.5v4.861" stroke="#000" stroke-width="1.111"/>
<path d="M153.5 356.5v2.778" stroke="#000" stroke-width="0.833"/>
<path d="M171.5 356.5v2.778" stroke="#000" stroke-width="0.833"/>
<path d="M188.5 356.5v4.861" stroke="#000" stroke-width="1.111"/>
<path d="M206.5 356.5v2.778" stroke="#000" stroke-width="0.833"/>
<path d="M223.5 356.5v2.778" stroke="#000" stroke-width="0.833"/>
<path d="M240.5 356.5v4.861" stroke="#000" stroke-width="1.111"/>
<path d="M258.5 356.5v2.778" stroke="#000" stroke-width="0.833"/>
<path d="M275.5 356.5v2.778" stroke="#000" stroke-width="0.833"/>
<path d="M292.5 356.5v4.861" stroke="#000" stroke-width="1.111"/>
<path d="M310.5 356.5v2.778" stroke="#000" stroke-width="0.833"/>
<path d="M327.5 356.5v2.778" stroke="#000" stroke-width="0.833"/>
<path d="M344.5 356.5v4.861" stroke="#000" stroke-width="1.111"/>
<path d="M362.5 356.5v2.778" stroke="#000" stroke-width="0.833"/>
<path d="M379.5 356.5v2.778" stroke="#000" stroke-width="0.833"/>
<path d="M396.5 356.5v4.861" stroke="#000" stroke-width="1.111"/>
<path d="M414.5 356.5v2.778" stroke="#000" stroke-width="0.833"/>
<path d="M431.5 356.5v2.778" stroke="#000" stroke-width="0.833"/>
<path d="M449.5 356.5v4.861" stroke="#000" stroke-width="1.111"/>
<path d="M466.5 356.5v2.778" stroke="#000" stroke-width="0.833"/>
<path d="M483.5 356.5v2.778" stroke="#000" stroke-width="0.833"/>
<path d="M501.5 356.5v4.861" stroke="#000" stroke-width="1.111"/>
<path d="M518.5 356.5v2.778" stroke="#000" stroke-width="0.833"/>
<path d="M535.5 356.5v2.778" stroke="#000" stroke-width="0.833"/>
<path d="M553.5 356.5v4.861" stroke="#000" stroke-width="1.111"/>
<path d="M570.5 356.5v2.778" stroke="#000" stroke-width="0.833"/>
<path d="M84.5 81.5h-4.861" stroke="#000" stroke-width="1.111"/>
<path d="M84.5 140.5h-4.861" stroke="#000" stroke-width="1.111"/>
<path d="M84.5 199.5h-4.861" stroke="#000" stroke-width="1.111"/>
<path d="M84.5 258.5h-4.861" stroke="#000" stroke-width="1.111"/>
<path d="M84.5 317.5h-4.861" stroke="#000" stroke-width="1.111"/>
<text x="84.02" y="377.31" font-size="13.889" text-anchor="middle">1998</text>
<text x="136.53" y="377.31" font-size="13.889" text-anchor="middle">2001</text>
<text x="188.59" y="377.31" font-size="13.889" text-anchor="middle">2004</text>
<text x="240.65" y="377.31" font-size="13.889" text-anchor="middle">2007</text>
<text x="292.66" y="377.31" font-size="13.889" text-anchor="middle">2010</text>
<text x="344.46" y="377.31" font-size="13.889" text-anchor="middle">2013</text>
<text x="396.57" y="377.31" font-size="13.889" text-anchor="middle">2016</text>
<text x="448.60" y="377.31" font-size="13.889" text-anchor="middle">2019</text>
<text x="500.40" y="377.31" font-size="13.889" text-anchor="middle">2022</text>
<text x="552.49" y="377.31" font-size="13.889" text-anchor="middle">2025</text>
<text x="73.98" y="323.24" font-size="13.889" text-anchor="end">360</text>
<text x="73.98" y="264.23" font-size="13.889" text-anchor="end">380</text>
<text x="73.63" y="205.23" font-size="13.889" text-anchor="end">400</text>
<text x="73.63" y="146.23" font-size="13.889" text-anchor="end">420</text>
<text x="73.63" y="87.22" font-size="13.889" text-anchor="end">440</text>
<text x="327.00" y="39.67" font-size="19.444" text-anchor="middle">Pallas - Sammaltunturi</text>
<g transform="translate(35.420 250.718) rotate(-90)"><text font-size="18.056" y="-0.174"><tspan x="0">C</tspan><tspan x="12.607">O</tspan><tspan x="26.992" y="2.789" font-size="12.639">2</tspan><tspan x="41.266" y="-0.174">[ppm]</tspan></text></g>
</svg></body></html>
